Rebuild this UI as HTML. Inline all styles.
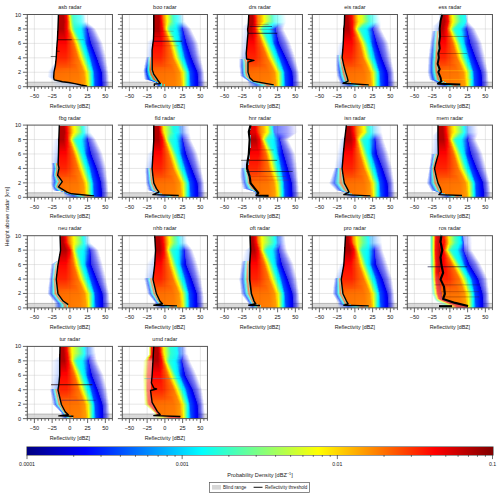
<!DOCTYPE html><html><head><meta charset="utf-8"><style>
html,body{margin:0;padding:0;background:#fff;}
#w{position:relative;width:500px;height:498px;overflow:hidden;background:#fff;font-family:"Liberation Sans",sans-serif;}
svg{position:absolute;left:0;top:0;}
.p{position:absolute;}.p i{display:block;height:1px;background:linear-gradient(90deg,var(--g))}
</style></head><body><div id="w">
<svg width="500" height="498" viewBox="0 0 500 498">
<path d="M34.40 14.50v72.20M52.14 14.50v72.20M69.88 14.50v72.20M87.61 14.50v72.20M105.35 14.50v72.20M27.30 72.26h85.15M27.30 57.82h85.15M27.30 43.38h85.15M27.30 28.94h85.15" stroke="#e6e6e6" stroke-width="0.6" fill="none"/>
<rect x="27.30" y="82.22" width="85.15" height="4.48" fill="#dadada"/>
<path d="M27.30 82.22h85.15" stroke="#aaa" stroke-width="0.8"/>
<path d="M129.40 14.50v72.20M147.14 14.50v72.20M164.88 14.50v72.20M182.61 14.50v72.20M200.35 14.50v72.20M122.30 72.26h85.15M122.30 57.82h85.15M122.30 43.38h85.15M122.30 28.94h85.15" stroke="#e6e6e6" stroke-width="0.6" fill="none"/>
<rect x="122.30" y="82.22" width="85.15" height="4.48" fill="#dadada"/>
<path d="M122.30 82.22h85.15" stroke="#aaa" stroke-width="0.8"/>
<path d="M224.40 14.50v72.20M242.14 14.50v72.20M259.88 14.50v72.20M277.61 14.50v72.20M295.35 14.50v72.20M217.30 72.26h85.15M217.30 57.82h85.15M217.30 43.38h85.15M217.30 28.94h85.15" stroke="#e6e6e6" stroke-width="0.6" fill="none"/>
<rect x="217.30" y="82.22" width="85.15" height="4.48" fill="#dadada"/>
<path d="M217.30 82.22h85.15" stroke="#aaa" stroke-width="0.8"/>
<path d="M319.40 14.50v72.20M337.14 14.50v72.20M354.88 14.50v72.20M372.61 14.50v72.20M390.35 14.50v72.20M312.30 72.26h85.15M312.30 57.82h85.15M312.30 43.38h85.15M312.30 28.94h85.15" stroke="#e6e6e6" stroke-width="0.6" fill="none"/>
<rect x="312.30" y="82.22" width="85.15" height="4.48" fill="#dadada"/>
<path d="M312.30 82.22h85.15" stroke="#aaa" stroke-width="0.8"/>
<path d="M414.40 14.50v72.20M432.14 14.50v72.20M449.88 14.50v72.20M467.61 14.50v72.20M485.35 14.50v72.20M407.30 72.26h85.15M407.30 57.82h85.15M407.30 43.38h85.15M407.30 28.94h85.15" stroke="#e6e6e6" stroke-width="0.6" fill="none"/>
<rect x="407.30" y="82.22" width="85.15" height="4.48" fill="#dadada"/>
<path d="M407.30 82.22h85.15" stroke="#aaa" stroke-width="0.8"/>
<path d="M34.40 125.10v72.20M52.14 125.10v72.20M69.88 125.10v72.20M87.61 125.10v72.20M105.35 125.10v72.20M27.30 182.86h85.15M27.30 168.42h85.15M27.30 153.98h85.15M27.30 139.54h85.15" stroke="#e6e6e6" stroke-width="0.6" fill="none"/>
<rect x="27.30" y="192.82" width="85.15" height="4.48" fill="#dadada"/>
<path d="M27.30 192.82h85.15" stroke="#aaa" stroke-width="0.8"/>
<path d="M129.40 125.10v72.20M147.14 125.10v72.20M164.88 125.10v72.20M182.61 125.10v72.20M200.35 125.10v72.20M122.30 182.86h85.15M122.30 168.42h85.15M122.30 153.98h85.15M122.30 139.54h85.15" stroke="#e6e6e6" stroke-width="0.6" fill="none"/>
<rect x="122.30" y="192.82" width="85.15" height="4.48" fill="#dadada"/>
<path d="M122.30 192.82h85.15" stroke="#aaa" stroke-width="0.8"/>
<path d="M224.40 125.10v72.20M242.14 125.10v72.20M259.88 125.10v72.20M277.61 125.10v72.20M295.35 125.10v72.20M217.30 182.86h85.15M217.30 168.42h85.15M217.30 153.98h85.15M217.30 139.54h85.15" stroke="#e6e6e6" stroke-width="0.6" fill="none"/>
<rect x="217.30" y="192.82" width="85.15" height="4.48" fill="#dadada"/>
<path d="M217.30 192.82h85.15" stroke="#aaa" stroke-width="0.8"/>
<path d="M319.40 125.10v72.20M337.14 125.10v72.20M354.88 125.10v72.20M372.61 125.10v72.20M390.35 125.10v72.20M312.30 182.86h85.15M312.30 168.42h85.15M312.30 153.98h85.15M312.30 139.54h85.15" stroke="#e6e6e6" stroke-width="0.6" fill="none"/>
<rect x="312.30" y="192.82" width="85.15" height="4.48" fill="#dadada"/>
<path d="M312.30 192.82h85.15" stroke="#aaa" stroke-width="0.8"/>
<path d="M414.40 125.10v72.20M432.14 125.10v72.20M449.88 125.10v72.20M467.61 125.10v72.20M485.35 125.10v72.20M407.30 182.86h85.15M407.30 168.42h85.15M407.30 153.98h85.15M407.30 139.54h85.15" stroke="#e6e6e6" stroke-width="0.6" fill="none"/>
<rect x="407.30" y="192.82" width="85.15" height="4.48" fill="#dadada"/>
<path d="M407.30 192.82h85.15" stroke="#aaa" stroke-width="0.8"/>
<path d="M34.40 235.70v72.20M52.14 235.70v72.20M69.88 235.70v72.20M87.61 235.70v72.20M105.35 235.70v72.20M27.30 293.46h85.15M27.30 279.02h85.15M27.30 264.58h85.15M27.30 250.14h85.15" stroke="#e6e6e6" stroke-width="0.6" fill="none"/>
<rect x="27.30" y="303.42" width="85.15" height="4.48" fill="#dadada"/>
<path d="M27.30 303.42h85.15" stroke="#aaa" stroke-width="0.8"/>
<path d="M129.40 235.70v72.20M147.14 235.70v72.20M164.88 235.70v72.20M182.61 235.70v72.20M200.35 235.70v72.20M122.30 293.46h85.15M122.30 279.02h85.15M122.30 264.58h85.15M122.30 250.14h85.15" stroke="#e6e6e6" stroke-width="0.6" fill="none"/>
<rect x="122.30" y="303.42" width="85.15" height="4.48" fill="#dadada"/>
<path d="M122.30 303.42h85.15" stroke="#aaa" stroke-width="0.8"/>
<path d="M224.40 235.70v72.20M242.14 235.70v72.20M259.88 235.70v72.20M277.61 235.70v72.20M295.35 235.70v72.20M217.30 293.46h85.15M217.30 279.02h85.15M217.30 264.58h85.15M217.30 250.14h85.15" stroke="#e6e6e6" stroke-width="0.6" fill="none"/>
<rect x="217.30" y="303.42" width="85.15" height="4.48" fill="#dadada"/>
<path d="M217.30 303.42h85.15" stroke="#aaa" stroke-width="0.8"/>
<path d="M319.40 235.70v72.20M337.14 235.70v72.20M354.88 235.70v72.20M372.61 235.70v72.20M390.35 235.70v72.20M312.30 293.46h85.15M312.30 279.02h85.15M312.30 264.58h85.15M312.30 250.14h85.15" stroke="#e6e6e6" stroke-width="0.6" fill="none"/>
<rect x="312.30" y="303.42" width="85.15" height="4.48" fill="#dadada"/>
<path d="M312.30 303.42h85.15" stroke="#aaa" stroke-width="0.8"/>
<path d="M414.40 235.70v72.20M432.14 235.70v72.20M449.88 235.70v72.20M467.61 235.70v72.20M485.35 235.70v72.20M407.30 293.46h85.15M407.30 279.02h85.15M407.30 264.58h85.15M407.30 250.14h85.15" stroke="#e6e6e6" stroke-width="0.6" fill="none"/>
<rect x="407.30" y="303.42" width="85.15" height="4.48" fill="#dadada"/>
<path d="M407.30 303.42h85.15" stroke="#aaa" stroke-width="0.8"/>
<path d="M34.40 346.40v72.20M52.14 346.40v72.20M69.88 346.40v72.20M87.61 346.40v72.20M105.35 346.40v72.20M27.30 404.16h85.15M27.30 389.72h85.15M27.30 375.28h85.15M27.30 360.84h85.15" stroke="#e6e6e6" stroke-width="0.6" fill="none"/>
<rect x="27.30" y="414.12" width="85.15" height="4.48" fill="#dadada"/>
<path d="M27.30 414.12h85.15" stroke="#aaa" stroke-width="0.8"/>
<path d="M129.40 346.40v72.20M147.14 346.40v72.20M164.88 346.40v72.20M182.61 346.40v72.20M200.35 346.40v72.20M122.30 404.16h85.15M122.30 389.72h85.15M122.30 375.28h85.15M122.30 360.84h85.15" stroke="#e6e6e6" stroke-width="0.6" fill="none"/>
<rect x="122.30" y="414.12" width="85.15" height="4.48" fill="#dadada"/>
<path d="M122.30 414.12h85.15" stroke="#aaa" stroke-width="0.8"/>
</svg>
<div class="p" style="left:27.30px;top:15px;width:85.15px">
<i style="--g:#0000 31px,#b30000 0,#b30000 36.3px,#ff0500 39.5px,#ff8000 41.3px,#ffff00 42.6px,#80ff80 44.4px,#2effd1e0 46.2px,#05fffa99 53.3px,#00f0ff59 56px,#00e5ff26 57.6px,#00b2ff14 58px,#0000 59.7px"></i>
<i style="--g:#0000 31px,#b30000 0,#b30000 36.4px,#ff0500 39.6px,#ff8000 41.4px,#ffff00 42.7px,#80ff80 44.5px,#2effd1e0 46.3px,#05fffa99 53.4px,#00f0ff59 56.3px,#00e5ff26 57.7px,#00b2ff14 58px,#0000 60px"></i>
<i style="--g:#0000 31px,#b30000 0,#b30000 36.5px,#ff0500 39.7px,#ff8000 41.5px,#ffff00 43px,#80ff80 44.6px,#2effd1e0 46.4px,#05fffa99 53.5px,#00f0ff59 56.4px,#00e5ff26 57.8px,#00b2ff14 58px,#0000 60px"></i>
<i style="--g:#0000 31px,#b30000 0,#b30000 36.6px,#ff0500 39.8px,#ff8000 41.5px,#ffff00 43px,#80ff80 44.7px,#2effd1e0 46.5px,#05fffa99 53.6px,#00f0ff59 56.5px,#00e5ff26 58px,#00b2ff14 58.2px,#0000 60px"></i>
<i style="--g:#0000 31px,#b30000 0,#b30000 36.7px,#ff0500 40px,#ff8000 41.6px,#ffff00 43px,#80ff80 45px,#2effd1e0 46.6px,#05fffa99 53.7px,#00f0ff59 56.5px,#00e5ff26 58px,#00b2ff14 58.3px,#0000 60px"></i>
<i style="--g:#0000 31px,#b30000 0,#b30000 36.8px,#ff0500 40px,#ff8000 41.7px,#ffff00 43px,#80ff80 45px,#2effd1e0 46.7px,#05fffa99 54px,#00f0ff59 56.6px,#00e5ff26 58px,#00b2ff14 58.4px,#0000 60px"></i>
<i style="--g:#0000 31px,#b30000 0,#b30000 37px,#ff0500 40px,#ff8000 42px,#ffff00 43.2px,#80ff80 45px,#2effd1e0 47px,#05fffa99 54px,#00f0ff59 56.7px,#00e5ff26 58px,#00b2ff14 58.5px,#0000 60.3px"></i>
<i style="--g:#0000 31px,#b30000 0,#b30000 37px,#ff0500 40px,#ff8000 42px,#ffff00 43.3px,#80ff80 45px,#2effd1e4 47px,#03fffca3 54px,#00ccff3b 58.4px,#009cff25 58.8px,#0000 61.2px"></i>
<i style="--g:#0000 31px,#b30000 0,#b30000 36.7px,#ff0500 40px,#ff8000 42px,#ffff00 43.4px,#80ff80 45.3px,#2effd1e8 47px,#00ffffaf 54px,#00ffffaf 0,#00acff55 58.7px,#0080ff3b 59px,#0000 62.4px"></i>
<i style="--g:#0000 31px,#b30000 0,#b30000 36.6px,#ff0500 40px,#ff8000 42px,#ffff00 43.5px,#80ff80 45.4px,#2effd1ec 47.2px,#00fcffbb 54px,#00c4ff8f 57px,#008bff70 59px,#0064ff51 59.4px,#0000 63.6px"></i>
<i style="--g:#0000 30.8px,#b30000 0,#b30000 36.5px,#ff0500 40px,#ff8000 42px,#ffff00 43.6px,#80ff80 45.5px,#2effd1f0 47.4px,#00f9ffc8 54px,#00b5ffa3 57px,#006bff8a 59.3px,#0048ff67 59.7px,#0000 64.8px"></i>
<i style="--g:#0000 30.7px,#b30000 0,#b30000 36.4px,#ff0500 40px,#ff8000 42px,#ffff00 43.7px,#80ff80 45.7px,#2effd1f5 47.5px,#00f7ffd4 54px,#00a5ffb6 57.2px,#004affa5 59.6px,#002bff7d 60px,#002bff47 62.8px,#0000 66px"></i>
<i style="--g:#0000 30.7px,#b30000 0,#b30000 36.3px,#ff0500 40px,#ff8000 42px,#ffff00 44px,#80ff80 45.8px,#2effd1f9 47.7px,#00f4ffe0 54.2px,#0096ffca 57.3px,#002affbf 60px,#000fff93 60.4px,#000fff54 63.5px,#0000 67px"></i>
<i style="--g:#0000 30.7px,#b30000 0,#b30000 36.2px,#ff0500 40px,#ff8000 42px,#ffff00 44px,#80ff80 46px,#2effd1fd 48px,#00fffff1 52.8px,#00f1ffed 54.3px,#0086ffdd 57.4px,#0009ffda 60px,#0000f2a9 60.7px,#0000f260 64.2px,#0000 68.3px"></i>
<i style="--g:#0000 30.6px,#b60000 0,#b60000 36.3px,#ff0700 40px,#ff7f00 42.4px,#ffff00 44.2px,#80ff80 46.2px,#2dffd2 48px,#00fffff6 52.7px,#00effff3 54.4px,#007effe6 57.6px,#0000f9e6 60.5px,#0000e6b3 61px,#0000e667 64.8px,#0000 69px"></i>
<i style="--g:#0000 30.6px,#bb0000 0,#bb0000 36.5px,#ff0b00 40.4px,#ff7d00 42.7px,#ffff00 44.6px,#80ff80 46.7px,#2cffd3 48.6px,#00fffff7 53px,#00ecfff4 54.7px,#0000f8e8 60.7px,#0000e6b5 61px,#0000e669 65px,#0000 69.6px"></i>
<i style="--g:#0000 30.5px,#c10000 0,#c10000 36.7px,#ff0000 40px,#ff0e00 40.5px,#ff7c00 43px,#ffff00 45px,#80ff80 47px,#2affd5 49px,#00fffff8 53px,#00eafff5 55px,#0000f6ea 61px,#0000e6b7 61.4px,#0000e66b 65.6px,#0000 70px"></i>
<i style="--g:#0000 30.5px,#c70000 0,#c70000 37px,#ff0000 39.8px,#ff1200 40.7px,#ff7a00 43.3px,#ffff00 45.5px,#80ff80 47.6px,#29ffd6 49.6px,#00fffff9 53px,#00e8fff5 55px,#0000f5ec 61px,#0000e6b9 61.7px,#0000e66c 66px,#0000 70.6px"></i>
<i style="--g:#0000 30.4px,#cc0000 0,#cc0000 37px,#ff0000 39.8px,#ff1500 41px,#ff7900 43.6px,#ffff00 46px,#80ff80 48px,#27ffd8 50px,#00fffffa 53.3px,#00e6fff6 55.4px,#0000ffee 61px,#0000f3ee 61.4px,#0000e6bb 62px,#0000e66e 66.4px,#0000 71px"></i>
<i style="--g:#0000 30.4px,#d20000 0,#d20000 37.3px,#ff0000 39.7px,#ff1900 41px,#ff7800 44px,#ffff00 46.3px,#80ff80 48.5px,#26ffd9 50.5px,#00fffffa 53.5px,#00e4fff7 55.6px,#006cffef 58.3px,#0000ffef 61.3px,#0000f2ef 61.7px,#0000e6bc 62px,#0000e670 66.8px,#0000 71.6px"></i>
<i style="--g:#0000 30.3px,#d80000 0,#d80000 37.5px,#ff0000 39.7px,#ff1c00 41.2px,#ff7600 44px,#ffff00 46.7px,#80ff80 49px,#25ffda 51px,#00fffffb 53.7px,#00e2fff8 56px,#0068fff1 58.4px,#0000fff1 61.5px,#0000f1f1 62px,#0000e6be 62.4px,#0000e672 67px,#0000 72px"></i>
<i style="--g:#0000 30.3px,#dd0000 0,#dd0000 37.7px,#ff0000 39.6px,#ff2000 41.4px,#ff7500 44.4px,#ffff00 47px,#80ff80 49.4px,#23ffdc 51.4px,#00fffffc 54px,#00e0fff9 56px,#0065fff3 58.6px,#0000fff3 61.7px,#0000eff3 62px,#0000e6c0 62.7px,#0000e673 67.5px,#0000 72.5px"></i>
<i style="--g:#0000 30.2px,#e30000 0,#e30000 38px,#ff0000 39.5px,#ff7300 44.7px,#ffff00 47.5px,#22ffdd 52px,#00fffffc 54px,#00defffa 56.4px,#0061fff5 58.7px,#0000fff5 62px,#0000eef5 62.4px,#0000e6c2 63px,#0000e675 68px,#0000 73px"></i>
<i style="--g:#0000 30px,#e90000 0,#e90000 38px,#ff0000 39.4px,#ff7200 45px,#ffff00 48px,#20ffdf 52.4px,#00fffffd 54.4px,#00dbfffb 56.6px,#005efff6 59px,#0000fff6 62px,#0000ecf6 62.7px,#0000e6c3 63px,#0000e677 68.3px,#0000 73.5px"></i>
<i style="--g:#0000 30px,#ee0000 0,#ee0000 38.3px,#ff0000 39.3px,#ff7100 45.3px,#ffff00 48.3px,#1fffe0 53px,#00fffffd 54.7px,#00d9fffc 57px,#005afff8 59px,#0000fff8 62.2px,#0000ebf8 63px,#0000e6c5 63.4px,#0000e679 68.7px,#0000 74px"></i>
<i style="--g:#0000 30px,#f40000 0,#f40000 38.5px,#ff0000 39px,#ff6f00 45.6px,#ffff00 48.7px,#1effe1 53.3px,#00fffffe 55px,#00d7fffc 57px,#0057fffa 59px,#0000fffa 62.4px,#0000eafa 63px,#0000e6c7 63.7px,#0000e67a 69px,#0000 74.5px"></i>
<i style="--g:#0000 30px,#f90000 0,#ff0000 39px,#ff6e00 46px,#ffff00 49px,#1cffe3 53.8px,#00fffffe 55.2px,#00d5fffd 57.4px,#0053fffc 59.3px,#0000fffc 62.5px,#0000e8fc 63.4px,#0000e6c9 64px,#0000e67c 69.5px,#0000 75px"></i>
<i style="--g:#0000 30px,#ff0000 0,#ff0000 39px,#ff6c00 46.2px,#ffff00 49.5px,#1bffe4 54.2px,#00ffff 55.5px,#00d3fffe 57.6px,#0050fffd 59.5px,#0000fffd 62.7px,#0000e7fd 63.6px,#0000e6ca 64px,#0000e67e 70px,#0000 75.5px"></i>
<i style="--g:#0000 29.8px,#ff0500 0,#ff0500 39px,#ff6b00 46.5px,#ffff00 50px,#1affe5 54.7px,#00ffff 56px,#00d1ff 58px,#004dff 59.6px,#0000ff 63px,#0000e6 64px,#0000e6cc 64.4px,#0000e680 70.3px,#0000 76px"></i>
<i style="--g:#0000 29.7px,#ff0700 0,#ff0700 39px,#ff6c00 47px,#ffff00 50.3px,#1affe5 55px,#00ffff 56px,#00d1ff 58px,#004dff 60px,#0000ff 63.2px,#0000e6 64.3px,#0000e6cc 64.8px,#0000e680 70.6px,#0000 76.2px"></i>
<i style="--g:#0000 29.6px,#ff0a00 0,#ff0a00 39px,#ff6d00 47px,#ffff00 50.6px,#1affe5 55.3px,#00ffff 56.4px,#00d1ff 58.5px,#004dff 60.2px,#0000ff 63.6px,#0000e6 64.7px,#0000e6cc 65px,#0000e680 71px,#0000 76.4px"></i>
<i style="--g:#0000 29.6px,#ff0c00 0,#ff0c00 39px,#ff6d00 47.4px,#ffff00 51px,#1affe5 55.6px,#00ffff 56.8px,#00d1ff 58.8px,#004dff 60.5px,#0000ff 64px,#0000e6 65px,#0000e6cc 65.6px,#0000e680 71px,#0000 76.7px"></i>
<i style="--g:#0000 29.5px,#ff0e00 0,#ff0e00 39px,#ff6e00 47.7px,#ffff00 51.2px,#1affe5 56px,#00ffff 57px,#00d1ff 59px,#004dff 61px,#0000ff 64.3px,#0000e6 65.5px,#0000e6cc 66px,#0000e680 71.5px,#0000 77px"></i>
<i style="--g:#0000 29.4px,#ff1000 0,#ff1000 39px,#ff6f00 48px,#ffff00 51.5px,#1affe5 56.3px,#00ffff 57.4px,#00d1ff 59.3px,#004dff 61px,#0000ff 64.7px,#0000e6 66px,#0000e6cc 66.4px,#0000e680 71.8px,#0000 77px"></i>
<i style="--g:#0000 29.4px,#ff1200 0,#ff1200 39px,#ff6f00 48.3px,#ffff00 52px,#1affe5 56.6px,#00ffff 57.7px,#00d1ff 59.6px,#004dff 61.4px,#0000ff 65px,#0000e6 66.3px,#0000e6cc 66.8px,#0000e680 72px,#0000 77.4px"></i>
<i style="--g:#0000 29.3px,#ff1400 0,#ff1400 39px,#ff7000 48.6px,#ffff00 52px,#1affe5 57px,#00ffff 58px,#00d1ff 60px,#004dff 61.7px,#0000ff 65.4px,#0000e6 66.7px,#0000e6cc 67px,#0000e680 72.3px,#0000 77.7px"></i>
<i style="--g:#0000 29.3px,#ff1600 0,#ff1600 39px,#ff7100 49px,#ffff00 52.5px,#1affe5 57.3px,#00ffff 58.3px,#00d1ff 60.2px,#004dff 62px,#0000ff 65.8px,#0000e6 67px,#0000e6cc 67.6px,#0000e680 72.6px,#0000 78px"></i>
<i style="--g:#0000 29.2px,#ff1800 0,#ff1800 39px,#ff7200 49px,#ffff00 53px,#1affe5 57.6px,#00ffff 58.6px,#00d1ff 60.5px,#004dff 62.3px,#0000ff 66px,#0000e6 67.4px,#0000e6cc 68px,#0000e680 73px,#0000 78px"></i>
<i style="--g:#0000 29px,#ff1b00 0,#ff1b00 39px,#ff7200 49.5px,#ffff00 53px,#1affe5 58px,#00ffff 59px,#00d1ff 61px,#004dff 62.6px,#0000ff 66.5px,#0000e6 68px,#0000e6cc 68.3px,#0000e680 73.2px,#0000 78.4px"></i>
<i style="--g:#0000 29px,#ff1d00 0,#ff1d00 39px,#ff7300 49.8px,#ffff00 53.4px,#1affe5 58.2px,#00ffff 59.3px,#00d1ff 61px,#004dff 63px,#0000ff 67px,#0000e6 68.2px,#0000e6cc 68.7px,#0000e680 73.5px,#0000 78.7px"></i>
<i style="--g:#0000 29px,#ff1f00 0,#ff1f00 39px,#ff7400 50px,#ffff00 53.8px,#1affe5 58.6px,#00ffff 59.6px,#00d1ff 61.4px,#004dff 63px,#0000ff 67.3px,#0000e6 68.6px,#0000e6cc 69px,#0000e680 74px,#0000 79px"></i>
<i style="--g:#0000 29px,#ff2100 0,#ff2100 39px,#ff7400 50.3px,#ffff00 54px,#1affe5 59px,#00ffff 60px,#00d1ff 61.7px,#004dff 63.5px,#0000ff 67.6px,#0000e6 69px,#0000e6cc 69.5px,#0000e680 74px,#0000 79px"></i>
<i style="--g:#0000 29px,#ff2300 0,#ff2300 39px,#ff7500 50.6px,#ffff00 54.4px,#1affe5 59.2px,#00ffff 60.2px,#00d1ff 62px,#004dff 63.8px,#0000ff 68px,#0000e6 69.4px,#0000e6cc 70px,#0000e680 74.4px,#0000 79.4px"></i>
<i style="--g:#0000 29px,#ff2700 0,#ff2700 39px,#ff7700 51px,#ffff00 54.8px,#1affe5 59.6px,#00ffff 60.5px,#00d1ff 62.3px,#004dff 64px,#0000ff 68.3px,#0000e6 69.8px,#0000e6cc 70.3px,#0000e680 74.7px,#0000 79.6px"></i>
<i style="--g:#0000 28.7px,#ff2c00 0,#ff2c00 39px,#ff7900 51.4px,#ffff00 55px,#1affe5 60px,#00ffff 61px,#00d1ff 62.5px,#004dff 64.3px,#0000ff 68.7px,#0000e6 70px,#0000e6cc 70.6px,#0000e680 75px,#0000 79.7px"></i>
<i style="--g:#0000 28.6px,#ff3100 0,#ff3100 39px,#ff7b00 52px,#ffff00 55.5px,#1affe5 60.3px,#00ffff 61px,#00d1ff 63px,#004dff 64.5px,#0000ff 69px,#0000e6 70.5px,#0000e6cc 71px,#0000e680 75px,#0000 80px"></i>
<i style="--g:#0000 28.5px,#ff3600 0,#ff3600 39px,#ff7d00 52.3px,#ffff00 56px,#1affe5 60.7px,#00ffff 61.5px,#00d1ff 63px,#004dff 64.8px,#0000ff 69.3px,#0000e6 71px,#0000e6cc 71.3px,#0000e680 75.4px,#0000 80px"></i>
<i style="--g:#0000 28.4px,#ff3b00 0,#ff3b00 39px,#ff7f00 52.7px,#ffff00 56.3px,#80ff80 58.8px,#00ffff 62px,#00d1ff 63.4px,#004dff 65px,#0000ff 69.6px,#0000e6 71px,#0000e6cc 71.6px,#0000e680 75.7px,#0000 80px"></i>
<i style="--g:#0000 28px,#0000 0,#004dff2d 28.3px,#ff4000 0,#ff4000 39px,#ff8100 53px,#ffff00 56.7px,#80ff80 59px,#00ffff 62px,#00d1ff 63.6px,#004dff 65.3px,#0000ff 70px,#0000e6 71.5px,#0000e6cc 72px,#0000e680 76px,#0000 80.3px"></i>
<i style="--g:#0000 26.7px,#0000 0,#004dff3c 28px,#ff4500 0,#ff4500 39px,#ff5f00 47.7px,#ff8300 53.5px,#ffff00 57px,#80ff80 59.5px,#00ffff 62.5px,#00d1ff 64px,#004dff 65.5px,#0000ff 70.3px,#0000e6 72px,#0000e6cc 72.3px,#0000e680 76px,#0000 80.5px"></i>
<i style="--g:#0000 25.6px,#0000 0,#004dff4b 28px,#ff4a00 0,#ff4a00 39px,#ff6200 48px,#ff8600 54px,#ffff00 57.5px,#80ff80 60px,#00ffff 63px,#00d1ff 64px,#004dff 65.7px,#0000ff 70.6px,#0000e6 72px,#0000e6cc 72.7px,#0000e680 76.4px,#0000 80.6px"></i>
<i style="--g:#0000 24.7px,#0000 0,#004dff4d 28px,#ff4f00 0,#ff4f00 39px,#ff6500 48.5px,#ff8800 54.4px,#ffff00 58px,#80ff80 60.3px,#00ffff 63px,#00d1ff 64.4px,#004dff 66px,#0000ff 71px,#0000e6 72.5px,#0000e6cc 73px,#0000e680 76.6px,#0000 80.8px"></i>
<i style="--g:#0000 24px,#0000 0,#004dff4f 27.7px,#ff5400 0,#ff5400 39px,#ff6800 49px,#ff8a00 54.8px,#ffff00 58.3px,#80ff80 60.6px,#00ffff 63.5px,#00d1ff 64.7px,#004dff 66.2px,#0000ff 71.2px,#0000e6 73px,#0000e6cc 73.4px,#0000e680 77px,#0000 81px"></i>
<i style="--g:#0000 23px,#0000 0,#004dff50 27.5px,#ff5900 0,#ff6b00 49.4px,#ff8c00 55px,#ffff00 58.7px,#80ff80 61px,#00ffff 64px,#00d1ff 65px,#004dff 66.5px,#0000ff 71.5px,#0000e6 73.2px,#0000e6cc 73.7px,#0000e680 77px,#0000 81px"></i>
<i style="--g:#0000 22.3px,#0000 0,#004dff51 27.3px,#ff5d00 0,#ff6e00 50px,#ff8e00 55.6px,#ffff00 59px,#80ff80 61.4px,#00ffff 64px,#00d1ff 65.2px,#004dff 66.7px,#0000ff 72px,#0000e6 73.6px,#0000e6cc 74px,#0000e680 77.4px,#0000 81px"></i>
<i style="--g:#0000 21.4px,#0000 0,#004dff52 27px,#ff6200 0,#ff7000 50.3px,#ff9000 56px,#ffff00 59.5px,#80ff80 61.8px,#00ffff 64.5px,#00d1ff 65.5px,#004dff 67px,#0000ff 72px,#0000e6 74px,#0000e6cc 74.4px,#0000e680 77.6px,#0000 81.3px"></i>
<i style="--g:#0000 21px,#0000 0,#004dff53 27px,#ff6700 0,#ff7300 50.8px,#ff9200 56.4px,#ffff00 60px,#00ffff 65px,#00d1ff 65.8px,#004dff 67.2px,#0000ff 72.5px,#0000e6 74.2px,#0000e6cc 74.7px,#0000e680 78px,#0000 81.5px"></i>
<i style="--g:#0000 21px,#0000 0,#004dff54 26.7px,#ff6b00 0,#ff7600 51px,#ff9400 56.8px,#ffff00 60px,#00ffff 65px,#00d1ff 66px,#004dff 67.4px,#0000ff 72.7px,#0000e6 74.5px,#0000e6cc 75px,#0000e680 78px,#0000 81.6px"></i>
<i style="--g:#0000 21px,#0000 0,#004dff55 26.6px,#ff6c00 0,#ff7600 51.3px,#ff9500 57px,#ffff00 60.2px,#00ffff 65px,#00d1ff 66px,#004dff 67.5px,#0000ff 73px,#0000e6 74.6px,#0000e6cc 75px,#0000e680 78px,#0000 81.7px"></i>
<i style="--g:#0000 20.7px,#0000 0,#004dff56 26.6px,#ff6d00 0,#ff7700 51.4px,#ff9600 57px,#ffff00 60.3px,#00ffff 65px,#00d1ff 66px,#004dff 67.6px,#0000ff 73px,#0000e6 74.7px,#0000e6cc 75px,#0000e680 78.2px,#0000 81.7px"></i>
<i style="--g:#0000 20.5px,#0000 0,#004dff57 26.5px,#ff6e00 0,#ff7800 51.5px,#ff9700 57px,#ffff00 60.4px,#00ffff 65px,#00d1ff 66px,#004dff 67.6px,#0000ff 73px,#0000e6 74.7px,#0000e6cc 75.2px,#0000e680 78.3px,#0000 82px"></i>
<i style="--g:#0000 20.4px,#0000 0,#004dff58 26.4px,#ff6f00 0,#ff7900 51.6px,#ff9800 57.3px,#ffff00 60.4px,#00ffff 65.2px,#00d1ff 66px,#004dff 67.7px,#0000ff 73px,#0000e6 74.8px,#0000e6cc 75.3px,#0000e680 78.3px,#0000 82px"></i>
<i style="--g:#0000 21.4px,#0000 0,#004dff59 26.4px,#ff7000 0,#ff7a00 51.8px,#ff9900 57.5px,#ffff00 60.5px,#00ffff 65.3px,#00d1ff 66px,#004dff 67.8px,#0000ff 73px,#0000e6 75px,#0000e6cc 75.3px,#0000e680 78.4px,#0000 82px"></i>
<i style="--g:#0000 23px,#0000 0,#004dff4c 26.6px,#ff7100 0,#ff7b00 52px,#ff9a00 57.6px,#ffff00 60.6px,#00ffff 65.3px,#00d1ff 66px,#004dff 68px,#0000ff 73px,#0000e6 75px,#0000e6cc 75.4px,#0000e680 78.5px,#0000 82px"></i>
<i style="--g:#0000 24.4px,#0000 0,#004dff3e 26.8px,#ff7200 0,#ff7c00 52px,#ff9b00 57.7px,#ffff00 60.6px,#00ffff 65.3px,#00d1ff 66.2px,#004dff 68px,#0000ff 73.2px,#0000e6 75px,#0000e6cc 75.5px,#0000e680 78.5px,#0000 82px"></i>
<i style="--g:#0000 25.5px,#0000 0,#004dff33 29.6px,#ff7300 0,#ff7d00 52px,#ff9c00 58px,#ffff00 60.7px,#00ffff 65.3px,#00d1ff 66.3px,#004dff 68px,#0000ff 73.3px,#0000e6 75px,#0000e6cc 75.5px,#0000e680 78.6px,#0000 82px"></i>
<i style="--g:#0000 25.5px,#0000 0,#004dff33 34px,#ff7400 0,#ff7e00 52.3px,#ff9d00 58px,#ffff00 60.8px,#00ffff 65.4px,#00d1ff 66.3px,#004dff 68px,#0000ff 73.3px,#0000e6 75px,#0000e6cc 75.6px,#0000e680 78.7px,#0000 82.2px"></i>
<i style="--g:#0000 25.5px,#0000 0,#004dff33 41.6px,#ff7700 0,#ff7f00 52.4px,#ff9e00 58px,#ffff00 61px,#00ffff 65.4px,#00d1ff 66.3px,#004dff 68px,#0000ff 73.4px,#0000e6 75px,#0000e6cc 75.7px,#0000e680 78.7px,#0000 82.3px"></i>
<i style="--g:#0000 25.5px,#0000 0,#004dff33 46.7px,#ff7b00 0,#ff8000 52.5px,#ff9e00 58px,#ffff00 61px,#00ffff 65.4px,#00d1ff 66.3px,#004dff 68px,#0000ff 73.4px,#0000e6 75.2px,#0000e6cc 75.7px,#0000e680 78.8px,#0000 82.3px"></i>
<i style="--g:#0000 25.5px,#0000 0,#004dff33 51.3px,#ff7f00 0,#ff9e00 58px,#ffff00 61px,#00ffff 65.4px,#00d1ff 66.3px,#004dff 68px,#0000ff 73.4px,#0000e6 75.2px,#0000e6cc 75.7px,#0000e680 78.8px,#0000 82.3px"></i>
<i style="--g:#0000 25.5px,#0000 0,#004dff33 56.5px,#ff9500 0,#ff9e00 58px,#ffff00 61px,#00ffff 65.4px,#00d1ff 66.3px,#004dff 68px,#0000ff 73.4px,#0000e6 75.2px,#0000e6cc 75.7px,#0000e680 78.8px,#0000 82.3px"></i>
<i style="--g:#0000 25.5px,#0000 0,#004dff33 60px,#ffdc00 0,#ffff00 61px,#00ffff 65.4px,#00d1ff 66.3px,#004dff 68px,#0000ff 73.4px,#0000e6 75.2px,#0000e6cc 75.7px,#0000e680 78.8px,#0000 82.3px"></i>
</div>
<div class="p" style="left:122.30px;top:15px;width:85.15px">
<i style="--g:#0000 31.5px,#b30000 0,#b30000 36.7px,#ff0000 39px,#ff8000 41.4px,#ffff00 45px,#80ff80 48.8px,#2effd1e6 51px,#00ffffab 55px,#00d1ff66 58.3px,#00b2ff26 60.4px,#0000 62.5px"></i>
<i style="--g:#0000 31.5px,#b30000 0,#b30000 37px,#ff0000 39px,#ff8000 41.5px,#ffff00 45px,#80ff80 49px,#2effd1e6 51.3px,#00ffffab 55.3px,#00d1ff66 58.4px,#00b2ff26 60.5px,#0000 62.6px"></i>
<i style="--g:#0000 31.5px,#b30000 0,#b30000 37px,#ff0000 39px,#ff8000 41.6px,#ffff00 45px,#80ff80 49px,#2effd1e6 51.4px,#00ffffab 55.4px,#00d1ff66 58.5px,#00b2ff26 60.6px,#0000 62.7px"></i>
<i style="--g:#0000 31.5px,#b30000 0,#b30000 37px,#ff0000 39px,#ff8000 41.7px,#ffff00 45px,#80ff80 49px,#2effd1e6 51.5px,#00ffffab 55.4px,#00d1ff66 58.6px,#00b2ff26 60.7px,#0000 63px"></i>
<i style="--g:#0000 31.5px,#b30000 0,#b30000 37px,#ff0000 39.2px,#ff8000 41.8px,#ffff00 45.2px,#80ff80 49px,#2effd1e6 51.6px,#00ffffab 55.5px,#00d1ff66 58.7px,#00b2ff26 61px,#0000 63px"></i>
<i style="--g:#0000 31.5px,#b30000 0,#b30000 37.2px,#ff0000 39.3px,#ff8000 42px,#ffff00 45.3px,#80ff80 49.3px,#2effd1e6 51.7px,#00ffffab 55.6px,#00d1ff66 58.8px,#00b2ff26 61px,#0000 63px"></i>
<i style="--g:#0000 31.5px,#b30000 0,#b30000 37.3px,#ff0000 39.4px,#ff8000 42px,#ffff00 45.4px,#80ff80 49.4px,#2effd1e6 51.8px,#00ffffab 55.7px,#00d1ff66 59px,#00b2ff26 61px,#0000 63px"></i>
<i style="--g:#0000 31.5px,#b30000 0,#b30000 37.2px,#ff0000 39.5px,#ff8000 42px,#ffff00 45.3px,#77ff88 49.3px,#27ffd8e7 52px,#00ffffc1 55px,#00baff74 59px,#009cff35 61px,#0000 64px"></i>
<i style="--g:#0000 31.5px,#b30000 0,#b30000 37px,#ff0000 39.6px,#ffff00 45px,#6bff94 49px,#00ffffd3 54.4px,#009cff85 59.3px,#0080ff49 61px,#0000 64.6px"></i>
<i style="--g:#0000 31.5px,#b30000 0,#b30000 37px,#ff0000 39.7px,#ffff00 45px,#60ff9f 49px,#00ffffdf 54px,#007fff97 59.6px,#0064ff5c 61px,#0000 65.5px"></i>
<i style="--g:#0000 31.5px,#b30000 0,#b30000 37px,#ff0500 40px,#ffff00 44.8px,#a6ff59 46.6px,#55ffaa 48.8px,#00ffffe7 54px,#00bfffcd 56.7px,#0061ffa9 60px,#0048ff70 61px,#0048ff3b 63.5px,#0000 66.3px"></i>
<i style="--g:#0000 31.5px,#b30000 0,#b30000 37px,#ff0500 40px,#ffff00 44.6px,#9bff64 46.5px,#49ffb6 48.6px,#00ffffec 54px,#00acffd4 57px,#0043ffba 60px,#002bff83 61px,#002bff48 64px,#0000 67px"></i>
<i style="--g:#0000 31.5px,#b30000 0,#b30000 36.7px,#ff0500 40.3px,#fffe00 44.5px,#ffff00 0,#90ff6f 46.4px,#3effc1 48.5px,#00fcfff0 54px,#009affdb 57.3px,#0026ffcc 60.3px,#000fff97 61px,#000fff54 64.3px,#0000 68px"></i>
<i style="--g:#0000 31.5px,#b30000 0,#b30000 36.6px,#ff0500 40.4px,#ff8000 42.5px,#ffff00 44.4px,#fcff03 0,#84ff7b 46.4px,#33ffcc 48.3px,#00f3fff1 54.5px,#0088ffe2 57.7px,#0008ffde 60.6px,#0000f2aa 61px,#0000f261 64.7px,#0000 69px"></i>
<i style="--g:#0000 31.5px,#b60000 0,#b60000 36.7px,#ff0700 40.5px,#ff7f00 42.7px,#ffff00 44.6px,#80ff80 46.6px,#2dffd2 48.5px,#00fffff6 53px,#00effff3 54.8px,#007effe6 58px,#0000f9e6 61px,#0000e6b3 61.3px,#0000e667 65px,#0000 69.5px"></i>
<i style="--g:#0000 31.5px,#bb0000 0,#bb0000 37px,#ff0b00 40.7px,#ff7d00 43px,#ffff00 45px,#80ff80 47px,#2cffd3 49px,#00fffff7 53.2px,#00ecfff4 55px,#0000f8e8 61px,#0000e6b5 61.6px,#0000e669 65.6px,#0000 70px"></i>
<i style="--g:#0000 31.4px,#c10000 0,#c10000 37px,#ff0000 40px,#ff0e00 41px,#ff7c00 43.4px,#ffff00 45.4px,#80ff80 47.5px,#2affd5 49.5px,#00fffff8 53.4px,#00eafff5 55.3px,#0000f6ea 61.3px,#0000e6b7 62px,#0000e66b 66px,#0000 70.5px"></i>
<i style="--g:#0000 31.4px,#c70000 0,#c70000 37.3px,#ff0000 40px,#ff1200 41px,#ff7a00 43.7px,#ffff00 46px,#80ff80 48px,#29ffd6 50px,#00fffff9 53.5px,#00e8fff5 55.5px,#0000f5ec 61.6px,#0000e6b9 62px,#0000e66c 66.4px,#0000 71px"></i>
<i style="--g:#0000 31.4px,#cc0000 0,#cc0000 37.5px,#ff0000 40px,#ff1500 41.3px,#ff7900 44px,#ffff00 46.3px,#80ff80 48.4px,#27ffd8 50.4px,#00fffffa 53.7px,#00e6fff6 56px,#0000ffee 61.5px,#0000f3ee 62px,#0000e6bb 62.3px,#0000e66e 66.8px,#0000 71.5px"></i>
<i style="--g:#0000 31.3px,#d20000 0,#d20000 37.7px,#ff0000 40px,#ff1900 41.5px,#ff7800 44.3px,#ffff00 46.7px,#80ff80 49px,#26ffd9 51px,#00fffffa 54px,#00e4fff7 56px,#006cffef 58.7px,#0000ffef 61.7px,#0000f2ef 62px,#0000e6bc 62.6px,#0000e670 67px,#0000 72px"></i>
<i style="--g:#0000 31.3px,#d80000 0,#d80000 38px,#ff0000 40px,#ff1c00 41.6px,#ff7600 44.6px,#ffff00 47px,#80ff80 49.4px,#25ffda 51.4px,#00fffffb 54px,#00e2fff8 56.3px,#0068fff1 59px,#0000fff1 62px,#0000f1f1 62.3px,#0000e6be 63px,#0000e672 67.6px,#0000 72.5px"></i>
<i style="--g:#0000 31.3px,#dd0000 0,#dd0000 38px,#ff0000 40px,#ff2000 42px,#ff7500 45px,#ffff00 47.5px,#80ff80 50px,#23ffdc 52px,#00fffffc 54.4px,#00e0fff9 56.6px,#0065fff3 59px,#0000fff3 62px,#0000eff3 62.6px,#0000e6c0 63px,#0000e673 68px,#0000 73px"></i>
<i style="--g:#0000 31.2px,#e30000 0,#e30000 38.3px,#ff0000 40px,#ff7300 45px,#ffff00 48px,#22ffdd 52.3px,#00fffffc 54.6px,#00defffa 57px,#0061fff5 59px,#0000fff5 62.3px,#0000eef5 63px,#0000e6c2 63.4px,#0000e675 68.4px,#0000 73.5px"></i>
<i style="--g:#0000 30.7px,#0000 0,#004dff27 31.2px,#e90000 0,#e90000 38.5px,#ff0000 40px,#ff7200 45.5px,#ffff00 48.4px,#20ffdf 53px,#00fffffd 55px,#00dbfffb 57px,#005efff6 59.3px,#0000fff6 62.5px,#0000ecf6 63px,#0000e6c3 63.6px,#0000e677 68.8px,#0000 74px"></i>
<i style="--g:#0000 28.7px,#0000 0,#004dff29 31px,#ee0000 0,#ee0000 38.7px,#ff0000 39.8px,#ff7100 45.8px,#ffff00 48.8px,#1fffe0 53.3px,#00fffffd 55px,#00d9fffc 57.3px,#005afff8 59.5px,#0000fff8 62.7px,#0000ebf8 63.4px,#0000e6c5 64px,#0000e679 69px,#0000 74.5px"></i>
<i style="--g:#0000 26.7px,#0000 0,#004dff2b 31px,#f40000 0,#f40000 39px,#ff0000 39.6px,#ff6f00 46px,#ffff00 49px,#1effe1 53.8px,#00fffffe 55.4px,#00d7fffc 57.6px,#0057fffa 59.6px,#0000fffa 63px,#0000eafa 63.6px,#0000e6c7 64px,#0000e67a 69.6px,#0000 75px"></i>
<i style="--g:#0000 24.7px,#0000 0,#004dff2d 31px,#f90000 0,#ff0000 39.5px,#ff6e00 46.4px,#ffff00 49.6px,#1cffe3 54.2px,#00fffffe 55.7px,#00d5fffd 58px,#0053fffc 60px,#0000fffc 63px,#0000e8fc 64px,#0000e6c9 64.4px,#0000e67c 70px,#0000 75.5px"></i>
<i style="--g:#0000 24.6px,#0000 0,#004dff2f 30.7px,#ff0000 0,#ff0000 39.3px,#ff6c00 46.7px,#ffff00 50px,#1bffe4 54.7px,#00ffff 56px,#00d3fffe 58px,#0050fffd 60px,#0000fffd 63px,#0000e7fd 64px,#0000e6ca 64.6px,#0000e67e 70.4px,#0000 76px"></i>
<i style="--g:#0000 24.5px,#0000 0,#004dff31 30.6px,#ff0500 0,#ff0500 39.5px,#ff6b00 47px,#ffff00 50.4px,#1affe5 55px,#00ffff 56.3px,#00d1ff 58.4px,#004dff 60px,#0000ff 63.3px,#0000e6 64.4px,#0000e6cc 65px,#0000e680 70.8px,#0000 76.4px"></i>
<i style="--g:#0000 24.5px,#0000 0,#004dff33 30.5px,#ff0700 0,#ff0700 39.5px,#ff6c00 47.2px,#ffff00 50.7px,#1affe5 55.4px,#00ffff 56.6px,#00d1ff 58.6px,#004dff 60.4px,#0000ff 63.6px,#0000e6 64.7px,#0000e6cc 65.2px,#0000e680 71px,#0000 76.6px"></i>
<i style="--g:#0000 24.4px,#0000 0,#004dff35 30.4px,#ff0a00 0,#ff0a00 39.4px,#ff6d00 47.5px,#ffff00 51px,#1affe5 55.7px,#00ffff 57px,#00d1ff 59px,#004dff 60.6px,#0000ff 64px,#0000e6 65px,#0000e6cc 65.6px,#0000e680 71.2px,#0000 77px"></i>
<i style="--g:#0000 24.4px,#0000 0,#004dff37 30.2px,#ff0c00 0,#ff0c00 39.3px,#ff6d00 47.7px,#ffff00 51.2px,#1affe5 56px,#00ffff 57px,#00d1ff 59px,#004dff 61px,#0000ff 64.3px,#0000e6 65.4px,#0000e6cc 66px,#0000e680 71.5px,#0000 77px"></i>
<i style="--g:#0000 24.3px,#0000 0,#004dff39 30px,#ff0e00 0,#ff0e00 39.3px,#ff6e00 48px,#ffff00 51.5px,#1affe5 56.2px,#00ffff 57.3px,#00d1ff 59.3px,#004dff 61px,#0000ff 64.6px,#0000e6 65.7px,#0000e6cc 66.2px,#0000e680 71.7px,#0000 77px"></i>
<i style="--g:#0000 24.3px,#0000 0,#004dff3b 30px,#ff1000 0,#ff1000 39.2px,#ff6f00 48px,#ffff00 51.7px,#1affe5 56.5px,#00ffff 57.6px,#00d1ff 59.5px,#004dff 61.3px,#0000ff 65px,#0000e6 66px,#0000e6cc 66.6px,#0000e680 72px,#0000 77.4px"></i>
<i style="--g:#0000 24px,#0000 0,#004dff3d 30px,#ff1200 0,#ff1200 39px,#ff6f00 48.4px,#ffff00 52px,#1affe5 56.8px,#00ffff 58px,#00d1ff 59.8px,#004dff 61.5px,#0000ff 65px,#0000e6 66.4px,#0000e6cc 67px,#0000e680 72px,#0000 77.6px"></i>
<i style="--g:#0000 24px,#0000 0,#004dff3f 29.8px,#ff1400 0,#ff1400 39px,#ff7000 48.7px,#ffff00 52.2px,#1affe5 57px,#00ffff 58px,#00d1ff 60px,#004dff 61.8px,#0000ff 65.5px,#0000e6 66.7px,#0000e6cc 67.2px,#0000e680 72.4px,#0000 77.8px"></i>
<i style="--g:#0000 24px,#0000 0,#004dff41 29.8px,#ff1600 0,#ff1600 39px,#ff7100 49px,#ffff00 52.5px,#1affe5 57.3px,#00ffff 58.3px,#00d1ff 60.2px,#004dff 62px,#0000ff 66px,#0000e6 67px,#0000e6cc 67.6px,#0000e680 72.7px,#0000 78px"></i>
<i style="--g:#0000 24px,#0000 0,#004dff43 29.8px,#ff1800 0,#ff1800 39px,#ff7200 49px,#ffff00 52.8px,#1affe5 57.6px,#00ffff 58.6px,#00d1ff 60.5px,#004dff 62.3px,#0000ff 66px,#0000e6 67.4px,#0000e6cc 68px,#0000e680 73px,#0000 78px"></i>
<i style="--g:#0000 24px,#0000 0,#004dff45 29.8px,#ff1b00 0,#ff1b00 39px,#ff7200 49.4px,#ffff00 53px,#1affe5 58px,#00ffff 59px,#00d1ff 60.7px,#004dff 62.5px,#0000ff 66.4px,#0000e6 67.7px,#0000e6cc 68.2px,#0000e680 73px,#0000 78.3px"></i>
<i style="--g:#0000 24px,#0000 0,#004dff47 29.8px,#ff1d00 0,#ff1d00 39px,#ff7300 49.6px,#ffff00 53.3px,#1affe5 58px,#00ffff 59px,#00d1ff 61px,#004dff 62.7px,#0000ff 66.7px,#0000e6 68px,#0000e6cc 68.6px,#0000e680 73.4px,#0000 78.5px"></i>
<i style="--g:#0000 24px,#0000 0,#004dff49 29.8px,#ff1f00 0,#ff1f00 39px,#ff7400 50px,#ffff00 53.5px,#1affe5 58.4px,#00ffff 59.4px,#00d1ff 61px,#004dff 63px,#0000ff 67px,#0000e6 68.4px,#0000e6cc 69px,#0000e680 73.6px,#0000 78.7px"></i>
<i style="--g:#0000 24px,#0000 0,#004dff4b 29.8px,#ff2100 0,#ff2100 38.8px,#ff7400 50px,#ffff00 54px,#1affe5 58.6px,#00ffff 59.6px,#00d1ff 61.4px,#004dff 63px,#0000ff 67.4px,#0000e6 68.7px,#0000e6cc 69.2px,#0000e680 74px,#0000 79px"></i>
<i style="--g:#0000 23.7px,#0000 0,#0038ff6d 26px,#1affe56d 27.4px,#ff4c006d 28.6px,#2effd16d 29.8px,#ff2300 0,#ff2300 38.7px,#ff7500 50.3px,#ffff00 54px,#1affe5 59px,#00ffff 60px,#00d1ff 61.7px,#004dff 63.4px,#0000ff 67.7px,#0000e6 69px,#0000e6cc 69.6px,#0000e680 74px,#0000 79px"></i>
<i style="--g:#0000 23.5px,#0000 0,#0038ff78 25.7px,#1affe578 27.3px,#ff4c0078 28.5px,#2effd178 30px,#ff2700 0,#ff2700 38.7px,#ff7700 50.7px,#ffff00 54.5px,#1affe5 59.3px,#00ffff 60.2px,#00d1ff 62px,#004dff 63.7px,#0000ff 68px,#0000e6 69.5px,#0000e6cc 70px,#0000e680 74.4px,#0000 79.3px"></i>
<i style="--g:#0000 23.3px,#0000 0,#0038ff83 25.6px,#1affe583 27.2px,#ff4c0083 28.5px,#2effd183 30px,#ff2c00 0,#ff2c00 38.8px,#ff7900 51.2px,#ffff00 55px,#1affe5 59.7px,#00ffff 60.6px,#00d1ff 62.3px,#004dff 64px,#0000ff 68.4px,#0000e6 70px,#0000e6cc 70.4px,#0000e680 74.7px,#0000 79.5px"></i>
<i style="--g:#0000 23px,#0000 0,#0038ff8f 25.5px,#1affe58f 27px,#ff4c008f 28.5px,#2effd18f 30px,#ff3100 0,#ff3100 39px,#ff7b00 51.7px,#ffff00 55.4px,#1affe5 60px,#00ffff 61px,#00d1ff 62.7px,#004dff 64.4px,#0000ff 69px,#0000e6 70.3px,#0000e6cc 71px,#0000e680 75px,#0000 79.7px"></i>
<i style="--g:#0000 23px,#0000 0,#0038ff9a 25.4px,#1affe59a 27px,#ff4c009a 28.5px,#2effd19a 30px,#ff3600 0,#ff3600 39px,#ff7d00 52px,#ffff00 56px,#1affe5 60.6px,#00ffff 61.4px,#00d1ff 63px,#004dff 64.7px,#0000ff 69.2px,#0000e6 70.7px,#0000e6cc 71.2px,#0000e680 75.3px,#0000 80px"></i>
<i style="--g:#0000 22.7px,#0000 0,#0038ffa5 25.2px,#1affe5a5 27px,#ff4c00a5 28.4px,#2effd1a5 30px,#ff3b00 0,#ff3b00 39px,#ff7f00 52.7px,#ffff00 56.3px,#80ff80 58.7px,#00ffff 62px,#00d1ff 63.3px,#004dff 65px,#0000ff 69.6px,#0000e6 71px,#0000e6cc 71.6px,#0000e680 75.6px,#0000 80px"></i>
<i style="--g:#0000 22.6px,#0000 0,#0038ffb0 25px,#1affe5b0 27px,#ff4c00b0 28.4px,#2effd1b0 30px,#ff4000 0,#ff4000 39px,#ff8100 53px,#ffff00 56.8px,#80ff80 59px,#00ffff 62.2px,#00d1ff 63.7px,#004dff 65.3px,#0000ff 70px,#0000e6 71.6px,#0000e6cc 72px,#0000e680 76px,#0000 80.4px"></i>
<i style="--g:#0000 22.4px,#0000 0,#0038ffbc 25px,#1affe5bc 27px,#ff4c00bc 28.4px,#2effd1bc 30px,#ff4500 0,#ff4500 39px,#ff5f00 47.8px,#ff8300 53.7px,#ffff00 57.3px,#80ff80 59.6px,#00ffff 62.7px,#00d1ff 64px,#004dff 65.6px,#0000ff 70.4px,#0000e6 72px,#0000e6cc 72.5px,#0000e680 76.3px,#0000 80.6px"></i>
<i style="--g:#0000 22px,#0000 0,#0038ffc7 25px,#1affe5c7 27px,#ff4c00c7 28.4px,#2effd1c7 30px,#ff4a00 0,#ff4a00 39.2px,#ff6200 48.3px,#ff8600 54px,#ffff00 57.7px,#80ff80 60px,#00ffff 63px,#00d1ff 64.4px,#004dff 66px,#0000ff 70.8px,#0000e6 72.4px,#0000e6cc 73px,#0000e680 76.6px,#0000 81px"></i>
<i style="--g:#0000 22px,#0000 0,#0038ffd2 24.8px,#1affe5d2 26.8px,#ff4c00d2 28.3px,#2effd1d2 30px,#ff4f00 0,#ff4f00 39.3px,#ff6500 49px,#ff8800 54.6px,#ffff00 58px,#80ff80 60.5px,#00ffff 63.5px,#00d1ff 64.7px,#004dff 66.3px,#0000ff 71px,#0000e6 73px,#0000e6cc 73.3px,#0000e680 77px,#0000 81px"></i>
<i style="--g:#0000 22px,#0000 0,#0038ffdd 24.7px,#1affe5dd 26.7px,#ff4c00dd 28.3px,#2effd1dd 30px,#ff5400 0,#ff6800 49.3px,#ff8a00 55px,#ffff00 58.6px,#80ff80 61px,#00ffff 64px,#00d1ff 65px,#004dff 66.6px,#0000ff 71.6px,#0000e6 73.2px,#0000e6cc 73.7px,#0000e680 77.2px,#0000 81.3px"></i>
<i style="--g:#0000 21.6px,#0000 0,#0038ffe9 24.5px,#1affe5e9 26.6px,#ff4c00e9 28.3px,#2effd1e9 30px,#ff5900 0,#ff6b00 50px,#ff8c00 55.6px,#ffff00 59px,#80ff80 61.5px,#00ffff 64.3px,#00d1ff 65.4px,#004dff 67px,#0000ff 72px,#0000e6 73.6px,#0000e6cc 74px,#0000e680 77.6px,#0000 81.5px"></i>
<i style="--g:#0000 21.4px,#0000 0,#0038fff2 24.4px,#1affe5f2 26.6px,#ff4c00f2 28.3px,#2effd1f2 30px,#ff5d00 0,#ff6e00 50.4px,#ff8e00 56px,#ffff00 59.6px,#80ff80 62px,#00ffff 64.7px,#00d1ff 65.8px,#004dff 67.2px,#0000ff 72.4px,#0000e6 74px,#0000e6cc 74.6px,#0000e680 78px,#0000 81.7px"></i>
<i style="--g:#0000 21.2px,#0000 0,#0038fff2 24.4px,#1affe5f2 26.6px,#ff4c00f2 28.4px,#2effd1f2 30px,#ff6200 0,#ff7000 51px,#ff9000 56.6px,#ffff00 60px,#80ff80 62.4px,#00ffff 65px,#00d1ff 66px,#004dff 67.6px,#0000ff 72.7px,#0000e6 74.5px,#0000e6cc 75px,#0000e680 78.2px,#0000 82px"></i>
<i style="--g:#0000 21.3px,#0000 0,#0038fff2 24.5px,#1affe5f2 27px,#ff4c00f2 28.7px,#2effd1f2 30.5px,#ff6700 0,#ff7300 51.4px,#ff9200 57px,#ffff00 60.5px,#00ffff 65.5px,#00d1ff 66.4px,#004dff 68px,#0000ff 73px,#0000e6 75px,#0000e6cc 75.4px,#0000e680 78.5px,#0000 82px"></i>
<i style="--g:#0000 21.4px,#0000 0,#0038fff2 24.7px,#1affe5f2 27px,#ff4c00f2 29px,#2effd1f2 31px,#ff6b00 0,#ff7600 52px,#ff9400 57.5px,#ffff00 61px,#00ffff 65.8px,#00d1ff 66.7px,#004dff 68px,#0000ff 73.5px,#0000e6 75.2px,#0000e6cc 75.7px,#0000e680 78.8px,#0000 82.3px"></i>
<i style="--g:#0000 21.5px,#0000 0,#0038fff2 25px,#1affe5f2 27.3px,#ff4c00f2 29.2px,#2effd1f2 31px,#ff6c00 0,#ff7600 52px,#ff9500 57.6px,#ffff00 61px,#00ffff 66px,#00d1ff 66.7px,#004dff 68.2px,#0000ff 73.5px,#0000e6 75.3px,#0000e6cc 75.8px,#0000e680 79px,#0000 82.4px"></i>
<i style="--g:#0000 21.6px,#0000 0,#0038fff2 25px,#1affe5f2 27.6px,#ff4c00f2 29.6px,#2effd1f2 31.7px,#ff6d00 0,#ff7700 52px,#ff9600 57.8px,#ffff00 61px,#00ffff 66px,#00d1ff 66.8px,#004dff 68.3px,#0000ff 73.6px,#0000e6 75.4px,#0000e6cc 76px,#0000e680 79px,#0000 82.5px"></i>
<i style="--g:#0000 21.7px,#0000 0,#0038fff2 25.4px,#1affe5f2 28px,#ff4c00f2 30px,#2effd1f2 32.3px,#ff6e00 0,#ff7800 52.2px,#ff9700 58px,#ffff00 61px,#00ffff 66px,#00d1ff 67px,#004dff 68.3px,#0000ff 73.7px,#0000e6 75.4px,#0000e6cc 76px,#0000e680 79px,#0000 82.5px"></i>
<i style="--g:#0000 21.8px,#0000 0,#0038fff2 25.7px,#1affe5f2 28.5px,#ff4c00f2 30.8px,#2effd1f2 33px,#ff6f00 0,#ff7900 52.4px,#ff9800 58px,#ffff00 61px,#00ffff 66px,#00d1ff 67px,#004dff 68.4px,#0000ff 73.7px,#0000e6 75.5px,#0000e6cc 76px,#0000e680 79px,#0000 82.6px"></i>
<i style="--g:#0000 22px,#0000 0,#0038fff2 26px,#1affe5f2 29px,#ff4c00f2 31.3px,#2effd1f2 33.7px,#ff7000 0,#ff7a00 52.5px,#ff9900 58px,#ffff00 61.2px,#00ffff 66px,#00d1ff 67px,#004dff 68.5px,#0000ff 73.8px,#0000e6 75.6px,#0000e6cc 76px,#0000e680 79px,#0000 82.7px"></i>
<i style="--g:#0000 22px,#0000 0,#0038fff2 26.3px,#1affe5f2 29.4px,#ff4c00f2 32px,#2effd1f2 34.3px,#ff7100 0,#ff7b00 52.6px,#ff9a00 58.3px,#ffff00 61.3px,#00ffff 66px,#00d1ff 67px,#004dff 68.5px,#0000ff 74px,#0000e6 75.6px,#0000e6cc 76px,#0000e680 79px,#0000 82.7px"></i>
<i style="--g:#0000 22.5px,#0000 0,#0038fff2 27px,#1affe5f2 30px,#ff4c00f2 32.5px,#2effd1f2 35px,#ff7200 0,#ff7c00 52.7px,#ff9b00 58.4px,#ffff00 61.3px,#00ffff 66px,#00d1ff 67px,#004dff 68.6px,#0000ff 74px,#0000e6 75.7px,#0000e6cc 76px,#0000e680 79.2px,#0000 82.8px"></i>
<i style="--g:#0000 26px,#0000 0,#0038fff2 29.4px,#1affe5f2 32px,#ff4c00f2 33.8px,#2effd1f2 35.7px,#ff7300 0,#ff7d00 53px,#ff9c00 58.6px,#ffff00 61.4px,#00ffff 66px,#00d1ff 67px,#004dff 68.7px,#0000ff 74px,#0000e6 75.8px,#0000e6cc 76.3px,#0000e680 79.3px,#0000 83px"></i>
<i style="--g:#0000 29.5px,#0000 0,#0038fff2 32px,#1affe5f2 33.7px,#ff4c00f2 35px,#2effd1f2 36.5px,#ff7400 0,#ff7e00 53px,#ff9d00 58.7px,#ffff00 61.5px,#00ffff 66px,#00d1ff 67px,#004dff 68.7px,#0000ff 74px,#0000e6 76px,#0000e6cc 76.3px,#0000e680 79.4px,#0000 83px"></i>
<i style="--g:#0000 33px,#0000 0,#0038fff2 34.6px,#1affe5f2 35.6px,#ff4c00f2 36.5px,#2effd1f2 37.4px,#ff7500 0,#ff7f00 53px,#ff9e00 59px,#ffff00 61.6px,#00ffff 66px,#00d1ff 67px,#004dff 68.8px,#0000ff 74px,#0000e6 76px,#0000e6cc 76.4px,#0000e680 79.4px,#0000 83px"></i>
<i style="--g:#0000 34px,#0000 0,#0038fff2 36px,#1affe5f2 37.5px,#ff4c00f2 38.6px,#2effd1f2 39.7px,#ff7500 0,#ff7500 0,#ff8000 53.2px,#ff9e00 59px,#ffff00 61.6px,#00ffff 66px,#00d1ff 67px,#004dff 69px,#0000ff 74px,#0000e6 76px,#0000e6cc 76.4px,#0000e680 79.5px,#0000 83px"></i>
<i style="--g:#0000 34px,#0000 0,#0038fff2 37px,#1affe5f2 39.3px,#ff4c00f2 41px,#2effd1f2 42.7px,#ff7800 0,#ff8000 53.2px,#ff9e00 59px,#ffff00 61.6px,#00ffff 66px,#00d1ff 67px,#004dff 69px,#0000ff 74px,#0000e6 76px,#0000e6cc 76.4px,#0000e680 79.5px,#0000 83px"></i>
<i style="--g:#0000 34px,#0000 0,#0038fff2 37px,#1affe5f2 39.3px,#ff4c00f2 41px,#2effd1f2 42.7px,#ff7800 0,#ff8000 53.2px,#ff9e00 59px,#ffff00 61.6px,#00ffff 66px,#00d1ff 67px,#004dff 69px,#0000ff 74px,#0000e6 76px,#0000e6cc 76.4px,#0000e680 79.5px,#0000 83px"></i>
<i style="--g:#0000 34px,#0000 0,#0038fff2 37px,#1affe5f2 39.3px,#ff4c00f2 41px,#2effd1f2 42.7px,#ff7800 0,#ff8000 53.2px,#ff9e00 59px,#ffff00 61.6px,#00ffff 66px,#00d1ff 67px,#004dff 69px,#0000ff 74px,#0000e6 76px,#0000e6cc 76.4px,#0000e680 79.5px,#0000 83px"></i>
</div>
<div class="p" style="left:217.30px;top:15px;width:85.15px">
<i style="--g:#0000 31.4px,#b30000 0,#b30000 35.6px,#ff0000 37.6px,#ff8000 40.8px,#ffc700 45px,#ffff00 47px,#4dffb2d9 54.7px,#1affe599 57px,#00ffff40 63.4px,#0000 69px"></i>
<i style="--g:#0000 31.4px,#b30000 0,#b30000 35.7px,#ff0000 37.7px,#ff8000 41px,#ffc700 45px,#ffff00 47px,#4dffb2d9 55px,#1affe599 57px,#00ffff40 63.5px,#0000 69px"></i>
<i style="--g:#0000 31.3px,#b30000 0,#b30000 35.8px,#ff0000 38px,#ff8000 41px,#ffc700 45px,#ffff00 47px,#4dffb2d9 55px,#1affe599 57px,#00ffff40 63.6px,#0000 69px"></i>
<i style="--g:#0000 31.3px,#b30000 0,#b30000 36px,#ff0000 38px,#ff8000 41px,#ffc700 45px,#ffff00 47px,#4dffb2d9 55px,#1affe599 57px,#00ffff40 63.7px,#0000 69.2px"></i>
<i style="--g:#0000 31.2px,#b30000 0,#b30000 36px,#ff0000 38px,#ff8000 41px,#ffc700 45px,#ffff00 47.2px,#4dffb2d9 55px,#1affe599 57.3px,#00ffff40 64px,#0000 69.3px"></i>
<i style="--g:#0000 31px,#b30000 0,#b30000 36px,#ff0000 38px,#ff8000 41.2px,#ffc700 45.3px,#ffff00 47.3px,#4dffb2d9 55.2px,#1affe599 57.4px,#00ffff40 64px,#0000 69.4px"></i>
<i style="--g:#0000 31px,#b30000 0,#b30000 36px,#ff0000 38.2px,#ff8000 41.3px,#ffc700 45.4px,#ffff00 47.4px,#4dffb2d9 55.3px,#1affe599 57.5px,#00ffff40 64px,#0000 69.5px"></i>
<i style="--g:#0000 31px,#b30000 0,#b30000 36px,#ff0000 38px,#ff8000 41.2px,#ffce00 45px,#ffff00 46.7px,#89ff76f4 51px,#43ffbcdc 55px,#09fff6a1 57.2px,#00caff16 67.5px,#0000 69.2px"></i>
<i style="--g:#0000 30px,#0000 0,#004dff27 31px,#b30000 0,#b30000 35.7px,#ff0000 38px,#ff8000 41px,#ffff00 45.8px,#7bff84f5 50.3px,#36ffc9df 54.6px,#00ffffb5 56.5px,#00c3ff72 62px,#00a7ff23 66.7px,#0000 69px"></i>
<i style="--g:#0000 28px,#0000 0,#004dff28 31px,#b30000 0,#b30000 35.4px,#ff0000 38px,#ff8000 41px,#ffff00 45px,#6dff92f7 49.5px,#29ffd6e3 54px,#00ffffca 55.5px,#00deffb6 56.7px,#009eff87 61.2px,#0083ff2f 66px,#0000 68.4px"></i>
<i style="--g:#0000 26.4px,#0000 0,#004dff29 31px,#b30000 0,#b30000 35px,#ff0000 38px,#ff8000 40.7px,#ffff00 44px,#b0ff4f 46px,#5effa1f9 48.6px,#1cffe3e6 53.7px,#00ffffd9 54.6px,#00c8ffc1 56.4px,#0079ff9d 60.6px,#0060ff3b 65px,#0000 68px"></i>
<i style="--g:#0000 25.4px,#0000 0,#004dff2a 30.7px,#b30000 0,#b30000 34.8px,#ff0500 38px,#ffff00 43.4px,#a2ff5d 45.4px,#50ffaffb 48px,#00ffffe4 53.7px,#00b3ffcc 56px,#0055ffb2 60px,#0040ff7f 61.4px,#003dff48 64.4px,#0000 67.7px"></i>
<i style="--g:#0000 25.3px,#0000 0,#004dff2b 30.6px,#b30000 0,#b30000 34.5px,#ff0500 38px,#ffff00 42.8px,#94ff6b 44.8px,#42ffbdfc 47px,#00ffffec 53px,#0030ffc7 59px,#001bff94 60.3px,#0019ff54 63.6px,#0000 67.3px"></i>
<i style="--g:#0000 25px,#0000 0,#004dff2c 30.4px,#b30000 0,#b30000 34px,#ff0500 38px,#ffff00 42px,#feff01 0,#86ff79 44px,#34ffcbfe 46px,#00f5fff1 52.3px,#0089ffe1 55.5px,#000bffdc 58.5px,#0000f6a9 59px,#0000f561 62.8px,#0000 67px"></i>
<i style="--g:#0000 25px,#0000 0,#004dff2d 30.3px,#b60000 0,#b60000 34px,#ff0700 38px,#ff7f00 40.3px,#ffff00 42px,#80ff80 44px,#2dffd2 46px,#00fffff6 50.6px,#00effff3 52.3px,#007effe6 55.4px,#0000f9e6 58.3px,#0000e6b3 59px,#0000e667 62.7px,#0000 67px"></i>
<i style="--g:#0000 25px,#0000 0,#004dff2e 30.4px,#bb0000 0,#bb0000 34.4px,#ff0b00 38.2px,#ff7d00 40.6px,#ffff00 42.5px,#80ff80 44.6px,#2cffd3 46.5px,#00fffff7 50.7px,#00ecfff4 52.5px,#0000f8e8 58.6px,#0000e6b5 59px,#0000e669 63px,#0000 67.5px"></i>
<i style="--g:#0000 25px,#0000 0,#004dff2f 30.5px,#c10000 0,#c10000 34.6px,#ff0000 37.7px,#ff0e00 38.4px,#ff7c00 41px,#ffff00 43px,#80ff80 45px,#2affd5 47px,#00fffff8 51px,#00eafff5 52.8px,#0000f6ea 59px,#0000e6b7 59.3px,#0000e66b 63.4px,#0000 68px"></i>
<i style="--g:#0000 24.7px,#0000 0,#004dff30 30.6px,#c70000 0,#c70000 34.8px,#ff0000 37.7px,#ff1200 38.6px,#ff7a00 41px,#ffff00 43.3px,#80ff80 45.5px,#29ffd6 47.4px,#00fffff9 51px,#00e8fff5 53px,#0000f5ec 59px,#0000e6b9 59.6px,#0000e66c 64px,#0000 68.5px"></i>
<i style="--g:#0000 24.6px,#0000 0,#004dff31 30.6px,#cc0000 0,#cc0000 35px,#ff0000 37.6px,#ff1500 38.7px,#ff7900 41.4px,#ffff00 43.7px,#80ff80 46px,#27ffd8 48px,#00fffffa 51px,#00e6fff6 53.3px,#0000ffee 59px,#0000f3ee 59.3px,#0000e6bb 60px,#0000e66e 64.2px,#0000 69px"></i>
<i style="--g:#0000 24.4px,#0000 0,#004dff32 30.6px,#d20000 0,#d20000 35px,#ff0000 37.6px,#ff1900 39px,#ff7800 41.7px,#ffff00 44px,#80ff80 46.4px,#26ffd9 48.4px,#00fffffa 51.4px,#00e4fff7 53.5px,#006cffef 56px,#0000ffef 59px,#0000f2ef 59.6px,#0000e6bc 60px,#0000e670 64.6px,#0000 69.4px"></i>
<i style="--g:#0000 24.3px,#0000 0,#004dff33 30.5px,#d80000 0,#d80000 35.3px,#ff0000 37.5px,#ff1c00 39px,#ff7600 42px,#ffff00 44.6px,#80ff80 47px,#25ffda 49px,#00fffffb 51.6px,#00e2fff8 53.8px,#0068fff1 56.3px,#0000fff1 59.4px,#0000f1f1 59.8px,#0000e6be 60.3px,#0000e672 65px,#0000 70px"></i>
<i style="--g:#0000 24px,#0000 0,#004dff34 30.4px,#dd0000 0,#dd0000 35.5px,#ff0000 37.5px,#ff2000 39.3px,#ff7500 42.3px,#ffff00 45px,#80ff80 47.3px,#23ffdc 49.3px,#00fffffc 51.8px,#00e0fff9 54px,#0065fff3 56.5px,#0000fff3 59.6px,#0000eff3 60px,#0000e6c0 60.5px,#0000e673 65.4px,#0000 70.4px"></i>
<i style="--g:#0000 24px,#0000 0,#004dff35 30.3px,#e30000 0,#e30000 35.7px,#ff0000 37.4px,#ff7300 42.6px,#ffff00 45.4px,#22ffdd 49.8px,#00fffffc 52px,#00defffa 54.3px,#0061fff5 56.6px,#0000fff5 59.7px,#0000eef5 60.3px,#0000e6c2 60.8px,#0000e675 66px,#0000 71px"></i>
<i style="--g:#0000 24px,#0000 0,#004dff36 30.2px,#e90000 0,#e90000 36px,#ff0000 37.3px,#ff7200 43px,#ffff00 45.8px,#20ffdf 50.2px,#00fffffd 52.3px,#00dbfffb 54.5px,#005efff6 56.8px,#0000fff6 60px,#0000ecf6 60.5px,#0000e6c3 61px,#0000e677 66.2px,#0000 71.4px"></i>
<i style="--g:#0000 24px,#0000 0,#004dff37 30px,#ee0000 0,#ee0000 36px,#ff0000 37px,#ff7100 43.2px,#ffff00 46px,#1fffe0 50.7px,#00fffffd 52.5px,#00d9fffc 54.7px,#005afff8 57px,#0000fff8 60px,#0000ebf8 60.8px,#0000e6c5 61.3px,#0000e679 66.6px,#0000 72px"></i>
<i style="--g:#0000 23.7px,#0000 0,#004dff38 30px,#f40000 0,#f40000 36.3px,#ff0000 37px,#ff6f00 43.5px,#ffff00 46.6px,#1effe1 51px,#00fffffe 52.8px,#00d7fffc 55px,#0057fffa 57px,#0000fffa 60.2px,#0000eafa 61px,#0000e6c7 61.5px,#0000e67a 67px,#0000 72.4px"></i>
<i style="--g:#0000 23.6px,#0000 0,#004dff39 30px,#f90000 0,#ff0000 37px,#ff6e00 43.8px,#ffff00 47px,#1cffe3 51.6px,#00fffffe 53px,#00d5fffd 55.2px,#0053fffc 57px,#0000fffc 60.4px,#0000e8fc 61.3px,#0000e6c9 61.8px,#0000e67c 67.4px,#0000 73px"></i>
<i style="--g:#0000 23.5px,#0000 0,#004dff3a 30px,#ff0000 0,#ff0000 36.7px,#ff6c00 44px,#ffff00 47.4px,#1bffe4 52px,#00ffff 53.4px,#00d3fffe 55.5px,#0050fffd 57.3px,#0000fffd 60.5px,#0000e7fd 61.5px,#0000e6ca 62px,#0000e67e 67.8px,#0000 73.4px"></i>
<i style="--g:#0000 23.4px,#0000 0,#004dff3b 29.8px,#ff0500 0,#ff0500 37px,#ff6b00 44.4px,#ffff00 48px,#1affe5 52.6px,#00ffff 53.7px,#00d1ff 55.7px,#004dff 57.5px,#0000ff 60.7px,#0000e6 61.8px,#0000e6cc 62.3px,#0000e680 68px,#0000 74px"></i>
<i style="--g:#0000 23.3px,#0000 0,#004dff3c 29.7px,#ff0700 0,#ff0700 37px,#ff6c00 44.8px,#ffff00 48.2px,#1affe5 53px,#00ffff 54px,#00d1ff 56px,#004dff 58px,#0000ff 61px,#0000e6 62.3px,#0000e6cc 62.8px,#0000e680 68.5px,#0000 74px"></i>
<i style="--g:#0000 23.2px,#0000 0,#004dff3d 29.6px,#ff0a00 0,#ff0a00 37px,#ff6d00 45px,#ffff00 48.6px,#1affe5 53.4px,#00ffff 54.5px,#00d1ff 56.5px,#004dff 58.3px,#0000ff 61.6px,#0000e6 62.8px,#0000e6cc 63.3px,#0000e680 69px,#0000 74.5px"></i>
<i style="--g:#0000 23px,#0000 0,#004dff3e 29.5px,#ff0c00 0,#ff0c00 37px,#ff6d00 45.5px,#ffff00 49px,#1affe5 53.8px,#00ffff 55px,#00d1ff 57px,#004dff 58.7px,#0000ff 62px,#0000e6 63.2px,#0000e6cc 63.7px,#0000e680 69.3px,#0000 75px"></i>
<i style="--g:#0000 23px,#0000 0,#004dff3f 29.4px,#ff0e00 0,#ff0e00 37.3px,#ff6e00 46px,#ffff00 49.5px,#1affe5 54.2px,#00ffff 55.3px,#00d1ff 57.3px,#004dff 59px,#0000ff 62.6px,#0000e6 63.7px,#0000e6cc 64.2px,#0000e680 69.7px,#0000 75px"></i>
<i style="--g:#0000 23px,#0000 0,#004dff40 29.4px,#ff1000 0,#ff1000 37.4px,#ff6f00 46.3px,#ffff00 50px,#1affe5 54.6px,#00ffff 55.7px,#00d1ff 57.7px,#004dff 59.4px,#0000ff 63px,#0000e6 64px,#0000e6cc 64.7px,#0000e680 70px,#0000 75.5px"></i>
<i style="--g:#0000 23px,#0000 0,#004dff44 29.3px,#ff1200 0,#ff1200 37.4px,#ff6f00 46.7px,#ffff00 50.3px,#1affe5 55px,#00ffff 56px,#00d1ff 58px,#004dff 60px,#0000ff 63.5px,#0000e6 64.7px,#0000e6cc 65px,#0000e680 70.5px,#0000 76px"></i>
<i style="--g:#0000 22.7px,#0000 0,#004dff48 29px,#ff1400 0,#ff1400 37.5px,#ff7000 47px,#ffff00 50.7px,#1affe5 55.4px,#00ffff 56.5px,#00d1ff 58.4px,#004dff 60.2px,#0000ff 64px,#0000e6 65px,#0000e6cc 65.7px,#0000e680 71px,#0000 76px"></i>
<i style="--g:#0000 22.6px,#0000 0,#004dff4b 29px,#ff1600 0,#ff1600 37.6px,#ff7100 47.5px,#ffff00 51px,#1affe5 56px,#00ffff 57px,#00d1ff 59px,#004dff 60.6px,#0000ff 64.4px,#0000e6 65.6px,#0000e6cc 66px,#0000e680 71.2px,#0000 76.5px"></i>
<i style="--g:#0000 22.5px,#0000 0,#004dff4f 29px,#ff1800 0,#ff1800 37.7px,#ff7200 48px,#ffff00 51.5px,#1affe5 56.3px,#00ffff 57.3px,#00d1ff 59px,#004dff 61px,#0000ff 65px,#0000e6 66px,#0000e6cc 66.6px,#0000e680 71.6px,#0000 77px"></i>
<i style="--g:#0000 22.4px,#0000 0,#004dff53 29px,#ff1b00 0,#ff1b00 37.8px,#ff7200 48.2px,#ffff00 52px,#1affe5 56.7px,#00ffff 57.7px,#00d1ff 59.6px,#004dff 61.4px,#0000ff 65.3px,#0000e6 66.6px,#0000e6cc 67px,#0000e680 72px,#0000 77px"></i>
<i style="--g:#0000 22.3px,#0000 0,#004dff56 29px,#ff1d00 0,#ff1d00 38px,#ff7300 48.6px,#ffff00 52.3px,#1affe5 57px,#00ffff 58px,#00d1ff 60px,#004dff 61.7px,#0000ff 65.8px,#0000e6 67px,#0000e6cc 67.6px,#0000e680 72.4px,#0000 77.5px"></i>
<i style="--g:#0000 22.2px,#0000 0,#004dff5a 29px,#ff1f00 0,#ff1f00 38px,#ff7400 49px,#ffff00 52.7px,#1affe5 57.5px,#00ffff 58.5px,#00d1ff 60.3px,#004dff 62px,#0000ff 66.2px,#0000e6 67.6px,#0000e6cc 68px,#0000e680 72.8px,#0000 78px"></i>
<i style="--g:#0000 22px,#0000 0,#004dff5e 29px,#ff2100 0,#ff2100 38px,#ff7400 49.4px,#ffff00 53px,#1affe5 58px,#00ffff 59px,#00d1ff 60.7px,#004dff 62.5px,#0000ff 66.7px,#0000e6 68px,#0000e6cc 68.5px,#0000e680 73px,#0000 78px"></i>
<i style="--g:#0000 22px,#0000 0,#004dff61 29px,#ff2300 0,#ff2300 38px,#ff7500 49.8px,#ffff00 53.5px,#1affe5 58.3px,#00ffff 59.3px,#00d1ff 61px,#004dff 63px,#0000ff 67px,#0000e6 68.5px,#0000e6cc 69px,#0000e680 73.5px,#0000 78.5px"></i>
<i style="--g:#0000 22px,#0000 0,#004dff65 29.2px,#ff2700 0,#ff2700 38.2px,#ff7700 50.2px,#ffff00 54px,#1affe5 58.8px,#00ffff 59.7px,#00d1ff 61.5px,#004dff 63.2px,#0000ff 67.6px,#0000e6 69px,#0000e6cc 69.5px,#0000e680 74px,#0000 78.8px"></i>
<i style="--g:#0000 22px,#0000 0,#0038ff8e 24.7px,#1affe58e 26.5px,#ff4c008e 28px,#2effd18e 29.5px,#ff2c00 0,#ff2c00 38.3px,#ff7900 50.8px,#ffff00 54.5px,#1affe5 59.2px,#00ffff 60px,#00d1ff 62px,#004dff 63.6px,#0000ff 68px,#0000e6 69.4px,#0000e6cc 70px,#0000e680 74.2px,#0000 79px"></i>
<i style="--g:#0000 22px,#0000 0,#0038ff93 25px,#1affe593 26.8px,#ff4c0093 28.3px,#2effd193 30px,#ff3100 0,#ff3100 38.4px,#ff7b00 51.3px,#ffff00 55px,#1affe5 59.7px,#00ffff 60.6px,#00d1ff 62.2px,#004dff 64px,#0000ff 68.4px,#0000e6 70px,#0000e6cc 70.4px,#0000e680 74.6px,#0000 79.3px"></i>
<i style="--g:#0000 22px,#0000 0,#0038ff98 25px,#1affe598 27px,#ff4c0098 28.7px,#2effd198 30.4px,#ff3600 0,#ff3600 38.5px,#ff7d00 51.8px,#ffff00 55.5px,#1affe5 60px,#00ffff 61px,#00d1ff 62.6px,#004dff 64.3px,#0000ff 69px,#0000e6 70.3px,#0000e6cc 71px,#0000e680 75px,#0000 79.5px"></i>
<i style="--g:#0000 22px,#0000 0,#0038ff9d 25px,#1affe59d 27.2px,#ff4c009d 29px,#2effd19d 30.7px,#ff3b00 0,#ff3b00 38.6px,#ff7f00 52.3px,#ffff00 56px,#80ff80 58.4px,#00ffff 61.5px,#00d1ff 63px,#004dff 64.6px,#0000ff 69.2px,#0000e6 70.8px,#0000e6cc 71.3px,#0000e680 75.3px,#0000 79.8px"></i>
<i style="--g:#0000 22px,#0000 0,#0038ffa2 25px,#1affe5a2 27.2px,#ff4c00a2 29px,#2effd1a2 30.7px,#ff4000 0,#ff4000 38.7px,#ff8100 53px,#ffff00 56.4px,#80ff80 59px,#00ffff 62px,#00d1ff 63.3px,#004dff 65px,#0000ff 69.6px,#0000e6 71px,#0000e6cc 71.7px,#0000e680 75.6px,#0000 80px"></i>
<i style="--g:#0000 22px,#0000 0,#0038ffa7 25px,#1affe5a7 27.2px,#ff4c00a7 29px,#2effd1a7 30.7px,#ff4500 0,#ff4500 39px,#ff5f00 47.5px,#ff8300 53.3px,#ffff00 57px,#80ff80 59.3px,#00ffff 62.3px,#00d1ff 63.7px,#004dff 65.3px,#0000ff 70px,#0000e6 71.6px,#0000e6cc 72px,#0000e680 76px,#0000 80.3px"></i>
<i style="--g:#0000 22px,#0000 0,#0038ffac 25px,#1affe5ac 27.2px,#ff4c00ac 29px,#2effd1ac 30.7px,#ff4a00 0,#ff4a00 39px,#ff6200 48px,#ff8600 54px,#ffff00 57.4px,#80ff80 59.8px,#00ffff 62.7px,#00d1ff 64px,#004dff 65.7px,#0000ff 70.5px,#0000e6 72px,#0000e6cc 72.6px,#0000e680 76.3px,#0000 80.5px"></i>
<i style="--g:#0000 22px,#0000 0,#0038ffac 25px,#1affe5ac 27.2px,#ff4c00ac 29px,#2effd1ac 30.7px,#ff4f00 0,#ff4f00 39px,#ff6500 48.5px,#ff8800 54.4px,#ffff00 58px,#80ff80 60.3px,#00ffff 63px,#00d1ff 64.4px,#004dff 66px,#0000ff 71px,#0000e6 72.5px,#0000e6cc 73px,#0000e680 76.6px,#0000 80.8px"></i>
<i style="--g:#0000 22.2px,#0000 0,#0038ffac 25px,#1affe5ac 27.3px,#ff4c00ac 29px,#2effd1ac 30.7px,#ff5400 0,#ff6800 49px,#ff8a00 55px,#ffff00 58.4px,#80ff80 60.7px,#00ffff 63.6px,#00d1ff 65px,#004dff 66.3px,#0000ff 71.3px,#0000e6 73px,#0000e6cc 73.5px,#0000e680 77px,#0000 81px"></i>
<i style="--g:#0000 22.3px,#0000 0,#0038ffac 25.2px,#1affe5ac 27.3px,#ff4c00ac 29px,#2effd1ac 30.7px,#ff5900 0,#ff6b00 49.6px,#ff8c00 55.4px,#ffff00 59px,#80ff80 61.2px,#00ffff 64px,#00d1ff 65px,#004dff 66.7px,#0000ff 71.7px,#0000e6 73.4px,#0000e6cc 74px,#0000e680 77.3px,#0000 81.2px"></i>
<i style="--g:#0000 22.4px,#0000 0,#0038ffac 25.3px,#1affe5ac 27.3px,#ff4c00ac 29px,#2effd1ac 30.7px,#ff5d00 0,#ff6e00 50px,#ff8e00 56px,#ffff00 59.4px,#80ff80 61.7px,#00ffff 64.5px,#00d1ff 65.5px,#004dff 67px,#0000ff 72px,#0000e6 74px,#0000e6cc 74.3px,#0000e680 77.7px,#0000 81.5px"></i>
<i style="--g:#0000 22.5px,#0000 0,#0038ffac 25.3px,#1affe5ac 27.4px,#ff4c00ac 29px,#2effd1ac 30.7px,#ff6200 0,#ff7000 50.7px,#ff9000 56.4px,#ffff00 60px,#80ff80 62px,#00ffff 65px,#00d1ff 66px,#004dff 67.4px,#0000ff 72.6px,#0000e6 74.3px,#0000e6cc 74.8px,#0000e680 78px,#0000 81.7px"></i>
<i style="--g:#0000 22.6px,#0000 0,#0038ffac 25.4px,#1affe5ac 27.4px,#ff4c00ac 29px,#2effd1ac 30.7px,#ff6700 0,#ff7300 51.2px,#ff9200 57px,#ffff00 60.3px,#00ffff 65.3px,#00d1ff 66.3px,#004dff 67.7px,#0000ff 73px,#0000e6 74.7px,#0000e6cc 75.2px,#0000e680 78.4px,#0000 82px"></i>
<i style="--g:#0000 22.6px,#0000 0,#0038ffac 25.5px,#1affe5ac 27.5px,#ff4c00ac 29px,#2effd1ac 30.8px,#ff6b00 0,#ff7600 51.7px,#ff9400 57.4px,#ffff00 60.7px,#00ffff 65.7px,#00d1ff 66.6px,#004dff 68px,#0000ff 73.3px,#0000e6 75px,#0000e6cc 75.6px,#0000e680 78.6px,#0000 82px"></i>
<i style="--g:#0000 22.7px,#0000 0,#0038ffac 25.6px,#1affe5ac 27.7px,#ff4c00ac 29.4px,#2effd1ac 31px,#ff6c00 0,#ff7600 52px,#ff9500 57.5px,#ffff00 61px,#00ffff 65.7px,#00d1ff 66.6px,#004dff 68px,#0000ff 73.4px,#0000e6 75px,#0000e6cc 75.7px,#0000e680 78.7px,#0000 82.3px"></i>
<i style="--g:#0000 23px,#0000 0,#0038ffac 26px,#1affe5ac 28px,#ff4c00ac 29.7px,#2effd1ac 31.4px,#ff6d00 0,#ff7700 52px,#ff9600 57.6px,#ffff00 61px,#00ffff 65.7px,#00d1ff 66.6px,#004dff 68px,#0000ff 73.4px,#0000e6 75.2px,#0000e6cc 75.7px,#0000e680 78.8px,#0000 82.3px"></i>
<i style="--g:#0000 23px,#0000 0,#0038ffac 26px,#1affe5ac 28px,#ff4c00ac 30px,#2effd1ac 31.7px,#ff6e00 0,#ff7800 52px,#ff9700 57.8px,#ffff00 61px,#00ffff 65.8px,#00d1ff 66.7px,#004dff 68px,#0000ff 73.5px,#0000e6 75.3px,#0000e6cc 75.8px,#0000e680 79px,#0000 82.4px"></i>
<i style="--g:#0000 23.8px,#0000 0,#0038ffac 26.7px,#1affe5ac 28.7px,#ff4c00ac 30.4px,#2effd1ac 32px,#ff6f00 0,#ff7900 52.2px,#ff9800 58px,#ffff00 61px,#00ffff 65.8px,#00d1ff 66.7px,#004dff 68.3px,#0000ff 73.6px,#0000e6 75.4px,#0000e6cc 76px,#0000e680 79px,#0000 82.4px"></i>
<i style="--g:#0000 25.3px,#0000 0,#0038ffac 27.8px,#1affe5ac 29.5px,#ff4c00ac 31px,#2effd1ac 32.3px,#ff7000 0,#ff7a00 52.3px,#ff9900 58px,#ffff00 61px,#00ffff 66px,#00d1ff 66.7px,#004dff 68.3px,#0000ff 73.6px,#0000e6 75.4px,#0000e6cc 76px,#0000e680 79px,#0000 82.5px"></i>
<i style="--g:#0000 26.8px,#0000 0,#0038ffac 29px,#1affe5ac 30.7px,#ff4c00ac 32px,#2effd1ac 33.2px,#ff7100 0,#ff7b00 52.5px,#ff9a00 58px,#ffff00 61px,#00ffff 66px,#00d1ff 66.8px,#004dff 68.4px,#0000ff 73.7px,#0000e6 75.5px,#0000e6cc 76px,#0000e680 79px,#0000 82.6px"></i>
<i style="--g:#0000 28.3px,#0000 0,#0038ffac 30.4px,#1affe5ac 32px,#ff4c00ac 33px,#2effd1ac 34.2px,#ff7200 0,#ff7c00 52.6px,#ff9b00 58.3px,#ffff00 61.2px,#00ffff 66px,#00d1ff 66.8px,#004dff 68.5px,#0000ff 73.8px,#0000e6 75.5px,#0000e6cc 76px,#0000e680 79px,#0000 82.6px"></i>
<i style="--g:#0000 29.8px,#0000 0,#0038ffac 31.7px,#1affe5ac 33px,#ff4c00ac 34px,#2effd1ac 35.2px,#ff7300 0,#ff7d00 52.7px,#ff9c00 58.4px,#ffff00 61.3px,#00ffff 66px,#00d1ff 67px,#004dff 68.5px,#0000ff 74px,#0000e6 75.6px,#0000e6cc 76px,#0000e680 79px,#0000 82.7px"></i>
<i style="--g:#0000 30.7px,#0000 0,#0038ffac 33.3px,#1affe5ac 35px,#ff4c00ac 36.6px,#2effd1ac 38px,#ff7400 0,#ff7e00 53px,#ff9d00 58.5px,#ffff00 61.3px,#00ffff 66px,#00d1ff 67px,#004dff 68.6px,#0000ff 74px,#0000e6 75.7px,#0000e6cc 76px,#0000e680 79.2px,#0000 82.8px"></i>
<i style="--g:#0000 30.7px,#0000 0,#0038ffac 35px,#1affe5ac 38.4px,#ff4c00ac 41px,#2effd1ac 43.6px,#ff7800 0,#ff7f00 53px,#ff9e00 58.7px,#ffff00 61.4px,#00ffff 66px,#00d1ff 67px,#004dff 68.6px,#0000ff 74px,#0000e6 75.7px,#0000e6cc 76.2px,#0000e680 79.3px,#0000 83px"></i>
<i style="--g:#0000 30.7px,#0000 0,#0038ffac 37px,#1affe5ac 41.7px,#ff4c00ac 45.3px,#2effd1ac 49px,#ff7c00 0,#ff8000 53px,#ff9e00 58.8px,#ffff00 61.4px,#00ffff 66px,#00d1ff 67px,#004dff 68.7px,#0000ff 74px,#0000e6 75.8px,#0000e6cc 76.3px,#0000e680 79.3px,#0000 83px"></i>
<i style="--g:#0000 30.7px,#0000 0,#0038ffac 39px,#1affe5ac 45px,#ff4c00ac 49.7px,#2effd1ac 54.5px,#ff8700 0,#ff9e00 58.8px,#ffff00 61.4px,#00ffff 66px,#00d1ff 67px,#004dff 68.7px,#0000ff 74px,#0000e6 75.8px,#0000e6cc 76.3px,#0000e680 79.3px,#0000 83px"></i>
<i style="--g:#0000 30.7px,#0000 0,#0038ffac 39.7px,#1affe5ac 46px,#ff4c00ac 51.3px,#2effd1ac 56.5px,#ff9200 0,#ff9e00 58.8px,#ffff00 61.4px,#00ffff 66px,#00d1ff 67px,#004dff 68.7px,#0000ff 74px,#0000e6 75.8px,#0000e6cc 76.3px,#0000e680 79.3px,#0000 83px"></i>
<i style="--g:#0000 30.7px,#0000 0,#0038ffac 39.7px,#1affe5ac 46px,#ff4c00ac 51.3px,#2effd1ac 56.5px,#ff9200 0,#ff9e00 58.8px,#ffff00 61.4px,#00ffff 66px,#00d1ff 67px,#004dff 68.7px,#0000ff 74px,#0000e6 75.8px,#0000e6cc 76.3px,#0000e680 79.3px,#0000 83px"></i>
</div>
<div class="p" style="left:312.30px;top:15px;width:85.15px">
<i style="--g:#0000 31.5px,#0000 0,#004dff26 32.3px,#b30000 0,#b30000 35.6px,#ff0500 39.8px,#ff8000 43px,#fff000 46.2px,#e5ff1a 49.8px,#80ff80 54px,#2effd1d9 57px,#00ffff70 61.6px,#00e5ff1a 66px,#0000 68.2px"></i>
<i style="--g:#0000 31.5px,#0000 0,#004dff26 32.3px,#b30000 0,#b30000 35.7px,#ff0500 40px,#ff8000 43px,#fff000 46.3px,#e5ff1a 50px,#80ff80 54px,#2effd1d9 57px,#00ffff70 61.7px,#00e5ff1a 66px,#0000 68.3px"></i>
<i style="--g:#0000 31.5px,#0000 0,#004dff26 32.3px,#b30000 0,#b30000 35.8px,#ff0500 40px,#ff8000 43px,#fff000 46.4px,#e5ff1a 50px,#80ff80 54px,#2effd1d9 57px,#00ffff70 61.8px,#00e5ff1a 66.3px,#0000 68.4px"></i>
<i style="--g:#0000 31.5px,#0000 0,#004dff26 32.2px,#b30000 0,#b30000 36px,#ff0500 40px,#ff8000 43px,#fff000 46.5px,#e5ff1a 50px,#80ff80 54px,#2effd1d9 57px,#00ffff70 62px,#00e5ff1a 66.4px,#0000 68.5px"></i>
<i style="--g:#0000 31.5px,#0000 0,#004dff26 32px,#b30000 0,#b30000 36px,#ff0500 40px,#ff8000 43.2px,#fff000 46.6px,#e5ff1a 50px,#80ff80 54.2px,#2effd1d9 57.3px,#00ffff70 62px,#00e5ff1a 66.5px,#0000 68.6px"></i>
<i style="--g:#0000 31.5px,#0000 0,#004dff26 32px,#b30000 0,#b30000 36px,#ff0500 40.3px,#ff8000 43.3px,#fff000 46.7px,#e5ff1a 50.3px,#80ff80 54.3px,#2effd1d9 57.4px,#00ffff70 62px,#00e5ff1a 66.6px,#0000 68.7px"></i>
<i style="--g:#0000 31.5px,#0000 0,#004dff26 32px,#b30000 0,#b30000 36px,#ff0500 40.4px,#ff8000 43.4px,#fff000 47px,#e5ff1a 50.4px,#80ff80 54.4px,#2effd1d9 57.5px,#00ffff70 62px,#00e5ff1a 66.7px,#0000 69px"></i>
<i style="--g:#0000 31.5px,#0000 0,#004dff26 32px,#b30000 0,#b30000 36.2px,#ff0500 40.4px,#fff200 46.6px,#daff25 50px,#77ff88 53.8px,#27ffd8dc 57px,#00ffff9a 60.3px,#00caff2a 66px,#0000 69px"></i>
<i style="--g:#0000 31.5px,#0000 0,#004dff26 32px,#b30000 0,#b30000 36.3px,#ff0500 40.4px,#fff500 46.2px,#ccff33 49.4px,#6bff94 53px,#1fffe0df 56.8px,#00ffffba 58.7px,#00b3ff69 63.6px,#00a7ff3f 65.3px,#0000 69px"></i>
<i style="--g:#0000 31.5px,#0000 0,#004dff26 32px,#b30000 0,#b30000 36.3px,#ff0500 40.4px,#ffff00 46.2px,#60ff9f 52px,#00ffffcf 57.6px,#0091ff80 63px,#0083ff54 64.6px,#0000 69px"></i>
<i style="--g:#0000 31.5px,#0000 0,#004dff26 32px,#b30000 0,#b30000 36.4px,#ff0500 40.4px,#ffff00 45.7px,#55ffaa 51px,#00ffffdd 56.6px,#0070ff97 62.5px,#0060ff6a 64px,#0060ff3b 66.4px,#0000 69px"></i>
<i style="--g:#0000 31.8px,#b30000 0,#b30000 36.4px,#ff0500 40.4px,#fffd00 45.2px,#ffff00 0,#49ffb6 50.3px,#00ffffe7 56px,#004effad 62px,#003dff7f 63px,#003dff48 66px,#0000 69px"></i>
<i style="--g:#0000 31.7px,#b30000 0,#b30000 36.5px,#ff0500 40.4px,#ffff00 45px,#feff01 0,#94ff6b 47px,#3effc1 49.5px,#00fcffed 55.2px,#009affd1 58.5px,#002cffc4 61.4px,#0019ff94 62.3px,#0019ff54 65.6px,#0000 69px"></i>
<i style="--g:#0000 31.5px,#b30000 0,#b30000 36.5px,#ff0500 40.4px,#ff8000 42.6px,#ffff00 44.5px,#86ff79 46.6px,#33ffcc 48.6px,#00f3fff1 55px,#0088ffdf 58px,#000affdb 61px,#0000f5a9 61.5px,#0000f561 65px,#0000 69px"></i>
<i style="--g:#0000 31.5px,#b60000 0,#b60000 36.7px,#ff0700 40.6px,#ff7f00 42.8px,#ffff00 44.6px,#80ff80 46.6px,#2dffd2 48.5px,#00fffff6 53px,#00effff3 54.8px,#007effe6 58px,#0000f9e6 61px,#0000e6b3 61.3px,#0000e667 65px,#0000 69.5px"></i>
<i style="--g:#0000 31.5px,#bb0000 0,#bb0000 37px,#ff0b00 40.8px,#ff7d00 43px,#ffff00 45px,#80ff80 47px,#2cffd3 49px,#00fffff7 53.3px,#00ecfff4 55px,#0000f8e8 61px,#0000e6b5 61.6px,#0000e669 65.6px,#0000 70px"></i>
<i style="--g:#0000 31.4px,#c10000 0,#c10000 37px,#ff0000 40.3px,#ff0e00 41px,#ff7c00 43.4px,#ffff00 45.5px,#80ff80 47.6px,#2affd5 49.5px,#00fffff8 53.4px,#00eafff5 55.4px,#0000f6ea 61.4px,#0000e6b7 62px,#0000e66b 66px,#0000 70.5px"></i>
<i style="--g:#0000 31.4px,#c70000 0,#c70000 37.4px,#ff0000 40.3px,#ff1200 41px,#ff7a00 43.7px,#ffff00 46px,#80ff80 48px,#29ffd6 50px,#00fffff9 53.6px,#00e8fff5 55.6px,#0000f5ec 61.7px,#0000e6b9 62px,#0000e66c 66.4px,#0000 71px"></i>
<i style="--g:#0000 31.3px,#cc0000 0,#cc0000 37.6px,#ff0000 40.3px,#ff1500 41.4px,#ff7900 44px,#ffff00 46.4px,#80ff80 48.6px,#27ffd8 50.5px,#00fffffa 54px,#00e6fff6 56px,#0000ffee 61.6px,#0000f3ee 62px,#0000e6bb 62.4px,#0000e66e 67px,#0000 71.6px"></i>
<i style="--g:#0000 31.3px,#d20000 0,#d20000 38px,#ff0000 40.3px,#ff1900 41.6px,#ff7800 44.4px,#ffff00 47px,#80ff80 49px,#26ffd9 51px,#00fffffa 54px,#00e4fff7 56px,#006cffef 59px,#0000ffef 62px,#0000f2ef 62.2px,#0000e6bc 62.7px,#0000e670 67.3px,#0000 72px"></i>
<i style="--g:#0000 31.3px,#d80000 0,#d80000 38px,#ff0000 40.2px,#ff1c00 42px,#ff7600 44.7px,#ffff00 47.3px,#80ff80 49.5px,#25ffda 51.5px,#00fffffb 54.3px,#00e2fff8 56.5px,#0068fff1 59px,#0000fff1 62px,#0000f1f1 62.5px,#0000e6be 63px,#0000e672 67.7px,#0000 72.6px"></i>
<i style="--g:#0000 31.2px,#dd0000 0,#dd0000 38.3px,#ff0000 40.2px,#ff2000 42px,#ff7500 45px,#ffff00 47.7px,#80ff80 50px,#23ffdc 52px,#00fffffc 54.5px,#00e0fff9 56.8px,#0065fff3 59.2px,#0000fff3 62.3px,#0000eff3 62.8px,#0000e6c0 63.3px,#0000e673 68px,#0000 73px"></i>
<i style="--g:#0000 31.2px,#e30000 0,#e30000 38.5px,#ff0000 40px,#ff7300 45.4px,#ffff00 48px,#22ffdd 52.5px,#00fffffc 55px,#00defffa 57px,#0061fff5 59.4px,#0000fff5 62.5px,#0000eef5 63px,#0000e6c2 63.6px,#0000e675 68.6px,#0000 73.7px"></i>
<i style="--g:#0000 31px,#e90000 0,#e90000 38.8px,#ff0000 40px,#ff7200 45.7px,#ffff00 48.6px,#20ffdf 53px,#00fffffd 55px,#00dbfffb 57.3px,#005efff6 59.6px,#0000fff6 62.7px,#0000ecf6 63.3px,#0000e6c3 64px,#0000e677 69px,#0000 74.2px"></i>
<i style="--g:#0000 31px,#ee0000 0,#ee0000 39px,#ff0000 40px,#ff7100 46px,#ffff00 49px,#1fffe0 53.5px,#00fffffd 55.4px,#00d9fffc 57.6px,#005afff8 59.8px,#0000fff8 63px,#0000ebf8 63.6px,#0000e6c5 64px,#0000e679 69.4px,#0000 74.7px"></i>
<i style="--g:#0000 30.7px,#0000 0,#004dff28 31px,#f40000 0,#f40000 39.2px,#ff0000 40px,#ff6f00 46.4px,#ffff00 49.5px,#1effe1 54px,#00fffffe 55.7px,#00d7fffc 58px,#0057fffa 60px,#0000fffa 63px,#0000eafa 64px,#0000e6c7 64.4px,#0000e67a 70px,#0000 75.3px"></i>
<i style="--g:#0000 29.5px,#0000 0,#004dff2a 31px,#f90000 0,#ff0000 40px,#ff6e00 46.7px,#ffff00 50px,#1cffe3 54.5px,#00fffffe 56px,#00d5fffd 58px,#0053fffc 60px,#0000fffc 63.3px,#0000e8fc 64px,#0000e6c9 64.7px,#0000e67c 70.3px,#0000 75.8px"></i>
<i style="--g:#0000 28.4px,#0000 0,#004dff2c 31px,#ff0000 0,#ff0000 39.7px,#ff6c00 47px,#ffff00 50.4px,#1bffe4 55px,#00ffff 56.3px,#00d3fffe 58.4px,#0050fffd 60.3px,#0000fffd 63.5px,#0000e7fd 64.5px,#0000e6ca 65px,#0000e67e 70.7px,#0000 76.3px"></i>
<i style="--g:#0000 27.2px,#0000 0,#004dff2e 31px,#ff0500 0,#ff0500 40px,#ff6b00 47.4px,#ffff00 50.8px,#1affe5 55.5px,#00ffff 56.7px,#00d1ff 58.7px,#004dff 60.5px,#0000ff 63.7px,#0000e6 64.8px,#0000e6cc 65.3px,#0000e680 71px,#0000 76.8px"></i>
<i style="--g:#0000 26px,#0000 0,#004dff31 31px,#ff0700 0,#ff0700 40px,#ff6c00 47.6px,#ffff00 51px,#1affe5 55.8px,#00ffff 57px,#00d1ff 59px,#004dff 60.7px,#0000ff 64px,#0000e6 65px,#0000e6cc 65.6px,#0000e680 71.4px,#0000 77px"></i>
<i style="--g:#0000 25.4px,#0000 0,#004dff33 31px,#ff0a00 0,#ff0a00 39.8px,#ff6d00 48px,#ffff00 51.3px,#1affe5 56px,#00ffff 57px,#00d1ff 59px,#004dff 61px,#0000ff 64.3px,#0000e6 65.4px,#0000e6cc 66px,#0000e680 71.6px,#0000 77px"></i>
<i style="--g:#0000 25.3px,#0000 0,#004dff35 30.7px,#ff0c00 0,#ff0c00 39.7px,#ff6d00 48px,#ffff00 51.6px,#1affe5 56.3px,#00ffff 57.4px,#00d1ff 59.4px,#004dff 61px,#0000ff 64.6px,#0000e6 65.8px,#0000e6cc 66.3px,#0000e680 72px,#0000 77.4px"></i>
<i style="--g:#0000 25px,#0000 0,#004dff37 30.7px,#ff0e00 0,#ff0e00 39.6px,#ff6e00 48.3px,#ffff00 52px,#1affe5 56.6px,#00ffff 57.7px,#00d1ff 59.7px,#004dff 61.4px,#0000ff 65px,#0000e6 66px,#0000e6cc 66.6px,#0000e680 72px,#0000 77.5px"></i>
<i style="--g:#0000 25px,#0000 0,#004dff3a 30.6px,#ff1000 0,#ff1000 39.6px,#ff6f00 48.5px,#ffff00 52px,#1affe5 57px,#00ffff 58px,#00d1ff 60px,#004dff 61.7px,#0000ff 65.2px,#0000e6 66.4px,#0000e6cc 67px,#0000e680 72.3px,#0000 77.7px"></i>
<i style="--g:#0000 25px,#0000 0,#004dff3c 30.5px,#ff1200 0,#ff1200 39.5px,#ff6f00 48.8px,#ffff00 52.3px,#1affe5 57px,#00ffff 58px,#00d1ff 60px,#004dff 62px,#0000ff 65.5px,#0000e6 66.8px,#0000e6cc 67.3px,#0000e680 72.5px,#0000 78px"></i>
<i style="--g:#0000 24.7px,#0000 0,#004dff3e 30.4px,#ff1400 0,#ff1400 39.5px,#ff7000 49px,#ffff00 52.6px,#1affe5 57.4px,#00ffff 58.4px,#00d1ff 60.4px,#004dff 62px,#0000ff 66px,#0000e6 67px,#0000e6cc 67.6px,#0000e680 72.8px,#0000 78px"></i>
<i style="--g:#0000 24.6px,#0000 0,#004dff40 30.3px,#ff1600 0,#ff1600 39.4px,#ff7100 49.2px,#ffff00 53px,#1affe5 57.6px,#00ffff 58.7px,#00d1ff 60.6px,#004dff 62.4px,#0000ff 66px,#0000e6 67.4px,#0000e6cc 68px,#0000e680 73px,#0000 78.3px"></i>
<i style="--g:#0000 24.4px,#0000 0,#004dff42 30.3px,#ff1800 0,#ff1800 39.3px,#ff7200 49.5px,#ffff00 53px,#1affe5 58px,#00ffff 59px,#00d1ff 61px,#004dff 62.6px,#0000ff 66.5px,#0000e6 67.8px,#0000e6cc 68.3px,#0000e680 73.3px,#0000 78.5px"></i>
<i style="--g:#0000 24.3px,#0000 0,#004dff45 30px,#ff1b00 0,#ff1b00 39.3px,#ff7200 49.7px,#ffff00 53.4px,#1affe5 58px,#00ffff 59.2px,#00d1ff 61px,#004dff 63px,#0000ff 66.8px,#0000e6 68px,#0000e6cc 68.6px,#0000e680 73.5px,#0000 78.7px"></i>
<i style="--g:#0000 24px,#0000 0,#004dff47 30px,#ff1d00 0,#ff1d00 39.2px,#ff7300 50px,#ffff00 53.6px,#1affe5 58.4px,#00ffff 59.5px,#00d1ff 61.3px,#004dff 63px,#0000ff 67px,#0000e6 68.4px,#0000e6cc 69px,#0000e680 73.7px,#0000 79px"></i>
<i style="--g:#0000 24px,#0000 0,#0038ff63 26px,#1affe563 27.6px,#ff4c0063 28.8px,#2effd163 30px,#ff1f00 0,#ff1f00 39px,#ff7400 50px,#ffff00 54px,#1affe5 58.7px,#00ffff 59.7px,#00d1ff 61.5px,#004dff 63.3px,#0000ff 67.4px,#0000e6 68.8px,#0000e6cc 69.3px,#0000e680 74px,#0000 79px"></i>
<i style="--g:#0000 24px,#0000 0,#0038ff66 26px,#1affe566 27.5px,#ff4c0066 28.7px,#2effd166 30px,#ff2100 0,#ff2100 39px,#ff7400 50.4px,#ffff00 54px,#1affe5 59px,#00ffff 60px,#00d1ff 61.8px,#004dff 63.6px,#0000ff 67.7px,#0000e6 69px,#0000e6cc 69.6px,#0000e680 74px,#0000 79.2px"></i>
<i style="--g:#0000 23.8px,#0000 0,#0038ff6b 26px,#1affe56b 27.4px,#ff4c006b 28.6px,#2effd16b 30px,#ff2300 0,#ff2300 39px,#ff7500 50.7px,#ffff00 54.4px,#1affe5 59.2px,#00ffff 60.2px,#00d1ff 62px,#004dff 63.8px,#0000ff 68px,#0000e6 69.4px,#0000e6cc 70px,#0000e680 74.4px,#0000 79.4px"></i>
<i style="--g:#0000 23.8px,#0000 0,#0038ff72 26px,#1affe572 27.5px,#ff4c0072 28.7px,#2effd172 30px,#ff2700 0,#ff2700 39px,#ff7700 51px,#ffff00 54.8px,#1affe5 59.6px,#00ffff 60.6px,#00d1ff 62.3px,#004dff 64px,#0000ff 68.4px,#0000e6 70px,#0000e6cc 70.3px,#0000e680 74.7px,#0000 79.6px"></i>
<i style="--g:#0000 23.8px,#0000 0,#0038ff79 26px,#1affe579 27.6px,#ff4c0079 29px,#2effd179 30px,#ff2c00 0,#ff2c00 39px,#ff7900 51.5px,#ffff00 55.2px,#1affe5 60px,#00ffff 61px,#00d1ff 62.6px,#004dff 64.4px,#0000ff 68.7px,#0000e6 70px,#0000e6cc 70.7px,#0000e680 75px,#0000 80px"></i>
<i style="--g:#0000 23.8px,#0000 0,#0038ff80 26px,#1affe580 27.8px,#ff4c0080 29px,#2effd180 30.4px,#ff3100 0,#ff3100 39px,#ff7b00 52px,#ffff00 55.7px,#1affe5 60.4px,#00ffff 61.3px,#00d1ff 63px,#004dff 64.7px,#0000ff 69px,#0000e6 70.6px,#0000e6cc 71px,#0000e680 75.3px,#0000 80px"></i>
<i style="--g:#0000 23.8px,#0000 0,#0038ff87 26px,#1affe587 28px,#ff4c0087 29.3px,#2effd187 30.6px,#ff3600 0,#ff3600 39.2px,#ff7d00 52.5px,#ffff00 56px,#1affe5 61px,#00ffff 61.7px,#00d1ff 63.3px,#004dff 65px,#0000ff 69.5px,#0000e6 71px,#0000e6cc 71.5px,#0000e680 75.6px,#0000 80px"></i>
<i style="--g:#0000 23.8px,#0000 0,#0038ff8f 26.3px,#1affe58f 28px,#ff4c008f 29.4px,#2effd18f 31px,#ff3b00 0,#ff3b00 39.3px,#ff7f00 53px,#ffff00 56.6px,#80ff80 59px,#00ffff 62px,#00d1ff 63.6px,#004dff 65.2px,#0000ff 70px,#0000e6 71.4px,#0000e6cc 72px,#0000e680 76px,#0000 80.4px"></i>
<i style="--g:#0000 23.8px,#0000 0,#0038ff96 26.3px,#1affe596 28px,#ff4c0096 29.6px,#2effd196 31px,#ff4000 0,#ff4000 39.3px,#ff8100 53.4px,#ffff00 57px,#80ff80 59.4px,#00ffff 62.5px,#00d1ff 64px,#004dff 65.5px,#0000ff 70.2px,#0000e6 71.8px,#0000e6cc 72.3px,#0000e680 76px,#0000 80.6px"></i>
<i style="--g:#0000 23.8px,#0000 0,#0038ff9d 26.4px,#1affe59d 28.3px,#ff4c009d 29.8px,#2effd19d 31.3px,#ff4500 0,#ff4500 39.4px,#ff5f00 48px,#ff8300 54px,#ffff00 57.4px,#80ff80 60px,#00ffff 63px,#00d1ff 64.2px,#004dff 66px,#0000ff 70.6px,#0000e6 72px,#0000e6cc 72.7px,#0000e680 76.5px,#0000 80.8px"></i>
<i style="--g:#0000 23.8px,#0000 0,#0038ffa4 26.5px,#1affe5a4 28.4px,#ff4c00a4 30px,#2effd1a4 31.5px,#ff4a00 0,#ff4a00 39.4px,#ff6200 48.5px,#ff8600 54.3px,#ffff00 58px,#80ff80 60.3px,#00ffff 63.2px,#00d1ff 64.5px,#004dff 66px,#0000ff 71px,#0000e6 72.6px,#0000e6cc 73px,#0000e680 76.8px,#0000 81px"></i>
<i style="--g:#0000 24px,#0000 0,#0038ffab 26.6px,#1affe5ab 28.6px,#ff4c00ab 30px,#2effd1ab 31.8px,#ff4f00 0,#ff4f00 39.5px,#ff6500 49px,#ff8800 54.8px,#ffff00 58.3px,#80ff80 60.7px,#00ffff 63.6px,#00d1ff 65px,#004dff 66.4px,#0000ff 71.3px,#0000e6 73px,#0000e6cc 73.4px,#0000e680 77px,#0000 81px"></i>
<i style="--g:#0000 24px,#0000 0,#0038ffb2 26.8px,#1affe5b2 28.8px,#ff4c00b2 30.4px,#2effd1b2 32px,#ff5400 0,#ff6800 49.5px,#ff8a00 55.3px,#ffff00 58.8px,#80ff80 61px,#00ffff 64px,#00d1ff 65px,#004dff 66.7px,#0000ff 71.7px,#0000e6 73.3px,#0000e6cc 74px,#0000e680 77.4px,#0000 81.4px"></i>
<i style="--g:#0000 24px,#0000 0,#0038ffb9 27px,#1affe5b9 29px,#ff4c00b9 30.6px,#2effd1b9 32.3px,#ff5900 0,#ff6b00 50px,#ff8c00 55.7px,#ffff00 59.2px,#80ff80 61.5px,#00ffff 64.4px,#00d1ff 65.5px,#004dff 67px,#0000ff 72px,#0000e6 73.7px,#0000e6cc 74.2px,#0000e680 77.7px,#0000 81.6px"></i>
<i style="--g:#0000 24px,#0000 0,#0038ffbd 27px,#1affe5bd 29px,#ff4c00bd 31px,#2effd1bd 32.5px,#ff5d00 0,#ff6e00 50.4px,#ff8e00 56px,#ffff00 59.6px,#80ff80 62px,#00ffff 64.7px,#00d1ff 66px,#004dff 67.3px,#0000ff 72.4px,#0000e6 74px,#0000e6cc 74.6px,#0000e680 78px,#0000 81.8px"></i>
<i style="--g:#0000 24px,#0000 0,#0038ffbd 27.2px,#1affe5bd 29.4px,#ff4c00bd 31px,#2effd1bd 33px,#ff6200 0,#ff7000 51px,#ff9000 56.7px,#ffff00 60px,#80ff80 62.4px,#00ffff 65px,#00d1ff 66px,#004dff 67.6px,#0000ff 72.8px,#0000e6 74.5px,#0000e6cc 75px,#0000e680 78.2px,#0000 82px"></i>
<i style="--g:#0000 24.3px,#0000 0,#0038ffbd 27.4px,#1affe5bd 29.6px,#ff4c00bd 31.3px,#2effd1bd 33px,#ff6700 0,#ff7300 51.4px,#ff9200 57px,#ffff00 60.5px,#00ffff 65.5px,#00d1ff 66.5px,#004dff 68px,#0000ff 73px,#0000e6 75px,#0000e6cc 75.4px,#0000e680 78.5px,#0000 82px"></i>
<i style="--g:#0000 24.4px,#0000 0,#0038ffbd 27.5px,#1affe5bd 29.8px,#ff4c00bd 31.6px,#2effd1bd 33.4px,#ff6b00 0,#ff7600 52px,#ff9400 57.5px,#ffff00 61px,#00ffff 65.8px,#00d1ff 66.7px,#004dff 68px,#0000ff 73.5px,#0000e6 75.2px,#0000e6cc 75.7px,#0000e680 78.8px,#0000 82.3px"></i>
<i style="--g:#0000 24.4px,#0000 0,#0038ffbd 27.7px,#1affe5bd 30px,#ff4c00bd 32px,#2effd1bd 33.7px,#ff6c00 0,#ff7600 52px,#ff9500 57.6px,#ffff00 61px,#00ffff 66px,#00d1ff 66.7px,#004dff 68.2px,#0000ff 73.5px,#0000e6 75.3px,#0000e6cc 75.8px,#0000e680 79px,#0000 82.4px"></i>
<i style="--g:#0000 24.5px,#0000 0,#0038ffbd 28px,#1affe5bd 30px,#ff4c00bd 32px,#2effd1bd 34px,#ff6d00 0,#ff7700 52px,#ff9600 57.8px,#ffff00 61px,#00ffff 66px,#00d1ff 66.8px,#004dff 68.3px,#0000ff 73.6px,#0000e6 75.4px,#0000e6cc 76px,#0000e680 79px,#0000 82.5px"></i>
<i style="--g:#0000 24.6px,#0000 0,#0038ffbd 28px,#1affe5bd 30.4px,#ff4c00bd 32.4px,#2effd1bd 34.3px,#ff6e00 0,#ff7800 52.2px,#ff9700 58px,#ffff00 61px,#00ffff 66px,#00d1ff 67px,#004dff 68.3px,#0000ff 73.7px,#0000e6 75.4px,#0000e6cc 76px,#0000e680 79px,#0000 82.5px"></i>
<i style="--g:#0000 25px,#0000 0,#0038ffbd 28.3px,#1affe5bd 30.7px,#ff4c00bd 32.7px,#2effd1bd 34.6px,#ff6f00 0,#ff7900 52.4px,#ff9800 58px,#ffff00 61px,#00ffff 66px,#00d1ff 67px,#004dff 68.4px,#0000ff 73.7px,#0000e6 75.5px,#0000e6cc 76px,#0000e680 79px,#0000 82.6px"></i>
<i style="--g:#0000 25.3px,#0000 0,#0038ffbd 28.7px,#1affe5bd 31px,#ff4c00bd 33px,#2effd1bd 35px,#ff7000 0,#ff7a00 52.5px,#ff9900 58px,#ffff00 61.2px,#00ffff 66px,#00d1ff 67px,#004dff 68.5px,#0000ff 73.8px,#0000e6 75.6px,#0000e6cc 76px,#0000e680 79px,#0000 82.7px"></i>
<i style="--g:#0000 25.7px,#0000 0,#0038ffbd 29px,#1affe5bd 31.4px,#ff4c00bd 33.3px,#2effd1bd 35px,#ff7100 0,#ff7b00 52.6px,#ff9a00 58.3px,#ffff00 61.3px,#00ffff 66px,#00d1ff 67px,#004dff 68.5px,#0000ff 74px,#0000e6 75.6px,#0000e6cc 76px,#0000e680 79px,#0000 82.7px"></i>
<i style="--g:#0000 26px,#0000 0,#0038ffbd 29.4px,#1affe5bd 31.7px,#ff4c00bd 33.6px,#2effd1bd 35.4px,#ff7200 0,#ff7c00 52.7px,#ff9b00 58.4px,#ffff00 61.3px,#00ffff 66px,#00d1ff 67px,#004dff 68.6px,#0000ff 74px,#0000e6 75.7px,#0000e6cc 76px,#0000e680 79.2px,#0000 82.8px"></i>
<i style="--g:#0000 26.6px,#0000 0,#0038ffbd 29.8px,#1affe5bd 32px,#ff4c00bd 34px,#2effd1bd 35.7px,#ff7300 0,#ff7d00 53px,#ff9c00 58.6px,#ffff00 61.4px,#00ffff 66px,#00d1ff 67px,#004dff 68.7px,#0000ff 74px,#0000e6 75.8px,#0000e6cc 76.3px,#0000e680 79.3px,#0000 83px"></i>
<i style="--g:#0000 27px,#0000 0,#0038ffbd 30.4px,#1affe5bd 33px,#ff4c00bd 35px,#2effd1bd 36.8px,#ff7400 0,#ff7e00 53px,#ff9d00 58.7px,#ffff00 61.5px,#00ffff 66px,#00d1ff 67px,#004dff 68.7px,#0000ff 74px,#0000e6 76px,#0000e6cc 76.3px,#0000e680 79.4px,#0000 83px"></i>
<i style="--g:#0000 27.2px,#0000 0,#0038ffbd 31.4px,#1affe5bd 34.3px,#ff4c00bd 36.7px,#2effd1bd 39px,#ff7500 0,#ff7f00 53px,#ff9e00 59px,#ffff00 61.6px,#00ffff 66px,#00d1ff 67px,#004dff 68.8px,#0000ff 74px,#0000e6 76px,#0000e6cc 76.4px,#0000e680 79.4px,#0000 83px"></i>
<i style="--g:#0000 27.2px,#0000 0,#0038ffbd 32.7px,#1affe5bd 36.6px,#ff4c00bd 39.7px,#2effd1bd 43px,#ff7800 0,#ff8000 53.2px,#ff9e00 59px,#ffff00 61.6px,#00ffff 66px,#00d1ff 67px,#004dff 69px,#0000ff 74px,#0000e6 76px,#0000e6cc 76.4px,#0000e680 79.5px,#0000 83px"></i>
<i style="--g:#0000 27.2px,#0000 0,#0038ffbd 36px,#1affe5bd 42.6px,#ff4c00bd 47.7px,#2effd1bd 53px,#ff7f00 0,#ff9e00 59px,#ffff00 61.6px,#00ffff 66px,#00d1ff 67px,#004dff 69px,#0000ff 74px,#0000e6 76px,#0000e6cc 76.4px,#0000e680 79.5px,#0000 83px"></i>
<i style="--g:#0000 27.2px,#0000 0,#0038ffbd 37.5px,#1affe5bd 44.8px,#ff4c00bd 50.6px,#2effd1bd 56.5px,#ff9100 0,#ff9e00 59px,#ffff00 61.6px,#00ffff 66px,#00d1ff 67px,#004dff 69px,#0000ff 74px,#0000e6 76px,#0000e6cc 76.4px,#0000e680 79.5px,#0000 83px"></i>
<i style="--g:#0000 27.2px,#0000 0,#0038ffbd 37.5px,#1affe5bd 44.8px,#ff4c00bd 50.6px,#2effd1bd 56.5px,#ff9100 0,#ff9e00 59px,#ffff00 61.6px,#00ffff 66px,#00d1ff 67px,#004dff 69px,#0000ff 74px,#0000e6 76px,#0000e6cc 76.4px,#0000e680 79.5px,#0000 83px"></i>
</div>
<div class="p" style="left:407.30px;top:15px;width:85.15px">
<i style="--g:#0000 31.5px,#0000 0,#004dff40 34px,#b30000 0,#b30000 37px,#ff0500 41px,#ff9e00 42.7px,#ffff00 45.5px,#2effd1 53.3px,#00ffffe1 58px,#00b2ff99 59px,#0080ff33 59.7px,#004dff1a 60px,#0000 61px"></i>
<i style="--g:#0000 31.5px,#0000 0,#004dff40 34px,#b30000 0,#b30000 37px,#ff0500 41px,#ff9e00 42.8px,#ffff00 45.6px,#2effd1 53.4px,#00ffffe1 58px,#00b2ff99 59px,#0080ff33 60px,#004dff1a 60px,#0000 61.2px"></i>
<i style="--g:#0000 31.5px,#0000 0,#004dff40 33.7px,#b30000 0,#b30000 37px,#ff0500 41px,#ff9e00 43px,#ffff00 45.7px,#2effd1 53.5px,#00ffffe1 58px,#00b2ff99 59px,#0080ff33 60px,#004dff1a 60.3px,#0000 61.3px"></i>
<i style="--g:#0000 31.5px,#0000 0,#004dff40 33.6px,#b30000 0,#b30000 37.3px,#ff0500 41px,#ff9e00 43px,#ffff00 45.8px,#2effd1 53.6px,#00ffffe1 58px,#00b2ff99 59.3px,#0080ff33 60px,#004dff1a 60.4px,#0000 61.4px"></i>
<i style="--g:#0000 31.5px,#0000 0,#004dff40 33.5px,#b30000 0,#b30000 37.4px,#ff0500 41.2px,#ff9e00 43px,#ffff00 46px,#2effd1 53.7px,#00ffffe1 58.3px,#00b2ff99 59.4px,#0080ff33 60px,#004dff1a 60.5px,#0000 61.5px"></i>
<i style="--g:#0000 31.5px,#0000 0,#004dff40 33.3px,#b30000 0,#b30000 37.5px,#ff0500 41.3px,#ff9e00 43px,#ffff00 46px,#2effd1 54px,#00ffffe1 58.4px,#00b2ff99 59.5px,#0080ff33 60px,#004dff1a 60.5px,#0000 61.6px"></i>
<i style="--g:#0000 30.8px,#0000 0,#004dff41 33.2px,#b30000 0,#b30000 37.6px,#ff0500 41.4px,#ff9e00 43.3px,#ffff00 46px,#2effd1 54px,#00ffffe1 58.5px,#00b2ff99 59.6px,#0080ff33 60.3px,#004dff1a 60.6px,#0000 61.7px"></i>
<i style="--g:#0000 29.6px,#0000 0,#004dff43 33px,#b30000 0,#b30000 37.4px,#ff0500 41.2px,#ff9b00 43px,#ffff00 46px,#2effd1 53.2px,#03fffce7 58px,#00ffffe5 0,#00adffa1 59.3px,#0071ff46 60.3px,#0041ff2a 60.6px,#0000 62.4px"></i>
<i style="--g:#0000 28.5px,#0000 0,#004dff45 33px,#b30000 0,#b30000 37px,#ff0500 41px,#ff9700 43px,#ffff00 45.5px,#2effd1 52.3px,#00ffffe9 57.3px,#00ffffe9 0,#00a6ffac 59px,#005fff5f 60px,#0033ff3f 60.6px,#0000 63.4px"></i>
<i style="--g:#0000 27.3px,#0000 0,#004dff47 33px,#b30000 0,#b30000 37px,#ff0500 40.7px,#ff9200 42.7px,#ffff00 45px,#2effd1 51.4px,#00fcffea 56.6px,#009fffb6 58.6px,#004cff78 60px,#0025ff54 60.5px,#0000 64.3px"></i>
<i style="--g:#0000 26px,#0000 0,#004dff49 32.7px,#b30000 0,#b30000 36.6px,#ff0500 40.5px,#ff8e00 42.5px,#ffff00 45px,#2effd1 50.5px,#00f9ffec 56px,#003aff90 60px,#0017ff6a 60.5px,#0000 65px"></i>
<i style="--g:#0000 25.4px,#0000 0,#004dff4b 32.6px,#b30000 0,#b30000 36.3px,#ff0500 40.2px,#ff8a00 42.3px,#ffff00 44.4px,#79ff86 47.5px,#2effd1 49.6px,#00f7ffee 55.3px,#0091ffcc 58px,#0028ffa9 60px,#0009ff7f 60.4px,#0009ff48 63px,#0000 66px"></i>
<i style="--g:#0000 25.3px,#0000 0,#004dff4d 32.5px,#b30000 0,#b30000 36px,#ff0500 40px,#ffff00 44px,#7bff84 46.7px,#2effd1 48.7px,#00f4fff0 54.7px,#008affd6 57.5px,#0015ffc2 60px,#0000fa94 60.4px,#0000fa54 63.5px,#0000 67px"></i>
<i style="--g:#0000 25px,#0000 0,#004dff4f 32.4px,#b30000 0,#b30000 36px,#ff0500 39.7px,#ffff00 43.7px,#7eff81 46px,#2effd1 47.8px,#00fffff5 52.6px,#00f1fff1 54px,#0083ffe1 57px,#0003ffdb 60px,#0000eca9 60.3px,#0000 68px"></i>
<i style="--g:#0000 25px,#0000 0,#004dff51 32.3px,#b60000 0,#b60000 35.8px,#ff0700 39.7px,#ff7f00 42px,#ffff00 43.7px,#80ff80 45.7px,#2dffd2 47.7px,#00fffff6 52.2px,#00effff3 54px,#007effe6 57px,#0000f9e6 60px,#0000e6b3 60.4px,#0000e667 64.3px,#0000 68.6px"></i>
<i style="--g:#0000 25px,#0000 0,#004dff53 32.3px,#bb0000 0,#bb0000 36px,#ff0b00 40px,#ff7d00 42px,#ffff00 44px,#80ff80 46px,#2cffd3 48px,#00fffff7 52.3px,#00ecfff4 54px,#0000f8e8 60px,#0000e6b5 60.7px,#0000e669 64.7px,#0000 69px"></i>
<i style="--g:#0000 24.7px,#0000 0,#0038ff73 27.3px,#1affe573 29.2px,#ff4c0073 30.8px,#2effd173 32.3px,#c10000 0,#c10000 36px,#ff0000 39.3px,#ff0e00 40px,#ff7c00 42.4px,#ffff00 44.5px,#80ff80 46.6px,#2affd5 48.6px,#00fffff8 52.5px,#00eafff5 54.4px,#0000f6ea 60.4px,#0000e6b7 61px,#0000e66b 65px,#0000 69.6px"></i>
<i style="--g:#0000 24.5px,#0000 0,#0038ff76 27.2px,#1affe576 29px,#ff4c0076 30.7px,#2effd176 32.2px,#c70000 0,#c70000 36.3px,#ff0000 39.2px,#ff1200 40px,#ff7a00 42.7px,#ffff00 45px,#80ff80 47px,#29ffd6 49px,#00fffff9 52.6px,#00e8fff5 54.6px,#0000f5ec 60.6px,#0000e6b9 61px,#0000e66c 65.4px,#0000 70px"></i>
<i style="--g:#0000 24.4px,#0000 0,#0038ff79 27px,#1affe579 29px,#ff4c0079 30.6px,#2effd179 32.2px,#cc0000 0,#cc0000 36.5px,#ff0000 39px,#ff1500 40.3px,#ff7900 43px,#ffff00 45.3px,#80ff80 47.5px,#27ffd8 49.5px,#00fffffa 52.8px,#00e6fff6 55px,#0000ffee 60.6px,#0000f3ee 61px,#0000e6bb 61.4px,#0000e66e 66px,#0000 70.5px"></i>
<i style="--g:#0000 24.2px,#0000 0,#0038ff7b 27px,#1affe57b 29px,#ff4c007b 30.6px,#2effd17b 32px,#d20000 0,#d20000 36.7px,#ff0000 39px,#ff1900 40.5px,#ff7800 43.3px,#ffff00 45.7px,#80ff80 48px,#26ffd9 50px,#00fffffa 53px,#00e4fff7 55px,#006cffef 57.7px,#0000ffef 60.7px,#0000f2ef 61px,#0000e6bc 61.6px,#0000e670 66px,#0000 71px"></i>
<i style="--g:#0000 24px,#0000 0,#0038ff7e 27px,#1affe57e 29px,#ff4c007e 30.5px,#2effd17e 32px,#d80000 0,#d80000 37px,#ff0000 39px,#ff1c00 40.6px,#ff7600 43.6px,#ffff00 46px,#80ff80 48.4px,#25ffda 50.4px,#00fffffb 53px,#00e2fff8 55.3px,#0068fff1 58px,#0000fff1 61px,#0000f1f1 61.3px,#0000e6be 62px,#0000e672 66.6px,#0000 71.5px"></i>
<i style="--g:#0000 24px,#0000 0,#0038ff81 26.8px,#1affe581 29px,#ff4c0081 30.5px,#2effd181 32px,#dd0000 0,#dd0000 37px,#ff0000 39px,#ff2000 40.8px,#ff7500 44px,#ffff00 46.5px,#80ff80 48.8px,#23ffdc 51px,#00fffffc 53.3px,#00e0fff9 55.5px,#0065fff3 58px,#0000fff3 61px,#0000eff3 61.6px,#0000e6c0 62px,#0000e673 67px,#0000 72px"></i>
<i style="--g:#0000 23.8px,#0000 0,#0038ff83 26.7px,#1affe583 28.7px,#ff4c0083 30.4px,#2effd183 32px,#e30000 0,#e30000 37.2px,#ff0000 39px,#ff7300 44px,#ffff00 47px,#22ffdd 51.3px,#00fffffc 53.5px,#00defffa 55.8px,#0061fff5 58px,#0000fff5 61.2px,#0000eef5 61.8px,#0000e6c2 62.3px,#0000e675 67.3px,#0000 72.4px"></i>
<i style="--g:#0000 23.6px,#0000 0,#0038ff86 26.6px,#1affe586 28.7px,#ff4c0086 30.3px,#2effd186 32px,#e90000 0,#e90000 37.4px,#ff0000 38.8px,#ff7200 44.4px,#ffff00 47.3px,#20ffdf 51.7px,#00fffffd 53.8px,#00dbfffb 56px,#005efff6 58.2px,#0000fff6 61.4px,#0000ecf6 62px,#0000e6c3 62.5px,#0000e677 67.7px,#0000 73px"></i>
<i style="--g:#0000 23.5px,#0000 0,#0038ff89 26.4px,#1affe589 28.6px,#ff4c0089 30.3px,#2effd189 32px,#ee0000 0,#ee0000 37.6px,#ff0000 38.6px,#ff7100 44.7px,#ffff00 47.7px,#1fffe0 52px,#00fffffd 54px,#00d9fffc 56.2px,#005afff8 58.4px,#0000fff8 61.6px,#0000ebf8 62.3px,#0000e6c5 62.8px,#0000e679 68px,#0000 73.4px"></i>
<i style="--g:#0000 23.3px,#0000 0,#0038ff8c 26.3px,#1affe58c 28.5px,#ff4c008c 30.2px,#2effd18c 32px,#f40000 0,#ff0000 38.5px,#ff6f00 45px,#ffff00 48px,#1effe1 52.6px,#00fffffe 54.3px,#00d7fffc 56.5px,#0057fffa 58.5px,#0000fffa 61.7px,#0000eafa 62.5px,#0000e6c7 63px,#0000e67a 68.4px,#0000 74px"></i>
<i style="--g:#0000 23px,#0000 0,#0038ff8f 26.2px,#1affe58f 28.4px,#ff4c008f 30px,#2effd18f 32px,#f90000 0,#ff0000 38.3px,#ff6e00 45.2px,#ffff00 48.5px,#1cffe3 53px,#00fffffe 54.5px,#00d5fffd 56.7px,#0053fffc 58.6px,#0000fffc 62px,#0000e8fc 62.7px,#0000e6c9 63.2px,#0000e67c 69px,#0000 74.3px"></i>
<i style="--g:#0000 23px,#0000 0,#0038ff92 26px,#1affe592 28.3px,#ff4c0092 30px,#2effd192 32px,#ff0000 0,#ff0000 38px,#ff6c00 45.5px,#ffff00 49px,#1bffe4 53.5px,#00ffff 55px,#00d3fffe 57px,#0050fffd 58.8px,#0000fffd 62px,#0000e7fd 63px,#0000e6ca 63.4px,#0000e67e 69.2px,#0000 74.8px"></i>
<i style="--g:#0000 23px,#0000 0,#0038ff95 26px,#1affe595 28.3px,#ff4c0095 30px,#2effd195 32px,#ff0500 0,#ff0500 38.3px,#ff6b00 46px,#ffff00 49.2px,#1affe5 54px,#00ffff 55px,#00d1ff 57px,#004dff 59px,#0000ff 62px,#0000e6 63px,#0000e6cc 63.7px,#0000e680 69.6px,#0000 75.2px"></i>
<i style="--g:#0000 22.8px,#0000 0,#0038ff98 26px,#1affe598 28px,#ff4c0098 30px,#2effd198 32px,#ff0700 0,#ff0700 38.3px,#ff6c00 46px,#ffff00 49.5px,#1affe5 54.3px,#00ffff 55.4px,#00d1ff 57.4px,#004dff 59px,#0000ff 62.5px,#0000e6 63.6px,#0000e6cc 64px,#0000e680 70px,#0000 75.5px"></i>
<i style="--g:#0000 22.6px,#0000 0,#0038ff9b 26px,#1affe59b 28px,#ff4c009b 30px,#2effd19b 32px,#ff0a00 0,#ff0a00 38.3px,#ff6d00 46.3px,#ffff00 50px,#1affe5 54.6px,#00ffff 55.7px,#00d1ff 57.7px,#004dff 59.5px,#0000ff 63px,#0000e6 64px,#0000e6cc 64.4px,#0000e680 70px,#0000 75.7px"></i>
<i style="--g:#0000 22.5px,#0000 0,#0038ff9e 25.8px,#1affe59e 28px,#ff4c009e 30px,#2effd19e 31.8px,#ff0c00 0,#ff0c00 38.2px,#ff6d00 46.6px,#ffff00 50px,#1affe5 55px,#00ffff 56px,#00d1ff 58px,#004dff 59.7px,#0000ff 63px,#0000e6 64.3px,#0000e6cc 64.8px,#0000e680 70.4px,#0000 76px"></i>
<i style="--g:#0000 22.4px,#0000 0,#0038ffa1 25.7px,#1affe5a1 28px,#ff4c00a1 30px,#2effd1a1 31.8px,#ff0e00 0,#ff0e00 38.2px,#ff6e00 47px,#ffff00 50.4px,#1affe5 55px,#00ffff 56.3px,#00d1ff 58.2px,#004dff 60px,#0000ff 63.5px,#0000e6 64.7px,#0000e6cc 65px,#0000e680 70.7px,#0000 76px"></i>
<i style="--g:#0000 22.3px,#0000 0,#0038ffa4 25.6px,#1affe5a4 28px,#ff4c00a4 30px,#2effd1a4 31.7px,#ff1000 0,#ff1000 38px,#ff6f00 47px,#ffff00 50.7px,#1affe5 55.5px,#00ffff 56.5px,#00d1ff 58.5px,#004dff 60.3px,#0000ff 64px,#0000e6 65px,#0000e6cc 65.5px,#0000e680 71px,#0000 76.3px"></i>
<i style="--g:#0000 22px,#0000 0,#0038ffa7 25.5px,#1affe5a7 28px,#ff4c00a7 30px,#2effd1a7 31.7px,#ff1200 0,#ff1200 38px,#ff6f00 47.4px,#ffff00 51px,#1affe5 55.8px,#00ffff 57px,#00d1ff 58.8px,#004dff 60.5px,#0000ff 64px,#0000e6 65.4px,#0000e6cc 66px,#0000e680 71px,#0000 76.6px"></i>
<i style="--g:#0000 22px,#0000 0,#0038ffaa 25.4px,#1affe5aa 28px,#ff4c00aa 29.8px,#2effd1aa 31.7px,#ff1400 0,#ff1400 38px,#ff7000 47.7px,#ffff00 51.3px,#1affe5 56px,#00ffff 57px,#00d1ff 59px,#004dff 61px,#0000ff 64.5px,#0000e6 65.8px,#0000e6cc 66.3px,#0000e680 71.5px,#0000 76.8px"></i>
<i style="--g:#0000 22px,#0000 0,#0038ffad 25.3px,#1affe5ad 27.8px,#ff4c00ad 29.7px,#2effd1ad 31.7px,#ff1600 0,#ff1600 38px,#ff7100 48px,#ffff00 51.6px,#1affe5 56.4px,#00ffff 57.4px,#00d1ff 59.3px,#004dff 61px,#0000ff 65px,#0000e6 66px,#0000e6cc 66.6px,#0000e680 71.7px,#0000 77px"></i>
<i style="--g:#0000 22px,#0000 0,#0038ffb0 25.3px,#1affe5b0 27.7px,#ff4c00b0 29.7px,#2effd1b0 31.6px,#ff1800 0,#ff1800 38px,#ff7200 48.2px,#ffff00 52px,#1affe5 56.7px,#00ffff 57.7px,#00d1ff 59.6px,#004dff 61.4px,#0000ff 65.2px,#0000e6 66.5px,#0000e6cc 67px,#0000e680 72px,#0000 77.2px"></i>
<i style="--g:#0000 21.7px,#0000 0,#0038ffb3 25px,#1affe5b3 27.6px,#ff4c00b3 29.6px,#2effd1b3 31.6px,#ff1b00 0,#ff1b00 38px,#ff7200 48.5px,#ffff00 52px,#1affe5 57px,#00ffff 58px,#00d1ff 60px,#004dff 61.6px,#0000ff 65.6px,#0000e6 67px,#0000e6cc 67.4px,#0000e680 72.3px,#0000 77.5px"></i>
<i style="--g:#0000 21.6px,#0000 0,#0038ffb6 25px,#1affe5b6 27.6px,#ff4c00b6 29.6px,#2effd1b6 31.6px,#ff1d00 0,#ff1d00 38px,#ff7300 48.8px,#ffff00 52.5px,#1affe5 57.3px,#00ffff 58.3px,#00d1ff 60px,#004dff 62px,#0000ff 66px,#0000e6 67.3px,#0000e6cc 67.7px,#0000e680 72.5px,#0000 77.7px"></i>
<i style="--g:#0000 21.5px,#0000 0,#0038ffb9 25px,#1affe5b9 27.5px,#ff4c00b9 29.5px,#2effd1b9 31.6px,#ff1f00 0,#ff1f00 38px,#ff7400 49px,#ffff00 52.8px,#1affe5 57.6px,#00ffff 58.6px,#00d1ff 60.4px,#004dff 62px,#0000ff 66.3px,#0000e6 67.6px,#0000e6cc 68px,#0000e680 73px,#0000 78px"></i>
<i style="--g:#0000 21.3px,#0000 0,#0038ffbc 25px,#1affe5bc 27.5px,#ff4c00bc 29.5px,#2effd1bc 31.5px,#ff2100 0,#ff2100 38px,#ff7400 49.3px,#ffff00 53px,#1affe5 58px,#00ffff 59px,#00d1ff 60.7px,#004dff 62.4px,#0000ff 66.6px,#0000e6 68px,#0000e6cc 68.5px,#0000e680 73px,#0000 78px"></i>
<i style="--g:#0000 21.2px,#0000 0,#0038ffbe 25px,#1affe5be 27.4px,#ff4c00be 29.5px,#2effd1be 31.5px,#ff2300 0,#ff2300 38px,#ff7500 49.6px,#ffff00 53.3px,#1affe5 58px,#00ffff 59px,#00d1ff 61px,#004dff 62.7px,#0000ff 67px,#0000e6 68.4px,#0000e6cc 69px,#0000e680 73.4px,#0000 78.3px"></i>
<i style="--g:#0000 21px,#0000 0,#0038ffbe 24.8px,#1affe5be 27.3px,#ff4c00be 29.4px,#2effd1be 31.5px,#ff2700 0,#ff2700 38px,#ff7700 50px,#ffff00 53.7px,#1affe5 58.5px,#00ffff 59.5px,#00d1ff 61.2px,#004dff 63px,#0000ff 67.3px,#0000e6 68.7px,#0000e6cc 69.2px,#0000e680 73.6px,#0000 78.5px"></i>
<i style="--g:#0000 21px,#0000 0,#0038ffbf 24.7px,#1affe5bf 27.3px,#ff4c00bf 29.3px,#2effd1bf 31.4px,#ff2c00 0,#ff2c00 38px,#ff7900 50.5px,#ffff00 54px,#1affe5 59px,#00ffff 60px,#00d1ff 61.6px,#004dff 63.3px,#0000ff 67.7px,#0000e6 69px,#0000e6cc 69.6px,#0000e680 74px,#0000 78.7px"></i>
<i style="--g:#0000 21px,#0000 0,#0038ffc0 24.6px,#1affe5c0 27.2px,#ff4c00c0 29.3px,#2effd1c0 31.3px,#ff3100 0,#ff3100 38px,#ff7b00 51px,#ffff00 54.6px,#1affe5 59.4px,#00ffff 60.3px,#00d1ff 62px,#004dff 63.6px,#0000ff 68px,#0000e6 69.5px,#0000e6cc 70px,#0000e680 74.2px,#0000 79px"></i>
<i style="--g:#0000 21px,#0000 0,#0038ffc1 24.6px,#1affe5c1 27px,#ff4c00c1 29.2px,#2effd1c1 31.3px,#ff3600 0,#ff3600 38px,#ff7d00 51.4px,#ffff00 55px,#1affe5 59.8px,#00ffff 60.6px,#00d1ff 62px,#004dff 64px,#0000ff 68.4px,#0000e6 70px,#0000e6cc 70.4px,#0000e680 74.5px,#0000 79px"></i>
<i style="--g:#0000 21px,#0000 0,#0038ffc2 24.5px,#1affe5c2 27px,#ff4c00c2 29px,#2effd1c2 31.2px,#ff3b00 0,#ff3b00 38px,#ff7f00 52px,#ffff00 55.5px,#80ff80 58px,#00ffff 61px,#00d1ff 62.5px,#004dff 64px,#0000ff 68.8px,#0000e6 70.3px,#0000e6cc 71px,#0000e680 75px,#0000 79.3px"></i>
<i style="--g:#0000 21px,#0000 0,#0038ffc2 24.5px,#1affe5c2 27px,#ff4c00c2 29px,#2effd1c2 31px,#ff4000 0,#ff4000 38.2px,#ff8100 52.3px,#ffff00 56px,#80ff80 58.3px,#00ffff 61.4px,#00d1ff 63px,#004dff 64.5px,#0000ff 69px,#0000e6 70.7px,#0000e6cc 71.2px,#0000e680 75px,#0000 79.5px"></i>
<i style="--g:#0000 20.8px,#0000 0,#0038ffc3 24.4px,#1affe5c3 27px,#ff4c00c3 29px,#2effd1c3 31px,#ff4500 0,#ff4500 38.3px,#ff5f00 47px,#ff8300 52.8px,#ffff00 56.4px,#80ff80 58.8px,#00ffff 61.8px,#00d1ff 63px,#004dff 64.8px,#0000ff 69.5px,#0000e6 71px,#0000e6cc 71.6px,#0000e680 75.4px,#0000 79.7px"></i>
<i style="--g:#0000 20.7px,#0000 0,#0038ffc4 24.3px,#1affe5c4 27px,#ff4c00c4 29px,#2effd1c4 31px,#ff4a00 0,#ff4a00 38.3px,#ff6200 47.4px,#ff8600 53.3px,#ffff00 57px,#80ff80 59px,#00ffff 62px,#00d1ff 63.5px,#004dff 65px,#0000ff 70px,#0000e6 71.5px,#0000e6cc 72px,#0000e680 75.7px,#0000 80px"></i>
<i style="--g:#0000 20.7px,#0000 0,#0038ffc5 24.3px,#1affe5c5 27px,#ff4c00c5 29px,#2effd1c5 31px,#ff4f00 0,#ff6500 48px,#ff8800 53.7px,#ffff00 57.3px,#80ff80 59.6px,#00ffff 62.5px,#00d1ff 63.8px,#004dff 65.4px,#0000ff 70.3px,#0000e6 72px,#0000e6cc 72.4px,#0000e680 76px,#0000 80px"></i>
<i style="--g:#0000 20.6px,#0000 0,#0038ffc5 24.4px,#1affe5c5 27px,#ff4c00c5 29px,#2effd1c5 31.3px,#ff5400 0,#ff6800 48.4px,#ff8a00 54px,#ffff00 57.7px,#80ff80 60px,#00ffff 63px,#00d1ff 64px,#004dff 65.7px,#0000ff 70.6px,#0000e6 72.3px,#0000e6cc 72.8px,#0000e680 76.3px,#0000 80.3px"></i>
<i style="--g:#0000 20.6px,#0000 0,#0038ffc6 24.4px,#1affe5c6 27px,#ff4c00c6 29.3px,#2effd1c6 31.5px,#ff5900 0,#ff6b00 49px,#ff8c00 54.7px,#ffff00 58px,#80ff80 60.5px,#00ffff 63.3px,#00d1ff 64.4px,#004dff 66px,#0000ff 71px,#0000e6 72.7px,#0000e6cc 73px,#0000e680 76.6px,#0000 80.5px"></i>
<i style="--g:#0000 20.5px,#0000 0,#0038ffc7 24.4px,#1affe5c7 27px,#ff4c00c7 29.4px,#2effd1c7 31.6px,#ff5d00 0,#ff6e00 49.4px,#ff8e00 55px,#ffff00 58.6px,#80ff80 61px,#00ffff 63.7px,#00d1ff 64.8px,#004dff 66.2px,#0000ff 71.4px,#0000e6 73px,#0000e6cc 73.6px,#0000e680 77px,#0000 80.7px"></i>
<i style="--g:#0000 20.4px,#0000 0,#0038ffc8 24.4px,#1affe5c8 27.2px,#ff4c00c8 29.5px,#2effd1c8 31.8px,#ff6200 0,#ff7000 50px,#ff9000 55.6px,#ffff00 59px,#80ff80 61.3px,#00ffff 64px,#00d1ff 65px,#004dff 66.5px,#0000ff 71.7px,#0000e6 73.5px,#0000e6cc 74px,#0000e680 77px,#0000 81px"></i>
<i style="--g:#0000 20.4px,#0000 0,#0038ffc8 24.4px,#1affe5c8 27.3px,#ff4c00c8 29.6px,#2effd1c8 32px,#ff6700 0,#ff7300 50.4px,#ff9200 56px,#ffff00 59.5px,#00ffff 64.4px,#00d1ff 65.4px,#004dff 67px,#0000ff 72px,#0000e6 74px,#0000e6cc 74.3px,#0000e680 77.5px,#0000 81px"></i>
<i style="--g:#0000 20.4px,#0000 0,#0038ffc9 24.5px,#1affe5c9 27.4px,#ff4c00c9 29.8px,#2effd1c9 32px,#ff6b00 0,#ff7600 50.8px,#ff9400 56.4px,#ffff00 60px,#00ffff 64.7px,#00d1ff 65.6px,#004dff 67px,#0000ff 72.4px,#0000e6 74px,#0000e6cc 74.7px,#0000e680 77.7px,#0000 81.3px"></i>
<i style="--g:#0000 20.7px,#0000 0,#0038ffca 24.7px,#1affe5ca 27.7px,#ff4c00ca 30px,#2effd1ca 32.3px,#ff6c00 0,#ff7600 51px,#ff9500 56.6px,#ffff00 60px,#00ffff 64.8px,#00d1ff 65.7px,#004dff 67px,#0000ff 72.5px,#0000e6 74.2px,#0000e6cc 74.7px,#0000e680 77.8px,#0000 81.3px"></i>
<i style="--g:#0000 21px,#0000 0,#0038ffcb 25px,#1affe5cb 28px,#ff4c00cb 30.2px,#2effd1cb 32.6px,#ff6d00 0,#ff7700 51px,#ff9600 56.7px,#ffff00 60px,#00ffff 64.8px,#00d1ff 65.7px,#004dff 67.2px,#0000ff 72.5px,#0000e6 74.3px,#0000e6cc 74.8px,#0000e680 78px,#0000 81.4px"></i>
<i style="--g:#0000 21px,#0000 0,#0038ffcc 25.2px,#1affe5cc 28px,#ff4c00cc 30.4px,#2effd1cc 32.8px,#ff6e00 0,#ff7800 51px,#ff9700 57px,#ffff00 60px,#00ffff 65px,#00d1ff 65.7px,#004dff 67.3px,#0000ff 72.6px,#0000e6 74.4px,#0000e6cc 75px,#0000e680 78px,#0000 81.5px"></i>
<i style="--g:#0000 21.4px,#0000 0,#0038ffcc 25.4px,#1affe5cc 28.3px,#ff4c00cc 30.7px,#2effd1cc 33px,#ff6f00 0,#ff7900 51.3px,#ff9800 57px,#ffff00 60px,#00ffff 65px,#00d1ff 65.8px,#004dff 67.3px,#0000ff 72.7px,#0000e6 74.4px,#0000e6cc 75px,#0000e680 78px,#0000 81.5px"></i>
<i style="--g:#0000 21.6px,#0000 0,#0038ffcd 25.7px,#1affe5cd 28.6px,#ff4c00cd 31px,#2effd1cd 33.2px,#ff7000 0,#ff7a00 51.4px,#ff9900 57px,#ffff00 60px,#00ffff 65px,#00d1ff 66px,#004dff 67.4px,#0000ff 72.7px,#0000e6 74.5px,#0000e6cc 75px,#0000e680 78px,#0000 81.6px"></i>
<i style="--g:#0000 22px,#0000 0,#0038ffce 26px,#1affe5ce 28.8px,#ff4c00ce 31px,#2effd1ce 33.4px,#ff7100 0,#ff7b00 51.6px,#ff9a00 57.2px,#ffff00 60.2px,#00ffff 65px,#00d1ff 66px,#004dff 67.5px,#0000ff 72.8px,#0000e6 74.6px,#0000e6cc 75px,#0000e680 78px,#0000 81.7px"></i>
<i style="--g:#0000 22.3px,#0000 0,#0038ffcf 26.3px,#1affe5cf 29px,#ff4c00cf 31.4px,#2effd1cf 33.6px,#ff7200 0,#ff7c00 51.7px,#ff9b00 57.4px,#ffff00 60.3px,#00ffff 65px,#00d1ff 66px,#004dff 67.5px,#0000ff 73px,#0000e6 74.6px,#0000e6cc 75px,#0000e680 78px,#0000 81.7px"></i>
<i style="--g:#0000 24.3px,#0000 0,#0038ffcf 28px,#1affe5cf 30.5px,#ff4c00cf 32.6px,#2effd1cf 34.7px,#ff7300 0,#ff7d00 52px,#ff9c00 57.5px,#ffff00 60.4px,#00ffff 65px,#00d1ff 66px,#004dff 67.6px,#0000ff 73px,#0000e6 74.7px,#0000e6cc 75px,#0000e680 78.2px,#0000 81.8px"></i>
<i style="--g:#0000 26.3px,#0000 0,#0038ffcf 30px,#1affe5cf 32.5px,#ff4c00cf 34.6px,#2effd1cf 36.7px,#ff7400 0,#ff7e00 52px,#ff9d00 57.6px,#ffff00 60.4px,#00ffff 65px,#00d1ff 66px,#004dff 67.7px,#0000ff 73px,#0000e6 74.8px,#0000e6cc 75.3px,#0000e680 78.3px,#0000 82px"></i>
<i style="--g:#0000 28.3px,#0000 0,#0038ffcf 32px,#1affe5cf 34.5px,#ff4c00cf 36.6px,#2effd1cf 38.7px,#ff7500 0,#ff7500 0,#ff7f00 52px,#ff9e00 57.8px,#ffff00 60.5px,#00ffff 65px,#00d1ff 66px,#004dff 67.7px,#0000ff 73px,#0000e6 75px,#0000e6cc 75.3px,#0000e680 78.4px,#0000 82px"></i>
<i style="--g:#0000 29px,#0000 0,#0038ffcf 33px,#1affe5cf 36px,#ff4c00cf 38.3px,#2effd1cf 40.7px,#ff7700 0,#ff8000 52px,#ff9e00 58px,#ffff00 60.5px,#00ffff 65px,#00d1ff 66px,#004dff 67.8px,#0000ff 73px,#0000e6 75px,#0000e6cc 75.4px,#0000e680 78.4px,#0000 82px"></i>
<i style="--g:#0000 29px,#0000 0,#0038ffcf 37.3px,#1affe5cf 43.2px,#ff4c00cf 48px,#2effd1cf 52.7px,#ff8300 0,#ff9e00 58px,#ffff00 60.5px,#00ffff 65px,#00d1ff 66px,#004dff 67.8px,#0000ff 73px,#0000e6 75px,#0000e6cc 75.4px,#0000e680 78.4px,#0000 82px"></i>
<i style="--g:#0000 29px,#0000 0,#0038ffcf 37.4px,#1affe5cf 43.4px,#ff4c00cf 48.2px,#2effd1cf 53px,#ff8400 0,#ff9e00 58px,#ffff00 60.5px,#00ffff 65px,#00d1ff 66px,#004dff 67.8px,#0000ff 73px,#0000e6 75px,#0000e6cc 75.4px,#0000e680 78.4px,#0000 82px"></i>
<i style="--g:#0000 29px,#0000 0,#0038ffcf 37.4px,#1affe5cf 43.4px,#ff4c00cf 48.2px,#2effd1cf 53px,#ff8400 0,#ff9e00 58px,#ffff00 60.5px,#00ffff 65px,#00d1ff 66px,#004dff 67.8px,#0000ff 73px,#0000e6 75px,#0000e6cc 75.4px,#0000e680 78.4px,#0000 82px"></i>
</div>
<div class="p" style="left:27.30px;top:126px;width:85.15px">
<i style="--g:#0000 32px,#b30000 0,#b30000 37px,#ff0000 39.7px,#ffdb00 45.6px,#ffff00 47.5px,#80ff80 53px,#2effd1e6 54.8px,#00ffffab 57px,#00d1ff66 58.3px,#00b2ff26 61px,#0000 63.3px"></i>
<i style="--g:#0000 32px,#b30000 0,#b30000 37px,#ff0000 39.8px,#ffdb00 45.6px,#ffff00 47.6px,#80ff80 53px,#2effd1e6 55px,#00ffffab 57px,#00d1ff66 58.4px,#00b2ff26 61.3px,#0000 63.4px"></i>
<i style="--g:#0000 32px,#b30000 0,#b30000 37.2px,#ff0000 40px,#ffdb00 45.7px,#ffff00 47.7px,#80ff80 53px,#2effd1e6 55px,#00ffffab 57px,#00d1ff66 58.5px,#00b2ff26 61.4px,#0000 63.5px"></i>
<i style="--g:#0000 32px,#b30000 0,#b30000 37.3px,#ff0000 40px,#ffdb00 46px,#ffff00 47.7px,#80ff80 53px,#2effd1e6 55px,#00ffffab 57.3px,#00d1ff66 58.6px,#00b2ff26 61.5px,#0000 63.6px"></i>
<i style="--g:#0000 32px,#b30000 0,#b30000 37.4px,#ff0000 40px,#ffdb00 46px,#ffff00 48px,#80ff80 53.3px,#2effd1e6 55px,#00ffffab 57.4px,#00d1ff66 58.7px,#00b2ff26 61.6px,#0000 63.7px"></i>
<i style="--g:#0000 32px,#b30000 0,#b30000 37.5px,#ff0000 40px,#ffdb00 46px,#ffff00 48px,#80ff80 53.4px,#2effd1e6 55.3px,#00ffffab 57.5px,#00d1ff66 59px,#00b2ff26 61.7px,#0000 63.8px"></i>
<i style="--g:#0000 31.8px,#b30000 0,#b30000 37.6px,#ff0000 40.3px,#ffdc00 46px,#ffff00 48px,#7dff82 53.3px,#2cffd3e6 55.3px,#00ffffb1 57.5px,#00ccff69 59px,#00adff2a 61.7px,#0000 64px"></i>
<i style="--g:#0000 31.7px,#b30000 0,#b30000 37.4px,#ff0000 40.3px,#ffe200 46px,#ffff00 47px,#72ff8d 52.6px,#24ffdbe8 55.2px,#00ffffc9 56.8px,#00aeff7b 59px,#0091ff3d 61.6px,#0000 64.7px"></i>
<i style="--g:#0000 31.7px,#b30000 0,#b30000 37.3px,#ff0000 40.2px,#ffe800 45.6px,#ffff00 46.4px,#67ff98 52px,#00ffffd8 56px,#00dcffc2 57.5px,#0090ff8c 59.4px,#0075ff51 61.6px,#0000 65.5px"></i>
<i style="--g:#0000 31.7px,#b30000 0,#b30000 37px,#ff0000 40.2px,#ffff00 46px,#5cffa3 51px,#00ffffe2 55.7px,#00caffc9 57.6px,#0073ff9e 59.7px,#0059ff64 61.5px,#0000 66.2px"></i>
<i style="--g:#0000 31.6px,#b30000 0,#b30000 37px,#ff0500 40.4px,#ffff00 45.4px,#50ffaf 50.4px,#00ffffe9 55.3px,#00b7ffd0 57.7px,#0055ffb0 60px,#003cff77 61.4px,#003cff40 64px,#0000 67px"></i>
<i style="--g:#0000 31px,#0000 0,#004dff27 31.6px,#b30000 0,#b30000 37px,#ff0500 40.4px,#ffff00 45px,#9cff63 47px,#45ffba 49.7px,#00ffffee 55px,#00a5ffd7 57.7px,#0037ffc1 60px,#0020ff8b 61.3px,#0020ff4d 64.4px,#0000 67.7px"></i>
<i style="--g:#0000 29.3px,#0000 0,#004dff28 31.6px,#b30000 0,#b30000 36.7px,#ff0500 40.4px,#ff8000 42.7px,#fffe00 44.7px,#ffff00 0,#8eff71 46.8px,#3affc5 49px,#00f9fff0 54.7px,#0093ffde 57.8px,#001affd3 60.4px,#0004ff9e 61.2px,#0004ff59 64.7px,#0000 68.4px"></i>
<i style="--g:#0000 27.4px,#0000 0,#004dff2a 31.5px,#b30000 0,#b30000 36.5px,#ff0500 40.4px,#ff8000 42.6px,#ffff00 44.4px,#80ff7f 46.4px,#2effd1 48.3px,#00fffff5 53px,#00f0fff2 54.6px,#0080ffe5 58px,#0000fbe5 60.7px,#0000e7b2 61px,#0000e766 65px,#0000 69px"></i>
<i style="--g:#0000 25.5px,#0000 0,#004dff2b 31.5px,#b80000 0,#b80000 36.7px,#ff0800 40.6px,#ff7e00 43px,#ffff00 44.7px,#80ff80 46.7px,#2dffd2 48.7px,#00fffff6 53px,#00eefff3 55px,#0000f9e7 61px,#0000e6b4 61.4px,#0000e668 65.3px,#0000 69.6px"></i>
<i style="--g:#0000 25.4px,#0000 0,#004dff2d 31.5px,#be0000 0,#be0000 37px,#ff0000 40px,#ff0c00 40.7px,#ff7d00 43px,#ffff00 45px,#80ff80 47px,#2bffd4 49px,#00fffff7 53.2px,#00ecfff4 55px,#0000f7e9 61px,#0000e6b6 61.6px,#0000e669 65.6px,#0000 70px"></i>
<i style="--g:#0000 25.2px,#0000 0,#004dff2e 31.5px,#c30000 0,#c30000 37px,#ff0000 40px,#ff1000 41px,#ff7b00 43.4px,#ffff00 45.5px,#80ff80 47.6px,#2affd5 49.6px,#00fffff8 53.3px,#00e9fff5 55.3px,#0000f6eb 61.3px,#0000e6b8 62px,#0000e66b 66px,#0000 70.6px"></i>
<i style="--g:#0000 25px,#0000 0,#004dff30 31.4px,#c90000 0,#c90000 37.2px,#ff0000 40px,#ff1300 41px,#ff7a00 43.6px,#ffff00 46px,#80ff80 48px,#28ffd7 50px,#00fffff9 53.5px,#00e7fff6 55.5px,#0000ffec 61.3px,#0000f4ec 61.5px,#0000e6b9 62px,#0000e66d 66.4px,#0000 71px"></i>
<i style="--g:#0000 25px,#0000 0,#004dff31 31.4px,#cf0000 0,#cf0000 37.4px,#ff0000 40px,#ff1700 41px,#ff7800 44px,#ffff00 46.3px,#80ff80 48.5px,#27ffd8 50.4px,#00fffffa 53.6px,#00e5fff7 55.7px,#006effee 58.4px,#0000ffee 61.4px,#0000f3ee 61.8px,#0000e6bb 62.3px,#0000e66f 66.8px,#0000 71.5px"></i>
<i style="--g:#0000 25px,#0000 0,#004dff33 31.4px,#d40000 0,#d40000 37.6px,#ff0000 40px,#ff1a00 41.3px,#ff7700 44px,#ffff00 46.6px,#80ff80 49px,#25ffda 51px,#00fffffb 53.8px,#00e3fff8 56px,#006afff0 58.6px,#0000fff0 61.6px,#0000f1f0 62px,#0000e6bd 62.5px,#0000e671 67px,#0000 72px"></i>
<i style="--g:#0000 24.7px,#0000 0,#004dff34 31.4px,#da0000 0,#da0000 37.7px,#ff0000 40px,#ff1e00 41.5px,#ff7600 44.5px,#ffff00 47px,#80ff80 49.3px,#24ffdb 51.3px,#00fffffb 54px,#00e1fff8 56px,#0067fff2 58.7px,#0000fff2 61.8px,#0000f0f2 62.2px,#0000e6bf 62.7px,#0000e672 67.5px,#0000 72.4px"></i>
<i style="--g:#0000 24.6px,#0000 0,#004dff36 31.3px,#df0000 0,#df0000 38px,#ff0000 39.7px,#ff2100 41.6px,#ff7400 44.7px,#ffff00 47.4px,#23ffdc 51.8px,#00fffffc 54px,#00dffff9 56.4px,#0063fff4 59px,#0000fff4 62px,#0000eff4 62.4px,#0000e6c1 63px,#0000e674 68px,#0000 73px"></i>
<i style="--g:#0000 24.5px,#0000 0,#004dff37 31.3px,#e50000 0,#e50000 38px,#ff0000 39.6px,#ff7300 45px,#ffff00 47.8px,#21ffde 52.2px,#00fffffd 54.4px,#00ddfffa 56.6px,#0060fff5 59px,#0000fff5 62px,#0000edf5 62.7px,#0000e6c2 63px,#0000e676 68.2px,#0000 73.4px"></i>
<i style="--g:#0000 24.4px,#0000 0,#004dff39 31.3px,#eb0000 0,#eb0000 38.3px,#ff0000 39.5px,#ff7100 45.3px,#ffff00 48px,#20ffdf 52.7px,#00fffffd 54.6px,#00dbfffb 57px,#005cfff7 59px,#0000fff7 62.2px,#0000ecf7 63px,#0000e6c4 63.4px,#0000e678 68.6px,#0000 74px"></i>
<i style="--g:#0000 24.2px,#0000 0,#004dff3a 31.3px,#f00000 0,#f00000 38.4px,#ff0000 39.3px,#ff7000 45.5px,#ffff00 48.6px,#1effe1 53px,#00fffffe 55px,#00d8fffc 57px,#0059fff9 59px,#0000fff9 62.4px,#0000eaf9 63px,#0000e6c6 63.6px,#0000e679 69px,#0000 74.3px"></i>
<i style="--g:#0000 24px,#0000 0,#004dff3c 31.2px,#f60000 0,#ff0000 39px,#ff6f00 46px,#ffff00 49px,#1dffe2 53.5px,#00fffffe 55px,#00d6fffd 57.3px,#0055fffb 59.3px,#0000fffb 62.5px,#0000e9fb 63.3px,#0000e6c8 64px,#0000e67b 69.3px,#0000 74.8px"></i>
<i style="--g:#0000 24px,#0000 0,#004dff3d 31.2px,#fc0000 0,#ff0000 39px,#ff6d00 46px,#ffff00 49.3px,#1cffe3 54px,#00fffffe 55.4px,#00d4fffe 57.5px,#0052fffc 59.4px,#0000fffc 62.6px,#0000e8fc 63.5px,#0000e6c9 64px,#0000e67d 69.7px,#0000 75.2px"></i>
<i style="--g:#0000 24px,#0000 0,#004dff3f 31px,#ff0200 0,#ff0200 39px,#ff6c00 46.3px,#ffff00 49.7px,#1affe5 54.4px,#00ffff 55.6px,#00d2ff 57.7px,#004efffe 59.5px,#0000fffe 62.7px,#0000e6fe 63.8px,#0000e6cb 64.3px,#0000e67f 70px,#0000 75.7px"></i>
<i style="--g:#0000 24px,#0000 0,#004dff42 31px,#ff0600 0,#ff0600 39px,#ff6b00 46.6px,#ffff00 50px,#1affe5 55px,#00ffff 56px,#00d1ff 58px,#004dff 59.8px,#0000ff 63px,#0000e6 64px,#0000e6cc 64.6px,#0000e680 70.4px,#0000 76px"></i>
<i style="--g:#0000 24px,#0000 0,#004dff47 31px,#ff0800 0,#ff0800 39px,#ff6c00 47px,#ffff00 50.4px,#1affe5 55px,#00ffff 56.3px,#00d1ff 58.3px,#004dff 60px,#0000ff 63.4px,#0000e6 64.5px,#0000e6cc 65px,#0000e680 70.7px,#0000 76.3px"></i>
<i style="--g:#0000 24px,#0000 0,#004dff4c 31px,#ff0a00 0,#ff0a00 39px,#ff6d00 47.2px,#ffff00 50.7px,#1affe5 55.5px,#00ffff 56.6px,#00d1ff 58.6px,#004dff 60.3px,#0000ff 63.7px,#0000e6 65px,#0000e6cc 65.3px,#0000e680 71px,#0000 76.5px"></i>
<i style="--g:#0000 24px,#0000 0,#004dff52 31px,#ff0d00 0,#ff0d00 39px,#ff6e00 47.5px,#ffff00 51px,#1affe5 55.8px,#00ffff 57px,#00d1ff 59px,#004dff 60.6px,#0000ff 64px,#0000e6 65.2px,#0000e6cc 65.7px,#0000e680 71.3px,#0000 76.8px"></i>
<i style="--g:#0000 24px,#0000 0,#004dff57 31px,#ff0f00 0,#ff0f00 39px,#ff6e00 48px,#ffff00 51.3px,#1affe5 56px,#00ffff 57px,#00d1ff 59px,#004dff 61px,#0000ff 64.5px,#0000e6 65.6px,#0000e6cc 66px,#0000e680 71.6px,#0000 77px"></i>
<i style="--g:#0000 24px,#0000 0,#004dff5c 31px,#ff1100 0,#ff1100 39px,#ff6f00 48px,#ffff00 51.7px,#1affe5 56.4px,#00ffff 57.5px,#00d1ff 59.5px,#004dff 61.2px,#0000ff 65px,#0000e6 66px,#0000e6cc 66.5px,#0000e680 72px,#0000 77.3px"></i>
<i style="--g:#0000 24px,#0000 0,#004dff61 31px,#ff1300 0,#ff1300 39px,#ff7000 48.4px,#ffff00 52px,#1affe5 56.8px,#00ffff 58px,#00d1ff 59.8px,#004dff 61.5px,#0000ff 65.2px,#0000e6 66.4px,#0000e6cc 67px,#0000e680 72px,#0000 77.5px"></i>
<i style="--g:#0000 24.2px,#0000 0,#004dff67 31px,#ff1500 0,#ff1500 39px,#ff7000 48.7px,#ffff00 52.3px,#1affe5 57px,#00ffff 58px,#00d1ff 60px,#004dff 62px,#0000ff 65.6px,#0000e6 67px,#0000e6cc 67.3px,#0000e680 72.5px,#0000 77.8px"></i>
<i style="--g:#0000 24.3px,#0000 0,#004dff6c 31px,#ff1700 0,#ff1700 39px,#ff7100 49px,#ffff00 52.6px,#1affe5 57.4px,#00ffff 58.5px,#00d1ff 60.3px,#004dff 62px,#0000ff 66px,#0000e6 67.2px,#0000e6cc 67.7px,#0000e680 72.8px,#0000 78px"></i>
<i style="--g:#0000 24.3px,#0000 0,#0038ff99 26.6px,#1affe599 28.3px,#ff4c0099 29.6px,#2effd199 31px,#ff1900 0,#ff1900 39px,#ff7200 49.3px,#ffff00 53px,#1affe5 57.7px,#00ffff 58.8px,#00d1ff 60.6px,#004dff 62.4px,#0000ff 66.3px,#0000e6 67.6px,#0000e6cc 68px,#0000e680 73px,#0000 78.3px"></i>
<i style="--g:#0000 24.4px,#0000 0,#0038ffa0 26.6px,#1affe5a0 28.3px,#ff4c00a0 29.5px,#2effd1a0 31px,#ff1b00 0,#ff1b00 39px,#ff7300 49.6px,#ffff00 53.3px,#1affe5 58px,#00ffff 59px,#00d1ff 61px,#004dff 62.7px,#0000ff 66.7px,#0000e6 68px,#0000e6cc 68.5px,#0000e680 73.4px,#0000 78.5px"></i>
<i style="--g:#0000 24.5px,#0000 0,#0038ffa7 26.8px,#1affe5a7 28.4px,#ff4c00a7 29.7px,#2effd1a7 31px,#ff1e00 0,#ff1e00 39px,#ff7300 50px,#ffff00 53.6px,#1affe5 58.4px,#00ffff 59.4px,#00d1ff 61.2px,#004dff 63px,#0000ff 67px,#0000e6 68.4px,#0000e6cc 69px,#0000e680 73.6px,#0000 78.8px"></i>
<i style="--g:#0000 24.5px,#0000 0,#0038ffae 27px,#1affe5ae 28.6px,#ff4c00ae 30px,#2effd1ae 31.3px,#ff2000 0,#ff2000 39px,#ff7400 50px,#ffff00 54px,#1affe5 58.7px,#00ffff 59.7px,#00d1ff 61.5px,#004dff 63.3px,#0000ff 67.4px,#0000e6 68.8px,#0000e6cc 69.3px,#0000e680 74px,#0000 79px"></i>
<i style="--g:#0000 24.6px,#0000 0,#0038ffb5 27px,#1affe5b5 28.7px,#ff4c00b5 30px,#2effd1b5 31.5px,#ff2200 0,#ff2200 39px,#ff7500 50.5px,#ffff00 54.2px,#1affe5 59px,#00ffff 60px,#00d1ff 62px,#004dff 63.6px,#0000ff 67.8px,#0000e6 69px,#0000e6cc 69.7px,#0000e680 74.2px,#0000 79.2px"></i>
<i style="--g:#0000 24.6px,#0000 0,#0038ffbc 27px,#1affe5bc 29px,#ff4c00bc 30.2px,#2effd1bc 31.6px,#ff2400 0,#ff2400 39px,#ff7500 50.8px,#ffff00 54.5px,#1affe5 59.3px,#00ffff 60.3px,#00d1ff 62px,#004dff 64px,#0000ff 68px,#0000e6 69.6px,#0000e6cc 70px,#0000e680 74.5px,#0000 79.5px"></i>
<i style="--g:#0000 24.6px,#0000 0,#0038ffbd 27px,#1affe5bd 28.7px,#ff4c00bd 30px,#2effd1bd 31.4px,#ff2900 0,#ff2900 39px,#ff7800 51px,#ffff00 55px,#1affe5 59.7px,#00ffff 60.6px,#00d1ff 62.3px,#004dff 64px,#0000ff 68.4px,#0000e6 70px,#0000e6cc 70.4px,#0000e680 74.7px,#0000 79.6px"></i>
<i style="--g:#0000 24.5px,#0000 0,#0038ffbd 27px,#1affe5bd 28.6px,#ff4c00bd 30px,#2effd1bd 31.2px,#ff2e00 0,#ff2e00 39px,#ff7a00 51.5px,#ffff00 55.2px,#1affe5 60px,#00ffff 61px,#00d1ff 62.6px,#004dff 64.3px,#0000ff 68.7px,#0000e6 70px,#0000e6cc 70.7px,#0000e680 75px,#0000 79.7px"></i>
<i style="--g:#0000 24.5px,#0000 0,#0038ffbd 26.8px,#1affe5bd 28.4px,#ff4c00bd 29.7px,#2effd1bd 31px,#ff3300 0,#ff3300 39px,#ff7c00 52px,#ffff00 55.6px,#1affe5 60.3px,#00ffff 61.2px,#00d1ff 62.8px,#004dff 64.5px,#0000ff 69px,#0000e6 70.5px,#0000e6cc 71px,#0000e680 75px,#0000 80px"></i>
<i style="--g:#0000 24.4px,#0000 0,#0038ffbd 26.7px,#1affe5bd 28.3px,#ff4c00bd 29.6px,#2effd1bd 31px,#ff3800 0,#ff3800 39px,#ff7e00 52.3px,#ffff00 56px,#80ff80 58.4px,#00ffff 61.5px,#00d1ff 63px,#004dff 64.7px,#0000ff 69.3px,#0000e6 70.8px,#0000e6cc 71.3px,#0000e680 75.3px,#0000 80px"></i>
<i style="--g:#0000 24.4px,#0000 0,#0038ffbd 26.6px,#1affe5bd 28px,#ff4c00bd 29.4px,#2effd1bd 30.7px,#ff3d00 0,#ff3d00 39px,#ff8000 52.7px,#ffff00 56.3px,#80ff80 58.7px,#00ffff 61.8px,#00d1ff 63.3px,#004dff 65px,#0000ff 69.5px,#0000e6 71px,#0000e6cc 71.6px,#0000e680 75.6px,#0000 80px"></i>
<i style="--g:#0000 24.3px,#0000 0,#0038ffbd 26.5px,#1affe5bd 28px,#ff4c00bd 29.2px,#2effd1bd 30.5px,#ff4200 0,#ff4200 38.8px,#ff8200 53px,#ffff00 56.6px,#80ff80 59px,#00ffff 62px,#00d1ff 63.5px,#004dff 65px,#0000ff 70px,#0000e6 71.4px,#0000e6cc 72px,#0000e680 75.8px,#0000 80px"></i>
<i style="--g:#0000 24.2px,#0000 0,#0038ffbd 26.4px,#1affe5bd 28px,#ff4c00bd 29.3px,#2effd1bd 30.5px,#ff4700 0,#ff4700 38.7px,#ff6100 47.6px,#ff8400 53.4px,#ffff00 57px,#80ff80 59.4px,#00ffff 62.4px,#00d1ff 63.7px,#004dff 65.3px,#0000ff 70px,#0000e6 71.7px,#0000e6cc 72px,#0000e680 76px,#0000 80.2px"></i>
<i style="--g:#0000 24px,#0000 0,#0038ffbd 26.7px,#1affe5bd 28.4px,#ff4c00bd 30px,#2effd1bd 31.2px,#ff4c00 0,#ff4c00 38.7px,#ff6300 48px,#ff8600 53.8px,#ffff00 57.3px,#80ff80 59.7px,#00ffff 62.7px,#00d1ff 64px,#004dff 65.5px,#0000ff 70.4px,#0000e6 72px,#0000e6cc 72.5px,#0000e680 76px,#0000 80.3px"></i>
<i style="--g:#0000 24px,#0000 0,#0038ffbd 27px,#1affe5bd 29px,#ff4c00bd 30.4px,#2effd1bd 32px,#ff5100 0,#ff6600 48.4px,#ff8900 54px,#ffff00 57.7px,#80ff80 60px,#00ffff 63px,#00d1ff 64px,#004dff 65.7px,#0000ff 70.7px,#0000e6 72.3px,#0000e6cc 73px,#0000e680 76.4px,#0000 80.5px"></i>
<i style="--g:#0000 24px,#0000 0,#0038ffbd 27px,#1affe5bd 29.2px,#ff4c00bd 31px,#2effd1bd 32.7px,#ff5600 0,#ff6900 48.8px,#ff8b00 54.5px,#ffff00 58px,#80ff80 60.4px,#00ffff 63.2px,#00d1ff 64.4px,#004dff 66px,#0000ff 71px,#0000e6 72.6px,#0000e6cc 73px,#0000e680 76.6px,#0000 80.6px"></i>
<i style="--g:#0000 24px,#0000 0,#0038ffbd 27.3px,#1affe5bd 29.7px,#ff4c00bd 31.5px,#2effd1bd 33.4px,#ff5a00 0,#ff6c00 49px,#ff8d00 55px,#ffff00 58.4px,#80ff80 60.7px,#00ffff 63.5px,#00d1ff 64.6px,#004dff 66px,#0000ff 71.2px,#0000e6 73px,#0000e6cc 73.4px,#0000e680 76.8px,#0000 80.7px"></i>
<i style="--g:#0000 24px,#0000 0,#0038ffbd 27.5px,#1affe5bd 30px,#ff4c00bd 32px,#2effd1bd 34px,#ff5f00 0,#ff6f00 49.6px,#ff8f00 55.3px,#ffff00 58.8px,#80ff80 61px,#00ffff 64px,#00d1ff 65px,#004dff 66.4px,#0000ff 71.5px,#0000e6 73.2px,#0000e6cc 73.7px,#0000e680 77px,#0000 80.8px"></i>
<i style="--g:#0000 24px,#0000 0,#0038ffbd 27.7px,#1affe5bd 30.5px,#ff4c00bd 32.7px,#2effd1bd 35px,#ff6400 0,#ff7100 50px,#ff9100 55.7px,#ffff00 59px,#80ff80 61.4px,#00ffff 64px,#00d1ff 65px,#004dff 66.6px,#0000ff 71.8px,#0000e6 73.5px,#0000e6cc 74px,#0000e680 77.2px,#0000 81px"></i>
<i style="--g:#0000 24px,#0000 0,#0038ffbd 27.5px,#1affe5bd 30px,#ff4c00bd 32.2px,#2effd1bd 34.3px,#ff6900 0,#ff7400 50.4px,#ff9300 56px,#ffff00 59.5px,#00ffff 64.4px,#00d1ff 65.3px,#004dff 66.8px,#0000ff 72px,#0000e6 74px,#0000e6cc 74.3px,#0000e680 77.4px,#0000 81px"></i>
<i style="--g:#0000 24px,#0000 0,#0038ffbd 27.3px,#1affe5bd 29.7px,#ff4c00bd 31.7px,#2effd1bd 33.6px,#ff6c00 0,#ff7600 50.6px,#ff9500 56.3px,#ffff00 59.6px,#00ffff 64.5px,#00d1ff 65.4px,#004dff 67px,#0000ff 72.2px,#0000e6 74px,#0000e6cc 74.5px,#0000e680 77.5px,#0000 81px"></i>
<i style="--g:#0000 24px,#0000 0,#0038ffbd 27px,#1affe5bd 29.4px,#ff4c00bd 31px,#2effd1bd 33px,#ff6d00 0,#ff7700 50.7px,#ff9500 56.4px,#ffff00 59.7px,#00ffff 64.6px,#00d1ff 65.5px,#004dff 67px,#0000ff 72.3px,#0000e6 74px,#0000e6cc 74.5px,#0000e680 77.6px,#0000 81px"></i>
<i style="--g:#0000 24.3px,#0000 0,#0038ffbd 27px,#1affe5bd 29px,#ff4c00bd 30.6px,#2effd1bd 32px,#ff6e00 0,#ff7800 51px,#ff9600 56.5px,#ffff00 59.8px,#00ffff 64.6px,#00d1ff 65.5px,#004dff 67px,#0000ff 72.3px,#0000e6 74px,#0000e6cc 74.6px,#0000e680 77.7px,#0000 81.2px"></i>
<i style="--g:#0000 24.6px,#0000 0,#0038ffbd 27px,#1affe5bd 28.7px,#ff4c00bd 30px,#2effd1bd 31.5px,#ff6f00 0,#ff7900 51px,#ff9700 56.7px,#ffff00 60px,#00ffff 64.6px,#00d1ff 65.5px,#004dff 67px,#0000ff 72.4px,#0000e6 74px,#0000e6cc 74.7px,#0000e680 77.7px,#0000 81.3px"></i>
<i style="--g:#0000 25px,#0000 0,#0038ffbd 27.4px,#1affe5bd 29px,#ff4c00bd 30.7px,#2effd1bd 32px,#ff6f00 0,#ff7a00 51px,#ff9800 57px,#ffff00 60px,#00ffff 64.7px,#00d1ff 65.6px,#004dff 67px,#0000ff 72.5px,#0000e6 74.2px,#0000e6cc 74.7px,#0000e680 77.8px,#0000 81.3px"></i>
<i style="--g:#0000 25px,#0000 0,#0038ffbd 28px,#1affe5bd 30.3px,#ff4c00bd 32px,#2effd1bd 33.7px,#ff7000 0,#ff7b00 51.3px,#ff9900 57px,#ffff00 60px,#00ffff 64.7px,#00d1ff 65.6px,#004dff 67.2px,#0000ff 72.5px,#0000e6 74.3px,#0000e6cc 75px,#0000e680 78px,#0000 81.4px"></i>
<i style="--g:#0000 25.3px,#0000 0,#0038ffbd 29px,#1affe5bd 31.3px,#ff4c00bd 33.4px,#2effd1bd 35.4px,#ff7100 0,#ff7c00 51.4px,#ff9a00 57px,#ffff00 60px,#00ffff 64.7px,#00d1ff 65.6px,#004dff 67.3px,#0000ff 72.6px,#0000e6 74.4px,#0000e6cc 75px,#0000e680 78px,#0000 81.5px"></i>
<i style="--g:#0000 26.4px,#0000 0,#0038ffbd 30px,#1affe5bd 32.8px,#ff4c00bd 35px,#2effd1bd 37px,#ff7200 0,#ff7c00 51.5px,#ff9b00 57.2px,#ffff00 60px,#00ffff 64.8px,#00d1ff 65.7px,#004dff 67.3px,#0000ff 72.7px,#0000e6 74.4px,#0000e6cc 75px,#0000e680 78px,#0000 81.5px"></i>
<i style="--g:#0000 33px,#0000 0,#0038ffbd 35px,#1affe5bd 36.3px,#ff4c00bd 37.5px,#2effd1bd 38.6px,#ff7300 0,#ff7d00 51.7px,#ff9c00 57.3px,#ffff00 60px,#00ffff 64.8px,#00d1ff 65.7px,#004dff 67.4px,#0000ff 72.7px,#0000e6 74.5px,#0000e6cc 75px,#0000e680 78px,#0000 81.6px"></i>
<i style="--g:#0000 36.7px,#0000 0,#0038ffbd 38px,#1affe5bd 39px,#ff4c00bd 39.6px,#2effd1bd 40.4px,#ff7600 0,#ff7e00 51.8px,#ff9d00 57.5px,#ffff00 60.2px,#00ffff 65px,#00d1ff 65.7px,#004dff 67.5px,#0000ff 72.8px,#0000e6 74.6px,#0000e6cc 75px,#0000e680 78px,#0000 81.7px"></i>
<i style="--g:#0000 36.7px,#0000 0,#0038ffbd 39px,#1affe5bd 40.8px,#ff4c00bd 42px,#2effd1bd 43.5px,#ff7900 0,#ff7f00 52px,#ff9e00 57.6px,#ffff00 60.3px,#00ffff 65px,#00d1ff 65.8px,#004dff 67.5px,#0000ff 73px,#0000e6 74.6px,#0000e6cc 75px,#0000e680 78px,#0000 81.7px"></i>
<i style="--g:#0000 36.7px,#0000 0,#0038ffbd 42px,#1affe5bd 46px,#ff4c00bd 49px,#2effd1bd 52px,#ff8000 0,#ff9e00 57.6px,#ffff00 60.3px,#00ffff 65px,#00d1ff 65.8px,#004dff 67.6px,#0000ff 73px,#0000e6 74.6px,#0000e6cc 75px,#0000e680 78px,#0000 81.7px"></i>
<i style="--g:#0000 36.7px,#0000 0,#0038ffbd 46px,#1affe5bd 52.4px,#ff4c00bd 57.6px,#2effd1bd 63px,#71ff8e 0,#00ffff 65px,#00d1ff 65.8px,#004dff 67.6px,#0000ff 73px,#0000e6 74.6px,#0000e6cc 75px,#0000e680 78px,#0000 81.7px"></i>
<i style="--g:#0000 36.7px,#0000 0,#0038ffbd 47.2px,#1affe5bd 54.7px,#ff4c00bd 60.8px,#2effd1bd 66.8px,#0086ff 0,#004dff 67.6px,#0000ff 73px,#0000e6 74.6px,#0000e6cc 75px,#0000e680 78px,#0000 81.7px"></i>
<i style="--g:#0000 36.7px,#0000 0,#0038ffbd 47.2px,#1affe5bd 54.7px,#ff4c00bd 60.8px,#2effd1bd 66.8px,#0086ff 0,#004dff 67.6px,#0000ff 73px,#0000e6 74.6px,#0000e6cc 75px,#0000e680 78px,#0000 81.7px"></i>
</div>
<div class="p" style="left:122.30px;top:126px;width:85.15px">
<i style="--g:#0000 31.5px,#b30000 0,#b30000 36.3px,#ff0000 37.7px,#ffff00 41.8px,#1affe5 51.2px,#00f0ffd9 56px,#0080ff99 58.3px,#004dff66 61px,#0038ff26 64px,#0000 67.5px"></i>
<i style="--g:#0000 31.5px,#b30000 0,#b30000 36.4px,#ff0000 38px,#ffff00 42px,#1affe5 51.3px,#00f0ffd9 56px,#0080ff99 58.4px,#004dff66 61px,#0038ff26 64px,#0000 67.6px"></i>
<i style="--g:#0000 31.5px,#b30000 0,#b30000 36.5px,#ff0000 38px,#ffff00 42px,#1affe5 51.4px,#00f0ffd9 56px,#0080ff99 58.5px,#004dff66 61px,#0038ff26 64px,#0000 67.7px"></i>
<i style="--g:#0000 31.5px,#b30000 0,#b30000 36.6px,#ff0000 38px,#ffff00 42px,#1affe5 51.5px,#00f0ffd9 56px,#0080ff99 58.6px,#004dff66 61.2px,#0038ff26 64.3px,#0000 68px"></i>
<i style="--g:#0000 31.5px,#b30000 0,#b30000 36.7px,#ff0000 38px,#ffff00 42px,#1affe5 51.6px,#00f0ffd9 56.2px,#0080ff99 58.7px,#004dff66 61.3px,#0038ff26 64.4px,#0000 68px"></i>
<i style="--g:#0000 31.5px,#b30000 0,#b30000 37px,#ff0000 38.2px,#ffff00 42.3px,#1affe5 51.7px,#00f0ffd9 56.3px,#0080ff99 59px,#004dff66 61.4px,#0038ff26 64.5px,#0000 68px"></i>
<i style="--g:#0000 31.5px,#b30000 0,#b30000 37px,#ff0000 38.3px,#ffff00 42.4px,#18ffe7 52px,#00ffffe9 54.5px,#00edffd9 56.4px,#007cff9b 59px,#004aff68 61.5px,#0036ff28 64.6px,#0000 68px"></i>
<i style="--g:#0000 31.5px,#b30000 0,#b30000 37px,#ff0000 38.6px,#ffff00 42.7px,#61ff9e 48.4px,#00fffff1 54px,#00ddffdb 56.6px,#006affa6 59px,#003cff73 61.5px,#002bff31 64.6px,#0000 68.3px"></i>
<i style="--g:#0000 31.5px,#b30000 0,#b30000 36.8px,#ff0000 39px,#ff8000 41px,#ffff00 43px,#59ffa6 48.4px,#00fffff5 53.5px,#00ceffdd 57px,#0057ffb0 59.4px,#002eff7d 61.4px,#0000 68.4px"></i>
<i style="--g:#0000 31.5px,#b30000 0,#b30000 36.7px,#ff0000 39px,#ff8000 41.4px,#ffff00 43.2px,#9cff63 46px,#50ffaf 48.3px,#00fffff7 53.5px,#00beffde 57px,#0045ffbb 59.7px,#0020ff88 61.4px,#0000 68.6px"></i>
<i style="--g:#0000 31.5px,#b30000 0,#b30000 36.7px,#ff0500 39.6px,#ff8000 41.7px,#ffff00 43.5px,#95ff6a 46px,#48ffb7 48.3px,#00fffff7 53.5px,#00afffe0 57.2px,#0033ffc5 60px,#0011ff92 61.3px,#0000 68.7px"></i>
<i style="--g:#0000 31.5px,#b30000 0,#b30000 36.6px,#ff0500 40px,#ff8000 42px,#ffff00 43.8px,#8eff71 46px,#3fffc0 48.3px,#00fbfff6 54px,#009fffe2 57.4px,#0020ffd0 60px,#0003ff9d 61.3px,#0000fd54 65px,#0000 69px"></i>
<i style="--g:#0000 31.5px,#b30000 0,#b30000 36.6px,#ff0500 40px,#ff8000 42.3px,#ffff00 44px,#87ff78 46.2px,#37ffc8 48.3px,#00f6fff4 54.2px,#0090ffe4 57.6px,#000effda 60.4px,#0000f4a7 61.2px,#0000 69px"></i>
<i style="--g:#0000 31.5px,#b30000 0,#b30000 36.5px,#ff0500 40.4px,#ff8000 42.6px,#ffff00 44.3px,#80ff7f 46.3px,#2effd1 48.3px,#00fffff5 53px,#00f0fff2 54.6px,#0080ffe5 58px,#0000fbe5 60.7px,#0000e6b2 61px,#0000e666 65px,#0000 69px"></i>
<i style="--g:#0000 31.5px,#b80000 0,#b80000 36.7px,#ff0800 40.6px,#ff7e00 43px,#ffff00 44.7px,#80ff80 46.7px,#2dffd2 48.7px,#00fffff6 53px,#00eefff3 55px,#0000f9e7 61px,#0000e6b4 61.4px,#0000e668 65.3px,#0000 69.6px"></i>
<i style="--g:#0000 31.4px,#be0000 0,#be0000 37px,#ff0000 40px,#ff0c00 40.7px,#ff7d00 43px,#ffff00 45px,#80ff80 47px,#2bffd4 49px,#00fffff7 53.2px,#00ecfff4 55px,#0000f7e9 61px,#0000e6b6 61.6px,#0000e669 65.6px,#0000 70px"></i>
<i style="--g:#0000 31.3px,#c30000 0,#c30000 37px,#ff0000 40px,#ff1000 41px,#ff7b00 43.4px,#ffff00 45.5px,#80ff80 47.6px,#2affd5 49.6px,#00fffff8 53.3px,#00e9fff5 55.3px,#0000f6eb 61.3px,#0000e6b8 62px,#0000e66b 66px,#0000 70.6px"></i>
<i style="--g:#0000 31.3px,#c90000 0,#c90000 37.2px,#ff0000 40px,#ff1300 41px,#ff7a00 43.6px,#ffff00 46px,#80ff80 48px,#28ffd7 50px,#00fffff9 53.5px,#00e7fff6 55.5px,#0000ffec 61.3px,#0000f4ec 61.5px,#0000e6b9 62px,#0000e66d 66.4px,#0000 71px"></i>
<i style="--g:#0000 31.2px,#cf0000 0,#cf0000 37.4px,#ff0000 40px,#ff1700 41px,#ff7800 44px,#ffff00 46.3px,#80ff80 48.5px,#27ffd8 50.4px,#00fffffa 53.6px,#00e5fff7 55.7px,#006effee 58.4px,#0000ffee 61.4px,#0000f3ee 61.8px,#0000e6bb 62.3px,#0000e66f 66.8px,#0000 71.5px"></i>
<i style="--g:#0000 31px,#d40000 0,#d40000 37.6px,#ff0000 40px,#ff1a00 41.3px,#ff7700 44px,#ffff00 46.6px,#80ff80 49px,#25ffda 51px,#00fffffb 53.8px,#00e3fff8 56px,#006afff0 58.6px,#0000fff0 61.6px,#0000f1f0 62px,#0000e6bd 62.5px,#0000e671 67px,#0000 72px"></i>
<i style="--g:#0000 31px,#da0000 0,#da0000 37.7px,#ff0000 40px,#ff1e00 41.5px,#ff7600 44.5px,#ffff00 47px,#80ff80 49.3px,#24ffdb 51.3px,#00fffffb 54px,#00e1fff8 56px,#0067fff2 58.7px,#0000fff2 61.8px,#0000f0f2 62.2px,#0000e6bf 62.7px,#0000e672 67.5px,#0000 72.4px"></i>
<i style="--g:#0000 31px,#df0000 0,#df0000 38px,#ff0000 39.7px,#ff2100 41.6px,#ff7400 44.7px,#ffff00 47.4px,#23ffdc 51.8px,#00fffffc 54px,#00dffff9 56.4px,#0063fff4 59px,#0000fff4 62px,#0000eff4 62.4px,#0000e6c1 63px,#0000e674 68px,#0000 73px"></i>
<i style="--g:#0000 31px,#e50000 0,#e50000 38px,#ff0000 39.6px,#ff7300 45px,#ffff00 47.8px,#21ffde 52.2px,#00fffffd 54.4px,#00ddfffa 56.6px,#0060fff5 59px,#0000fff5 62px,#0000edf5 62.7px,#0000e6c2 63px,#0000e676 68.2px,#0000 73.4px"></i>
<i style="--g:#0000 31px,#eb0000 0,#eb0000 38.3px,#ff0000 39.5px,#ff7100 45.3px,#ffff00 48px,#20ffdf 52.7px,#00fffffd 54.6px,#00dbfffb 57px,#005cfff7 59px,#0000fff7 62.2px,#0000ecf7 63px,#0000e6c4 63.4px,#0000e678 68.6px,#0000 74px"></i>
<i style="--g:#0000 29.6px,#0000 0,#004dff2a 31px,#f00000 0,#f00000 38.4px,#ff0000 39.3px,#ff7000 45.5px,#ffff00 48.6px,#1effe1 53px,#00fffffe 55px,#00d8fffc 57px,#0059fff9 59px,#0000fff9 62.4px,#0000eaf9 63px,#0000e6c6 63.6px,#0000e679 69px,#0000 74.3px"></i>
<i style="--g:#0000 28px,#0000 0,#004dff2c 31px,#f60000 0,#ff0000 39px,#ff6f00 46px,#ffff00 49px,#1dffe2 53.5px,#00fffffe 55px,#00d6fffd 57.3px,#0055fffb 59.3px,#0000fffb 62.5px,#0000e9fb 63.3px,#0000e6c8 64px,#0000e67b 69.3px,#0000 74.8px"></i>
<i style="--g:#0000 27px,#0000 0,#004dff2f 30.8px,#fc0000 0,#ff0000 39px,#ff6d00 46px,#ffff00 49.3px,#1cffe3 54px,#00fffffe 55.4px,#00d4fffe 57.5px,#0052fffc 59.4px,#0000fffc 62.6px,#0000e8fc 63.5px,#0000e6c9 64px,#0000e67d 69.7px,#0000 75.2px"></i>
<i style="--g:#0000 25.4px,#0000 0,#004dff31 30.7px,#ff0200 0,#ff0200 39px,#ff6c00 46.3px,#ffff00 49.7px,#1affe5 54.4px,#00ffff 55.6px,#00d2ff 57.7px,#004efffe 59.5px,#0000fffe 62.7px,#0000e6fe 63.8px,#0000e6cb 64.3px,#0000e67f 70px,#0000 75.7px"></i>
<i style="--g:#0000 24.6px,#0000 0,#004dff34 30.6px,#ff0600 0,#ff0600 39px,#ff6b00 46.6px,#ffff00 50px,#1affe5 55px,#00ffff 56px,#00d1ff 58px,#004dff 59.8px,#0000ff 63px,#0000e6 64px,#0000e6cc 64.6px,#0000e680 70.4px,#0000 76px"></i>
<i style="--g:#0000 24.5px,#0000 0,#004dff36 30.6px,#ff0800 0,#ff0800 39px,#ff6c00 47px,#ffff00 50.4px,#1affe5 55px,#00ffff 56.3px,#00d1ff 58.3px,#004dff 60px,#0000ff 63.4px,#0000e6 64.5px,#0000e6cc 65px,#0000e680 70.7px,#0000 76.3px"></i>
<i style="--g:#0000 24.4px,#0000 0,#004dff39 30.5px,#ff0a00 0,#ff0a00 39px,#ff6d00 47.2px,#ffff00 50.7px,#1affe5 55.5px,#00ffff 56.6px,#00d1ff 58.6px,#004dff 60.3px,#0000ff 63.7px,#0000e6 65px,#0000e6cc 65.3px,#0000e680 71px,#0000 76.5px"></i>
<i style="--g:#0000 24.2px,#0000 0,#004dff3b 30.5px,#ff0d00 0,#ff0d00 39px,#ff6e00 47.5px,#ffff00 51px,#1affe5 55.8px,#00ffff 57px,#00d1ff 59px,#004dff 60.6px,#0000ff 64px,#0000e6 65.2px,#0000e6cc 65.7px,#0000e680 71.3px,#0000 76.8px"></i>
<i style="--g:#0000 24px,#0000 0,#004dff3e 30.4px,#ff0f00 0,#ff0f00 39px,#ff6e00 48px,#ffff00 51.3px,#1affe5 56px,#00ffff 57px,#00d1ff 59px,#004dff 61px,#0000ff 64.5px,#0000e6 65.6px,#0000e6cc 66px,#0000e680 71.6px,#0000 77px"></i>
<i style="--g:#0000 24px,#0000 0,#004dff40 30.3px,#ff1100 0,#ff1100 39px,#ff6f00 48px,#ffff00 51.7px,#1affe5 56.4px,#00ffff 57.5px,#00d1ff 59.5px,#004dff 61.2px,#0000ff 65px,#0000e6 66px,#0000e6cc 66.5px,#0000e680 72px,#0000 77.3px"></i>
<i style="--g:#0000 24px,#0000 0,#004dff44 30.3px,#ff1300 0,#ff1300 39px,#ff7000 48.4px,#ffff00 52px,#1affe5 56.8px,#00ffff 58px,#00d1ff 59.8px,#004dff 61.5px,#0000ff 65.2px,#0000e6 66.4px,#0000e6cc 67px,#0000e680 72px,#0000 77.5px"></i>
<i style="--g:#0000 23.8px,#0000 0,#004dff48 30.2px,#ff1500 0,#ff1500 39px,#ff7000 48.7px,#ffff00 52.3px,#1affe5 57px,#00ffff 58px,#00d1ff 60px,#004dff 62px,#0000ff 65.6px,#0000e6 67px,#0000e6cc 67.3px,#0000e680 72.5px,#0000 77.8px"></i>
<i style="--g:#0000 23.6px,#0000 0,#004dff4b 30px,#ff1700 0,#ff1700 39px,#ff7100 49px,#ffff00 52.6px,#1affe5 57.4px,#00ffff 58.5px,#00d1ff 60.3px,#004dff 62px,#0000ff 66px,#0000e6 67.2px,#0000e6cc 67.7px,#0000e680 72.8px,#0000 78px"></i>
<i style="--g:#0000 23.5px,#0000 0,#004dff4f 30px,#ff1900 0,#ff1900 39px,#ff7200 49.3px,#ffff00 53px,#1affe5 57.7px,#00ffff 58.8px,#00d1ff 60.6px,#004dff 62.4px,#0000ff 66.3px,#0000e6 67.6px,#0000e6cc 68px,#0000e680 73px,#0000 78.3px"></i>
<i style="--g:#0000 23.4px,#0000 0,#004dff53 30px,#ff1b00 0,#ff1b00 39px,#ff7300 49.6px,#ffff00 53.3px,#1affe5 58px,#00ffff 59px,#00d1ff 61px,#004dff 62.7px,#0000ff 66.7px,#0000e6 68px,#0000e6cc 68.5px,#0000e680 73.4px,#0000 78.5px"></i>
<i style="--g:#0000 23.3px,#0000 0,#004dff56 30px,#ff1e00 0,#ff1e00 39px,#ff7300 50px,#ffff00 53.6px,#1affe5 58.4px,#00ffff 59.4px,#00d1ff 61.2px,#004dff 63px,#0000ff 67px,#0000e6 68.4px,#0000e6cc 69px,#0000e680 73.6px,#0000 78.8px"></i>
<i style="--g:#0000 23px,#0000 0,#004dff5a 30px,#ff2000 0,#ff2000 39px,#ff7400 50px,#ffff00 54px,#1affe5 58.7px,#00ffff 59.7px,#00d1ff 61.5px,#004dff 63.3px,#0000ff 67.4px,#0000e6 68.8px,#0000e6cc 69.3px,#0000e680 74px,#0000 79px"></i>
<i style="--g:#0000 23px,#0000 0,#004dff5e 30px,#ff2200 0,#ff2200 39px,#ff7500 50.5px,#ffff00 54.2px,#1affe5 59px,#00ffff 60px,#00d1ff 62px,#004dff 63.6px,#0000ff 67.8px,#0000e6 69px,#0000e6cc 69.7px,#0000e680 74.2px,#0000 79.2px"></i>
<i style="--g:#0000 23px,#0000 0,#0038ff84 25.3px,#1affe584 27px,#ff4c0084 28.4px,#2effd184 30px,#ff2400 0,#ff2400 39px,#ff7500 50.8px,#ffff00 54.5px,#1affe5 59.4px,#00ffff 60.3px,#00d1ff 62px,#004dff 64px,#0000ff 68px,#0000e6 69.6px,#0000e6cc 70px,#0000e680 74.5px,#0000 79.5px"></i>
<i style="--g:#0000 23px,#0000 0,#0038ff89 25.4px,#1affe589 27px,#ff4c0089 28.5px,#2effd189 30px,#ff2900 0,#ff2900 39px,#ff7800 51.2px,#ffff00 55px,#1affe5 59.8px,#00ffff 60.7px,#00d1ff 62.4px,#004dff 64px,#0000ff 68.5px,#0000e6 70px,#0000e6cc 70.5px,#0000e680 75px,#0000 79.7px"></i>
<i style="--g:#0000 23px,#0000 0,#0038ff8e 25.5px,#1affe58e 27.2px,#ff4c008e 28.6px,#2effd18e 30px,#ff2e00 0,#ff2e00 39px,#ff7a00 51.7px,#ffff00 55.4px,#1affe5 60px,#00ffff 61px,#00d1ff 62.8px,#004dff 64.5px,#0000ff 69px,#0000e6 70.4px,#0000e6cc 71px,#0000e680 75px,#0000 80px"></i>
<i style="--g:#0000 23px,#0000 0,#0038ff93 25.5px,#1affe593 27.3px,#ff4c0093 28.7px,#2effd193 30px,#ff3300 0,#ff3300 39px,#ff7c00 52px,#ffff00 56px,#1affe5 60.6px,#00ffff 61.5px,#00d1ff 63px,#004dff 64.8px,#0000ff 69.3px,#0000e6 70.7px,#0000e6cc 71.2px,#0000e680 75.4px,#0000 80px"></i>
<i style="--g:#0000 23px,#0000 0,#0038ff98 25.6px,#1affe598 27.4px,#ff4c0098 29px,#2effd198 30.2px,#ff3800 0,#ff3800 39.2px,#ff7e00 52.6px,#ffff00 56.3px,#80ff80 58.7px,#00ffff 62px,#00d1ff 63.4px,#004dff 65px,#0000ff 69.6px,#0000e6 71px,#0000e6cc 71.6px,#0000e680 75.7px,#0000 80.3px"></i>
<i style="--g:#0000 23.2px,#0000 0,#0038ff9b 25.7px,#1affe59b 27.5px,#ff4c009b 29px,#2effd19b 30.3px,#ff3d00 0,#ff3d00 39.3px,#ff8000 53px,#ffff00 56.7px,#80ff80 59px,#00ffff 62.2px,#00d1ff 63.7px,#004dff 65.4px,#0000ff 70px,#0000e6 71.5px,#0000e6cc 72px,#0000e680 76px,#0000 80.5px"></i>
<i style="--g:#0000 23.3px,#0000 0,#0038ff9c 25.8px,#1affe59c 27.6px,#ff4c009c 29px,#2effd19c 30.4px,#ff4200 0,#ff4200 39.3px,#ff8200 53.6px,#ffff00 57px,#80ff80 59.6px,#00ffff 62.6px,#00d1ff 64px,#004dff 65.7px,#0000ff 70.4px,#0000e6 72px,#0000e6cc 72.4px,#0000e680 76.3px,#0000 80.7px"></i>
<i style="--g:#0000 23.3px,#0000 0,#0038ff9d 26px,#1affe59d 27.7px,#ff4c009d 29px,#2effd19d 30.5px,#ff4700 0,#ff4700 39.4px,#ff6100 48px,#ff8400 54px,#ffff00 57.6px,#80ff80 60px,#00ffff 63px,#00d1ff 64.3px,#004dff 66px,#0000ff 70.7px,#0000e6 72.3px,#0000e6cc 73px,#0000e680 76.6px,#0000 81px"></i>
<i style="--g:#0000 23.4px,#0000 0,#0038ff9e 26px,#1affe59e 27.7px,#ff4c009e 29px,#2effd19e 30.6px,#ff4c00 0,#ff4c00 39.4px,#ff6300 48.7px,#ff8600 54.5px,#ffff00 58px,#80ff80 60.4px,#00ffff 63.4px,#00d1ff 64.7px,#004dff 66.2px,#0000ff 71px,#0000e6 72.7px,#0000e6cc 73.2px,#0000e680 77px,#0000 81px"></i>
<i style="--g:#0000 23.4px,#0000 0,#0038ff9f 26px,#1affe59f 28px,#ff4c009f 29.3px,#2effd19f 30.8px,#ff5100 0,#ff5100 39.5px,#ff6600 49px,#ff8900 55px,#ffff00 58.5px,#80ff80 61px,#00ffff 63.8px,#00d1ff 65px,#004dff 66.5px,#0000ff 71.5px,#0000e6 73px,#0000e6cc 73.6px,#0000e680 77px,#0000 81.3px"></i>
<i style="--g:#0000 23.5px,#0000 0,#0038ffa0 26px,#1affe5a0 28px,#ff4c00a0 29.4px,#2effd1a0 31px,#ff5600 0,#ff6900 49.7px,#ff8b00 55.4px,#ffff00 59px,#80ff80 61.3px,#00ffff 64px,#00d1ff 65.3px,#004dff 67px,#0000ff 72px,#0000e6 73.5px,#0000e6cc 74px,#0000e680 77.5px,#0000 81.5px"></i>
<i style="--g:#0000 23.6px,#0000 0,#0038ffa1 26px,#1affe5a1 28px,#ff4c00a1 29.5px,#2effd1a1 31px,#ff5a00 0,#ff6c00 50px,#ff8d00 56px,#ffff00 59.4px,#80ff80 61.7px,#00ffff 64.5px,#00d1ff 65.6px,#004dff 67px,#0000ff 72.2px,#0000e6 74px,#0000e6cc 74.4px,#0000e680 77.8px,#0000 81.7px"></i>
<i style="--g:#0000 23.6px,#0000 0,#0038ffa2 26.3px,#1affe5a2 28px,#ff4c00a2 29.7px,#2effd1a2 31px,#ff5f00 0,#ff6f00 50.6px,#ff8f00 56.4px,#ffff00 60px,#80ff80 62px,#00ffff 65px,#00d1ff 66px,#004dff 67.4px,#0000ff 72.6px,#0000e6 74.3px,#0000e6cc 74.8px,#0000e680 78px,#0000 82px"></i>
<i style="--g:#0000 23.7px,#0000 0,#0038ffa3 26.4px,#1affe5a3 28.3px,#ff4c00a3 29.8px,#2effd1a3 31.3px,#ff6400 0,#ff7100 51px,#ff9100 57px,#ffff00 60.3px,#80ff80 62.6px,#00ffff 65.3px,#00d1ff 66.3px,#004dff 67.7px,#0000ff 73px,#0000e6 74.7px,#0000e6cc 75px,#0000e680 78.4px,#0000 82px"></i>
<i style="--g:#0000 23.7px,#0000 0,#0038ffa4 26.4px,#1affe5a4 28.4px,#ff4c00a4 30px,#2effd1a4 31.4px,#ff6900 0,#ff7400 51.6px,#ff9300 57.3px,#ffff00 60.7px,#00ffff 65.7px,#00d1ff 66.6px,#004dff 68px,#0000ff 73.3px,#0000e6 75px,#0000e6cc 75.6px,#0000e680 78.7px,#0000 82.2px"></i>
<i style="--g:#0000 24px,#0000 0,#0038ffa5 26.6px,#1affe5a5 28.6px,#ff4c00a5 30px,#2effd1a5 31.7px,#ff6c00 0,#ff7600 52px,#ff9500 57.6px,#ffff00 61px,#00ffff 66px,#00d1ff 66.7px,#004dff 68px,#0000ff 73.5px,#0000e6 75.3px,#0000e6cc 75.8px,#0000e680 79px,#0000 82.4px"></i>
<i style="--g:#0000 24px,#0000 0,#0038ffa6 27px,#1affe5a6 29px,#ff4c00a6 30.5px,#2effd1a6 32px,#ff6d00 0,#ff7700 52px,#ff9500 57.7px,#ffff00 61px,#00ffff 66px,#00d1ff 66.8px,#004dff 68.2px,#0000ff 73.5px,#0000e6 75.3px,#0000e6cc 76px,#0000e680 79px,#0000 82.4px"></i>
<i style="--g:#0000 24.3px,#0000 0,#0038ffa7 27.2px,#1affe5a7 29.3px,#ff4c00a7 31px,#2effd1a7 32.6px,#ff6e00 0,#ff7800 52px,#ff9600 58px,#ffff00 61px,#00ffff 66px,#00d1ff 66.8px,#004dff 68.3px,#0000ff 73.6px,#0000e6 75.4px,#0000e6cc 76px,#0000e680 79px,#0000 82.5px"></i>
<i style="--g:#0000 24.6px,#0000 0,#0038ffa8 27.6px,#1affe5a8 29.7px,#ff4c00a8 31.4px,#2effd1a8 33px,#ff6f00 0,#ff7900 52.3px,#ff9700 58px,#ffff00 61px,#00ffff 66px,#00d1ff 67px,#004dff 68.4px,#0000ff 73.7px,#0000e6 75.5px,#0000e6cc 76px,#0000e680 79px,#0000 82.6px"></i>
<i style="--g:#0000 25px,#0000 0,#0038ffa9 28px,#1affe5a9 30px,#ff4c00a9 32px,#2effd1a9 33.6px,#ff6f00 0,#ff7a00 52.4px,#ff9800 58px,#ffff00 61px,#00ffff 66px,#00d1ff 67px,#004dff 68.4px,#0000ff 73.7px,#0000e6 75.5px,#0000e6cc 76px,#0000e680 79px,#0000 82.6px"></i>
<i style="--g:#0000 25px,#0000 0,#0038ffaa 28px,#1affe5aa 30.4px,#ff4c00aa 32.2px,#2effd1aa 34px,#ff7000 0,#ff7b00 52.5px,#ff9900 58.2px,#ffff00 61.2px,#00ffff 66px,#00d1ff 67px,#004dff 68.5px,#0000ff 74px,#0000e6 75.6px,#0000e6cc 76px,#0000e680 79px,#0000 82.7px"></i>
<i style="--g:#0000 25.3px,#0000 0,#0038ffab 28.6px,#1affe5ab 31px,#ff4c00ab 33px,#2effd1ab 34.7px,#ff7100 0,#ff7c00 52.7px,#ff9a00 58.3px,#ffff00 61.3px,#00ffff 66px,#00d1ff 67px,#004dff 68.6px,#0000ff 74px,#0000e6 75.7px,#0000e6cc 76px,#0000e680 79px,#0000 82.7px"></i>
<i style="--g:#0000 26px,#0000 0,#0038ffac 29.3px,#1affe5ac 31.7px,#ff4c00ac 33.6px,#2effd1ac 35.5px,#ff7200 0,#ff7c00 53px,#ff9b00 58.5px,#ffff00 61.4px,#00ffff 66px,#00d1ff 67px,#004dff 68.6px,#0000ff 74px,#0000e6 75.7px,#0000e6cc 76.2px,#0000e680 79.3px,#0000 83px"></i>
<i style="--g:#0000 29.3px,#0000 0,#0038ffac 31.7px,#1affe5ac 33.5px,#ff4c00ac 35px,#2effd1ac 36.2px,#ff7300 0,#ff7d00 53px,#ff9c00 58.6px,#ffff00 61.4px,#00ffff 66px,#00d1ff 67px,#004dff 68.7px,#0000ff 74px,#0000e6 75.8px,#0000e6cc 76.3px,#0000e680 79.3px,#0000 83px"></i>
<i style="--g:#0000 32.6px,#0000 0,#0038ffac 34.4px,#1affe5ac 35.6px,#ff4c00ac 36.7px,#2effd1ac 37.7px,#ff7400 0,#ff7e00 53px,#ff9d00 58.7px,#ffff00 61.5px,#00ffff 66px,#00d1ff 67px,#004dff 68.8px,#0000ff 74px,#0000e6 76px,#0000e6cc 76.3px,#0000e680 79.4px,#0000 83px"></i>
<i style="--g:#0000 34px,#0000 0,#0038ffac 36px,#1affe5ac 37.6px,#ff4c00ac 39px,#2effd1ac 40px,#ff7500 0,#ff7f00 53px,#ff9e00 59px,#ffff00 61.6px,#00ffff 66px,#00d1ff 67px,#004dff 69px,#0000ff 74px,#0000e6 76px,#0000e6cc 76.4px,#0000e680 79.5px,#0000 83px"></i>
<i style="--g:#0000 34px,#0000 0,#0038ffac 37px,#1affe5ac 39px,#ff4c00ac 40.7px,#2effd1ac 42.3px,#ff7700 0,#ff8000 53.2px,#ff9e00 59px,#ffff00 61.6px,#00ffff 66px,#00d1ff 67px,#004dff 69px,#0000ff 74px,#0000e6 76px,#0000e6cc 76.4px,#0000e680 79.5px,#0000 83px"></i>
<i style="--g:#0000 34px,#0000 0,#0038ffac 42px,#1affe5ac 47.3px,#ff4c00ac 51.7px,#2effd1ac 56px,#ff8f00 0,#ff9e00 59px,#ffff00 61.6px,#00ffff 66px,#00d1ff 67px,#004dff 69px,#0000ff 74px,#0000e6 76px,#0000e6cc 76.4px,#0000e680 79.5px,#0000 83px"></i>
<i style="--g:#0000 34px,#0000 0,#0038ffac 42px,#1affe5ac 47.5px,#ff4c00ac 52px,#2effd1ac 56.5px,#ff9100 0,#ff9e00 59px,#ffff00 61.6px,#00ffff 66px,#00d1ff 67px,#004dff 69px,#0000ff 74px,#0000e6 76px,#0000e6cc 76.4px,#0000e680 79.5px,#0000 83px"></i>
<i style="--g:#0000 34px,#0000 0,#0038ffac 42px,#1affe5ac 47.5px,#ff4c00ac 52px,#2effd1ac 56.5px,#ff9100 0,#ff9e00 59px,#ffff00 61.6px,#00ffff 66px,#00d1ff 67px,#004dff 69px,#0000ff 74px,#0000e6 76px,#0000e6cc 76.4px,#0000e680 79.5px,#0000 83px"></i>
</div>
<div class="p" style="left:217.30px;top:126px;width:85.15px">
<i style="--g:#0000 32.4px,#0000 0,#004dff26 34px,#e50000 0,#e50000 37.7px,#ff0000 38.8px,#ff8000 43px,#ffb300 46.3px,#ffff00 49.7px,#e5ff1a 51px,#6bff94 52.6px,#1affe5e6 54.8px,#00ffffdf 55px,#004dffb2 57px,#001aff8c 60.5px,#0000fa59 69.7px,#0000 80.3px"></i>
<i style="--g:#0000 32.4px,#0000 0,#004dff26 33.8px,#e50000 0,#e50000 38px,#ff0000 39px,#ff8000 43px,#ffb300 46.4px,#ffff00 49.8px,#e5ff1a 51px,#6bff94 52.7px,#1affe5e6 55px,#00ffffdf 55px,#004dffb2 57px,#001aff8c 60.6px,#0000fa59 69.8px,#0000 80.4px"></i>
<i style="--g:#0000 32.4px,#0000 0,#004dff26 33.7px,#e50000 0,#e50000 38px,#ff0000 39px,#ff8000 43px,#ffb300 46.5px,#ffff00 50px,#e5ff1a 51px,#6bff94 53px,#1affe5e6 55px,#00ffffdf 55.2px,#004dffb2 57px,#001aff8c 60.6px,#0000fa59 70px,#0000 80.5px"></i>
<i style="--g:#0000 32.4px,#0000 0,#004dff26 33.5px,#e50000 0,#e50000 38px,#ff0000 39px,#ff8000 43px,#ffb300 46.6px,#ffff00 50px,#e5ff1a 51px,#6bff94 53px,#1affe5e6 55px,#00ffffdf 55.3px,#004dffb2 57px,#001aff8c 60.7px,#0000fa59 70px,#0000 80.6px"></i>
<i style="--g:#0000 32.4px,#0000 0,#004dff26 33.4px,#e50000 0,#e50000 38px,#ff0000 39px,#ff8000 43.2px,#ffb300 46.7px,#ffff00 50px,#e5ff1a 51px,#6bff94 53px,#1affe5e6 55px,#00ffffdf 55.4px,#004dffb2 57.3px,#001aff8c 61px,#0000fa59 70px,#0000 80.7px"></i>
<i style="--g:#0000 32.4px,#0000 0,#004dff26 33.3px,#e50000 0,#e50000 38.2px,#ff0000 39.3px,#ff8000 43.3px,#ffb300 46.8px,#ffff00 50px,#e5ff1a 51.3px,#6bff94 53px,#1affe5e6 55.3px,#00ffffdf 55.5px,#004dffb2 57.4px,#001aff8c 61px,#0000fa59 70px,#0000 81px"></i>
<i style="--g:#0000 32.4px,#0000 0,#004dff26 33.3px,#e40000 0,#e40000 38.3px,#ff0000 39.4px,#ff8000 43.5px,#ffb500 47px,#ffff00 50px,#e3ff1c 51.3px,#6aff95 53px,#18ffe7e6 55.4px,#00ffffe0 55.6px,#004effb4 57.5px,#0019ff8e 61px,#0000f95b 70px,#0000 80.7px"></i>
<i style="--g:#0000 32.4px,#0000 0,#004dff26 33.3px,#dd0000 0,#dd0000 38.4px,#ff0000 40px,#ff8000 43.6px,#ffff00 49.3px,#d5ff2a 51px,#61ff9e 52.8px,#13ffece8 55.6px,#00ffffe3 56px,#0055ffbb 58px,#0014ff9b 61.3px,#0000f768 69px,#0000f726 77px,#0000 79.3px"></i>
<i style="--g:#0000 32.4px,#0000 0,#004dff26 33.4px,#d60000 0,#d60000 38.4px,#ff0000 40px,#ff1300 41px,#ff8000 44px,#ffff00 48.5px,#c7ff38 50.5px,#59ffa6 52.4px,#00ffffe6 56px,#005cffc2 58.2px,#0010ffa7 61.6px,#0000f431 75.2px,#0000 78px"></i>
<i style="--g:#0000 32.4px,#0000 0,#004dff26 33.5px,#cf0000 0,#cf0000 38.5px,#ff0000 40.6px,#ff1100 41.3px,#ff8000 44px,#ffff00 48px,#b9ff46 50px,#50ffaf 52px,#00ffffea 56px,#0063ffc9 58.6px,#000cffb4 62px,#0000f13b 73.6px,#0000 76.7px"></i>
<i style="--g:#0000 32.4px,#0000 0,#004dff26 33.5px,#c80000 0,#c80000 38.5px,#ff0000 41px,#ff0e00 41.6px,#ffff00 47.4px,#aaff55 49.7px,#48ffb7 51.6px,#02fffded 56px,#00ffffed 0,#006affd0 59px,#0008ffc0 62px,#0000ee46 72px,#0000 75.3px"></i>
<i style="--g:#0000 32.4px,#0000 0,#004dff26 33.6px,#c10000 0,#c10000 38.6px,#ff0b00 42px,#ffff00 47px,#3fffc0 51px,#00fbffef 56.4px,#0071ffd7 59.3px,#0004ffcc 62.3px,#0000eb99 65.3px,#0000eb50 70.4px,#0000 74px"></i>
<i style="--g:#0000 32.4px,#0000 0,#004dff26 33.7px,#ba0000 0,#ba0000 38.6px,#ff0800 42.3px,#ffff00 46.7px,#37ffc8 50.8px,#00f6fff0 56.6px,#0000ffd9 62.5px,#0000fed9 0,#0000e8a6 64.3px,#0000e85b 68.7px,#0000 72.7px"></i>
<i style="--g:#0000 32.4px,#0000 0,#004dff26 33.7px,#b30000 0,#b30000 38.7px,#ff0500 42.6px,#ff8000 44.7px,#ffff00 46.5px,#80ff7f 48.5px,#2effd1 50.4px,#00fffff5 55px,#00f0fff2 56.8px,#007fffe5 60px,#0000fae5 62.8px,#0000e6b2 63.3px,#0000e666 67px,#0000 71.4px"></i>
<i style="--g:#0000 32.4px,#0000 0,#004dff26 33.7px,#b80000 0,#b80000 39px,#ff0800 42.7px,#ff7e00 45px,#ffff00 47px,#80ff80 49px,#2dffd2 51px,#00fffff6 55.3px,#00eefff3 57px,#0000f9e7 63px,#0000e6b4 63.5px,#0000e668 67.4px,#0000 71.8px"></i>
<i style="--g:#0000 32.4px,#0000 0,#004dff26 33.7px,#be0000 0,#be0000 39px,#ff0000 42.3px,#ff0c00 43px,#ff7d00 45.3px,#ffff00 47.3px,#80ff80 49.4px,#2bffd4 51.3px,#00fffff7 55.4px,#00ecfff4 57.2px,#0000f7e9 63.3px,#0000e6b6 63.8px,#0000e669 68px,#0000 72.3px"></i>
<i style="--g:#0000 32.4px,#0000 0,#004dff26 33.7px,#c30000 0,#c30000 39.3px,#ff0000 42.3px,#ff1000 43px,#ff7b00 45.6px,#ffff00 47.7px,#80ff80 50px,#2affd5 51.8px,#00fffff8 55.5px,#00e9fff5 57.5px,#0000f6eb 63.5px,#0000e6b8 64px,#0000e66b 68.2px,#0000 72.8px"></i>
<i style="--g:#0000 32.4px,#0000 0,#004dff26 33.6px,#c90000 0,#c90000 39.5px,#ff0000 42.3px,#ff1300 43.3px,#ff7a00 46px,#ffff00 48px,#80ff80 50.3px,#28ffd7 52.2px,#00fffff9 55.7px,#00e7fff6 57.7px,#0000ffec 63.5px,#0000f4ec 63.8px,#0000e6b9 64.3px,#0000e66d 68.6px,#0000 73.3px"></i>
<i style="--g:#0000 32.4px,#0000 0,#004dff26 33.6px,#cf0000 0,#cf0000 39.6px,#ff0000 42.2px,#ff1700 43.4px,#ff7800 46px,#ffff00 48.5px,#80ff80 50.7px,#27ffd8 52.7px,#00fffffa 56px,#00e5fff7 58px,#006effee 60.7px,#0000ffee 63.7px,#0000f3ee 64px,#0000e6bb 64.5px,#0000e66f 69px,#0000 73.8px"></i>
<i style="--g:#0000 32.4px,#0000 0,#004dff26 33.5px,#d40000 0,#d40000 40px,#ff0000 42px,#ff1a00 43.6px,#ff7700 46.5px,#ffff00 49px,#80ff80 51px,#25ffda 53px,#00fffffb 56px,#00e3fff8 58.2px,#006afff0 61px,#0000fff0 64px,#0000f1f0 64.3px,#0000e6bd 64.8px,#0000e671 69.4px,#0000 74.2px"></i>
<i style="--g:#0000 32.4px,#0000 0,#004dff26 33.5px,#da0000 0,#da0000 40px,#ff0000 42px,#ff1e00 43.8px,#ff7600 46.8px,#ffff00 49.3px,#80ff80 51.6px,#24ffdb 53.6px,#00fffffb 56.3px,#00e1fff8 58.5px,#0067fff2 61px,#0000fff2 64px,#0000f0f2 64.5px,#0000e6bf 65px,#0000e672 69.8px,#0000 74.7px"></i>
<i style="--g:#0000 32.4px,#0000 0,#004dff26 33.5px,#df0000 0,#df0000 40.2px,#ff0000 42px,#ff2100 44px,#ff7400 47px,#ffff00 49.7px,#23ffdc 54px,#00fffffc 56.5px,#00dffff9 58.7px,#0063fff4 61px,#0000fff4 64.2px,#0000eff4 64.8px,#0000e6c1 65.3px,#0000e674 70px,#0000 75.2px"></i>
<i style="--g:#0000 32.4px,#0000 0,#004dff26 33.4px,#e50000 0,#e50000 40.4px,#ff0000 42px,#ff7300 47.3px,#ffff00 50px,#21ffde 54.6px,#00fffffd 56.7px,#00ddfffa 59px,#0060fff5 61.3px,#0000fff5 64.4px,#0000edf5 65px,#0000e6c2 65.5px,#0000e676 70.6px,#0000 75.7px"></i>
<i style="--g:#0000 32.4px,#0000 0,#004dff26 33.4px,#eb0000 0,#eb0000 40.6px,#ff0000 42px,#ff7100 47.6px,#ffff00 50.6px,#20ffdf 55px,#00fffffd 57px,#00dbfffb 59.2px,#005cfff7 61.4px,#0000fff7 64.6px,#0000ecf7 65.2px,#0000e6c4 65.7px,#0000e678 71px,#0000 76.2px"></i>
<i style="--g:#0000 32.4px,#0000 0,#004dff26 33.4px,#f00000 0,#f00000 41px,#ff0000 41.7px,#ff7000 48px,#ffff00 51px,#1effe1 55.5px,#00fffffe 57.2px,#00d8fffc 59.5px,#0059fff9 61.6px,#0000fff9 64.8px,#0000eaf9 65.5px,#0000e6c6 66px,#0000e679 71.4px,#0000 76.7px"></i>
<i style="--g:#0000 32.4px,#0000 0,#004dff26 33.3px,#f60000 0,#ff0000 41.6px,#ff6f00 48.2px,#ffff00 51.4px,#1dffe2 56px,#00fffffe 57.5px,#00d6fffd 59.7px,#0055fffb 61.7px,#0000fffb 65px,#0000e9fb 65.7px,#0000e6c8 66.2px,#0000e67b 71.8px,#0000 77px"></i>
<i style="--g:#0000 32.4px,#0000 0,#004dff26 33.3px,#fc0000 0,#ff0000 41.4px,#ff6d00 48.5px,#ffff00 51.8px,#1cffe3 56.4px,#00fffffe 58px,#00d4fffe 60px,#0052fffc 62px,#0000fffc 65px,#0000e8fc 66px,#0000e6c9 66.5px,#0000e67d 72px,#0000 77.7px"></i>
<i style="--g:#0000 32.4px,#0000 0,#004dff26 33.3px,#ff0200 0,#ff0200 41.4px,#ff6c00 49px,#ffff00 52px,#1affe5 57px,#00ffff 58px,#00d2ff 60px,#004efffe 62px,#0000fffe 65.2px,#0000e6fe 66.2px,#0000e6cb 66.7px,#0000e67f 72.5px,#0000 78px"></i>
<i style="--g:#0000 32.4px,#0000 0,#004dff26 33px,#ff0600 0,#ff0600 41.5px,#ff6b00 49px,#ffff00 52.5px,#1affe5 57.2px,#00ffff 58.4px,#00d1ff 60.4px,#004dff 62px,#0000ff 65.4px,#0000e6 66.5px,#0000e6cc 67px,#0000e680 73px,#0000 78.5px"></i>
<i style="--g:#0000 32.4px,#0000 0,#004dff26 33px,#ff0800 0,#ff0800 41.4px,#ff6c00 49.3px,#ffff00 52.7px,#1affe5 57.5px,#00ffff 58.6px,#00d1ff 60.6px,#004dff 62.4px,#0000ff 65.7px,#0000e6 66.8px,#0000e6cc 67.3px,#0000e680 73px,#0000 78.6px"></i>
<i style="--g:#0000 31.5px,#0000 0,#004dff29 33px,#ff0a00 0,#ff0a00 41.3px,#ff6d00 49.5px,#ffff00 53px,#1affe5 57.7px,#00ffff 59px,#00d1ff 61px,#004dff 62.6px,#0000ff 66px,#0000e6 67px,#0000e6cc 67.6px,#0000e680 73.2px,#0000 78.8px"></i>
<i style="--g:#0000 30px,#0000 0,#004dff2e 32.7px,#ff0d00 0,#ff0d00 41px,#ff6e00 49.7px,#ffff00 53px,#1affe5 58px,#00ffff 59px,#00d1ff 61px,#004dff 62.8px,#0000ff 66.2px,#0000e6 67.4px,#0000e6cc 68px,#0000e680 73.4px,#0000 79px"></i>
<i style="--g:#0000 28px,#0000 0,#004dff34 32.5px,#ff0f00 0,#ff0f00 41px,#ff6e00 50px,#ffff00 53.4px,#1affe5 58px,#00ffff 59.2px,#00d1ff 61.2px,#004dff 63px,#0000ff 66.5px,#0000e6 67.7px,#0000e6cc 68px,#0000e680 73.6px,#0000 79px"></i>
<i style="--g:#0000 26.5px,#0000 0,#004dff39 32.3px,#ff1100 0,#ff1100 41px,#ff6f00 50px,#ffff00 53.6px,#1affe5 58.4px,#00ffff 59.5px,#00d1ff 61.4px,#004dff 63px,#0000ff 66.8px,#0000e6 68px,#0000e6cc 68.5px,#0000e680 74px,#0000 79.2px"></i>
<i style="--g:#0000 25px,#0000 0,#004dff3e 32px,#ff1300 0,#ff1300 41px,#ff7000 50.2px,#ffff00 54px,#1affe5 58.6px,#00ffff 59.7px,#00d1ff 61.6px,#004dff 63.4px,#0000ff 67px,#0000e6 68.3px,#0000e6cc 68.8px,#0000e680 74px,#0000 79.4px"></i>
<i style="--g:#0000 23.8px,#0000 0,#004dff44 32px,#ff1500 0,#ff1500 40.8px,#ff7000 50.4px,#ffff00 54px,#1affe5 59px,#00ffff 60px,#00d1ff 61.8px,#004dff 63.6px,#0000ff 67.3px,#0000e6 68.6px,#0000e6cc 69px,#0000e680 74.2px,#0000 79.5px"></i>
<i style="--g:#0000 23.7px,#0000 0,#004dff49 32px,#ff1700 0,#ff1700 40.7px,#ff7100 50.6px,#ffff00 54.3px,#1affe5 59px,#00ffff 60px,#00d1ff 62px,#004dff 63.8px,#0000ff 67.6px,#0000e6 69px,#0000e6cc 69.4px,#0000e680 74.4px,#0000 79.7px"></i>
<i style="--g:#0000 23.6px,#0000 0,#004dff4e 31.7px,#ff1900 0,#ff1900 40.6px,#ff7200 51px,#ffff00 54.5px,#1affe5 59.3px,#00ffff 60.3px,#00d1ff 62px,#004dff 64px,#0000ff 68px,#0000e6 69px,#0000e6cc 69.6px,#0000e680 74.6px,#0000 80px"></i>
<i style="--g:#0000 23.6px,#0000 0,#004dff53 31.5px,#ff1b00 0,#ff1b00 40.5px,#ff7300 51px,#ffff00 54.7px,#1affe5 59.5px,#00ffff 60.5px,#00d1ff 62.4px,#004dff 64px,#0000ff 68px,#0000e6 69.4px,#0000e6cc 70px,#0000e680 75px,#0000 80px"></i>
<i style="--g:#0000 23.5px,#0000 0,#004dff59 31.4px,#ff1e00 0,#ff1e00 40.4px,#ff7300 51.2px,#ffff00 55px,#1affe5 59.7px,#00ffff 60.7px,#00d1ff 62.6px,#004dff 64.4px,#0000ff 68.4px,#0000e6 69.7px,#0000e6cc 70.2px,#0000e680 75px,#0000 80px"></i>
<i style="--g:#0000 23.5px,#0000 0,#004dff5e 31.3px,#ff2000 0,#ff2000 40.3px,#ff7400 51.4px,#ffff00 55px,#1affe5 60px,#00ffff 61px,#00d1ff 62.8px,#004dff 64.5px,#0000ff 68.7px,#0000e6 70px,#0000e6cc 70.5px,#0000e680 75px,#0000 80.3px"></i>
<i style="--g:#0000 23.4px,#0000 0,#004dff63 31px,#ff2200 0,#ff2200 40px,#ff7500 51.6px,#ffff00 55.4px,#1affe5 60px,#00ffff 61px,#00d1ff 63px,#004dff 64.7px,#0000ff 69px,#0000e6 70.3px,#0000e6cc 71px,#0000e680 75.4px,#0000 80.4px"></i>
<i style="--g:#0000 23.4px,#0000 0,#0038ff8b 26px,#1affe58b 28px,#ff4c008b 29.5px,#2effd18b 31px,#ff2400 0,#ff2400 40px,#ff7500 52px,#ffff00 55.6px,#1affe5 60.4px,#00ffff 61.4px,#00d1ff 63px,#004dff 65px,#0000ff 69.2px,#0000e6 70.6px,#0000e6cc 71px,#0000e680 75.6px,#0000 80.5px"></i>
<i style="--g:#0000 23.3px,#0000 0,#0038ff8c 26px,#1affe58c 28px,#ff4c008c 29.7px,#2effd18c 31.3px,#ff2900 0,#ff2900 40px,#ff7800 52px,#ffff00 56px,#1affe5 60.7px,#00ffff 61.7px,#00d1ff 63.4px,#004dff 65px,#0000ff 69.4px,#0000e6 71px,#0000e6cc 71.4px,#0000e680 75.8px,#0000 80.6px"></i>
<i style="--g:#0000 23.3px,#0000 0,#0038ff8e 26px,#1affe58e 28.3px,#ff4c008e 30px,#2effd18e 31.6px,#ff2e00 0,#ff2e00 40px,#ff7a00 52.5px,#ffff00 56.2px,#1affe5 61px,#00ffff 62px,#00d1ff 63.6px,#004dff 65.3px,#0000ff 69.7px,#0000e6 71px,#0000e6cc 71.7px,#0000e680 76px,#0000 80.7px"></i>
<i style="--g:#0000 23.2px,#0000 0,#0038ff90 26.3px,#1affe590 28.5px,#ff4c0090 30.2px,#2effd190 32px,#ff3300 0,#ff3300 40px,#ff7c00 53px,#ffff00 56.5px,#1affe5 61.3px,#00ffff 62px,#00d1ff 63.8px,#004dff 65.5px,#0000ff 70px,#0000e6 71.4px,#0000e6cc 72px,#0000e680 76px,#0000 80.8px"></i>
<i style="--g:#0000 23px,#0000 0,#0038ff91 26.4px,#1affe591 28.7px,#ff4c0091 30.5px,#2effd191 32.3px,#ff3800 0,#ff3800 39.8px,#ff7e00 53.2px,#ffff00 57px,#80ff80 59.3px,#00ffff 62.4px,#00d1ff 64px,#004dff 65.6px,#0000ff 70px,#0000e6 71.7px,#0000e6cc 72.2px,#0000e680 76.3px,#0000 81px"></i>
<i style="--g:#0000 23px,#0000 0,#0038ff93 26.4px,#1affe593 29px,#ff4c0093 30.8px,#2effd193 32.7px,#ff3d00 0,#ff3d00 39.7px,#ff8000 53.5px,#ffff00 57px,#80ff80 59.6px,#00ffff 62.7px,#00d1ff 64px,#004dff 66px,#0000ff 70.4px,#0000e6 72px,#0000e6cc 72.5px,#0000e680 76.4px,#0000 81px"></i>
<i style="--g:#0000 23px,#0000 0,#0038ff95 26.5px,#1affe595 29px,#ff4c0095 31px,#2effd195 33px,#ff4200 0,#ff4200 39.6px,#ff8200 54px,#ffff00 57.5px,#80ff80 60px,#00ffff 63px,#00d1ff 64.3px,#004dff 66px,#0000ff 70.7px,#0000e6 72.2px,#0000e6cc 72.7px,#0000e680 76.6px,#0000 81px"></i>
<i style="--g:#0000 23px,#0000 0,#0038ff96 26.6px,#1affe596 29.2px,#ff4c0096 31.3px,#2effd196 33.4px,#ff4700 0,#ff4700 39.6px,#ff6100 48.4px,#ff8400 54.2px,#ffff00 58px,#80ff80 60.2px,#00ffff 63px,#00d1ff 64.5px,#004dff 66px,#0000ff 71px,#0000e6 72.5px,#0000e6cc 73px,#0000e680 76.8px,#0000 81px"></i>
<i style="--g:#0000 23px,#0000 0,#0038ff98 26.7px,#1affe598 29.4px,#ff4c0098 31.6px,#2effd198 33.7px,#ff4c00 0,#ff6300 48.7px,#ff8600 54.6px,#ffff00 58px,#80ff80 60.5px,#00ffff 63.4px,#00d1ff 64.7px,#004dff 66.3px,#0000ff 71px,#0000e6 72.8px,#0000e6cc 73.3px,#0000e680 77px,#0000 81px"></i>
<i style="--g:#0000 23px,#0000 0,#0038ff9a 27px,#1affe59a 29.5px,#ff4c009a 31.7px,#2effd19a 34px,#ff5100 0,#ff6600 49px,#ff8900 55px,#ffff00 58.5px,#80ff80 61px,#00ffff 63.7px,#00d1ff 65px,#004dff 66.5px,#0000ff 71.4px,#0000e6 73px,#0000e6cc 73.6px,#0000e680 77px,#0000 81.2px"></i>
<i style="--g:#0000 23.3px,#0000 0,#0038ff9b 27px,#1affe59b 29.6px,#ff4c009b 31.8px,#2effd19b 34px,#ff5600 0,#ff6900 49.5px,#ff8b00 55.3px,#ffff00 58.8px,#80ff80 61px,#00ffff 64px,#00d1ff 65px,#004dff 66.7px,#0000ff 71.7px,#0000e6 73.3px,#0000e6cc 74px,#0000e680 77.3px,#0000 81.3px"></i>
<i style="--g:#0000 23.5px,#0000 0,#0038ff9d 27px,#1affe59d 29.8px,#ff4c009d 32px,#2effd19d 34px,#ff5a00 0,#ff6c00 50px,#ff8d00 55.6px,#ffff00 59px,#80ff80 61.4px,#00ffff 64.2px,#00d1ff 65.3px,#004dff 67px,#0000ff 72px,#0000e6 73.6px,#0000e6cc 74px,#0000e680 77.5px,#0000 81.4px"></i>
<i style="--g:#0000 23.8px,#0000 0,#0038ff9f 27.3px,#1affe59f 30px,#ff4c009f 32px,#2effd19f 34px,#ff5f00 0,#ff6f00 50.2px,#ff8f00 56px,#ffff00 59.4px,#80ff80 61.7px,#00ffff 64.5px,#00d1ff 65.5px,#004dff 67px,#0000ff 72px,#0000e6 74px,#0000e6cc 74.4px,#0000e680 77.6px,#0000 81.4px"></i>
<i style="--g:#0000 24px,#0000 0,#0038ffa0 27.5px,#1affe5a0 30px,#ff4c00a0 32px,#2effd1a0 34px,#ff6400 0,#ff7100 50.6px,#ff9100 56.3px,#ffff00 59.7px,#80ff80 62px,#00ffff 64.7px,#00d1ff 65.7px,#004dff 67px,#0000ff 72.4px,#0000e6 74px,#0000e6cc 74.6px,#0000e680 78px,#0000 81.5px"></i>
<i style="--g:#0000 24px,#0000 0,#0038ffa2 27.6px,#1affe5a2 30px,#ff4c00a2 32px,#2effd1a2 34px,#ff6900 0,#ff7400 51px,#ff9300 56.6px,#ffff00 60px,#00ffff 65px,#00d1ff 66px,#004dff 67.3px,#0000ff 72.6px,#0000e6 74.4px,#0000e6cc 75px,#0000e680 78px,#0000 81.6px"></i>
<i style="--g:#0000 24.4px,#0000 0,#0038ffa4 28px,#1affe5a4 30.4px,#ff4c00a4 32.4px,#2effd1a4 34.4px,#ff6c00 0,#ff7600 51px,#ff9500 57px,#ffff00 60px,#00ffff 65px,#00d1ff 66px,#004dff 67.5px,#0000ff 72.8px,#0000e6 74.5px,#0000e6cc 75px,#0000e680 78px,#0000 81.6px"></i>
<i style="--g:#0000 24.6px,#0000 0,#0038ffa5 28.3px,#1affe5a5 31px,#ff4c00a5 33px,#2effd1a5 35px,#ff6d00 0,#ff7700 51.3px,#ff9500 57px,#ffff00 60.3px,#00ffff 65px,#00d1ff 66px,#004dff 67.5px,#0000ff 73px,#0000e6 74.6px,#0000e6cc 75px,#0000e680 78px,#0000 81.7px"></i>
<i style="--g:#0000 25px,#0000 0,#0038ffa7 28.7px,#1affe5a7 31.5px,#ff4c00a7 33.7px,#2effd1a7 36px,#ff6e00 0,#ff7800 51.4px,#ff9600 57px,#ffff00 60.3px,#00ffff 65px,#00d1ff 66px,#004dff 67.6px,#0000ff 73px,#0000e6 74.7px,#0000e6cc 75px,#0000e680 78.2px,#0000 81.8px"></i>
<i style="--g:#0000 25px,#0000 0,#0038ffa9 29px,#1affe5a9 32px,#ff4c00a9 34.4px,#2effd1a9 36.7px,#ff6f00 0,#ff7900 51.6px,#ff9700 57.2px,#ffff00 60.4px,#00ffff 65px,#00d1ff 66px,#004dff 67.6px,#0000ff 73px,#0000e6 74.7px,#0000e6cc 75.2px,#0000e680 78.3px,#0000 82px"></i>
<i style="--g:#0000 25.3px,#0000 0,#0038ffaa 29.5px,#1affe5aa 32.6px,#ff4c00aa 35px,#2effd1aa 37.5px,#ff6f00 0,#ff7a00 51.7px,#ff9800 57.4px,#ffff00 60.5px,#00ffff 65.2px,#00d1ff 66px,#004dff 67.7px,#0000ff 73px,#0000e6 75px,#0000e6cc 75.3px,#0000e680 78.4px,#0000 82px"></i>
<i style="--g:#0000 25.5px,#0000 0,#0038ffac 30px,#1affe5ac 33px,#ff4c00ac 35.7px,#2effd1ac 38.3px,#ff7000 0,#ff7b00 52px,#ff9900 57.5px,#ffff00 60.5px,#00ffff 65.3px,#00d1ff 66px,#004dff 67.8px,#0000ff 73px,#0000e6 75px,#0000e6cc 75.4px,#0000e680 78.4px,#0000 82px"></i>
<i style="--g:#0000 28.5px,#0000 0,#0038ffac 32.2px,#1affe5ac 35px,#ff4c00ac 37px,#2effd1ac 39px,#ff7100 0,#ff7c00 52px,#ff9a00 57.6px,#ffff00 60.6px,#00ffff 65.3px,#00d1ff 66.2px,#004dff 68px,#0000ff 73px,#0000e6 75px,#0000e6cc 75.4px,#0000e680 78.5px,#0000 82px"></i>
<i style="--g:#0000 32px,#0000 0,#0038ffac 34.8px,#1affe5ac 36.7px,#ff4c00ac 38.3px,#2effd1ac 40px,#ff7300 0,#ff7c00 52px,#ff9b00 57.8px,#ffff00 60.7px,#00ffff 65.3px,#00d1ff 66.2px,#004dff 68px,#0000ff 73.2px,#0000e6 75px,#0000e6cc 75.5px,#0000e680 78.6px,#0000 82px"></i>
<i style="--g:#0000 35.5px,#0000 0,#0038ffac 37.3px,#1affe5ac 38.6px,#ff4c00ac 39.7px,#2effd1ac 40.7px,#ff7500 0,#ff7d00 52.2px,#ff9c00 58px,#ffff00 60.7px,#00ffff 65.4px,#00d1ff 66.3px,#004dff 68px,#0000ff 73.3px,#0000e6 75px,#0000e6cc 75.6px,#0000e680 78.6px,#0000 82px"></i>
<i style="--g:#0000 37.5px,#0000 0,#0038ffac 39px,#1affe5ac 40px,#ff4c00ac 40.7px,#2effd1ac 41.5px,#ff7600 0,#ff7e00 52.4px,#ff9d00 58px,#ffff00 61px,#00ffff 65.4px,#00d1ff 66.3px,#004dff 68px,#0000ff 73.4px,#0000e6 75px,#0000e6cc 75.6px,#0000e680 78.7px,#0000 82.2px"></i>
<i style="--g:#0000 37.5px,#0000 0,#0038ffac 39.2px,#1affe5ac 40.5px,#ff4c00ac 41.4px,#2effd1ac 42.4px,#ff7800 0,#ff7f00 52.5px,#ff9e00 58px,#ffff00 61px,#00ffff 65.4px,#00d1ff 66.3px,#004dff 68px,#0000ff 73.4px,#0000e6 75.2px,#0000e6cc 75.7px,#0000e680 78.8px,#0000 82.3px"></i>
<i style="--g:#0000 37.5px,#0000 0,#0038ffac 39.6px,#1affe5ac 41px,#ff4c00ac 42.2px,#2effd1ac 43.4px,#ff7900 0,#ff8000 52.5px,#ff9e00 58px,#ffff00 61px,#00ffff 65.4px,#00d1ff 66.3px,#004dff 68px,#0000ff 73.4px,#0000e6 75.2px,#0000e6cc 75.7px,#0000e680 78.8px,#0000 82.3px"></i>
<i style="--g:#0000 37.5px,#0000 0,#0038ffac 40px,#1affe5ac 41.7px,#ff4c00ac 43px,#2effd1ac 44.4px,#ff7900 0,#ff8000 52.5px,#ff9e00 58px,#ffff00 61px,#00ffff 65.4px,#00d1ff 66.3px,#004dff 68px,#0000ff 73.4px,#0000e6 75.2px,#0000e6cc 75.7px,#0000e680 78.8px,#0000 82.3px"></i>
<i style="--g:#0000 37.5px,#0000 0,#0038ffac 42.4px,#1affe5ac 45.8px,#ff4c00ac 48.5px,#2effd1ac 51.3px,#ff7f00 0,#ff9e00 58px,#ffff00 61px,#00ffff 65.4px,#00d1ff 66.3px,#004dff 68px,#0000ff 73.4px,#0000e6 75.2px,#0000e6cc 75.7px,#0000e680 78.8px,#0000 82.3px"></i>
<i style="--g:#0000 37.5px,#0000 0,#0038ffac 42.4px,#1affe5ac 45.8px,#ff4c00ac 48.5px,#2effd1ac 51.3px,#ff7f00 0,#ff9e00 58px,#ffff00 61px,#00ffff 65.4px,#00d1ff 66.3px,#004dff 68px,#0000ff 73.4px,#0000e6 75.2px,#0000e6cc 75.7px,#0000e680 78.8px,#0000 82.3px"></i>
</div>
<div class="p" style="left:312.30px;top:126px;width:85.15px">
<i style="--g:#0000 33.2px,#0000 0,#004dff26 34px,#b30000 0,#b30000 37.7px,#ff0000 40.7px,#ff8000 45px,#ffff00 51.5px,#e5ff1a 53px,#6bff94 55px,#2effd1e6 57px,#00ffffac 59px,#00b2ff59 62.6px,#0080ff26 66px,#004dff0d 68.3px,#0000 69.7px"></i>
<i style="--g:#0000 33.2px,#0000 0,#004dff26 34px,#b30000 0,#b30000 38px,#ff0000 40.8px,#ff8000 45px,#ffff00 51.6px,#e5ff1a 53px,#6bff94 55px,#2effd1e6 57px,#00ffffac 59px,#00b2ff59 62.7px,#0080ff26 66.2px,#004dff0d 68.4px,#0000 69.8px"></i>
<i style="--g:#0000 33.2px,#0000 0,#004dff26 33.7px,#b30000 0,#b30000 38px,#ff0000 41px,#ff8000 45px,#ffff00 51.7px,#e5ff1a 53px,#6bff94 55px,#2effd1e6 57px,#00ffffac 59.2px,#00b2ff59 62.8px,#0080ff26 66.3px,#004dff0d 68.5px,#0000 70px"></i>
<i style="--g:#0000 33.2px,#0000 0,#004dff26 33.6px,#b30000 0,#b30000 38px,#ff0000 41px,#ff8000 45px,#ffff00 51.8px,#e5ff1a 53px,#6bff94 55px,#2effd1e6 57px,#00ffffac 59.3px,#00b2ff59 63px,#0080ff26 66.4px,#004dff0d 68.6px,#0000 70px"></i>
<i style="--g:#0000 33.5px,#b30000 0,#b30000 38px,#ff0000 41px,#ff8000 45.2px,#ffff00 52px,#e5ff1a 53.3px,#6bff94 55.2px,#2effd1e6 57.3px,#00ffffac 59.4px,#00b2ff59 63px,#0080ff26 66.5px,#004dff0d 68.7px,#0000 70px"></i>
<i style="--g:#0000 33.3px,#b30000 0,#b30000 38.2px,#ff0000 41px,#ff8000 45.3px,#ffff00 52px,#e5ff1a 53.4px,#6bff94 55.3px,#2effd1e6 57.4px,#00ffffac 59.5px,#00b2ff59 63px,#0080ff26 66.6px,#004dff0d 68.7px,#0000 70px"></i>
<i style="--g:#0000 33.2px,#b30000 0,#b30000 38.3px,#ff0000 41.3px,#ff8000 45.4px,#ffff00 52px,#e3ff1c 53.3px,#6aff95 55.3px,#2cffd3e6 57.5px,#00ffffb1 59.5px,#00aeff5d 63px,#007cff2a 66.6px,#004aff0f 68.8px,#0000 70.3px"></i>
<i style="--g:#0000 33px,#b30000 0,#b30000 38.4px,#ff0000 41.5px,#ff8000 45.4px,#ffff00 50.7px,#d5ff2a 52.7px,#61ff9e 54.7px,#24ffdbe8 57.4px,#00ffffc5 59px,#0094ff70 63px,#003cff1b 68.6px,#0000 70.5px"></i>
<i style="--g:#0000 33px,#b30000 0,#b30000 38.5px,#ff0000 41.7px,#ff8000 45.3px,#ffff00 50px,#c7ff38 52px,#59ffa6 54px,#1bffe4e9 57.4px,#00ffffd5 58.4px,#007bff84 63px,#002eff28 68.4px,#0000 70.7px"></i>
<i style="--g:#0000 33px,#b30000 0,#b30000 38.6px,#ff0000 42px,#ffff00 49px,#b9ff46 51.4px,#50ffaf 53.4px,#00ffffe0 58px,#0062ff97 63px,#0020ff34 68.2px,#0000 71px"></i>
<i style="--g:#0000 31.6px,#0000 0,#004dff29 32.7px,#b30000 0,#b30000 38.7px,#ff0000 42px,#ffff00 48.4px,#aaff55 50.8px,#48ffb7 52.7px,#00ffffe8 57.6px,#0048ffaa 63px,#0027ff77 65px,#0011ff40 68px,#0000 71px"></i>
<i style="--g:#0000 30px,#0000 0,#004dff2b 32.6px,#b30000 0,#b30000 39px,#ff0500 42.5px,#ffff00 47.8px,#3fffc0 52px,#00ffffee 57.3px,#009fffd0 60.3px,#002fffbe 63px,#0012ff8b 64.5px,#0003ff4d 68px,#0000 71.3px"></i>
<i style="--g:#0000 28.8px,#0000 0,#004dff2d 32.5px,#b30000 0,#b30000 39px,#ff0500 42.7px,#ffff00 47.3px,#37ffc8 51.4px,#00f9fff0 57px,#0090ffda 60.3px,#0015ffd1 63px,#0000fc9e 64px,#0000f459 67.6px,#0000 71.5px"></i>
<i style="--g:#0000 27.4px,#0000 0,#004dff2f 32.4px,#b30000 0,#b30000 39px,#ff0500 43px,#ff8000 45px,#ffff00 47px,#80ff7f 49px,#2effd1 50.8px,#00fffff5 55.6px,#00f0fff2 57px,#0080ffe5 60.3px,#0000fbe5 63px,#0000e6b2 63.7px,#0000e666 67.4px,#0000 71.7px"></i>
<i style="--g:#0000 27px,#0000 0,#004dff31 32.3px,#b80000 0,#b80000 39px,#ff0800 43px,#ff7e00 45.2px,#ffff00 47px,#80ff80 49px,#2dffd2 51px,#00fffff6 55.5px,#00eefff3 57.2px,#0000f9e7 63.3px,#0000e6b4 63.8px,#0000e668 67.7px,#0000 72px"></i>
<i style="--g:#0000 27px,#0000 0,#004dff33 32.2px,#be0000 0,#be0000 39px,#ff0000 42.4px,#ff0c00 43px,#ff7d00 45.4px,#ffff00 47.4px,#80ff80 49.4px,#2bffd4 51.4px,#00fffff7 55.5px,#00ecfff4 57.3px,#0000f7e9 63.4px,#0000e6b6 64px,#0000e669 68px,#0000 72.4px"></i>
<i style="--g:#0000 26.7px,#0000 0,#004dff35 32px,#c30000 0,#c30000 39.2px,#ff0000 42.2px,#ff1000 43px,#ff7b00 45.5px,#ffff00 47.6px,#80ff80 49.8px,#2affd5 51.7px,#00fffff8 55.5px,#00e9fff5 57.4px,#0000f6eb 63.5px,#0000e6b8 64px,#0000e66b 68px,#0000 72.7px"></i>
<i style="--g:#0000 26.5px,#0000 0,#004dff37 32px,#c90000 0,#c90000 39.3px,#ff0000 42px,#ff1300 43px,#ff7a00 45.7px,#ffff00 48px,#80ff80 50px,#28ffd7 52px,#00fffff9 55.5px,#00e7fff6 57.5px,#0000ffec 63.3px,#0000f4ec 63.6px,#0000e6b9 64px,#0000e66d 68.4px,#0000 73px"></i>
<i style="--g:#0000 26.3px,#0000 0,#004dff39 32px,#cf0000 0,#cf0000 39.3px,#ff0000 42px,#ff1700 43px,#ff7800 46px,#ffff00 48px,#80ff80 50.4px,#27ffd8 52.4px,#00fffffa 55.5px,#00e5fff7 57.7px,#006effee 60.4px,#0000ffee 63.4px,#0000f3ee 63.7px,#0000e6bb 64px,#0000e66f 68.7px,#0000 73.4px"></i>
<i style="--g:#0000 26px,#0000 0,#004dff3b 32px,#d40000 0,#d40000 39.4px,#ff0000 41.7px,#ff1a00 43px,#ff7700 46px,#ffff00 48.5px,#80ff80 50.7px,#25ffda 52.7px,#00fffffb 55.6px,#00e3fff8 57.8px,#006afff0 60.4px,#0000fff0 63.4px,#0000f1f0 63.8px,#0000e6bd 64.3px,#0000e671 69px,#0000 73.8px"></i>
<i style="--g:#0000 26px,#0000 0,#004dff3d 31.7px,#da0000 0,#da0000 39.4px,#ff0000 41.5px,#ff1e00 43px,#ff7600 46px,#ffff00 48.7px,#80ff80 51px,#24ffdb 53px,#00fffffb 55.7px,#00e1fff8 58px,#0067fff2 60.4px,#0000fff2 63.5px,#0000f0f2 64px,#0000e6bf 64.4px,#0000e672 69px,#0000 74px"></i>
<i style="--g:#0000 26px,#0000 0,#004dff3f 31.6px,#df0000 0,#df0000 39.5px,#ff0000 41.3px,#ff2100 43.2px,#ff7400 46.3px,#ffff00 49px,#23ffdc 53.4px,#00fffffc 55.8px,#00dffff9 58px,#0063fff4 60.4px,#0000fff4 63.5px,#0000eff4 64px,#0000e6c1 64.5px,#0000e674 69.4px,#0000 74.5px"></i>
<i style="--g:#0000 25.6px,#0000 0,#004dff41 31.5px,#e50000 0,#e50000 39.6px,#ff0000 41px,#ff7300 46.5px,#ffff00 49.3px,#21ffde 53.7px,#00fffffd 56px,#00ddfffa 58px,#0060fff5 60.4px,#0000fff5 63.5px,#0000edf5 64px,#0000e6c2 64.6px,#0000e676 69.7px,#0000 75px"></i>
<i style="--g:#0000 25.5px,#0000 0,#004dff43 31.4px,#eb0000 0,#eb0000 39.6px,#ff0000 41px,#ff7100 46.6px,#ffff00 49.5px,#20ffdf 54px,#00fffffd 56px,#00dbfffb 58px,#005cfff7 60.4px,#0000fff7 63.6px,#0000ecf7 64.2px,#0000e6c4 64.7px,#0000e678 70px,#0000 75px"></i>
<i style="--g:#0000 25.3px,#0000 0,#004dff45 31.3px,#f00000 0,#f00000 39.7px,#ff0000 40.6px,#ff7000 46.8px,#ffff00 50px,#1effe1 54.3px,#00fffffe 56px,#00d8fffc 58.3px,#0059fff9 60.4px,#0000fff9 63.6px,#0000eaf9 64.3px,#0000e6c6 65px,#0000e679 70.2px,#0000 75.5px"></i>
<i style="--g:#0000 25px,#0000 0,#004dff47 31.2px,#f60000 0,#ff0000 40.3px,#ff6f00 47px,#ffff00 50px,#1dffe2 54.7px,#00fffffe 56.2px,#00d6fffd 58.4px,#0055fffb 60.4px,#0000fffb 63.6px,#0000e9fb 64.4px,#0000e6c8 65px,#0000e67b 70.5px,#0000 76px"></i>
<i style="--g:#0000 25px,#0000 0,#004dff49 31px,#fc0000 0,#ff0000 40px,#ff6d00 47px,#ffff00 50.4px,#1cffe3 55px,#00fffffe 56.4px,#00d4fffe 58.5px,#0052fffc 60.4px,#0000fffc 63.6px,#0000e8fc 64.6px,#0000e6c9 65px,#0000e67d 70.7px,#0000 76.3px"></i>
<i style="--g:#0000 24.7px,#0000 0,#004dff4b 31px,#ff0200 0,#ff0200 40px,#ff6c00 47.3px,#ffff00 50.6px,#1affe5 55.3px,#00ffff 56.5px,#00d2ff 58.6px,#004efffe 60.5px,#0000fffe 63.6px,#0000e6fe 64.7px,#0000e6cb 65px,#0000e67f 71px,#0000 76.6px"></i>
<i style="--g:#0000 24.6px,#0000 0,#004dff4e 31px,#ff0600 0,#ff0600 40px,#ff6b00 47.5px,#ffff00 51px,#1affe5 55.7px,#00ffff 56.8px,#00d1ff 59px,#004dff 60.6px,#0000ff 64px,#0000e6 65px,#0000e6cc 65.4px,#0000e680 71.3px,#0000 77px"></i>
<i style="--g:#0000 24.4px,#0000 0,#004dff50 31px,#ff0800 0,#ff0800 40px,#ff6c00 47.8px,#ffff00 51.2px,#1affe5 56px,#00ffff 57px,#00d1ff 59px,#004dff 61px,#0000ff 64.2px,#0000e6 65.3px,#0000e6cc 66px,#0000e680 71.5px,#0000 77px"></i>
<i style="--g:#0000 24.2px,#0000 0,#004dff53 31px,#ff0a00 0,#ff0a00 40px,#ff6d00 48px,#ffff00 51.6px,#1affe5 56.3px,#00ffff 57.4px,#00d1ff 59.4px,#004dff 61px,#0000ff 64.6px,#0000e6 65.7px,#0000e6cc 66.2px,#0000e680 72px,#0000 77.4px"></i>
<i style="--g:#0000 24px,#0000 0,#004dff55 30.7px,#ff0d00 0,#ff0d00 40px,#ff6e00 48.4px,#ffff00 52px,#1affe5 56.6px,#00ffff 57.7px,#00d1ff 59.7px,#004dff 61.5px,#0000ff 65px,#0000e6 66px,#0000e6cc 66.6px,#0000e680 72px,#0000 77.6px"></i>
<i style="--g:#0000 24px,#0000 0,#004dff58 30.6px,#ff0f00 0,#ff0f00 40px,#ff6e00 48.7px,#ffff00 52px,#1affe5 57px,#00ffff 58px,#00d1ff 60px,#004dff 61.8px,#0000ff 65.3px,#0000e6 66.5px,#0000e6cc 67px,#0000e680 72.4px,#0000 78px"></i>
<i style="--g:#0000 23.7px,#0000 0,#004dff5b 30.6px,#ff1100 0,#ff1100 40px,#ff6f00 49px,#ffff00 52.5px,#1affe5 57.3px,#00ffff 58.4px,#00d1ff 60.3px,#004dff 62px,#0000ff 65.7px,#0000e6 67px,#0000e6cc 67.4px,#0000e680 72.7px,#0000 78px"></i>
<i style="--g:#0000 23.5px,#0000 0,#004dff5d 30.5px,#ff1300 0,#ff1300 40px,#ff7000 49.3px,#ffff00 53px,#1affe5 57.6px,#00ffff 58.7px,#00d1ff 60.6px,#004dff 62.4px,#0000ff 66px,#0000e6 67.3px,#0000e6cc 67.8px,#0000e680 73px,#0000 78.4px"></i>
<i style="--g:#0000 23.3px,#0000 0,#004dff60 30.4px,#ff1500 0,#ff1500 40px,#ff7000 49.5px,#ffff00 53px,#1affe5 58px,#00ffff 59px,#00d1ff 61px,#004dff 62.7px,#0000ff 66.4px,#0000e6 67.7px,#0000e6cc 68px,#0000e680 73.3px,#0000 78.6px"></i>
<i style="--g:#0000 23px,#0000 0,#004dff63 30.3px,#ff1700 0,#ff1700 40px,#ff7100 50px,#ffff00 53.5px,#1affe5 58.3px,#00ffff 59.3px,#00d1ff 61px,#004dff 63px,#0000ff 66.8px,#0000e6 68px,#0000e6cc 68.6px,#0000e680 73.6px,#0000 79px"></i>
<i style="--g:#0000 23px,#0000 0,#004dff65 30.2px,#ff1900 0,#ff1900 40px,#ff7200 50px,#ffff00 53.8px,#1affe5 58.6px,#00ffff 59.6px,#00d1ff 61.5px,#004dff 63.3px,#0000ff 67px,#0000e6 68.5px,#0000e6cc 69px,#0000e680 74px,#0000 79px"></i>
<i style="--g:#0000 22.8px,#0000 0,#004dff68 30px,#ff1b00 0,#ff1b00 40px,#ff7300 50.4px,#ffff00 54px,#1affe5 59px,#00ffff 60px,#00d1ff 61.8px,#004dff 63.6px,#0000ff 67.5px,#0000e6 69px,#0000e6cc 69.3px,#0000e680 74.2px,#0000 79.4px"></i>
<i style="--g:#0000 22.6px,#0000 0,#004dff6a 30px,#ff1e00 0,#ff1e00 40px,#ff7300 50.7px,#ffff00 54.4px,#1affe5 59.2px,#00ffff 60.2px,#00d1ff 62px,#004dff 64px,#0000ff 68px,#0000e6 69.2px,#0000e6cc 69.7px,#0000e680 74.5px,#0000 79.6px"></i>
<i style="--g:#0000 22.4px,#0000 0,#004dff6d 30px,#ff2000 0,#ff2000 40px,#ff7400 51px,#ffff00 54.7px,#1affe5 59.5px,#00ffff 60.6px,#00d1ff 62.4px,#004dff 64px,#0000ff 68.3px,#0000e6 69.6px,#0000e6cc 70px,#0000e680 74.8px,#0000 80px"></i>
<i style="--g:#0000 22.3px,#0000 0,#004dff70 30px,#ff2200 0,#ff2200 40px,#ff7500 51.3px,#ffff00 55px,#1affe5 60px,#00ffff 61px,#00d1ff 62.7px,#004dff 64.4px,#0000ff 68.6px,#0000e6 70px,#0000e6cc 70.5px,#0000e680 75px,#0000 80px"></i>
<i style="--g:#0000 22px,#0000 0,#0038ff9a 24.8px,#1affe59a 26.7px,#ff4c009a 28.3px,#2effd19a 30px,#ff2400 0,#ff2400 40px,#ff7500 51.6px,#ffff00 55.4px,#1affe5 60.2px,#00ffff 61px,#00d1ff 63px,#004dff 64.7px,#0000ff 69px,#0000e6 70.4px,#0000e6cc 71px,#0000e680 75.4px,#0000 80.3px"></i>
<i style="--g:#0000 21.8px,#0000 0,#0038ff9c 24.6px,#1affe59c 26.7px,#ff4c009c 28.3px,#2effd19c 30px,#ff2900 0,#ff2900 40px,#ff7800 52px,#ffff00 55.8px,#1affe5 60.6px,#00ffff 61.5px,#00d1ff 63.2px,#004dff 65px,#0000ff 69.3px,#0000e6 70.8px,#0000e6cc 71.2px,#0000e680 75.6px,#0000 80.5px"></i>
<i style="--g:#0000 21.4px,#0000 0,#0038ff9c 24.4px,#1affe59c 26.6px,#ff4c009c 28.3px,#2effd19c 30px,#ff2e00 0,#ff2e00 40px,#ff7a00 52.4px,#ffff00 56px,#1affe5 61px,#00ffff 62px,#00d1ff 63.5px,#004dff 65.2px,#0000ff 69.6px,#0000e6 71px,#0000e6cc 71.6px,#0000e680 76px,#0000 80.6px"></i>
<i style="--g:#0000 21px,#0000 0,#0038ff9d 24.3px,#1affe59d 26.6px,#ff4c009d 28.4px,#2effd19d 30.2px,#ff3300 0,#ff3300 40px,#ff7c00 53px,#ffff00 56.5px,#1affe5 61.3px,#00ffff 62px,#00d1ff 63.7px,#004dff 65.4px,#0000ff 70px,#0000e6 71.4px,#0000e6cc 72px,#0000e680 76px,#0000 80.7px"></i>
<i style="--g:#0000 20.7px,#0000 0,#0038ff9e 24px,#1affe59e 26.5px,#ff4c009e 28.4px,#2effd19e 30.4px,#ff3800 0,#ff3800 40px,#ff7e00 53.3px,#ffff00 57px,#80ff80 59.3px,#00ffff 62.5px,#00d1ff 64px,#004dff 65.7px,#0000ff 70.2px,#0000e6 71.8px,#0000e6cc 72.3px,#0000e680 76.3px,#0000 81px"></i>
<i style="--g:#0000 20.3px,#0000 0,#0038ff9f 24px,#1affe59f 26.5px,#ff4c009f 28.5px,#2effd19f 30.5px,#ff3d00 0,#ff3d00 40px,#ff8000 53.7px,#ffff00 57.3px,#80ff80 59.7px,#00ffff 62.8px,#00d1ff 64.3px,#004dff 66px,#0000ff 70.5px,#0000e6 72px,#0000e6cc 72.6px,#0000e680 76.6px,#0000 81px"></i>
<i style="--g:#0000 20px,#0000 0,#0038ffa0 23.7px,#1affe5a0 26.4px,#ff4c00a0 28.5px,#2effd1a0 30.7px,#ff4200 0,#ff4200 40px,#ff8200 54px,#ffff00 57.7px,#80ff80 60px,#00ffff 63px,#00d1ff 64.5px,#004dff 66px,#0000ff 71px,#0000e6 72.4px,#0000e6cc 73px,#0000e680 76.8px,#0000 81px"></i>
<i style="--g:#0000 19.6px,#0000 0,#0038ffa0 23.6px,#1affe5a0 26.4px,#ff4c00a0 28.6px,#2effd1a0 31px,#ff4700 0,#ff4700 40px,#ff6100 48.6px,#ff8400 54.5px,#ffff00 58px,#80ff80 60.4px,#00ffff 63.4px,#00d1ff 64.8px,#004dff 66.4px,#0000ff 71px,#0000e6 72.8px,#0000e6cc 73.3px,#0000e680 77px,#0000 81.3px"></i>
<i style="--g:#0000 19.3px,#0000 0,#0038ffa1 23.4px,#1affe5a1 26.3px,#ff4c00a1 28.6px,#2effd1a1 31px,#ff4c00 0,#ff4c00 39.8px,#ff6300 49px,#ff8600 55px,#ffff00 58.4px,#80ff80 61px,#00ffff 63.8px,#00d1ff 65px,#004dff 66.6px,#0000ff 71.5px,#0000e6 73px,#0000e6cc 73.6px,#0000e680 77.3px,#0000 81.4px"></i>
<i style="--g:#0000 19px,#0000 0,#0038ffa2 23px,#1affe5a2 26.3px,#ff4c00a2 28.7px,#2effd1a2 31px,#ff5100 0,#ff5100 39.8px,#ff6600 49.5px,#ff8900 55.3px,#ffff00 59px,#80ff80 61px,#00ffff 64px,#00d1ff 65.3px,#004dff 67px,#0000ff 71.8px,#0000e6 73.4px,#0000e6cc 74px,#0000e680 77.5px,#0000 81.6px"></i>
<i style="--g:#0000 18.6px,#0000 0,#0038ffa3 23px,#1affe5a3 26.2px,#ff4c00a3 28.8px,#2effd1a3 31.3px,#ff5600 0,#ff6900 50px,#ff8b00 55.7px,#ffff00 59px,#80ff80 61.5px,#00ffff 64.4px,#00d1ff 65.6px,#004dff 67px,#0000ff 72px,#0000e6 73.8px,#0000e6cc 74.3px,#0000e680 77.7px,#0000 81.7px"></i>
<i style="--g:#0000 18px,#0000 0,#0038ffa3 23px,#1affe5a3 26px,#ff4c00a3 29px,#2effd1a3 31.5px,#ff5a00 0,#ff6c00 50.3px,#ff8d00 56px,#ffff00 59.6px,#80ff80 62px,#00ffff 64.7px,#00d1ff 66px,#004dff 67.3px,#0000ff 72.4px,#0000e6 74px,#0000e6cc 74.6px,#0000e680 78px,#0000 82px"></i>
<i style="--g:#0000 18px,#0000 0,#0038ffa4 22.7px,#1affe5a4 26px,#ff4c00a4 29px,#2effd1a4 31.6px,#ff5f00 0,#ff6f00 50.8px,#ff8f00 56.5px,#ffff00 60px,#80ff80 62.3px,#00ffff 65px,#00d1ff 66px,#004dff 67.6px,#0000ff 72.7px,#0000e6 74.4px,#0000e6cc 75px,#0000e680 78.2px,#0000 82px"></i>
<i style="--g:#0000 17.5px,#0000 0,#0038ffa5 22.5px,#1affe5a5 26px,#ff4c00a5 29px,#2effd1a5 31.8px,#ff6400 0,#ff7100 51.2px,#ff9100 57px,#ffff00 60.3px,#80ff80 62.7px,#00ffff 65.4px,#00d1ff 66.3px,#004dff 67.8px,#0000ff 73px,#0000e6 74.8px,#0000e6cc 75.3px,#0000e680 78.4px,#0000 82px"></i>
<i style="--g:#0000 17px,#0000 0,#0038ffa6 22.3px,#1affe5a6 26px,#ff4c00a6 29px,#2effd1a6 32px,#ff6900 0,#ff7400 51.6px,#ff9300 57.3px,#ffff00 60.7px,#00ffff 65.7px,#00d1ff 66.6px,#004dff 68px,#0000ff 73.3px,#0000e6 75px,#0000e6cc 75.6px,#0000e680 78.7px,#0000 82.3px"></i>
<i style="--g:#0000 17.2px,#0000 0,#0038ffa7 22.5px,#1affe5a7 26.2px,#ff4c00a7 29.2px,#2effd1a7 32.2px,#ff6c00 0,#ff7600 52px,#ff9500 57.6px,#ffff00 61px,#00ffff 66px,#00d1ff 66.7px,#004dff 68px,#0000ff 73.5px,#0000e6 75.3px,#0000e6cc 75.8px,#0000e680 79px,#0000 82.4px"></i>
<i style="--g:#0000 18px,#0000 0,#0038ffa7 23.3px,#1affe5a7 27px,#ff4c00a7 30px,#2effd1a7 32.8px,#ff6d00 0,#ff7700 52px,#ff9500 57.7px,#ffff00 61px,#00ffff 66px,#00d1ff 66.8px,#004dff 68.2px,#0000ff 73.5px,#0000e6 75.3px,#0000e6cc 76px,#0000e680 79px,#0000 82.4px"></i>
<i style="--g:#0000 19px,#0000 0,#0038ffa8 24px,#1affe5a8 27.6px,#ff4c00a8 30.5px,#2effd1a8 33.3px,#ff6e00 0,#ff7800 52px,#ff9600 58px,#ffff00 61px,#00ffff 66px,#00d1ff 66.8px,#004dff 68.3px,#0000ff 73.6px,#0000e6 75.4px,#0000e6cc 76px,#0000e680 79px,#0000 82.5px"></i>
<i style="--g:#0000 20px,#0000 0,#0038ffa9 25px,#1affe5a9 28.3px,#ff4c00a9 31px,#2effd1a9 34px,#ff6f00 0,#ff7900 52.3px,#ff9700 58px,#ffff00 61px,#00ffff 66px,#00d1ff 67px,#004dff 68.4px,#0000ff 73.7px,#0000e6 75.5px,#0000e6cc 76px,#0000e680 79px,#0000 82.6px"></i>
<i style="--g:#0000 21px,#0000 0,#0038ffaa 25.7px,#1affe5aa 29px,#ff4c00aa 31.7px,#2effd1aa 34.4px,#ff6f00 0,#ff7a00 52.4px,#ff9800 58px,#ffff00 61px,#00ffff 66px,#00d1ff 67px,#004dff 68.4px,#0000ff 73.7px,#0000e6 75.5px,#0000e6cc 76px,#0000e680 79px,#0000 82.6px"></i>
<i style="--g:#0000 22px,#0000 0,#0038ffab 26.5px,#1affe5ab 29.7px,#ff4c00ab 32.3px,#2effd1ab 35px,#ff7000 0,#ff7b00 52.5px,#ff9900 58.2px,#ffff00 61.2px,#00ffff 66px,#00d1ff 67px,#004dff 68.5px,#0000ff 74px,#0000e6 75.6px,#0000e6cc 76px,#0000e680 79px,#0000 82.7px"></i>
<i style="--g:#0000 23px,#0000 0,#0038ffab 27.3px,#1affe5ab 30.4px,#ff4c00ab 33px,#2effd1ab 35.4px,#ff7100 0,#ff7c00 52.7px,#ff9a00 58.3px,#ffff00 61.3px,#00ffff 66px,#00d1ff 67px,#004dff 68.6px,#0000ff 74px,#0000e6 75.7px,#0000e6cc 76px,#0000e680 79px,#0000 82.7px"></i>
<i style="--g:#0000 24.3px,#0000 0,#0038ffac 28.4px,#1affe5ac 31.3px,#ff4c00ac 33.6px,#2effd1ac 36px,#ff7200 0,#ff7c00 53px,#ff9b00 58.5px,#ffff00 61.4px,#00ffff 66px,#00d1ff 67px,#004dff 68.6px,#0000ff 74px,#0000e6 75.7px,#0000e6cc 76.2px,#0000e680 79.3px,#0000 83px"></i>
<i style="--g:#0000 28.3px,#0000 0,#0038ffac 31px,#1affe5ac 33px,#ff4c00ac 34.8px,#2effd1ac 36.4px,#ff7300 0,#ff7d00 53px,#ff9c00 58.6px,#ffff00 61.4px,#00ffff 66px,#00d1ff 67px,#004dff 68.7px,#0000ff 74px,#0000e6 75.8px,#0000e6cc 76.3px,#0000e680 79.3px,#0000 83px"></i>
<i style="--g:#0000 32.3px,#0000 0,#0038ffac 34.2px,#1affe5ac 35.5px,#ff4c00ac 36.6px,#2effd1ac 37.7px,#ff7400 0,#ff7e00 53px,#ff9d00 58.7px,#ffff00 61.5px,#00ffff 66px,#00d1ff 67px,#004dff 68.8px,#0000ff 74px,#0000e6 76px,#0000e6cc 76.3px,#0000e680 79.4px,#0000 83px"></i>
<i style="--g:#0000 34px,#0000 0,#0038ffac 36px,#1affe5ac 37.6px,#ff4c00ac 39px,#2effd1ac 40px,#ff7500 0,#ff7f00 53px,#ff9e00 59px,#ffff00 61.6px,#00ffff 66px,#00d1ff 67px,#004dff 69px,#0000ff 74px,#0000e6 76px,#0000e6cc 76.4px,#0000e680 79.5px,#0000 83px"></i>
<i style="--g:#0000 34px,#0000 0,#0038ffac 37px,#1affe5ac 39px,#ff4c00ac 40.7px,#2effd1ac 42.3px,#ff7700 0,#ff8000 53.2px,#ff9e00 59px,#ffff00 61.6px,#00ffff 66px,#00d1ff 67px,#004dff 69px,#0000ff 74px,#0000e6 76px,#0000e6cc 76.4px,#0000e680 79.5px,#0000 83px"></i>
<i style="--g:#0000 34px,#0000 0,#0038ffac 41px,#1affe5ac 45.7px,#ff4c00ac 49.6px,#2effd1ac 53.5px,#ff8100 0,#ff9e00 59px,#ffff00 61.6px,#00ffff 66px,#00d1ff 67px,#004dff 69px,#0000ff 74px,#0000e6 76px,#0000e6cc 76.4px,#0000e680 79.5px,#0000 83px"></i>
<i style="--g:#0000 34px,#0000 0,#0038ffac 42.5px,#1affe5ac 48.5px,#ff4c00ac 53.4px,#2effd1ac 58px,#ff9a00 0,#ff9e00 59px,#ffff00 61.6px,#00ffff 66px,#00d1ff 67px,#004dff 69px,#0000ff 74px,#0000e6 76px,#0000e6cc 76.4px,#0000e680 79.5px,#0000 83px"></i>
<i style="--g:#0000 34px,#0000 0,#0038ffac 42.5px,#1affe5ac 48.5px,#ff4c00ac 53.4px,#2effd1ac 58px,#ff9a00 0,#ff9e00 59px,#ffff00 61.6px,#00ffff 66px,#00d1ff 67px,#004dff 69px,#0000ff 74px,#0000e6 76px,#0000e6cc 76.4px,#0000e680 79.5px,#0000 83px"></i>
</div>
<div class="p" style="left:407.30px;top:126px;width:85.15px">
<i style="--g:#0000 30.7px,#b30000 0,#b30000 35.6px,#ff0000 38.6px,#ff8000 42px,#ffd100 45px,#ffff00 47.4px,#6bff94 54px,#00ffffd9 57px,#00b2ffb2 59px,#004dff66 61px,#001aff0d 69px,#0000 71px"></i>
<i style="--g:#0000 30.7px,#b30000 0,#b30000 35.7px,#ff0000 38.7px,#ff8000 42px,#ffd100 45px,#ffff00 47.5px,#6bff94 54px,#00ffffd9 57px,#00b2ffb2 59px,#004dff66 61.3px,#001aff0d 69px,#0000 71px"></i>
<i style="--g:#0000 30.7px,#b30000 0,#b30000 36px,#ff0000 39px,#ff8000 42px,#ffd100 45px,#ffff00 47.6px,#6bff94 54px,#00ffffd9 57px,#00b2ffb2 59.2px,#004dff66 61.4px,#001aff0d 69px,#0000 71.3px"></i>
<i style="--g:#0000 30.7px,#b30000 0,#b30000 36px,#ff0000 39px,#ff8000 42px,#ffd100 45px,#ffff00 47.7px,#6bff94 54px,#00ffffd9 57px,#00b2ffb2 59.3px,#004dff66 61.5px,#001aff0d 69.3px,#0000 71.4px"></i>
<i style="--g:#0000 30.3px,#0000 0,#004dff34 30.7px,#b30000 0,#b30000 36px,#ff0000 39px,#ff8000 42.3px,#ffd100 45.2px,#ffff00 47.8px,#6bff94 54.2px,#00ffffd9 57.3px,#00b2ffb2 59.4px,#004dff66 61.6px,#001aff0d 69.4px,#0000 71.5px"></i>
<i style="--g:#0000 29.3px,#0000 0,#004dff35 30.7px,#b30000 0,#b30000 36px,#ff0000 39px,#ff8000 42.4px,#ffd100 45.3px,#ffff00 48px,#6bff94 54.3px,#00ffffd9 57.4px,#00b2ffb2 59.5px,#004dff66 61.7px,#001aff0d 69.5px,#0000 71.6px"></i>
<i style="--g:#0000 28.3px,#0000 0,#004dff37 30.7px,#b30000 0,#b30000 36px,#ff0000 39.2px,#ff8000 42.4px,#ffd200 45.4px,#ffff00 47.8px,#6aff95 54.3px,#00ffffda 57.4px,#00b1ffb4 59.6px,#004aff69 61.7px,#0018ff0f 69.4px,#0000 71.6px"></i>
<i style="--g:#0000 27.3px,#0000 0,#004dff38 30.7px,#b30000 0,#b30000 36.2px,#ff0000 39.3px,#ff8000 42.5px,#ffd900 45.3px,#ffff00 47px,#61ff9e 53.4px,#00ffffdf 57px,#00aaffbb 59.3px,#003fff7b 61.6px,#0011ff1b 68.8px,#0000 71.3px"></i>
<i style="--g:#0000 26.3px,#0000 0,#004dff3a 30.7px,#b30000 0,#b30000 36.3px,#ff0000 39.5px,#ffe000 45px,#ffff00 46.3px,#59ffa6 52.6px,#00ffffe4 56.5px,#00a3ffc2 59px,#0034ff8c 61.4px,#000aff28 68px,#0000 71px"></i>
<i style="--g:#0000 25.5px,#0000 0,#004dff3c 30.7px,#b30000 0,#b30000 36.3px,#ff0000 39.6px,#ffff00 45.7px,#50ffaf 51.7px,#00ffffe9 56px,#009cffc9 59px,#0029ff9e 61.3px,#0003ff34 67.5px,#0000 70.6px"></i>
<i style="--g:#0000 25.4px,#0000 0,#004dff3d 30.7px,#b30000 0,#b30000 36.4px,#ff0500 40px,#ffff00 45.3px,#48ffb7 51px,#00ffffec 55.6px,#0095ffd0 58.6px,#001dffb0 61px,#0009ff7d 63px,#0000fb40 67px,#0000 70.2px"></i>
<i style="--g:#0000 25.3px,#0000 0,#004dff3f 30.7px,#b30000 0,#b30000 36.4px,#ff0500 40px,#ffff00 45px,#9cff63 47px,#3fffc0 50px,#00fbffef 55.2px,#008effd7 58.3px,#0012ffc1 61px,#0000fd8e 62.5px,#0000 70px"></i>
<i style="--g:#0000 25.2px,#0000 0,#004dff40 30.7px,#b30000 0,#b30000 36.5px,#ff0500 40.3px,#fffd00 44.6px,#ffff00 0,#8eff71 46.8px,#37ffc8 49px,#00f6fff0 55px,#0087ffde 58px,#0007ffd3 61px,#0000f1a0 62px,#0000ed59 65.6px,#0000 69.5px"></i>
<i style="--g:#0000 25px,#0000 0,#004dff42 30.7px,#b30000 0,#b30000 36.5px,#ff0500 40.4px,#ff8000 42.6px,#ffff00 44.4px,#80ff7f 46.4px,#2effd1 48.3px,#00fffff5 53px,#00f0fff2 54.6px,#0080ffe5 58px,#0000fae5 60.7px,#0000e6b2 61px,#0000e666 65px,#0000 69px"></i>
<i style="--g:#0000 25px,#0000 0,#004dff44 30.7px,#b80000 0,#b80000 36.7px,#ff0800 40.6px,#ff7e00 43px,#ffff00 44.7px,#80ff80 46.7px,#2dffd2 48.7px,#00fffff6 53px,#00eefff3 55px,#0000f9e7 61px,#0000e6b4 61.4px,#0000e668 65.3px,#0000 69.6px"></i>
<i style="--g:#0000 25px,#0000 0,#004dff45 30.7px,#be0000 0,#be0000 37px,#ff0000 40px,#ff0c00 40.7px,#ff7d00 43px,#ffff00 45px,#80ff80 47px,#2bffd4 49px,#00fffff7 53.2px,#00ecfff4 55px,#0000f7e9 61px,#0000e6b6 61.6px,#0000e669 65.6px,#0000 70px"></i>
<i style="--g:#0000 25px,#0000 0,#004dff47 30.7px,#c30000 0,#c30000 37px,#ff0000 40px,#ff1000 41px,#ff7b00 43.4px,#ffff00 45.5px,#80ff80 47.6px,#2affd5 49.6px,#00fffff8 53.3px,#00e9fff5 55.3px,#0000f6eb 61.3px,#0000e6b8 62px,#0000e66b 66px,#0000 70.6px"></i>
<i style="--g:#0000 24.7px,#0000 0,#004dff48 30.8px,#c90000 0,#c90000 37.2px,#ff0000 40px,#ff1300 41px,#ff7a00 43.6px,#ffff00 46px,#80ff80 48px,#28ffd7 50px,#00fffff9 53.5px,#00e7fff6 55.5px,#0000ffec 61.3px,#0000f4ec 61.5px,#0000e6b9 62px,#0000e66d 66.4px,#0000 71px"></i>
<i style="--g:#0000 24.7px,#0000 0,#004dff4a 30.8px,#cf0000 0,#cf0000 37.4px,#ff0000 40px,#ff1700 41px,#ff7800 44px,#ffff00 46.3px,#80ff80 48.5px,#27ffd8 50.4px,#00fffffa 53.6px,#00e5fff7 55.7px,#006effee 58.4px,#0000ffee 61.4px,#0000f3ee 61.8px,#0000e6bb 62.3px,#0000e66f 66.8px,#0000 71.5px"></i>
<i style="--g:#0000 24.6px,#0000 0,#004dff4c 31px,#d40000 0,#d40000 37.6px,#ff0000 40px,#ff1a00 41.3px,#ff7700 44px,#ffff00 46.6px,#80ff80 49px,#25ffda 51px,#00fffffb 53.8px,#00e3fff8 56px,#006afff0 58.6px,#0000fff0 61.6px,#0000f1f0 62px,#0000e6bd 62.5px,#0000e671 67px,#0000 72px"></i>
<i style="--g:#0000 24.5px,#0000 0,#004dff4d 31px,#da0000 0,#da0000 37.7px,#ff0000 40px,#ff1e00 41.5px,#ff7600 44.5px,#ffff00 47px,#80ff80 49.3px,#24ffdb 51.3px,#00fffffb 54px,#00e1fff8 56px,#0067fff2 58.7px,#0000fff2 61.8px,#0000f0f2 62.2px,#0000e6bf 62.7px,#0000e672 67.5px,#0000 72.4px"></i>
<i style="--g:#0000 24.4px,#0000 0,#004dff4f 31px,#df0000 0,#df0000 38px,#ff0000 39.7px,#ff2100 41.6px,#ff7400 44.7px,#ffff00 47.4px,#23ffdc 51.8px,#00fffffc 54px,#00dffff9 56.4px,#0063fff4 59px,#0000fff4 62px,#0000eff4 62.4px,#0000e6c1 63px,#0000e674 68px,#0000 73px"></i>
<i style="--g:#0000 24.3px,#0000 0,#004dff50 31px,#e50000 0,#e50000 38px,#ff0000 39.6px,#ff7300 45px,#ffff00 47.8px,#21ffde 52.2px,#00fffffd 54.4px,#00ddfffa 56.6px,#0060fff5 59px,#0000fff5 62px,#0000edf5 62.7px,#0000e6c2 63px,#0000e676 68.2px,#0000 73.4px"></i>
<i style="--g:#0000 24px,#0000 0,#004dff52 31px,#eb0000 0,#eb0000 38.3px,#ff0000 39.5px,#ff7100 45.3px,#ffff00 48px,#20ffdf 52.7px,#00fffffd 54.6px,#00dbfffb 57px,#005cfff7 59px,#0000fff7 62.2px,#0000ecf7 63px,#0000e6c4 63.4px,#0000e678 68.6px,#0000 74px"></i>
<i style="--g:#0000 24px,#0000 0,#004dff54 31px,#f00000 0,#f00000 38.4px,#ff0000 39.3px,#ff7000 45.5px,#ffff00 48.6px,#1effe1 53px,#00fffffe 55px,#00d8fffc 57px,#0059fff9 59px,#0000fff9 62.4px,#0000eaf9 63px,#0000e6c6 63.6px,#0000e679 69px,#0000 74.3px"></i>
<i style="--g:#0000 24px,#0000 0,#004dff55 31px,#f60000 0,#ff0000 39px,#ff6f00 46px,#ffff00 49px,#1dffe2 53.5px,#00fffffe 55px,#00d6fffd 57.3px,#0055fffb 59.3px,#0000fffb 62.5px,#0000e9fb 63.3px,#0000e6c8 64px,#0000e67b 69.3px,#0000 74.8px"></i>
<i style="--g:#0000 24px,#0000 0,#004dff57 31px,#fc0000 0,#ff0000 39px,#ff6d00 46px,#ffff00 49.3px,#1cffe3 54px,#00fffffe 55.4px,#00d4fffe 57.5px,#0052fffc 59.4px,#0000fffc 62.6px,#0000e8fc 63.5px,#0000e6c9 64px,#0000e67d 69.7px,#0000 75.2px"></i>
<i style="--g:#0000 24px,#0000 0,#004dff58 31px,#ff0200 0,#ff0200 39px,#ff6c00 46.3px,#ffff00 49.7px,#1affe5 54.4px,#00ffff 55.6px,#00d2ff 57.7px,#004efffe 59.5px,#0000fffe 62.7px,#0000e6fe 63.8px,#0000e6cb 64.3px,#0000e67f 70px,#0000 75.7px"></i>
<i style="--g:#0000 23.7px,#0000 0,#0038ff7a 26.2px,#1affe57a 28px,#ff4c007a 29.5px,#2effd17a 31px,#ff0600 0,#ff0600 39px,#ff6b00 46.6px,#ffff00 50px,#1affe5 55px,#00ffff 56px,#00d1ff 58px,#004dff 59.8px,#0000ff 63px,#0000e6 64px,#0000e6cc 64.6px,#0000e680 70.4px,#0000 76px"></i>
<i style="--g:#0000 23.6px,#0000 0,#0038ff7e 26px,#1affe57e 28px,#ff4c007e 29.2px,#2effd17e 30.6px,#ff0800 0,#ff0800 39px,#ff6c00 47px,#ffff00 50.4px,#1affe5 55px,#00ffff 56.3px,#00d1ff 58.3px,#004dff 60px,#0000ff 63.4px,#0000e6 64.5px,#0000e6cc 65px,#0000e680 70.7px,#0000 76.3px"></i>
<i style="--g:#0000 23.5px,#0000 0,#0038ff81 26px,#1affe581 27.6px,#ff4c0081 29px,#2effd181 30.3px,#ff0a00 0,#ff0a00 39px,#ff6d00 47.2px,#ffff00 50.7px,#1affe5 55.5px,#00ffff 56.6px,#00d1ff 58.6px,#004dff 60.3px,#0000ff 63.7px,#0000e6 65px,#0000e6cc 65.3px,#0000e680 71px,#0000 76.5px"></i>
<i style="--g:#0000 23.4px,#0000 0,#0038ff85 25.7px,#1affe585 27.4px,#ff4c0085 28.7px,#2effd185 30px,#ff0d00 0,#ff0d00 39px,#ff6e00 47.5px,#ffff00 51px,#1affe5 55.8px,#00ffff 57px,#00d1ff 59px,#004dff 60.6px,#0000ff 64px,#0000e6 65.2px,#0000e6cc 65.7px,#0000e680 71.3px,#0000 76.8px"></i>
<i style="--g:#0000 23.3px,#0000 0,#0038ff88 25.5px,#1affe588 27px,#ff4c0088 28.5px,#2effd188 29.8px,#ff0f00 0,#ff0f00 39px,#ff6e00 48px,#ffff00 51.3px,#1affe5 56px,#00ffff 57px,#00d1ff 59px,#004dff 61px,#0000ff 64.5px,#0000e6 65.6px,#0000e6cc 66px,#0000e680 71.6px,#0000 77px"></i>
<i style="--g:#0000 23px,#0000 0,#0038ff8c 25.4px,#1affe58c 27px,#ff4c008c 28.2px,#2effd18c 29.5px,#ff1100 0,#ff1100 39px,#ff6f00 48px,#ffff00 51.7px,#1affe5 56.4px,#00ffff 57.5px,#00d1ff 59.5px,#004dff 61.2px,#0000ff 65px,#0000e6 66px,#0000e6cc 66.5px,#0000e680 72px,#0000 77.3px"></i>
<i style="--g:#0000 23px,#0000 0,#0038ff8f 25px,#1affe58f 26.7px,#ff4c008f 28px,#2effd18f 29.2px,#ff1300 0,#ff1300 39px,#ff7000 48.4px,#ffff00 52px,#1affe5 56.8px,#00ffff 58px,#00d1ff 59.8px,#004dff 61.5px,#0000ff 65.2px,#0000e6 66.4px,#0000e6cc 67px,#0000e680 72px,#0000 77.5px"></i>
<i style="--g:#0000 23px,#0000 0,#0038ff93 25px,#1affe593 26.5px,#ff4c0093 27.7px,#2effd193 29px,#ff1500 0,#ff1500 39px,#ff7000 48.7px,#ffff00 52.3px,#1affe5 57px,#00ffff 58px,#00d1ff 60px,#004dff 62px,#0000ff 65.6px,#0000e6 67px,#0000e6cc 67.3px,#0000e680 72.5px,#0000 77.8px"></i>
<i style="--g:#0000 22.8px,#0000 0,#0038ff96 25px,#1affe596 26.3px,#ff4c0096 27.5px,#2effd196 28.7px,#ff1700 0,#ff1700 39px,#ff7100 49px,#ffff00 52.6px,#1affe5 57.4px,#00ffff 58.5px,#00d1ff 60.3px,#004dff 62px,#0000ff 66px,#0000e6 67.2px,#0000e6cc 67.7px,#0000e680 72.8px,#0000 78px"></i>
<i style="--g:#0000 22.7px,#0000 0,#0038ff9a 24.7px,#1affe59a 26px,#ff4c009a 27.2px,#2effd19a 28.4px,#ff1900 0,#ff1900 39px,#ff7200 49.3px,#ffff00 53px,#1affe5 57.7px,#00ffff 58.8px,#00d1ff 60.6px,#004dff 62.4px,#0000ff 66.3px,#0000e6 67.6px,#0000e6cc 68px,#0000e680 73px,#0000 78.3px"></i>
<i style="--g:#0000 22.6px,#0000 0,#0038ff9d 24.5px,#1affe59d 26px,#ff4c009d 27px,#2effd19d 28px,#ff1b00 0,#ff1b00 39px,#ff7300 49.6px,#ffff00 53.3px,#1affe5 58px,#00ffff 59px,#00d1ff 61px,#004dff 62.7px,#0000ff 66.7px,#0000e6 68px,#0000e6cc 68.5px,#0000e680 73.4px,#0000 78.5px"></i>
<i style="--g:#0000 22.4px,#0000 0,#0038ffa1 24.3px,#1affe5a1 25.7px,#ff4c00a1 26.8px,#2effd1a1 28px,#ff1e00 0,#ff1e00 39px,#ff7300 50px,#ffff00 53.6px,#1affe5 58.4px,#00ffff 59.4px,#00d1ff 61.2px,#004dff 63px,#0000ff 67px,#0000e6 68.4px,#0000e6cc 69px,#0000e680 73.6px,#0000 78.8px"></i>
<i style="--g:#0000 22.3px,#0000 0,#0038ffa4 24px,#1affe5a4 25.5px,#ff4c00a4 26.6px,#2effd1a4 27.7px,#ff2000 0,#ff2000 39px,#ff7400 50px,#ffff00 54px,#1affe5 58.7px,#00ffff 59.7px,#00d1ff 61.5px,#004dff 63.3px,#0000ff 67.4px,#0000e6 68.8px,#0000e6cc 69.3px,#0000e680 74px,#0000 79px"></i>
<i style="--g:#0000 22px,#0000 0,#0038ffa8 24px,#1affe5a8 25.4px,#ff4c00a8 26.4px,#2effd1a8 27.5px,#ff2200 0,#ff2200 39px,#ff7500 50.5px,#ffff00 54.2px,#1affe5 59px,#00ffff 60px,#00d1ff 62px,#004dff 63.6px,#0000ff 67.8px,#0000e6 69px,#0000e6cc 69.7px,#0000e680 74.2px,#0000 79.2px"></i>
<i style="--g:#0000 22px,#0000 0,#0038ffab 24px,#1affe5ab 25px,#ff4c00ab 26.2px,#2effd1ab 27.3px,#ff2400 0,#ff2400 39px,#ff7500 50.8px,#ffff00 54.5px,#1affe5 59.4px,#00ffff 60.3px,#00d1ff 62px,#004dff 64px,#0000ff 68px,#0000e6 69.6px,#0000e6cc 70px,#0000e680 74.5px,#0000 79.5px"></i>
<i style="--g:#0000 22px,#0000 0,#0038ffad 24px,#1affe5ad 25.2px,#ff4c00ad 26.3px,#2effd1ad 27.4px,#ff2900 0,#ff2900 39px,#ff7800 51.3px,#ffff00 55px,#1affe5 60px,#00ffff 60.8px,#00d1ff 62.5px,#004dff 64.2px,#0000ff 68.6px,#0000e6 70px,#0000e6cc 70.5px,#0000e680 75px,#0000 79.7px"></i>
<i style="--g:#0000 21.7px,#0000 0,#0038ffae 23.8px,#1affe5ae 25.3px,#ff4c00ae 26.4px,#2effd1ae 27.6px,#ff2e00 0,#ff2e00 39.2px,#ff7a00 52px,#ffff00 55.5px,#1affe5 60.3px,#00ffff 61.2px,#00d1ff 63px,#004dff 64.6px,#0000ff 69px,#0000e6 70.5px,#0000e6cc 71px,#0000e680 75.2px,#0000 80px"></i>
<i style="--g:#0000 21.6px,#0000 0,#0038ffae 23.8px,#1affe5ae 25.3px,#ff4c00ae 26.6px,#2effd1ae 28px,#ff3300 0,#ff3300 39.3px,#ff7c00 52.3px,#ffff00 56px,#1affe5 60.7px,#00ffff 61.6px,#00d1ff 63.2px,#004dff 65px,#0000ff 69.4px,#0000e6 71px,#0000e6cc 71.4px,#0000e680 75.6px,#0000 80.2px"></i>
<i style="--g:#0000 21.4px,#0000 0,#0038ffaf 23.7px,#1affe5af 25.4px,#ff4c00af 26.7px,#2effd1af 28px,#ff3800 0,#ff3800 39.4px,#ff7e00 53px,#ffff00 56.5px,#80ff80 59px,#00ffff 62px,#00d1ff 63.6px,#004dff 65.3px,#0000ff 70px,#0000e6 71.3px,#0000e6cc 72px,#0000e680 76px,#0000 80.5px"></i>
<i style="--g:#0000 21.2px,#0000 0,#0038ffb0 23.7px,#1affe5b0 25.4px,#ff4c00b0 27px,#2effd1b0 28.3px,#ff3d00 0,#ff3d00 39.5px,#ff8000 53.4px,#ffff00 57px,#80ff80 59.4px,#00ffff 62.5px,#00d1ff 64px,#004dff 65.6px,#0000ff 70.2px,#0000e6 71.8px,#0000e6cc 72.3px,#0000e680 76.3px,#0000 80.7px"></i>
<i style="--g:#0000 21px,#0000 0,#0038ffb1 23.6px,#1affe5b1 25.5px,#ff4c00b1 27px,#2effd1b1 28.5px,#ff4200 0,#ff4200 39.6px,#ff8200 54px,#ffff00 57.5px,#80ff80 60px,#00ffff 63px,#00d1ff 64.3px,#004dff 66px,#0000ff 70.7px,#0000e6 72.2px,#0000e6cc 72.7px,#0000e680 76.6px,#0000 81px"></i>
<i style="--g:#0000 21px,#0000 0,#0038ffb2 23.6px,#1affe5b2 25.6px,#ff4c00b2 27px,#2effd1b2 28.7px,#ff4700 0,#ff4700 39.7px,#ff6100 48.5px,#ff8400 54.4px,#ffff00 58px,#80ff80 60.4px,#00ffff 63.3px,#00d1ff 64.7px,#004dff 66.3px,#0000ff 71px,#0000e6 72.7px,#0000e6cc 73px,#0000e680 77px,#0000 81.2px"></i>
<i style="--g:#0000 20.7px,#0000 0,#0038ffb2 23.6px,#1affe5b2 25.6px,#ff4c00b2 27.3px,#2effd1b2 29px,#ff4c00 0,#ff4c00 40px,#ff6300 49px,#ff8600 55px,#ffff00 58.5px,#80ff80 61px,#00ffff 63.8px,#00d1ff 65px,#004dff 66.6px,#0000ff 71.5px,#0000e6 73px,#0000e6cc 73.6px,#0000e680 77.3px,#0000 81.5px"></i>
<i style="--g:#0000 20.5px,#0000 0,#0038ffb3 23.5px,#1affe5b3 25.7px,#ff4c00b3 27.4px,#2effd1b3 29px,#ff5100 0,#ff5100 40px,#ff6600 49.6px,#ff8900 55.4px,#ffff00 59px,#80ff80 61.3px,#00ffff 64.2px,#00d1ff 65.4px,#004dff 67px,#0000ff 72px,#0000e6 73.6px,#0000e6cc 74px,#0000e680 77.6px,#0000 81.7px"></i>
<i style="--g:#0000 20.3px,#0000 0,#0038ffb4 23.5px,#1affe5b4 25.8px,#ff4c00b4 27.6px,#2effd1b4 29.4px,#ff5600 0,#ff6900 50px,#ff8b00 56px,#ffff00 59.4px,#80ff80 61.8px,#00ffff 64.6px,#00d1ff 66px,#004dff 67.3px,#0000ff 72.3px,#0000e6 74px,#0000e6cc 74.5px,#0000e680 78px,#0000 82px"></i>
<i style="--g:#0000 20px,#0000 0,#0038ffb5 23.5px,#1affe5b5 26px,#ff4c00b5 27.8px,#2effd1b5 29.7px,#ff5a00 0,#ff6c00 50.7px,#ff8d00 56.5px,#ffff00 60px,#80ff80 62.3px,#00ffff 65px,#00d1ff 66px,#004dff 67.7px,#0000ff 72.7px,#0000e6 74.4px,#0000e6cc 75px,#0000e680 78.3px,#0000 82px"></i>
<i style="--g:#0000 20px,#0000 0,#0038ffb6 23.5px,#1affe5b6 26px,#ff4c00b6 28px,#2effd1b6 30px,#ff5f00 0,#ff6f00 51.2px,#ff8f00 57px,#ffff00 60.4px,#80ff80 62.7px,#00ffff 65.5px,#00d1ff 66.5px,#004dff 68px,#0000ff 73px,#0000e6 75px,#0000e6cc 75.4px,#0000e680 78.7px,#0000 82.4px"></i>
<i style="--g:#0000 19.8px,#0000 0,#0038ffb6 23.4px,#1affe5b6 26px,#ff4c00b6 28px,#2effd1b6 30.2px,#ff6400 0,#ff7100 51.8px,#ff9100 57.5px,#ffff00 61px,#80ff80 63.2px,#00ffff 66px,#00d1ff 67px,#004dff 68.4px,#0000ff 73.6px,#0000e6 75.3px,#0000e6cc 76px,#0000e680 79px,#0000 82.7px"></i>
<i style="--g:#0000 19.6px,#0000 0,#0038ffb7 23.4px,#1affe5b7 26px,#ff4c00b7 28.3px,#2effd1b7 30.5px,#ff6900 0,#ff7400 52.3px,#ff9300 58px,#ffff00 61.4px,#00ffff 66.3px,#00d1ff 67.3px,#004dff 68.7px,#0000ff 74px,#0000e6 75.8px,#0000e6cc 76.3px,#0000e680 79.3px,#0000 83px"></i>
<i style="--g:#0000 19.7px,#0000 0,#0038ffb8 23.6px,#1affe5b8 26.4px,#ff4c00b8 28.6px,#2effd1b8 31px,#ff6c00 0,#ff7600 52.6px,#ff9500 58.3px,#ffff00 61.6px,#00ffff 66.5px,#00d1ff 67.4px,#004dff 69px,#0000ff 74px,#0000e6 76px,#0000e6cc 76.5px,#0000e680 79.5px,#0000 83px"></i>
<i style="--g:#0000 20.3px,#0000 0,#0038ffb9 24px,#1affe5b9 27px,#ff4c00b9 29px,#2effd1b9 31.3px,#ff6d00 0,#ff7700 52.7px,#ff9500 58.4px,#ffff00 61.7px,#00ffff 66.6px,#00d1ff 67.5px,#004dff 69px,#0000ff 74.3px,#0000e6 76px,#0000e6cc 76.5px,#0000e680 79.6px,#0000 83px"></i>
<i style="--g:#0000 21px,#0000 0,#0038ffb9 24.7px,#1affe5b9 27.4px,#ff4c00b9 29.6px,#2effd1b9 31.8px,#ff6e00 0,#ff7800 53px,#ff9600 58.5px,#ffff00 61.7px,#00ffff 66.6px,#00d1ff 67.5px,#004dff 69px,#0000ff 74.3px,#0000e6 76px,#0000e6cc 76.6px,#0000e680 79.6px,#0000 83px"></i>
<i style="--g:#0000 21.5px,#0000 0,#0038ffba 25.2px,#1affe5ba 28px,#ff4c00ba 30px,#2effd1ba 32.2px,#ff6f00 0,#ff7900 53px,#ff9700 58.7px,#ffff00 62px,#00ffff 66.6px,#00d1ff 67.5px,#004dff 69px,#0000ff 74.4px,#0000e6 76px,#0000e6cc 76.7px,#0000e680 79.7px,#0000 83.3px"></i>
<i style="--g:#0000 22px,#0000 0,#0038ffbb 25.8px,#1affe5bb 28.5px,#ff4c00bb 30.6px,#2effd1bb 32.7px,#ff6f00 0,#ff7a00 53px,#ff9800 58.8px,#ffff00 62px,#00ffff 66.7px,#00d1ff 67.6px,#004dff 69px,#0000ff 74.5px,#0000e6 76.2px,#0000e6cc 76.7px,#0000e680 79.8px,#0000 83.3px"></i>
<i style="--g:#0000 22.7px,#0000 0,#0038ffbc 26.3px,#1affe5bc 29px,#ff4c00bc 31px,#2effd1bc 33px,#ff7000 0,#ff7b00 53.2px,#ff9900 59px,#ffff00 62px,#00ffff 66.7px,#00d1ff 67.6px,#004dff 69px,#0000ff 74.5px,#0000e6 76.3px,#0000e6cc 76.8px,#0000e680 80px,#0000 83.4px"></i>
<i style="--g:#0000 23.3px,#0000 0,#0038ffbd 27px,#1affe5bd 29.4px,#ff4c00bd 31.4px,#2effd1bd 33.5px,#ff7100 0,#ff7c00 53.4px,#ff9a00 59px,#ffff00 62px,#00ffff 66.7px,#00d1ff 67.6px,#004dff 69.3px,#0000ff 74.6px,#0000e6 76.4px,#0000e6cc 77px,#0000e680 80px,#0000 83.5px"></i>
<i style="--g:#0000 24.2px,#0000 0,#0038ffbd 27.6px,#1affe5bd 30px,#ff4c00bd 32px,#2effd1bd 33.7px,#ff7200 0,#ff7c00 53.5px,#ff9b00 59px,#ffff00 62px,#00ffff 66.7px,#00d1ff 67.7px,#004dff 69.3px,#0000ff 74.7px,#0000e6 76.4px,#0000e6cc 77px,#0000e680 80px,#0000 83.5px"></i>
<i style="--g:#0000 27.6px,#0000 0,#0038ffbd 30px,#1affe5bd 31.4px,#ff4c00bd 32.7px,#2effd1bd 34px,#ff7300 0,#ff7d00 53.6px,#ff9c00 59.3px,#ffff00 62px,#00ffff 66.8px,#00d1ff 67.7px,#004dff 69.4px,#0000ff 74.7px,#0000e6 76.5px,#0000e6cc 77px,#0000e680 80px,#0000 83.6px"></i>
<i style="--g:#0000 31px,#0000 0,#0038ffbd 32.4px,#1affe5bd 33.5px,#ff4c00bd 34.4px,#2effd1bd 35.2px,#ff7400 0,#ff7e00 53.8px,#ff9d00 59.4px,#ffff00 62.2px,#00ffff 67px,#00d1ff 67.7px,#004dff 69.5px,#0000ff 74.8px,#0000e6 76.6px,#0000e6cc 77px,#0000e680 80px,#0000 83.7px"></i>
<i style="--g:#0000 32.4px,#0000 0,#0038ffbd 34.3px,#1affe5bd 35.7px,#ff4c00bd 36.8px,#2effd1bd 38px,#ff7500 0,#ff7f00 54px,#ff9e00 59.6px,#ffff00 62.3px,#00ffff 67px,#00d1ff 67.8px,#004dff 69.5px,#0000ff 75px,#0000e6 76.6px,#0000e6cc 77px,#0000e680 80px,#0000 83.7px"></i>
<i style="--g:#0000 32.4px,#0000 0,#0038ffbd 35.2px,#1affe5bd 37.3px,#ff4c00bd 39px,#2effd1bd 40.6px,#ff7500 0,#ff8000 54px,#ff9e00 59.6px,#ffff00 62.3px,#00ffff 67px,#00d1ff 67.8px,#004dff 69.5px,#0000ff 75px,#0000e6 76.6px,#0000e6cc 77px,#0000e680 80px,#0000 83.7px"></i>
<i style="--g:#0000 32.4px,#0000 0,#0038ffbd 40px,#1affe5bd 45.6px,#ff4c00bd 50px,#2effd1bd 54.4px,#ff8200 0,#ff9e00 59.6px,#ffff00 62.3px,#00ffff 67px,#00d1ff 67.8px,#004dff 69.5px,#0000ff 75px,#0000e6 76.6px,#0000e6cc 77px,#0000e680 80px,#0000 83.7px"></i>
<i style="--g:#0000 32.4px,#0000 0,#0038ffbd 40.2px,#1affe5bd 45.8px,#ff4c00bd 50.3px,#2effd1bd 54.7px,#ff8400 0,#ff9e00 59.6px,#ffff00 62.3px,#00ffff 67px,#00d1ff 67.8px,#004dff 69.5px,#0000ff 75px,#0000e6 76.6px,#0000e6cc 77px,#0000e680 80px,#0000 83.7px"></i>
<i style="--g:#0000 32.4px,#0000 0,#0038ffbd 40.2px,#1affe5bd 45.8px,#ff4c00bd 50.3px,#2effd1bd 54.7px,#ff8400 0,#ff9e00 59.6px,#ffff00 62.3px,#00ffff 67px,#00d1ff 67.8px,#004dff 69.5px,#0000ff 75px,#0000e6 76.6px,#0000e6cc 77px,#0000e680 80px,#0000 83.7px"></i>
</div>
<div class="p" style="left:27.30px;top:236px;width:85.15px">
<i style="--g:#0000 32.4px,#0000 0,#004dff33 32.8px,#b30000 0,#b30000 35.6px,#ff0000 38.6px,#ff8000 42px,#ffff00 46.7px,#80ff80 53px,#1affe5e6 55.8px,#00ffffca 56.7px,#00d1ff99 58.3px,#00b2ff59 59.7px,#009eff26 62px,#0080ff0d 62.5px,#0000 63.2px"></i>
<i style="--g:#0000 32.4px,#0000 0,#004dff33 33px,#b30000 0,#b30000 35.7px,#ff0000 38.6px,#ff8000 42px,#ffff00 46.8px,#80ff80 53px,#1affe5e6 56px,#00ffffca 56.8px,#00d1ff99 58.4px,#00b2ff59 59.8px,#009eff26 62px,#0080ff0d 62.6px,#0000 63.3px"></i>
<i style="--g:#0000 32.4px,#0000 0,#004dff33 33px,#b30000 0,#b30000 35.8px,#ff0000 38.7px,#ff8000 42px,#ffff00 47px,#80ff80 53px,#1affe5e6 56px,#00ffffca 57px,#00d1ff99 58.5px,#00b2ff59 60px,#009eff26 62px,#0080ff0d 62.7px,#0000 63.4px"></i>
<i style="--g:#0000 32.4px,#0000 0,#004dff33 33px,#b30000 0,#b30000 36px,#ff0000 39px,#ff8000 42px,#ffff00 47px,#80ff80 53px,#1affe5e6 56px,#00ffffca 57px,#00d1ff99 58.6px,#00b2ff59 60px,#009eff26 62px,#0080ff0d 63px,#0000 63.5px"></i>
<i style="--g:#0000 32.4px,#0000 0,#004dff33 33px,#b30000 0,#b30000 36px,#ff0000 39px,#ff8000 42px,#ffff00 47px,#80ff80 53px,#1affe5e6 56px,#00ffffca 57px,#00d1ff99 58.7px,#00b2ff59 60px,#009eff26 62.2px,#0080ff0d 63px,#0000 63.6px"></i>
<i style="--g:#0000 32.4px,#0000 0,#004dff33 33px,#b30000 0,#b30000 36px,#ff0000 39px,#ff8000 42.3px,#ffff00 47px,#80ff80 53.3px,#1affe5e6 56.3px,#00ffffca 57px,#00d1ff99 58.8px,#00b2ff59 60px,#009eff26 62.3px,#0080ff0d 63px,#0000 63.7px"></i>
<i style="--g:#0000 32.4px,#0000 0,#004dff33 33px,#b30000 0,#b30000 36px,#ff0000 39px,#ff8000 42.4px,#ffff00 47.3px,#80ff80 53.4px,#1affe5e6 56.4px,#00ffffca 57.3px,#00d1ff99 59px,#00b2ff59 60.3px,#009eff26 62.4px,#0080ff0d 63px,#0000 64px"></i>
<i style="--g:#0000 32.4px,#0000 0,#004dff33 33px,#b30000 0,#b30000 36.4px,#ff0000 39.5px,#ff8000 42.6px,#ffff00 47px,#79ff86 53.2px,#16ffe9e7 56.5px,#00ffffd1 57.2px,#00a4ff65 60.5px,#008fff32 62.5px,#0073ff14 63.5px,#0000 64.5px"></i>
<i style="--g:#0000 32.4px,#0000 0,#004dff33 33px,#b30000 0,#b30000 37px,#ff0000 40px,#ff8000 43px,#ffff00 47px,#6eff91 53px,#00ffffdb 57px,#008aff78 61px,#005eff20 64px,#0000 65.6px"></i>
<i style="--g:#0000 32.4px,#0000 0,#004dff33 33px,#b30000 0,#b30000 37.2px,#ff0000 40.4px,#ffff00 46.7px,#c1ff3e 48.5px,#62ff9d 52.5px,#00ffffe3 57px,#0071ff8b 61.3px,#0049ff2d 64.7px,#0000 66.7px"></i>
<i style="--g:#0000 32.4px,#0000 0,#004dff33 33px,#b30000 0,#b30000 37.6px,#ff0500 41px,#ffff00 46.7px,#b3ff4c 48.6px,#57ffa8 52px,#00ffffe9 57px,#0057ff9f 61.7px,#0043ff6c 63px,#0034ff39 65.3px,#0000 67.7px"></i>
<i style="--g:#0000 32.4px,#0000 0,#004dff33 33px,#b30000 0,#b30000 38px,#ff0500 41.6px,#ffff00 46.7px,#a5ff5a 48.7px,#4cffb3 51.7px,#00ffffee 57px,#00ffffee 0,#009dffca 59.8px,#003effb2 62px,#002aff7f 63.2px,#001eff45 66px,#0000 69px"></i>
<i style="--g:#0000 32.4px,#0000 0,#004dff33 33px,#b30000 0,#b30000 38.4px,#ff0500 42px,#ffff00 46.7px,#97ff68 48.7px,#40ffbf 51.3px,#00f9ffef 57px,#0092ffd4 60px,#0025ffc6 62.5px,#0010ff93 63.4px,#0009ff52 66.4px,#0000 70px"></i>
<i style="--g:#0000 32.4px,#0000 0,#004dff33 33.2px,#b30000 0,#b30000 38.8px,#ff0500 42.6px,#ff8000 45px,#ffff00 46.8px,#feff01 0,#89ff76 48.8px,#35ffca 51px,#00f3fff1 57px,#0087ffdf 60px,#000bffd9 63px,#0000f6a6 63.5px,#0000f35e 67px,#0000 71px"></i>
<i style="--g:#0000 32.4px,#0000 0,#004dff33 33.2px,#b50000 0,#b50000 39px,#ff0600 43px,#ff7f00 45px,#ffff00 47px,#80ff80 49px,#2dffd2 51px,#00fffff6 55.5px,#00effff3 57px,#007effe6 60.3px,#0000f9e6 63px,#0000e6b3 63.7px,#0000e667 67.5px,#0000 71.8px"></i>
<i style="--g:#0000 32.4px,#0000 0,#004dff33 33px,#ba0000 0,#ba0000 39px,#ff0a00 43px,#ff7e00 45px,#ffff00 47px,#80ff80 49px,#2cffd3 51px,#00fffff7 55.4px,#00edfff3 57px,#0000f8e8 63.2px,#0000e6b5 63.7px,#0000e668 67.7px,#0000 72px"></i>
<i style="--g:#0000 32.4px,#0000 0,#004dff33 33px,#c00000 0,#c00000 39px,#ff0000 42px,#ff0d00 43px,#ff7c00 45.3px,#ffff00 47.3px,#80ff80 49.4px,#2bffd4 51.4px,#00fffff8 55.3px,#00ebfff4 57.2px,#0000f7ea 63.3px,#0000e6b7 63.8px,#0000e66a 68px,#0000 72.4px"></i>
<i style="--g:#0000 32.7px,#c50000 0,#c50000 39px,#ff0000 42px,#ff1100 43px,#ff7b00 45.4px,#ffff00 47.5px,#80ff80 49.7px,#29ffd6 51.6px,#00fffff9 55.3px,#00e9fff5 57.3px,#0000f5eb 63.3px,#0000e6b8 64px,#0000e66c 68px,#0000 72.7px"></i>
<i style="--g:#0000 32.5px,#cb0000 0,#cb0000 39px,#ff0000 41.7px,#ff1400 43px,#ff7900 45.5px,#ffff00 47.8px,#80ff80 50px,#28ffd7 52px,#00fffff9 55.3px,#00e6fff6 57.3px,#0000ffed 63px,#0000f4ed 63.4px,#0000e6ba 64px,#0000e66e 68.3px,#0000 73px"></i>
<i style="--g:#0000 32.3px,#d10000 0,#d10000 39px,#ff0000 41.5px,#ff1800 42.8px,#ff7800 45.6px,#ffff00 48px,#80ff80 50px,#26ffd9 52px,#00fffffa 55.3px,#00e4fff7 57.4px,#006dffef 60px,#0000ffef 63px,#0000f2ef 63.4px,#0000e6bc 64px,#0000e66f 68.5px,#0000 73.2px"></i>
<i style="--g:#0000 32px,#d60000 0,#d60000 39px,#ff0000 41.3px,#ff1c00 42.8px,#ff7700 45.7px,#ffff00 48px,#80ff80 50.4px,#25ffda 52.5px,#00fffffb 55.3px,#00e2fff8 57.4px,#0069fff1 60px,#0000fff1 63px,#0000f1f1 63.5px,#0000e6be 64px,#0000e671 68.7px,#0000 73.5px"></i>
<i style="--g:#0000 32px,#dc0000 0,#dc0000 39px,#ff0000 41px,#ff1f00 42.7px,#ff7500 45.8px,#ffff00 48.4px,#80ff80 50.7px,#24ffdb 52.7px,#00fffffc 55.3px,#00e0fff9 57.5px,#0066fff2 60px,#0000fff2 63px,#0000f0f2 63.5px,#0000e6bf 64px,#0000e673 69px,#0000 74px"></i>
<i style="--g:#0000 31.8px,#e20000 0,#e20000 39px,#ff0000 40.7px,#ff2300 42.7px,#ff7400 46px,#ffff00 48.6px,#22ffdd 53px,#00fffffc 55.3px,#00defffa 57.5px,#0062fff4 60px,#0000fff4 63px,#0000eef4 63.6px,#0000e6c1 64px,#0000e675 69px,#0000 74px"></i>
<i style="--g:#0000 31.6px,#e70000 0,#e70000 39px,#ff0000 40.4px,#ff7200 46px,#ffff00 49px,#21ffde 53.3px,#00fffffd 55.3px,#00dcfffb 57.6px,#005efff6 60px,#0000fff6 63px,#0000edf6 63.6px,#0000e6c3 64px,#0000e677 69.3px,#0000 74.4px"></i>
<i style="--g:#0000 30px,#0000 0,#004dff38 31.4px,#ed0000 0,#ed0000 39px,#ff0000 40px,#ff7100 46px,#ffff00 49px,#1fffe0 53.5px,#00fffffd 55.4px,#00dafffb 57.6px,#005bfff8 60px,#0000fff8 63px,#0000ebf8 63.7px,#0000e6c5 64px,#0000e678 69.4px,#0000 74.7px"></i>
<i style="--g:#0000 28.3px,#0000 0,#0038ff51 29.4px,#1affe551 30px,#ff4c0051 30.7px,#2effd151 31.2px,#f30000 0,#f30000 39px,#ff0000 40px,#ff6f00 46px,#ffff00 49.3px,#1effe1 54px,#00fffffe 55.5px,#00d8fffc 57.7px,#0057fffa 59.8px,#0000fffa 63px,#0000eafa 63.7px,#0000e6c7 64.2px,#0000e67a 69.6px,#0000 75px"></i>
<i style="--g:#0000 26.7px,#0000 0,#0038ff56 28.2px,#1affe556 29.3px,#ff4c0056 30px,#2effd156 31px,#f80000 0,#ff0000 39.5px,#ff6e00 46.3px,#ffff00 49.5px,#1cffe3 54px,#00fffffe 55.6px,#00d6fffd 57.7px,#0054fffb 59.7px,#0000fffb 63px,#0000e8fb 63.8px,#0000e6c8 64.3px,#0000e67c 70px,#0000 75.3px"></i>
<i style="--g:#0000 25px,#0000 0,#0038ff5b 27px,#1affe55b 28.5px,#ff4c005b 29.7px,#2effd15b 31px,#fe0000 0,#ff0000 39px,#ff6d00 46.4px,#ffff00 49.7px,#1bffe4 54.3px,#00ffff 55.7px,#00d3fffe 57.8px,#0050fffd 59.7px,#0000fffd 63px,#0000e7fd 64px,#0000e6ca 64.3px,#0000e67e 70px,#0000 75.6px"></i>
<i style="--g:#0000 23.8px,#0000 0,#0038ff60 26px,#1affe560 28px,#ff4c0060 29.3px,#2effd160 30.7px,#ff0500 0,#ff0500 39px,#ff6b00 46.5px,#ffff00 50px,#1affe5 54.6px,#00ffff 55.8px,#00d1ff 58px,#004dff 59.6px,#0000ff 63px,#0000e6 64px,#0000e6cc 64.4px,#0000e67f 70.2px,#0000 76px"></i>
<i style="--g:#0000 23.6px,#0000 0,#0038ff65 26px,#1affe565 27.8px,#ff4c0065 29px,#2effd165 30.6px,#ff0700 0,#ff0700 39px,#ff6c00 46.7px,#ffff00 50px,#1affe5 55px,#00ffff 56px,#00d1ff 58px,#004dff 60px,#0000ff 63px,#0000e6 64.2px,#0000e6cc 64.7px,#0000e680 70.5px,#0000 76px"></i>
<i style="--g:#0000 23.5px,#0000 0,#0038ff6a 26px,#1affe56a 27.7px,#ff4c006a 29px,#2effd16a 30.5px,#ff0900 0,#ff0900 39px,#ff6c00 47px,#ffff00 50.5px,#1affe5 55.3px,#00ffff 56.4px,#00d1ff 58.4px,#004dff 60px,#0000ff 63.5px,#0000e6 64.6px,#0000e6cc 65px,#0000e680 71px,#0000 76.4px"></i>
<i style="--g:#0000 23.4px,#0000 0,#0038ff6f 26px,#1affe56f 27.6px,#ff4c006f 29px,#2effd16f 30.3px,#ff0b00 0,#ff0b00 39px,#ff6d00 47.3px,#ffff00 51px,#1affe5 55.6px,#00ffff 56.7px,#00d1ff 58.7px,#004dff 60.5px,#0000ff 64px,#0000e6 65px,#0000e6cc 65.5px,#0000e680 71px,#0000 76.6px"></i>
<i style="--g:#0000 23.3px,#0000 0,#0038ff74 25.7px,#1affe574 27.5px,#ff4c0074 29px,#2effd174 30.2px,#ff0d00 0,#ff0d00 39px,#ff6e00 47.6px,#ffff00 51px,#1affe5 56px,#00ffff 57px,#00d1ff 59px,#004dff 60.8px,#0000ff 64.2px,#0000e6 65.4px,#0000e6cc 66px,#0000e680 71.4px,#0000 77px"></i>
<i style="--g:#0000 23px,#0000 0,#0038ff79 25.6px,#1affe579 27.3px,#ff4c0079 28.7px,#2effd179 30px,#ff1000 0,#ff1000 39px,#ff6f00 48px,#ffff00 51.5px,#1affe5 56.2px,#00ffff 57.3px,#00d1ff 59.3px,#004dff 61px,#0000ff 64.6px,#0000e6 65.8px,#0000e6cc 66.3px,#0000e680 71.7px,#0000 77px"></i>
<i style="--g:#0000 23px,#0000 0,#0038ff7c 25.5px,#1affe57c 27.2px,#ff4c007c 28.6px,#2effd17c 30px,#ff1200 0,#ff1200 39px,#ff6f00 48.2px,#ffff00 51.8px,#1affe5 56.6px,#00ffff 57.6px,#00d1ff 59.6px,#004dff 61.4px,#0000ff 65px,#0000e6 66px,#0000e6cc 66.7px,#0000e680 72px,#0000 77.4px"></i>
<i style="--g:#0000 23px,#0000 0,#0038ff7f 25.4px,#1affe57f 27px,#ff4c007f 28.5px,#2effd17f 30px,#ff1400 0,#ff1400 39px,#ff7000 48.5px,#ffff00 52px,#1affe5 57px,#00ffff 58px,#00d1ff 60px,#004dff 61.6px,#0000ff 65.3px,#0000e6 66.6px,#0000e6cc 67px,#0000e680 72.3px,#0000 77.6px"></i>
<i style="--g:#0000 23px,#0000 0,#0038ff82 25.3px,#1affe582 27px,#ff4c0082 28.4px,#2effd182 29.7px,#ff1600 0,#ff1600 39px,#ff7100 49px,#ffff00 52.4px,#1affe5 57.2px,#00ffff 58.3px,#00d1ff 60px,#004dff 62px,#0000ff 65.7px,#0000e6 67px,#0000e6cc 67.5px,#0000e680 72.6px,#0000 78px"></i>
<i style="--g:#0000 22.7px,#0000 0,#0038ff85 25px,#1affe585 27px,#ff4c0085 28.3px,#2effd185 29.6px,#ff1800 0,#ff1800 39px,#ff7100 49px,#ffff00 52.7px,#1affe5 57.5px,#00ffff 58.6px,#00d1ff 60.5px,#004dff 62.2px,#0000ff 66px,#0000e6 67.4px,#0000e6cc 68px,#0000e680 73px,#0000 78px"></i>
<i style="--g:#0000 22.6px,#0000 0,#0038ff88 25px,#1affe588 26.8px,#ff4c0088 28px,#2effd188 29.5px,#ff1a00 0,#ff1a00 39px,#ff7200 49.4px,#ffff00 53px,#1affe5 58px,#00ffff 59px,#00d1ff 60.8px,#004dff 62.5px,#0000ff 66.5px,#0000e6 67.8px,#0000e6cc 68.3px,#0000e680 73px,#0000 78.4px"></i>
<i style="--g:#0000 22.5px,#0000 0,#0038ff8b 25px,#1affe58b 26.6px,#ff4c008b 28px,#2effd18b 29.4px,#ff1c00 0,#ff1c00 39px,#ff7300 49.7px,#ffff00 53.4px,#1affe5 58px,#00ffff 59.2px,#00d1ff 61px,#004dff 63px,#0000ff 67px,#0000e6 68px,#0000e6cc 68.7px,#0000e680 73.5px,#0000 78.6px"></i>
<i style="--g:#0000 22.4px,#0000 0,#0038ff8e 24.8px,#1affe58e 26.5px,#ff4c008e 28px,#2effd18e 29.3px,#ff1e00 0,#ff1e00 39px,#ff7400 50px,#ffff00 53.7px,#1affe5 58.5px,#00ffff 59.5px,#00d1ff 61.3px,#004dff 63px,#0000ff 67px,#0000e6 68.5px,#0000e6cc 69px,#0000e680 73.8px,#0000 79px"></i>
<i style="--g:#0000 22.3px,#0000 0,#0038ff91 24.7px,#1affe591 26.4px,#ff4c0091 27.8px,#2effd191 29px,#ff2000 0,#ff2000 39px,#ff7400 50.3px,#ffff00 54px,#1affe5 59px,#00ffff 60px,#00d1ff 61.6px,#004dff 63.4px,#0000ff 67.6px,#0000e6 69px,#0000e6cc 69.4px,#0000e680 74px,#0000 79px"></i>
<i style="--g:#0000 22px,#0000 0,#0038ff94 24.6px,#1affe594 26.3px,#ff4c0094 27.7px,#2effd194 29px,#ff2300 0,#ff2300 39px,#ff7500 50.6px,#ffff00 54.3px,#1affe5 59px,#00ffff 60px,#00d1ff 62px,#004dff 63.7px,#0000ff 68px,#0000e6 69.3px,#0000e6cc 70px,#0000e680 74.4px,#0000 79.3px"></i>
<i style="--g:#0000 22px,#0000 0,#0038ff97 24.5px,#1affe597 26px,#ff4c0097 27.6px,#2effd197 29px,#ff2600 0,#ff2600 39px,#ff7600 51px,#ffff00 54.7px,#1affe5 59.5px,#00ffff 60.5px,#00d1ff 62.2px,#004dff 64px,#0000ff 68.3px,#0000e6 69.7px,#0000e6cc 70.2px,#0000e680 74.6px,#0000 79.6px"></i>
<i style="--g:#0000 22px,#0000 0,#0038ff9a 24.4px,#1affe59a 26.2px,#ff4c009a 27.6px,#2effd19a 29px,#ff2b00 0,#ff2b00 39px,#ff7800 51.4px,#ffff00 55px,#1affe5 60px,#00ffff 61px,#00d1ff 62.6px,#004dff 64.3px,#0000ff 68.7px,#0000e6 70px,#0000e6cc 70.6px,#0000e680 75px,#0000 79.8px"></i>
<i style="--g:#0000 22px,#0000 0,#0038ff9d 24.4px,#1affe59d 26.2px,#ff4c009d 27.7px,#2effd19d 29px,#ff3000 0,#ff3000 39px,#ff7b00 52px,#ffff00 55.6px,#1affe5 60.3px,#00ffff 61.3px,#00d1ff 63px,#004dff 64.6px,#0000ff 69px,#0000e6 70.5px,#0000e6cc 71px,#0000e680 75.2px,#0000 80px"></i>
<i style="--g:#0000 21.7px,#0000 0,#0038ffa0 24.4px,#1affe5a0 26.3px,#ff4c00a0 27.8px,#2effd1a0 29.3px,#ff3500 0,#ff3500 39px,#ff7d00 52.4px,#ffff00 56px,#1affe5 60.8px,#00ffff 61.6px,#00d1ff 63.2px,#004dff 65px,#0000ff 69.4px,#0000e6 71px,#0000e6cc 71.4px,#0000e680 75.5px,#0000 80px"></i>
<i style="--g:#0000 21.6px,#0000 0,#0038ffa3 24.3px,#1affe5a3 26.3px,#ff4c00a3 28px,#2effd1a3 29.4px,#ff3a00 0,#ff3a00 39.2px,#ff7f00 53px,#ffff00 56.5px,#80ff80 59px,#00ffff 62px,#00d1ff 63.5px,#004dff 65px,#0000ff 69.8px,#0000e6 71.3px,#0000e6cc 71.8px,#0000e680 76px,#0000 80.4px"></i>
<i style="--g:#0000 21.4px,#0000 0,#0038ffa6 24.3px,#1affe5a6 26.3px,#ff4c00a6 28px,#2effd1a6 29.6px,#ff3f00 0,#ff3f00 39.3px,#ff8100 53.3px,#ffff00 57px,#80ff80 59.3px,#00ffff 62.4px,#00d1ff 64px,#004dff 65.5px,#0000ff 70px,#0000e6 71.7px,#0000e6cc 72px,#0000e680 76px,#0000 80.6px"></i>
<i style="--g:#0000 21.3px,#0000 0,#0038ffa9 24.2px,#1affe5a9 26.3px,#ff4c00a9 28px,#2effd1a9 29.7px,#ff4400 0,#ff4400 39.3px,#ff5f00 48px,#ff8300 53.8px,#ffff00 57.4px,#80ff80 59.7px,#00ffff 62.8px,#00d1ff 64px,#004dff 65.8px,#0000ff 70.5px,#0000e6 72px,#0000e6cc 72.6px,#0000e680 76.4px,#0000 80.7px"></i>
<i style="--g:#0000 21.2px,#0000 0,#0038ffac 24.2px,#1affe5ac 26.4px,#ff4c00ac 28px,#2effd1ac 29.8px,#ff4900 0,#ff4900 39.4px,#ff6200 48.4px,#ff8500 54.2px,#ffff00 57.8px,#80ff80 60px,#00ffff 63px,#00d1ff 64.5px,#004dff 66px,#0000ff 71px,#0000e6 72.5px,#0000e6cc 73px,#0000e680 76.7px,#0000 81px"></i>
<i style="--g:#0000 21px,#0000 0,#0038ffac 24px,#1affe5ac 26.4px,#ff4c00ac 28px,#2effd1ac 30px,#ff4e00 0,#ff4e00 39.4px,#ff6400 49px,#ff8700 54.7px,#ffff00 58.2px,#80ff80 60.6px,#00ffff 63.5px,#00d1ff 64.8px,#004dff 66.4px,#0000ff 71.2px,#0000e6 73px,#0000e6cc 73.4px,#0000e680 77px,#0000 81px"></i>
<i style="--g:#0000 21px,#0000 0,#0038ffac 24px,#1affe5ac 26.4px,#ff4c00ac 28.2px,#2effd1ac 30px,#ff5300 0,#ff5300 39.5px,#ff6700 49.4px,#ff8900 55px,#ffff00 58.7px,#80ff80 61px,#00ffff 64px,#00d1ff 65px,#004dff 66.7px,#0000ff 71.6px,#0000e6 73.3px,#0000e6cc 73.8px,#0000e680 77.3px,#0000 81.3px"></i>
<i style="--g:#0000 21px,#0000 0,#0038ffac 24px,#1affe5ac 26.4px,#ff4c00ac 28.3px,#2effd1ac 30px,#ff5800 0,#ff6a00 50px,#ff8c00 55.6px,#ffff00 59px,#80ff80 61.5px,#00ffff 64.3px,#00d1ff 65.4px,#004dff 67px,#0000ff 72px,#0000e6 73.7px,#0000e6cc 74px,#0000e680 77.6px,#0000 81.5px"></i>
<i style="--g:#0000 20.7px,#0000 0,#0038ffac 24px,#1affe5ac 26.5px,#ff4c00ac 28.4px,#2effd1ac 30.3px,#ff5c00 0,#ff6d00 50.3px,#ff8e00 56px,#ffff00 59.6px,#80ff80 62px,#00ffff 64.7px,#00d1ff 65.8px,#004dff 67.2px,#0000ff 72.4px,#0000e6 74px,#0000e6cc 74.5px,#0000e680 78px,#0000 81.7px"></i>
<i style="--g:#0000 20.6px,#0000 0,#0038ffac 24px,#1affe5ac 26.5px,#ff4c00ac 28.4px,#2effd1ac 30.4px,#ff6100 0,#ff7000 51px,#ff9000 56.6px,#ffff00 60px,#80ff80 62.3px,#00ffff 65px,#00d1ff 66px,#004dff 67.5px,#0000ff 72.7px,#0000e6 74.4px,#0000e6cc 75px,#0000e680 78px,#0000 82px"></i>
<i style="--g:#0000 20.5px,#0000 0,#0038ffac 24px,#1affe5ac 26.5px,#ff4c00ac 28.5px,#2effd1ac 30.5px,#ff6600 0,#ff7300 51.3px,#ff9200 57px,#ffff00 60.4px,#00ffff 65.4px,#00d1ff 66.4px,#004dff 68px,#0000ff 73px,#0000e6 75px,#0000e6cc 75.3px,#0000e680 78.5px,#0000 82px"></i>
<i style="--g:#0000 20.4px,#0000 0,#0038ffac 24px,#1affe5ac 26.5px,#ff4c00ac 28.6px,#2effd1ac 30.6px,#ff6b00 0,#ff7500 52px,#ff9400 57.5px,#ffff00 61px,#00ffff 65.8px,#00d1ff 66.7px,#004dff 68px,#0000ff 73.4px,#0000e6 75.2px,#0000e6cc 75.7px,#0000e680 78.8px,#0000 82.3px"></i>
<i style="--g:#0000 21px,#0000 0,#0038ffac 24.5px,#1affe5ac 27px,#ff4c00ac 29px,#2effd1ac 31px,#ff6c00 0,#ff7600 52px,#ff9500 57.6px,#ffff00 61px,#00ffff 66px,#00d1ff 66.7px,#004dff 68px,#0000ff 73.5px,#0000e6 75.3px,#0000e6cc 75.8px,#0000e680 79px,#0000 82.4px"></i>
<i style="--g:#0000 21.7px,#0000 0,#0038ffac 25.3px,#1affe5ac 28px,#ff4c00ac 30px,#2effd1ac 32px,#ff6d00 0,#ff7700 52px,#ff9600 57.7px,#ffff00 61px,#00ffff 66px,#00d1ff 66.8px,#004dff 68.3px,#0000ff 73.6px,#0000e6 75.3px,#0000e6cc 76px,#0000e680 79px,#0000 82.4px"></i>
<i style="--g:#0000 22.6px,#0000 0,#0038ffac 26px,#1affe5ac 28.6px,#ff4c00ac 30.6px,#2effd1ac 32.6px,#ff6e00 0,#ff7800 52px,#ff9700 58px,#ffff00 61px,#00ffff 66px,#00d1ff 67px,#004dff 68.3px,#0000ff 73.6px,#0000e6 75.4px,#0000e6cc 76px,#0000e680 79px,#0000 82.5px"></i>
<i style="--g:#0000 23.4px,#0000 0,#0038ffac 27px,#1affe5ac 29.3px,#ff4c00ac 31.3px,#2effd1ac 33.3px,#ff6f00 0,#ff7900 52.3px,#ff9800 58px,#ffff00 61px,#00ffff 66px,#00d1ff 67px,#004dff 68.4px,#0000ff 73.7px,#0000e6 75.5px,#0000e6cc 76px,#0000e680 79px,#0000 82.6px"></i>
<i style="--g:#0000 24.2px,#0000 0,#0038ffac 27.7px,#1affe5ac 30px,#ff4c00ac 32px,#2effd1ac 34px,#ff7000 0,#ff7a00 52.5px,#ff9900 58px,#ffff00 61.2px,#00ffff 66px,#00d1ff 67px,#004dff 68.5px,#0000ff 73.8px,#0000e6 75.5px,#0000e6cc 76px,#0000e680 79px,#0000 82.6px"></i>
<i style="--g:#0000 25px,#0000 0,#0038ffac 28.4px,#1affe5ac 31px,#ff4c00ac 32.8px,#2effd1ac 34.7px,#ff7100 0,#ff7b00 52.6px,#ff9a00 58.3px,#ffff00 61.3px,#00ffff 66px,#00d1ff 67px,#004dff 68.5px,#0000ff 74px,#0000e6 75.6px,#0000e6cc 76px,#0000e680 79px,#0000 82.7px"></i>
<i style="--g:#0000 26px,#0000 0,#0038ffac 29.2px,#1affe5ac 31.6px,#ff4c00ac 33.5px,#2effd1ac 35.4px,#ff7200 0,#ff7c00 52.7px,#ff9b00 58.4px,#ffff00 61.3px,#00ffff 66px,#00d1ff 67px,#004dff 68.6px,#0000ff 74px,#0000e6 75.7px,#0000e6cc 76px,#0000e680 79.2px,#0000 82.8px"></i>
<i style="--g:#0000 26.7px,#0000 0,#0038ffac 30px,#1affe5ac 32.6px,#ff4c00ac 34.5px,#2effd1ac 36.5px,#ff7300 0,#ff7d00 53px,#ff9b00 58.5px,#ffff00 61.4px,#00ffff 66px,#00d1ff 67px,#004dff 68.6px,#0000ff 74px,#0000e6 75.7px,#0000e6cc 76.2px,#0000e680 79.3px,#0000 83px"></i>
<i style="--g:#0000 27.2px,#0000 0,#0038ffac 31px,#1affe5ac 33.6px,#ff4c00ac 35.8px,#2effd1ac 38px,#ff7400 0,#ff7e00 53px,#ff9c00 58.7px,#ffff00 61.5px,#00ffff 66px,#00d1ff 67px,#004dff 68.7px,#0000ff 74px,#0000e6 76px,#0000e6cc 76.3px,#0000e680 79.4px,#0000 83px"></i>
<i style="--g:#0000 27.2px,#0000 0,#0038ffac 31.5px,#1affe5ac 34.5px,#ff4c00ac 37px,#2effd1ac 39.3px,#ff7500 0,#ff7f00 53px,#ff9d00 58.8px,#ffff00 61.5px,#00ffff 66px,#00d1ff 67px,#004dff 68.8px,#0000ff 74px,#0000e6 76px,#0000e6cc 76.4px,#0000e680 79.4px,#0000 83px"></i>
<i style="--g:#0000 27.2px,#0000 0,#0038ffac 32px,#1affe5ac 35.3px,#ff4c00ac 38px,#2effd1ac 40.8px,#ff7600 0,#ff8000 53.2px,#ff9e00 59px,#ffff00 61.6px,#00ffff 66px,#00d1ff 67px,#004dff 69px,#0000ff 74px,#0000e6 76px,#0000e6cc 76.4px,#0000e680 79.5px,#0000 83px"></i>
<i style="--g:#0000 27.2px,#0000 0,#0038ffac 32px,#1affe5ac 35.5px,#ff4c00ac 38.2px,#2effd1ac 41px,#ff7600 0,#ff8000 53.2px,#ff9e00 59px,#ffff00 61.6px,#00ffff 66px,#00d1ff 67px,#004dff 69px,#0000ff 74px,#0000e6 76px,#0000e6cc 76.4px,#0000e680 79.5px,#0000 83px"></i>
<i style="--g:#0000 27.2px,#0000 0,#0038ffac 32px,#1affe5ac 35.5px,#ff4c00ac 38.2px,#2effd1ac 41px,#ff7600 0,#ff8000 53.2px,#ff9e00 59px,#ffff00 61.6px,#00ffff 66px,#00d1ff 67px,#004dff 69px,#0000ff 74px,#0000e6 76px,#0000e6cc 76.4px,#0000e680 79.5px,#0000 83px"></i>
<i style="--g:#0000 27.2px,#0000 0,#0038ffac 32px,#1affe5ac 35.5px,#ff4c00ac 38.2px,#2effd1ac 41px,#ff7600 0,#ff8000 53.2px,#ff9e00 59px,#ffff00 61.6px,#00ffff 66px,#00d1ff 67px,#004dff 69px,#0000ff 74px,#0000e6 76px,#0000e6cc 76.4px,#0000e680 79.5px,#0000 83px"></i>
</div>
<div class="p" style="left:122.30px;top:236px;width:85.15px">
<i style="--g:#0000 32.5px,#b30000 0,#b30000 37px,#ff0000 40.6px,#ffe500 46.2px,#ffff00 47.2px,#80ff80 52px,#1affe5cc 55.8px,#00ffffa6 57px,#00e5ff80 58.3px,#00b2ff4c 61px,#009eff1a 63.2px,#0080ff0d 64px,#0000 64.7px"></i>
<i style="--g:#0000 32.5px,#b30000 0,#b30000 37px,#ff0000 40.7px,#ffe500 46.3px,#ffff00 47.3px,#80ff80 52px,#1affe5cc 56px,#00ffffa6 57px,#00e5ff80 58.4px,#00b2ff4c 61.2px,#009eff1a 63.3px,#0080ff0d 64px,#0000 64.7px"></i>
<i style="--g:#0000 32.6px,#b30000 0,#b30000 37px,#ff0000 40.8px,#ffe500 46.4px,#ffff00 47.4px,#80ff80 52px,#1affe5cc 56px,#00ffffa6 57.2px,#00e5ff80 58.5px,#00b2ff4c 61.3px,#009eff1a 63.4px,#0080ff0d 64px,#0000 65px"></i>
<i style="--g:#0000 32.6px,#b30000 0,#b30000 37.3px,#ff0000 41px,#ffe500 46.5px,#ffff00 47.5px,#80ff80 52px,#1affe5cc 56px,#00ffffa6 57.3px,#00e5ff80 58.6px,#00b2ff4c 61.4px,#009eff1a 63.5px,#0080ff0d 64.2px,#0000 65px"></i>
<i style="--g:#0000 32.4px,#0000 0,#004dff26 32.7px,#b30000 0,#b30000 37.4px,#ff0000 41px,#ffe500 46.6px,#ffff00 47.6px,#80ff80 52.2px,#1affe5cc 56px,#00ffffa6 57.4px,#00e5ff80 58.7px,#00b2ff4c 61.5px,#009eff1a 63.6px,#0080ff0d 64.3px,#0000 65px"></i>
<i style="--g:#0000 32.4px,#0000 0,#004dff26 32.7px,#b30000 0,#b30000 37.5px,#ff0000 41px,#ffe500 46.7px,#ffff00 47.7px,#80ff80 52.3px,#1affe5cc 56.3px,#00ffffa6 57.5px,#00e5ff80 58.8px,#00b2ff4c 61.6px,#009eff1a 63.7px,#0080ff0d 64.4px,#0000 65px"></i>
<i style="--g:#0000 32.4px,#0000 0,#004dff26 33px,#b30000 0,#b30000 37.6px,#ff0000 41px,#ffe500 46.8px,#ffff00 48px,#80ff80 52.4px,#1affe5cc 56.4px,#00ffffa6 57.6px,#00e5ff80 59px,#00b2ff4c 61.7px,#009eff1a 64px,#0080ff0d 64.5px,#0000 65.2px"></i>
<i style="--g:#0000 32.4px,#0000 0,#004dff26 33px,#b30000 0,#b30000 37.7px,#ff0500 41.5px,#ffe800 46.8px,#ffff00 47.6px,#79ff86 52.2px,#16ffe9cf 56.4px,#00ffffb3 57.4px,#00ddff88 59px,#00a4ff59 61.8px,#008fff26 63.8px,#0073ff14 64.7px,#0000 65.7px"></i>
<i style="--g:#0000 32.4px,#0000 0,#004dff26 33px,#b30000 0,#b30000 37.7px,#ff0500 41.6px,#ffff00 47.3px,#6eff91 52px,#00ffffc4 57px,#00cfff96 59px,#008aff6e 62px,#005eff20 65px,#0000 66.5px"></i>
<i style="--g:#0000 32.4px,#0000 0,#004dff26 33px,#b30000 0,#b30000 38px,#ff0500 41.7px,#ffff00 47px,#62ff9d 51.6px,#00ffffd2 56.8px,#00c1ffa4 59px,#0071ff83 62px,#005cff50 63.5px,#0049ff2d 65.3px,#0000 67.3px"></i>
<i style="--g:#0000 32.4px,#0000 0,#004dff26 33px,#b30000 0,#b30000 38px,#ff0500 41.8px,#ffff00 46.7px,#57ffa8 51.2px,#00ffffdc 56.6px,#0057ff98 62px,#0043ff65 63.4px,#0034ff39 65.6px,#0000 68px"></i>
<i style="--g:#0000 32.4px,#0000 0,#004dff26 33px,#b30000 0,#b30000 38px,#ff0500 42px,#ffff00 46.5px,#9dff62 48.6px,#4cffb3 51px,#00ffffe4 56.3px,#00ffffe4 0,#003effae 62px,#002aff7b 63.2px,#001eff45 66px,#0000 69px"></i>
<i style="--g:#0000 32.4px,#0000 0,#004dff26 33px,#b30000 0,#b30000 38px,#ff0500 42px,#ff8000 44.3px,#fffd00 46.3px,#ffff00 0,#92ff6d 48.4px,#40ffbf 50.5px,#00f9ffea 56.4px,#0097ffce 59.4px,#0025ffc3 62.2px,#0010ff90 63px,#0009ff52 66px,#0000 69.6px"></i>
<i style="--g:#0000 32.4px,#0000 0,#004dff26 33px,#b30000 0,#b30000 38px,#ff0500 42px,#ff8000 44.3px,#ffff00 46px,#fdff02 0,#87ff78 48px,#35ffca 50px,#00f3ffef 56.3px,#0089ffdc 59.5px,#000bffd8 62.3px,#0000f6a5 63px,#0000f35e 66.4px,#0000 70.4px"></i>
<i style="--g:#0000 32.4px,#0000 0,#004dff26 33.2px,#b50000 0,#b50000 38.3px,#ff0600 42px,#ff7f00 44.3px,#ffff00 46px,#80ff80 48px,#2dffd2 50px,#00fffff6 54.7px,#00effff3 56.4px,#007effe6 59.5px,#0000f9e6 62.4px,#0000e6b3 63px,#0000e667 66.7px,#0000 71px"></i>
<i style="--g:#0000 32.4px,#0000 0,#004dff26 33px,#ba0000 0,#ba0000 38.3px,#ff0a00 42px,#ff7e00 44.5px,#ffff00 46.4px,#80ff80 48.5px,#2cffd3 50.4px,#00fffff7 54.7px,#00edfff3 56.5px,#0000f8e8 62.5px,#0000e6b5 63px,#0000e668 67px,#0000 71.4px"></i>
<i style="--g:#0000 32.4px,#0000 0,#004dff26 33px,#c00000 0,#c00000 38.4px,#ff0000 41.5px,#ff0d00 42.2px,#ff7c00 44.6px,#ffff00 46.7px,#80ff80 48.8px,#2bffd4 50.7px,#00fffff8 54.7px,#00ebfff4 56.6px,#0000f7ea 62.6px,#0000e6b7 63px,#0000e66a 67.2px,#0000 71.7px"></i>
<i style="--g:#0000 32.4px,#0000 0,#004dff26 33px,#c50000 0,#c50000 38.4px,#ff0000 41.4px,#ff1100 42.2px,#ff7b00 44.8px,#ffff00 47px,#80ff80 49px,#29ffd6 51px,#00fffff9 54.7px,#00e9fff5 56.7px,#0000f5eb 62.7px,#0000e6b8 63.2px,#0000e66c 67.5px,#0000 72px"></i>
<i style="--g:#0000 32px,#0000 0,#004dff27 33px,#cb0000 0,#cb0000 38.5px,#ff0000 41.2px,#ff1400 42.3px,#ff7900 45px,#ffff00 47.2px,#80ff80 49.4px,#28ffd7 51.4px,#00fffff9 54.7px,#00e6fff6 56.8px,#0000ffed 62.5px,#0000f4ed 63px,#0000e6ba 63.3px,#0000e66e 67.7px,#0000 72.4px"></i>
<i style="--g:#0000 31px,#0000 0,#004dff29 33px,#d10000 0,#d10000 38.5px,#ff0000 41px,#ff1800 42.3px,#ff7800 45px,#ffff00 47.5px,#80ff80 49.7px,#26ffd9 51.7px,#00fffffa 54.8px,#00e4fff7 57px,#006dffef 59.6px,#0000ffef 62.6px,#0000f2ef 63px,#0000e6bc 63.4px,#0000e66f 68px,#0000 72.8px"></i>
<i style="--g:#0000 30.2px,#0000 0,#004dff2a 33px,#d60000 0,#d60000 38.6px,#ff0000 41px,#ff1c00 42.3px,#ff7700 45.2px,#ffff00 47.7px,#80ff80 50px,#25ffda 52px,#00fffffb 55px,#00e2fff8 57px,#0069fff1 59.6px,#0000fff1 62.6px,#0000f1f1 63px,#0000e6be 63.5px,#0000e671 68.2px,#0000 73px"></i>
<i style="--g:#0000 29.4px,#0000 0,#004dff2c 33px,#dc0000 0,#dc0000 38.6px,#ff0000 40.6px,#ff1f00 42.4px,#ff7500 45.4px,#ffff00 48px,#80ff80 50.3px,#24ffdb 52.3px,#00fffffc 55px,#00e0fff9 57px,#0066fff2 59.6px,#0000fff2 62.7px,#0000f0f2 63px,#0000e6bf 63.6px,#0000e673 68.5px,#0000 73.5px"></i>
<i style="--g:#0000 28.6px,#0000 0,#004dff2e 32.8px,#e20000 0,#e20000 38.7px,#ff0000 40.4px,#ff2300 42.4px,#ff7400 45.6px,#ffff00 48.3px,#22ffdd 52.7px,#00fffffc 55px,#00defffa 57.2px,#0062fff4 59.6px,#0000fff4 62.7px,#0000eef4 63.2px,#0000e6c1 63.7px,#0000e675 68.7px,#0000 74px"></i>
<i style="--g:#0000 27.7px,#0000 0,#004dff2f 32.7px,#e70000 0,#e70000 38.8px,#ff0000 40px,#ff7200 45.7px,#ffff00 48.5px,#21ffde 53px,#00fffffd 55px,#00dcfffb 57.3px,#005efff6 59.6px,#0000fff6 62.7px,#0000edf6 63.3px,#0000e6c3 64px,#0000e677 69px,#0000 74px"></i>
<i style="--g:#0000 27px,#0000 0,#004dff31 32.6px,#ed0000 0,#ed0000 39px,#ff0000 40px,#ff7100 46px,#ffff00 49px,#1fffe0 53.3px,#00fffffd 55px,#00dafffb 57.4px,#005bfff8 59.6px,#0000fff8 62.8px,#0000ebf8 63.4px,#0000e6c5 64px,#0000e678 69.2px,#0000 74.5px"></i>
<i style="--g:#0000 26px,#0000 0,#004dff33 32.6px,#f30000 0,#f30000 39px,#ff0000 39.6px,#ff6f00 46px,#ffff00 49px,#1effe1 53.6px,#00fffffe 55.3px,#00d8fffc 57.5px,#0057fffa 59.6px,#0000fffa 62.8px,#0000eafa 63.5px,#0000e6c7 64px,#0000e67a 69.5px,#0000 75px"></i>
<i style="--g:#0000 25.2px,#0000 0,#004dff34 32.5px,#f80000 0,#ff0000 39.3px,#ff6e00 46px,#ffff00 49.4px,#1cffe3 54px,#00fffffe 55.4px,#00d6fffd 57.6px,#0054fffb 59.6px,#0000fffb 62.8px,#0000e8fb 63.6px,#0000e6c8 64px,#0000e67c 69.7px,#0000 75px"></i>
<i style="--g:#0000 24.4px,#0000 0,#004dff36 32.5px,#fe0000 0,#ff0000 39px,#ff6d00 46.3px,#ffff00 49.6px,#1bffe4 54.3px,#00ffff 55.6px,#00d3fffe 57.7px,#0050fffd 59.6px,#0000fffd 62.8px,#0000e7fd 63.8px,#0000e6ca 64.2px,#0000e67e 70px,#0000 75.5px"></i>
<i style="--g:#0000 23.8px,#0000 0,#004dff38 32.4px,#ff0500 0,#ff0500 39px,#ff6b00 46.5px,#ffff00 50px,#1affe5 54.6px,#00ffff 55.8px,#00d1ff 58px,#004dff 59.6px,#0000ff 62.8px,#0000e6 64px,#0000e6cc 64.4px,#0000e67f 70.2px,#0000 76px"></i>
<i style="--g:#0000 23.6px,#0000 0,#004dff39 32.3px,#ff0700 0,#ff0700 39px,#ff6c00 46.7px,#ffff00 50px,#1affe5 55px,#00ffff 56px,#00d1ff 58px,#004dff 60px,#0000ff 63px,#0000e6 64.2px,#0000e6cc 64.7px,#0000e680 70.5px,#0000 76px"></i>
<i style="--g:#0000 23.5px,#0000 0,#004dff3b 32px,#ff0900 0,#ff0900 39px,#ff6c00 47px,#ffff00 50.5px,#1affe5 55.3px,#00ffff 56.4px,#00d1ff 58.4px,#004dff 60px,#0000ff 63.5px,#0000e6 64.6px,#0000e6cc 65px,#0000e680 71px,#0000 76.4px"></i>
<i style="--g:#0000 23.4px,#0000 0,#004dff3d 32px,#ff0b00 0,#ff0b00 39px,#ff6d00 47.3px,#ffff00 51px,#1affe5 55.6px,#00ffff 56.7px,#00d1ff 58.7px,#004dff 60.5px,#0000ff 64px,#0000e6 65px,#0000e6cc 65.5px,#0000e680 71px,#0000 76.6px"></i>
<i style="--g:#0000 23.3px,#0000 0,#004dff3e 32px,#ff0d00 0,#ff0d00 39px,#ff6e00 47.6px,#ffff00 51px,#1affe5 56px,#00ffff 57px,#00d1ff 59px,#004dff 60.8px,#0000ff 64.2px,#0000e6 65.4px,#0000e6cc 66px,#0000e680 71.4px,#0000 77px"></i>
<i style="--g:#0000 23px,#0000 0,#004dff40 32px,#ff1000 0,#ff1000 39px,#ff6f00 48px,#ffff00 51.5px,#1affe5 56.2px,#00ffff 57.3px,#00d1ff 59.3px,#004dff 61px,#0000ff 64.6px,#0000e6 65.8px,#0000e6cc 66.3px,#0000e680 71.7px,#0000 77px"></i>
<i style="--g:#0000 23px,#0000 0,#004dff44 31.7px,#ff1200 0,#ff1200 39px,#ff6f00 48.2px,#ffff00 51.8px,#1affe5 56.6px,#00ffff 57.6px,#00d1ff 59.6px,#004dff 61.4px,#0000ff 65px,#0000e6 66px,#0000e6cc 66.7px,#0000e680 72px,#0000 77.4px"></i>
<i style="--g:#0000 23px,#0000 0,#004dff48 31.6px,#ff1400 0,#ff1400 39px,#ff7000 48.5px,#ffff00 52px,#1affe5 57px,#00ffff 58px,#00d1ff 60px,#004dff 61.6px,#0000ff 65.3px,#0000e6 66.6px,#0000e6cc 67px,#0000e680 72.3px,#0000 77.6px"></i>
<i style="--g:#0000 23px,#0000 0,#004dff4b 31.5px,#ff1600 0,#ff1600 39px,#ff7100 49px,#ffff00 52.4px,#1affe5 57.2px,#00ffff 58.3px,#00d1ff 60px,#004dff 62px,#0000ff 65.7px,#0000e6 67px,#0000e6cc 67.5px,#0000e680 72.6px,#0000 78px"></i>
<i style="--g:#0000 22.7px,#0000 0,#004dff4f 31.4px,#ff1800 0,#ff1800 39px,#ff7100 49px,#ffff00 52.7px,#1affe5 57.5px,#00ffff 58.6px,#00d1ff 60.5px,#004dff 62.2px,#0000ff 66px,#0000e6 67.4px,#0000e6cc 68px,#0000e680 73px,#0000 78px"></i>
<i style="--g:#0000 22.6px,#0000 0,#004dff53 31.2px,#ff1a00 0,#ff1a00 39px,#ff7200 49.4px,#ffff00 53px,#1affe5 58px,#00ffff 59px,#00d1ff 60.8px,#004dff 62.5px,#0000ff 66.5px,#0000e6 67.8px,#0000e6cc 68.3px,#0000e680 73px,#0000 78.4px"></i>
<i style="--g:#0000 22.5px,#0000 0,#004dff56 31px,#ff1c00 0,#ff1c00 39px,#ff7300 49.7px,#ffff00 53.4px,#1affe5 58px,#00ffff 59.2px,#00d1ff 61px,#004dff 63px,#0000ff 67px,#0000e6 68px,#0000e6cc 68.7px,#0000e680 73.5px,#0000 78.6px"></i>
<i style="--g:#0000 22.4px,#0000 0,#004dff5a 31px,#ff1e00 0,#ff1e00 39px,#ff7400 50px,#ffff00 53.7px,#1affe5 58.5px,#00ffff 59.5px,#00d1ff 61.3px,#004dff 63px,#0000ff 67px,#0000e6 68.5px,#0000e6cc 69px,#0000e680 73.8px,#0000 79px"></i>
<i style="--g:#0000 22.3px,#0000 0,#004dff5e 31px,#ff2000 0,#ff2000 39px,#ff7400 50.3px,#ffff00 54px,#1affe5 59px,#00ffff 60px,#00d1ff 61.6px,#004dff 63.4px,#0000ff 67.6px,#0000e6 69px,#0000e6cc 69.4px,#0000e680 74px,#0000 79px"></i>
<i style="--g:#0000 22px,#0000 0,#0038ff84 25px,#1affe584 27.3px,#ff4c0084 29px,#2effd184 30.8px,#ff2300 0,#ff2300 39px,#ff7500 50.6px,#ffff00 54.3px,#1affe5 59px,#00ffff 60px,#00d1ff 62px,#004dff 63.7px,#0000ff 68px,#0000e6 69.3px,#0000e6cc 70px,#0000e680 74.4px,#0000 79.3px"></i>
<i style="--g:#0000 22px,#0000 0,#0038ff89 25px,#1affe589 27.2px,#ff4c0089 29px,#2effd189 30.7px,#ff2600 0,#ff2600 39px,#ff7600 51px,#ffff00 54.7px,#1affe5 59.5px,#00ffff 60.5px,#00d1ff 62.2px,#004dff 64px,#0000ff 68.3px,#0000e6 69.7px,#0000e6cc 70.2px,#0000e680 74.6px,#0000 79.5px"></i>
<i style="--g:#0000 22.3px,#0000 0,#0038ff8e 25.3px,#1affe58e 27.5px,#ff4c008e 29.2px,#2effd18e 31px,#ff2b00 0,#ff2b00 39px,#ff7800 51.4px,#ffff00 55px,#1affe5 60px,#00ffff 60.8px,#00d1ff 62.5px,#004dff 64.2px,#0000ff 68.6px,#0000e6 70px,#0000e6cc 70.5px,#0000e680 75px,#0000 79.7px"></i>
<i style="--g:#0000 22.6px,#0000 0,#0038ff93 25.6px,#1affe593 27.7px,#ff4c0093 29.4px,#2effd193 31px,#ff3000 0,#ff3000 39px,#ff7b00 51.8px,#ffff00 55.5px,#1affe5 60.2px,#00ffff 61px,#00d1ff 62.8px,#004dff 64.5px,#0000ff 69px,#0000e6 70.4px,#0000e6cc 71px,#0000e680 75px,#0000 80px"></i>
<i style="--g:#0000 23px,#0000 0,#0038ff98 26px,#1affe598 28px,#ff4c0098 29.7px,#2effd198 31.4px,#ff3500 0,#ff3500 39px,#ff7d00 52px,#ffff00 56px,#1affe5 60.6px,#00ffff 61.5px,#00d1ff 63px,#004dff 64.7px,#0000ff 69.2px,#0000e6 70.7px,#0000e6cc 71.2px,#0000e680 75.4px,#0000 80px"></i>
<i style="--g:#0000 23px,#0000 0,#0038ff9b 26px,#1affe59b 28.2px,#ff4c009b 30px,#2effd19b 31.6px,#ff3a00 0,#ff3a00 39px,#ff7f00 52.6px,#ffff00 56.3px,#80ff80 58.7px,#00ffff 61.8px,#00d1ff 63.3px,#004dff 65px,#0000ff 69.6px,#0000e6 71px,#0000e6cc 71.6px,#0000e680 75.6px,#0000 80px"></i>
<i style="--g:#0000 23.3px,#0000 0,#0038ff9c 26.3px,#1affe59c 28.4px,#ff4c009c 30px,#2effd19c 32px,#ff3f00 0,#ff3f00 39px,#ff8100 53px,#ffff00 56.6px,#80ff80 59px,#00ffff 62px,#00d1ff 63.6px,#004dff 65.2px,#0000ff 70px,#0000e6 71.4px,#0000e6cc 72px,#0000e680 76px,#0000 80.3px"></i>
<i style="--g:#0000 23.5px,#0000 0,#0038ff9d 26.5px,#1affe59d 28.7px,#ff4c009d 30.4px,#2effd19d 32px,#ff4400 0,#ff4400 39px,#ff5f00 47.6px,#ff8300 53.4px,#ffff00 57px,#80ff80 59.4px,#00ffff 62.4px,#00d1ff 64px,#004dff 65.5px,#0000ff 70px,#0000e6 71.8px,#0000e6cc 72.3px,#0000e680 76px,#0000 80.4px"></i>
<i style="--g:#0000 23.8px,#0000 0,#0038ff9e 26.8px,#1affe59e 29px,#ff4c009e 30.6px,#2effd19e 32.4px,#ff4900 0,#ff4900 39px,#ff6200 48px,#ff8500 54px,#ffff00 57.4px,#80ff80 60px,#00ffff 62.8px,#00d1ff 64px,#004dff 65.7px,#0000ff 70.5px,#0000e6 72px,#0000e6cc 72.6px,#0000e680 76.3px,#0000 80.6px"></i>
<i style="--g:#0000 24px,#0000 0,#0038ff9f 27px,#1affe59f 29px,#ff4c009f 31px,#2effd19f 32.6px,#ff4e00 0,#ff6400 48.5px,#ff8700 54.3px,#ffff00 58px,#80ff80 60px,#00ffff 63px,#00d1ff 64.4px,#004dff 66px,#0000ff 71px,#0000e6 72.5px,#0000e6cc 73px,#0000e680 76.6px,#0000 80.7px"></i>
<i style="--g:#0000 24.2px,#0000 0,#0038ffa0 27.2px,#1affe5a0 29.4px,#ff4c00a0 31px,#2effd1a0 33px,#ff5300 0,#ff6700 49px,#ff8900 54.7px,#ffff00 58.2px,#80ff80 60.6px,#00ffff 63.4px,#00d1ff 64.7px,#004dff 66px,#0000ff 71px,#0000e6 73px,#0000e6cc 73.3px,#0000e680 77px,#0000 81px"></i>
<i style="--g:#0000 24.5px,#0000 0,#0038ffa1 27.5px,#1affe5a1 29.6px,#ff4c00a1 31.4px,#2effd1a1 33px,#ff5800 0,#ff6a00 49.3px,#ff8c00 55px,#ffff00 58.6px,#80ff80 61px,#00ffff 63.8px,#00d1ff 65px,#004dff 66.4px,#0000ff 71.5px,#0000e6 73px,#0000e6cc 73.6px,#0000e680 77px,#0000 81px"></i>
<i style="--g:#0000 24.7px,#0000 0,#0038ffa2 27.7px,#1affe5a2 30px,#ff4c00a2 31.6px,#2effd1a2 33.3px,#ff5c00 0,#ff6d00 49.8px,#ff8e00 55.5px,#ffff00 59px,#80ff80 61.3px,#00ffff 64px,#00d1ff 65px,#004dff 66.7px,#0000ff 71.8px,#0000e6 73.5px,#0000e6cc 74px,#0000e680 77.3px,#0000 81px"></i>
<i style="--g:#0000 25px,#0000 0,#0038ffa3 28px,#1affe5a3 30px,#ff4c00a3 32px,#2effd1a3 33.5px,#ff6100 0,#ff7000 50.2px,#ff9000 56px,#ffff00 59.4px,#80ff80 61.7px,#00ffff 64.4px,#00d1ff 65.5px,#004dff 67px,#0000ff 72px,#0000e6 74px,#0000e6cc 74.3px,#0000e680 77.6px,#0000 81.3px"></i>
<i style="--g:#0000 25px,#0000 0,#0038ffa4 28px,#1affe5a4 30.3px,#ff4c00a4 32px,#2effd1a4 33.8px,#ff6600 0,#ff7300 50.7px,#ff9200 56.4px,#ffff00 59.8px,#00ffff 64.8px,#00d1ff 65.7px,#004dff 67px,#0000ff 72.4px,#0000e6 74px,#0000e6cc 74.7px,#0000e680 78px,#0000 81.5px"></i>
<i style="--g:#0000 25.4px,#0000 0,#0038ffa5 28.4px,#1affe5a5 30.6px,#ff4c00a5 32.3px,#2effd1a5 34px,#ff6b00 0,#ff7500 51px,#ff9400 56.8px,#ffff00 60px,#00ffff 65px,#00d1ff 66px,#004dff 67.4px,#0000ff 72.7px,#0000e6 74.5px,#0000e6cc 75px,#0000e680 78px,#0000 81.6px"></i>
<i style="--g:#0000 26px,#0000 0,#0038ffa6 29px,#1affe5a6 31px,#ff4c00a6 32.8px,#2effd1a6 34.4px,#ff6c00 0,#ff7600 51.2px,#ff9500 57px,#ffff00 60.2px,#00ffff 65px,#00d1ff 66px,#004dff 67.5px,#0000ff 73px,#0000e6 74.6px,#0000e6cc 75px,#0000e680 78px,#0000 81.7px"></i>
<i style="--g:#0000 27px,#0000 0,#0038ffa7 29.7px,#1affe5a7 31.7px,#ff4c00a7 33.3px,#2effd1a7 35px,#ff6d00 0,#ff7700 51.4px,#ff9600 57px,#ffff00 60.3px,#00ffff 65px,#00d1ff 66px,#004dff 67.5px,#0000ff 73px,#0000e6 74.6px,#0000e6cc 75px,#0000e680 78px,#0000 81.7px"></i>
<i style="--g:#0000 27.7px,#0000 0,#0038ffa8 30.4px,#1affe5a8 32.3px,#ff4c00a8 34px,#2effd1a8 35.4px,#ff6e00 0,#ff7800 51.5px,#ff9700 57px,#ffff00 60.4px,#00ffff 65px,#00d1ff 66px,#004dff 67.6px,#0000ff 73px,#0000e6 74.7px,#0000e6cc 75.2px,#0000e680 78.3px,#0000 82px"></i>
<i style="--g:#0000 28.6px,#0000 0,#0038ffa9 31px,#1affe5a9 33px,#ff4c00a9 34.4px,#2effd1a9 36px,#ff6f00 0,#ff7900 51.6px,#ff9800 57.3px,#ffff00 60.4px,#00ffff 65.2px,#00d1ff 66px,#004dff 67.7px,#0000ff 73px,#0000e6 74.8px,#0000e6cc 75.3px,#0000e680 78.3px,#0000 82px"></i>
<i style="--g:#0000 29.4px,#0000 0,#0038ffaa 32px,#1affe5aa 33.6px,#ff4c00aa 35px,#2effd1aa 36.3px,#ff7000 0,#ff7a00 51.8px,#ff9900 57.4px,#ffff00 60.5px,#00ffff 65.2px,#00d1ff 66px,#004dff 67.7px,#0000ff 73px,#0000e6 75px,#0000e6cc 75.3px,#0000e680 78.4px,#0000 82px"></i>
<i style="--g:#0000 30.2px,#0000 0,#0038ffab 32.5px,#1affe5ab 34px,#ff4c00ab 35.5px,#2effd1ab 37px,#ff7100 0,#ff7b00 52px,#ff9a00 57.6px,#ffff00 60.6px,#00ffff 65.3px,#00d1ff 66px,#004dff 68px,#0000ff 73px,#0000e6 75px,#0000e6cc 75.4px,#0000e680 78.4px,#0000 82px"></i>
<i style="--g:#0000 31px,#0000 0,#0038ffac 33.2px,#1affe5ac 34.8px,#ff4c00ac 36px,#2effd1ac 37.3px,#ff7200 0,#ff7c00 52px,#ff9b00 57.7px,#ffff00 60.6px,#00ffff 65.3px,#00d1ff 66.2px,#004dff 68px,#0000ff 73px,#0000e6 75px,#0000e6cc 75.5px,#0000e680 78.5px,#0000 82px"></i>
<i style="--g:#0000 32px,#0000 0,#0038ffac 34px,#1affe5ac 35.5px,#ff4c00ac 36.8px,#2effd1ac 38px,#ff7300 0,#ff7d00 52px,#ff9b00 58px,#ffff00 60.7px,#00ffff 65.3px,#00d1ff 66.3px,#004dff 68px,#0000ff 73.3px,#0000e6 75px,#0000e6cc 75.5px,#0000e680 78.6px,#0000 82px"></i>
<i style="--g:#0000 32.4px,#0000 0,#0038ffac 34.7px,#1affe5ac 36.3px,#ff4c00ac 37.6px,#2effd1ac 39px,#ff7400 0,#ff7e00 52.3px,#ff9c00 58px,#ffff00 60.8px,#00ffff 65.4px,#00d1ff 66.3px,#004dff 68px,#0000ff 73.3px,#0000e6 75px,#0000e6cc 75.6px,#0000e680 78.6px,#0000 82px"></i>
<i style="--g:#0000 32.4px,#0000 0,#0038ffac 35px,#1affe5ac 37px,#ff4c00ac 38.3px,#2effd1ac 40px,#ff7500 0,#ff7f00 52.4px,#ff9d00 58px,#ffff00 61px,#00ffff 65.4px,#00d1ff 66.3px,#004dff 68px,#0000ff 73.4px,#0000e6 75px,#0000e6cc 75.7px,#0000e680 78.7px,#0000 82.3px"></i>
<i style="--g:#0000 32.4px,#0000 0,#0038ffac 36px,#1affe5ac 38.3px,#ff4c00ac 40.3px,#2effd1ac 42.3px,#ff7800 0,#ff8000 52.5px,#ff9e00 58px,#ffff00 61px,#00ffff 65.4px,#00d1ff 66.3px,#004dff 68px,#0000ff 73.4px,#0000e6 75.2px,#0000e6cc 75.7px,#0000e680 78.8px,#0000 82.3px"></i>
<i style="--g:#0000 32.4px,#0000 0,#0038ffac 38.3px,#1affe5ac 42.5px,#ff4c00ac 46px,#2effd1ac 49.3px,#ff7d00 0,#ff9e00 58px,#ffff00 61px,#00ffff 65.4px,#00d1ff 66.3px,#004dff 68px,#0000ff 73.4px,#0000e6 75.2px,#0000e6cc 75.7px,#0000e680 78.8px,#0000 82.3px"></i>
<i style="--g:#0000 32.4px,#0000 0,#0038ffac 40.2px,#1affe5ac 45.8px,#ff4c00ac 50.3px,#2effd1ac 54.7px,#ff8c00 0,#ff9e00 58px,#ffff00 61px,#00ffff 65.4px,#00d1ff 66.3px,#004dff 68px,#0000ff 73.4px,#0000e6 75.2px,#0000e6cc 75.7px,#0000e680 78.8px,#0000 82.3px"></i>
<i style="--g:#0000 32.4px,#0000 0,#0038ffac 40.2px,#1affe5ac 45.8px,#ff4c00ac 50.3px,#2effd1ac 54.7px,#ff8c00 0,#ff9e00 58px,#ffff00 61px,#00ffff 65.4px,#00d1ff 66.3px,#004dff 68px,#0000ff 73.4px,#0000e6 75.2px,#0000e6cc 75.7px,#0000e680 78.8px,#0000 82.3px"></i>
</div>
<div class="p" style="left:217.30px;top:236px;width:85.15px">
<i style="--g:#0000 32.8px,#b30000 0,#b30000 35.6px,#ff0500 38.8px,#ff8000 41px,#ffff00 44.6px,#6bff94 53px,#00ffffe4 58px,#0080ffb2 60.4px,#0038ff80 63px,#0000 68px"></i>
<i style="--g:#0000 33px,#b30000 0,#b30000 35.7px,#ff0500 39px,#ff8000 41px,#ffff00 44.7px,#6bff94 53px,#00ffffe4 58px,#0080ffb2 60.5px,#0038ff80 63px,#0000 68.3px"></i>
<i style="--g:#0000 33px,#b30000 0,#b30000 35.8px,#ff0500 39px,#ff8000 41px,#ffff00 45px,#6bff94 53px,#00ffffe4 58px,#0080ffb2 60.6px,#0038ff80 63px,#0000 68.4px"></i>
<i style="--g:#0000 33px,#b30000 0,#b30000 36px,#ff0500 39px,#ff8000 41px,#ffff00 45px,#6bff94 53px,#00ffffe4 58px,#0080ffb2 60.7px,#0038ff80 63px,#0000 68.5px"></i>
<i style="--g:#0000 33px,#b30000 0,#b30000 36px,#ff0500 39px,#ff8000 41.2px,#ffff00 45px,#6bff94 53px,#00ffffe4 58.3px,#0080ffb2 60.8px,#0038ff80 63px,#0000 68.6px"></i>
<i style="--g:#0000 33px,#b30000 0,#b30000 36px,#ff0500 39.2px,#ff8000 41.3px,#ffff00 45px,#6bff94 53.3px,#00ffffe4 58.4px,#0080ffb2 61px,#0038ff80 63.3px,#0000 68.7px"></i>
<i style="--g:#0000 33px,#b30000 0,#b30000 36px,#ff0500 39.3px,#ff8000 41.4px,#ffff00 45.2px,#6bff94 53.4px,#00ffffe4 58.5px,#0080ffb2 61px,#0038ff80 63.4px,#0000 68.8px"></i>
<i style="--g:#0000 33px,#b30000 0,#b30000 36.3px,#ff0500 39.5px,#ff8000 41.6px,#ffff00 45.3px,#aeff51 49px,#66ff99 53px,#00ffffe5 58.2px,#0080ffb7 61px,#0033ff88 63.3px,#001fff55 65px,#0000 69px"></i>
<i style="--g:#0000 32.7px,#0000 0,#004dff33 33px,#b30000 0,#b30000 36.5px,#ff0500 40px,#ff8000 42px,#ffff00 45.2px,#a7ff58 48.6px,#01fffee8 57.8px,#00ffffe8 0,#0080ffbe 60.5px,#002bff96 63px,#0016ff63 64.6px,#0000 69px"></i>
<i style="--g:#0000 32.7px,#0000 0,#004dff33 33px,#b30000 0,#b30000 36.6px,#ff0500 40px,#ff8000 42px,#ffff00 45.2px,#a0ff5f 48.3px,#55ffaa 52px,#00fdffea 57.4px,#0080ffc5 60px,#0022ffa4 62.8px,#000eff71 64px,#0007ff35 67px,#0000 69.3px"></i>
<i style="--g:#0000 32.7px,#0000 0,#004dff33 33px,#b30000 0,#b30000 36.8px,#ff0500 40.3px,#ff8000 42.4px,#ffff00 45.2px,#99ff66 48px,#4dffb2 51.3px,#00faffec 57px,#001affb2 62.5px,#0005ff7f 63.7px,#0000ff3f 66.6px,#0000 69.4px"></i>
<i style="--g:#0000 32px,#0000 0,#004dff34 33px,#b30000 0,#b30000 37px,#ff0500 40.6px,#ffff00 45.2px,#92ff6d 48px,#44ffbb 50.7px,#00f7ffee 56.6px,#0011ffc0 62.2px,#0000fc8d 63.2px,#0000 69.6px"></i>
<i style="--g:#0000 30.3px,#0000 0,#004dff36 33px,#b30000 0,#b30000 37px,#ff0500 41px,#ffff00 45.2px,#8bff74 47.6px,#3cffc3 50px,#00f4ffef 56px,#0009ffce 62px,#0000f39b 62.8px,#0000 69.8px"></i>
<i style="--g:#0000 28.6px,#0000 0,#004dff38 33.2px,#b30000 0,#b30000 37.3px,#ff0500 41px,#ffff00 45.2px,#84ff7b 47.3px,#33ffcc 49.5px,#00fffff4 54.4px,#00f2fff1 55.7px,#0080ffe1 59px,#0000ffdc 61.7px,#0000ffdc 0,#0000eba9 62.3px,#0000ea5f 66px,#0000 70px"></i>
<i style="--g:#0000 27px,#0000 0,#004dff3a 33.2px,#b50000 0,#b50000 37.5px,#ff0600 41.4px,#ff7f00 43.5px,#ffff00 45.3px,#80ff80 47.3px,#2dffd2 49.3px,#00fffff6 54px,#00effff3 55.6px,#007effe6 58.7px,#0000f9e6 61.6px,#0000e6b3 62px,#0000e667 66px,#0000 70.2px"></i>
<i style="--g:#0000 27px,#0000 0,#004dff3d 33px,#ba0000 0,#ba0000 37.6px,#ff0a00 41.5px,#ff7e00 43.8px,#ffff00 45.7px,#80ff80 47.8px,#2cffd3 49.7px,#00fffff7 54px,#00edfff3 55.8px,#0000f8e8 62px,#0000e6b5 62.3px,#0000e668 66.3px,#0000 70.7px"></i>
<i style="--g:#0000 26.7px,#0000 0,#004dff3f 33px,#c00000 0,#c00000 38px,#ff0000 41px,#ff0d00 41.6px,#ff7c00 44px,#ffff00 46px,#80ff80 48px,#2bffd4 50px,#00fffff8 54px,#00ebfff4 56px,#0000f7ea 62px,#0000e6b7 62.5px,#0000e66a 66.6px,#0000 71px"></i>
<i style="--g:#0000 26.5px,#0000 0,#004dff41 33px,#c50000 0,#c50000 38px,#ff0000 41px,#ff1100 41.8px,#ff7b00 44.3px,#ffff00 46.5px,#80ff80 48.6px,#29ffd6 50.6px,#00fffff9 54.2px,#00e9fff5 56.2px,#0000f5eb 62.3px,#0000e6b8 62.8px,#0000e66c 67px,#0000 71.6px"></i>
<i style="--g:#0000 26.2px,#0000 0,#004dff43 33px,#cb0000 0,#cb0000 38px,#ff0000 41px,#ff1400 42px,#ff7900 44.6px,#ffff00 47px,#80ff80 49px,#28ffd7 51px,#00fffff9 54.4px,#00e6fff6 56.5px,#0000ffed 62px,#0000f4ed 62.5px,#0000e6ba 63px,#0000e66e 67.4px,#0000 72px"></i>
<i style="--g:#0000 26px,#0000 0,#004dff45 33px,#d10000 0,#d10000 38.3px,#ff0000 40.8px,#ff1800 42px,#ff7800 45px,#ffff00 47.3px,#80ff80 49.5px,#26ffd9 51.5px,#00fffffa 54.5px,#00e4fff7 56.7px,#006dffef 59.3px,#0000ffef 62.4px,#0000f2ef 62.7px,#0000e6bc 63.2px,#0000e66f 67.8px,#0000 72.5px"></i>
<i style="--g:#0000 25.7px,#0000 0,#004dff47 33px,#d60000 0,#d60000 38.5px,#ff0000 40.7px,#ff1c00 42.2px,#ff7700 45px,#ffff00 47.6px,#80ff80 50px,#25ffda 52px,#00fffffb 54.7px,#00e2fff8 57px,#0069fff1 59.5px,#0000fff1 62.5px,#0000f1f1 63px,#0000e6be 63.4px,#0000e671 68px,#0000 73px"></i>
<i style="--g:#0000 25.5px,#0000 0,#004dff4a 33px,#dc0000 0,#dc0000 38.7px,#ff0000 40.6px,#ff1f00 42.4px,#ff7500 45.4px,#ffff00 48px,#80ff80 50.3px,#24ffdb 52.4px,#00fffffc 55px,#00e0fff9 57px,#0066fff2 59.6px,#0000fff2 62.7px,#0000f0f2 63px,#0000e6bf 63.6px,#0000e673 68.5px,#0000 73.5px"></i>
<i style="--g:#0000 25.3px,#0000 0,#004dff4c 32.8px,#e20000 0,#e20000 39px,#ff0000 40.5px,#ff2300 42.5px,#ff7400 45.7px,#ffff00 48.4px,#22ffdd 53px,#00fffffc 55px,#00defffa 57.3px,#0062fff4 59.7px,#0000fff4 63px,#0000eef4 63.4px,#0000e6c1 64px,#0000e675 69px,#0000 74px"></i>
<i style="--g:#0000 25px,#0000 0,#004dff4e 32.7px,#e70000 0,#e70000 39px,#ff0000 40.4px,#ff7200 46px,#ffff00 49px,#21ffde 53.2px,#00fffffd 55.3px,#00dcfffb 57.6px,#005efff6 60px,#0000fff6 63px,#0000edf6 63.6px,#0000e6c3 64px,#0000e677 69.2px,#0000 74.4px"></i>
<i style="--g:#0000 24.8px,#0000 0,#004dff50 32.6px,#ed0000 0,#ed0000 39px,#ff0000 40.3px,#ff7100 46.2px,#ffff00 49px,#1fffe0 53.7px,#00fffffd 55.6px,#00dafffb 57.8px,#005bfff8 60px,#0000fff8 63px,#0000ebf8 64px,#0000e6c5 64.3px,#0000e678 69.6px,#0000 75px"></i>
<i style="--g:#0000 24.6px,#0000 0,#0038ff6f 27.4px,#1affe56f 29.4px,#ff4c006f 31px,#2effd16f 32.6px,#f30000 0,#f30000 39.3px,#ff0000 40px,#ff6f00 46.5px,#ffff00 49.6px,#1effe1 54px,#00fffffe 55.8px,#00d8fffc 58px,#0057fffa 60px,#0000fffa 63.3px,#0000eafa 64px,#0000e6c7 64.5px,#0000e67a 70px,#0000 75.3px"></i>
<i style="--g:#0000 24.3px,#0000 0,#0038ff72 27px,#1affe572 29.2px,#ff4c0072 31px,#2effd172 32.5px,#f80000 0,#ff0000 40px,#ff6e00 46.8px,#ffff00 50px,#1cffe3 54.6px,#00fffffe 56px,#00d6fffd 58.2px,#0054fffb 60.2px,#0000fffb 63.4px,#0000e8fb 64.3px,#0000e6c8 64.8px,#0000e67c 70.3px,#0000 76px"></i>
<i style="--g:#0000 24px,#0000 0,#0038ff75 27px,#1affe575 29px,#ff4c0075 30.8px,#2effd175 32.5px,#fe0000 0,#ff0000 39.8px,#ff6d00 47px,#ffff00 50.3px,#1bffe4 55px,#00ffff 56.3px,#00d3fffe 58.4px,#0050fffd 60.3px,#0000fffd 63.5px,#0000e7fd 64.5px,#0000e6ca 65px,#0000e67e 70.7px,#0000 76.3px"></i>
<i style="--g:#0000 24px,#0000 0,#0038ff78 27px,#1affe578 29px,#ff4c0078 30.7px,#2effd178 32.4px,#ff0500 0,#ff0500 40px,#ff6b00 47.3px,#ffff00 50.7px,#1affe5 55.5px,#00ffff 56.6px,#00d1ff 58.7px,#004dff 60.4px,#0000ff 63.6px,#0000e6 64.7px,#0000e6cc 65px,#0000e67f 71px,#0000 76.7px"></i>
<i style="--g:#0000 23.7px,#0000 0,#0038ff7b 26.7px,#1affe57b 29px,#ff4c007b 30.6px,#2effd17b 32.4px,#ff0700 0,#ff0700 40px,#ff6c00 47.6px,#ffff00 51px,#1affe5 55.8px,#00ffff 57px,#00d1ff 59px,#004dff 60.7px,#0000ff 64px,#0000e6 65px,#0000e6cc 65.6px,#0000e680 71.4px,#0000 77px"></i>
<i style="--g:#0000 23.6px,#0000 0,#0038ff7f 26.7px,#1affe57f 29px,#ff4c007f 30.6px,#2effd17f 32.4px,#ff0900 0,#ff0900 40px,#ff6c00 48px,#ffff00 51.4px,#1affe5 56px,#00ffff 57.2px,#00d1ff 59.2px,#004dff 61px,#0000ff 64.4px,#0000e6 65.5px,#0000e6cc 66px,#0000e680 71.7px,#0000 77.2px"></i>
<i style="--g:#0000 23.5px,#0000 0,#0038ff82 26.6px,#1affe582 29px,#ff4c0082 30.6px,#2effd182 32.4px,#ff0b00 0,#ff0b00 40px,#ff6d00 48px,#ffff00 51.7px,#1affe5 56.4px,#00ffff 57.5px,#00d1ff 59.5px,#004dff 61.3px,#0000ff 64.7px,#0000e6 66px,#0000e6cc 66.4px,#0000e680 72px,#0000 77.5px"></i>
<i style="--g:#0000 23.3px,#0000 0,#0038ff86 26.5px,#1affe586 28.8px,#ff4c0086 30.6px,#2effd186 32.4px,#ff0d00 0,#ff0d00 40px,#ff6e00 48.5px,#ffff00 52px,#1affe5 56.8px,#00ffff 58px,#00d1ff 60px,#004dff 61.6px,#0000ff 65px,#0000e6 66.3px,#0000e6cc 66.8px,#0000e680 72.3px,#0000 77.7px"></i>
<i style="--g:#0000 23.2px,#0000 0,#0038ff89 26.4px,#1affe589 28.7px,#ff4c0089 30.5px,#2effd189 32.4px,#ff1000 0,#ff1000 40px,#ff6f00 48.8px,#ffff00 52.3px,#1affe5 57px,#00ffff 58px,#00d1ff 60px,#004dff 62px,#0000ff 65.5px,#0000e6 66.6px,#0000e6cc 67px,#0000e680 72.6px,#0000 78px"></i>
<i style="--g:#0000 23px,#0000 0,#0038ff8d 26.4px,#1affe58d 28.7px,#ff4c008d 30.5px,#2effd18d 32.4px,#ff1200 0,#ff1200 40px,#ff6f00 49px,#ffff00 52.6px,#1affe5 57.4px,#00ffff 58.5px,#00d1ff 60.4px,#004dff 62.2px,#0000ff 66px,#0000e6 67px,#0000e6cc 67.5px,#0000e680 73px,#0000 78.2px"></i>
<i style="--g:#0000 23px,#0000 0,#0038ff90 26.3px,#1affe590 28.6px,#ff4c0090 30.5px,#2effd190 32.4px,#ff1400 0,#ff1400 40px,#ff7000 49.4px,#ffff00 53px,#1affe5 57.7px,#00ffff 59px,#00d1ff 60.7px,#004dff 62.5px,#0000ff 66px,#0000e6 67.4px,#0000e6cc 68px,#0000e680 73px,#0000 78.5px"></i>
<i style="--g:#0000 23px,#0000 0,#0038ff94 26px,#1affe594 28.6px,#ff4c0094 30.5px,#2effd194 32.4px,#ff1600 0,#ff1600 40px,#ff7100 49.7px,#ffff00 53.3px,#1affe5 58px,#00ffff 59px,#00d1ff 61px,#004dff 62.8px,#0000ff 66.6px,#0000e6 68px,#0000e6cc 68.3px,#0000e680 73.4px,#0000 78.7px"></i>
<i style="--g:#0000 22.8px,#0000 0,#0038ff97 26px,#1affe597 28.5px,#ff4c0097 30.5px,#2effd197 32.4px,#ff1800 0,#ff1800 40px,#ff7100 50px,#ffff00 53.6px,#1affe5 58.4px,#00ffff 59.4px,#00d1ff 61.3px,#004dff 63px,#0000ff 67px,#0000e6 68.2px,#0000e6cc 68.7px,#0000e680 73.7px,#0000 79px"></i>
<i style="--g:#0000 22.6px,#0000 0,#0038ff9b 26px,#1affe59b 28.5px,#ff4c009b 30.4px,#2effd19b 32.4px,#ff1a00 0,#ff1a00 40px,#ff7200 50.3px,#ffff00 54px,#1affe5 58.7px,#00ffff 59.7px,#00d1ff 61.6px,#004dff 63.4px,#0000ff 67.3px,#0000e6 68.6px,#0000e6cc 69px,#0000e680 74px,#0000 79.2px"></i>
<i style="--g:#0000 22.5px,#0000 0,#0038ff9e 26px,#1affe59e 28.4px,#ff4c009e 30.4px,#2effd19e 32.4px,#ff1c00 0,#ff1c00 40px,#ff7300 50.5px,#ffff00 54.2px,#1affe5 59px,#00ffff 60px,#00d1ff 62px,#004dff 63.7px,#0000ff 67.7px,#0000e6 69px,#0000e6cc 69.5px,#0000e680 74.3px,#0000 79.5px"></i>
<i style="--g:#0000 22.4px,#0000 0,#0038ffa2 26px,#1affe5a2 28.4px,#ff4c00a2 30.4px,#2effd1a2 32.4px,#ff1e00 0,#ff1e00 40px,#ff7400 51px,#ffff00 54.5px,#1affe5 59.4px,#00ffff 60.4px,#00d1ff 62px,#004dff 64px,#0000ff 68px,#0000e6 69.4px,#0000e6cc 70px,#0000e680 74.6px,#0000 79.7px"></i>
<i style="--g:#0000 22.3px,#0000 0,#0038ffa5 26px,#1affe5a5 28.3px,#ff4c00a5 30.4px,#2effd1a5 32.4px,#ff2000 0,#ff2000 40px,#ff7400 51px,#ffff00 55px,#1affe5 59.7px,#00ffff 60.7px,#00d1ff 62.5px,#004dff 64.3px,#0000ff 68.4px,#0000e6 69.8px,#0000e6cc 70.3px,#0000e680 75px,#0000 80px"></i>
<i style="--g:#0000 22px,#0000 0,#0038ffa9 25.7px,#1affe5a9 28.3px,#ff4c00a9 30.3px,#2effd1a9 32.4px,#ff2300 0,#ff2300 40px,#ff7500 51.4px,#ffff00 55px,#1affe5 60px,#00ffff 61px,#00d1ff 62.8px,#004dff 64.6px,#0000ff 68.8px,#0000e6 70px,#0000e6cc 70.7px,#0000e680 75.2px,#0000 80px"></i>
<i style="--g:#0000 22px,#0000 0,#0038ffac 25.7px,#1affe5ac 28.3px,#ff4c00ac 30.3px,#2effd1ac 32.4px,#ff2600 0,#ff2600 40px,#ff7600 51.8px,#ffff00 55.5px,#1affe5 60.3px,#00ffff 61.3px,#00d1ff 63px,#004dff 65px,#0000ff 69px,#0000e6 70.6px,#0000e6cc 71px,#0000e680 75.5px,#0000 80.4px"></i>
<i style="--g:#0000 22px,#0000 0,#0038ffac 26px,#1affe5ac 28.4px,#ff4c00ac 30.4px,#2effd1ac 32.5px,#ff2b00 0,#ff2b00 40px,#ff7800 52px,#ffff00 56px,#1affe5 60.7px,#00ffff 61.6px,#00d1ff 63.3px,#004dff 65px,#0000ff 69.4px,#0000e6 71px,#0000e6cc 71.4px,#0000e680 75.7px,#0000 80.5px"></i>
<i style="--g:#0000 22.3px,#0000 0,#0038ffac 26px,#1affe5ac 28.5px,#ff4c00ac 30.6px,#2effd1ac 32.6px,#ff3000 0,#ff3000 40px,#ff7b00 52.6px,#ffff00 56.3px,#1affe5 61px,#00ffff 62px,#00d1ff 63.6px,#004dff 65.3px,#0000ff 69.7px,#0000e6 71.2px,#0000e6cc 71.7px,#0000e680 76px,#0000 80.7px"></i>
<i style="--g:#0000 22.4px,#0000 0,#0038ffac 26px,#1affe5ac 28.6px,#ff4c00ac 30.7px,#2effd1ac 32.8px,#ff3500 0,#ff3500 40px,#ff7d00 53px,#ffff00 56.7px,#1affe5 61.4px,#00ffff 62.3px,#00d1ff 64px,#004dff 65.5px,#0000ff 70px,#0000e6 71.6px,#0000e6cc 72px,#0000e680 76px,#0000 81px"></i>
<i style="--g:#0000 22.6px,#0000 0,#0038ffac 26px,#1affe5ac 28.7px,#ff4c00ac 31px,#2effd1ac 33px,#ff3a00 0,#ff3a00 40px,#ff7f00 53.4px,#ffff00 57px,#80ff80 59.5px,#00ffff 62.6px,#00d1ff 64px,#004dff 65.8px,#0000ff 70.4px,#0000e6 72px,#0000e6cc 72.4px,#0000e680 76.4px,#0000 81px"></i>
<i style="--g:#0000 22.7px,#0000 0,#0038ffac 26.3px,#1affe5ac 29px,#ff4c00ac 31px,#2effd1ac 33px,#ff3f00 0,#ff3f00 40px,#ff8100 54px,#ffff00 57.4px,#80ff80 60px,#00ffff 63px,#00d1ff 64.4px,#004dff 66px,#0000ff 70.7px,#0000e6 72.2px,#0000e6cc 72.7px,#0000e680 76.7px,#0000 81px"></i>
<i style="--g:#0000 22.8px,#0000 0,#0038ffac 26.4px,#1affe5ac 29px,#ff4c00ac 31px,#2effd1ac 33px,#ff4400 0,#ff4400 40px,#ff5f00 48.4px,#ff8300 54.2px,#ffff00 58px,#80ff80 60.2px,#00ffff 63.2px,#00d1ff 64.6px,#004dff 66.2px,#0000ff 71px,#0000e6 72.6px,#0000e6cc 73px,#0000e680 77px,#0000 81.2px"></i>
<i style="--g:#0000 23px,#0000 0,#0038ffac 26.5px,#1affe5ac 29px,#ff4c00ac 31px,#2effd1ac 33.2px,#ff4900 0,#ff4900 40px,#ff6200 48.8px,#ff8500 54.6px,#ffff00 58.2px,#80ff80 60.6px,#00ffff 63.6px,#00d1ff 65px,#004dff 66.5px,#0000ff 71.3px,#0000e6 73px,#0000e6cc 73.4px,#0000e680 77px,#0000 81.4px"></i>
<i style="--g:#0000 23px,#0000 0,#0038ffac 26.6px,#1affe5ac 29.2px,#ff4c00ac 31.3px,#2effd1ac 33.3px,#ff4e00 0,#ff6400 49.2px,#ff8700 55px,#ffff00 58.6px,#80ff80 61px,#00ffff 64px,#00d1ff 65px,#004dff 66.7px,#0000ff 71.6px,#0000e6 73.2px,#0000e6cc 73.7px,#0000e680 77.4px,#0000 81.5px"></i>
<i style="--g:#0000 23px,#0000 0,#0038ffac 26.8px,#1affe5ac 29.3px,#ff4c00ac 31.4px,#2effd1ac 33.5px,#ff5300 0,#ff6700 49.7px,#ff8900 55.5px,#ffff00 59px,#80ff80 61.3px,#00ffff 64px,#00d1ff 65.4px,#004dff 67px,#0000ff 72px,#0000e6 73.6px,#0000e6cc 74px,#0000e680 77.6px,#0000 81.6px"></i>
<i style="--g:#0000 23.3px,#0000 0,#0038ffac 27px,#1affe5ac 29.5px,#ff4c00ac 31.5px,#2effd1ac 33.6px,#ff5800 0,#ff6a00 50px,#ff8c00 56px,#ffff00 59.4px,#80ff80 61.7px,#00ffff 64.5px,#00d1ff 65.7px,#004dff 67px,#0000ff 72.2px,#0000e6 74px,#0000e6cc 74.4px,#0000e680 78px,#0000 81.8px"></i>
<i style="--g:#0000 23.4px,#0000 0,#0038ffac 27px,#1affe5ac 29.6px,#ff4c00ac 31.6px,#2effd1ac 33.7px,#ff5c00 0,#ff6d00 50.5px,#ff8e00 56.3px,#ffff00 59.7px,#80ff80 62px,#00ffff 65px,#00d1ff 66px,#004dff 67.4px,#0000ff 72.5px,#0000e6 74.2px,#0000e6cc 74.7px,#0000e680 78px,#0000 82px"></i>
<i style="--g:#0000 23.5px,#0000 0,#0038ffac 27px,#1affe5ac 29.7px,#ff4c00ac 31.8px,#2effd1ac 34px,#ff6100 0,#ff7000 51px,#ff9000 56.7px,#ffff00 60px,#80ff80 62.4px,#00ffff 65px,#00d1ff 66px,#004dff 67.7px,#0000ff 73px,#0000e6 74.6px,#0000e6cc 75px,#0000e680 78.3px,#0000 82px"></i>
<i style="--g:#0000 23.6px,#0000 0,#0038ffac 27.2px,#1affe5ac 30px,#ff4c00ac 32px,#2effd1ac 34px,#ff6600 0,#ff7300 51.4px,#ff9200 57px,#ffff00 60.5px,#00ffff 65.5px,#00d1ff 66.5px,#004dff 68px,#0000ff 73px,#0000e6 75px,#0000e6cc 75.4px,#0000e680 78.5px,#0000 82px"></i>
<i style="--g:#0000 23.7px,#0000 0,#0038ffac 27.4px,#1affe5ac 30px,#ff4c00ac 32px,#2effd1ac 34px,#ff6b00 0,#ff7500 52px,#ff9400 57.5px,#ffff00 61px,#00ffff 65.8px,#00d1ff 66.7px,#004dff 68px,#0000ff 73.4px,#0000e6 75.2px,#0000e6cc 75.7px,#0000e680 78.8px,#0000 82.3px"></i>
<i style="--g:#0000 24.3px,#0000 0,#0038ffac 28px,#1affe5ac 30.3px,#ff4c00ac 32.3px,#2effd1ac 34.3px,#ff6c00 0,#ff7600 52px,#ff9500 57.6px,#ffff00 61px,#00ffff 66px,#00d1ff 66.7px,#004dff 68px,#0000ff 73.5px,#0000e6 75.3px,#0000e6cc 75.8px,#0000e680 79px,#0000 82.4px"></i>
<i style="--g:#0000 25px,#0000 0,#0038ffac 28.4px,#1affe5ac 31px,#ff4c00ac 32.8px,#2effd1ac 34.7px,#ff6d00 0,#ff7700 52px,#ff9600 57.7px,#ffff00 61px,#00ffff 66px,#00d1ff 66.8px,#004dff 68.3px,#0000ff 73.6px,#0000e6 75.3px,#0000e6cc 76px,#0000e680 79px,#0000 82.4px"></i>
<i style="--g:#0000 25.8px,#0000 0,#0038ffac 29px,#1affe5ac 31.4px,#ff4c00ac 33.2px,#2effd1ac 35px,#ff6e00 0,#ff7800 52px,#ff9700 58px,#ffff00 61px,#00ffff 66px,#00d1ff 67px,#004dff 68.3px,#0000ff 73.6px,#0000e6 75.4px,#0000e6cc 76px,#0000e680 79px,#0000 82.5px"></i>
<i style="--g:#0000 26.6px,#0000 0,#0038ffac 29.7px,#1affe5ac 32px,#ff4c00ac 33.6px,#2effd1ac 35.4px,#ff6f00 0,#ff7900 52.3px,#ff9800 58px,#ffff00 61px,#00ffff 66px,#00d1ff 67px,#004dff 68.4px,#0000ff 73.7px,#0000e6 75.5px,#0000e6cc 76px,#0000e680 79px,#0000 82.6px"></i>
<i style="--g:#0000 27.3px,#0000 0,#0038ffac 30.3px,#1affe5ac 32.4px,#ff4c00ac 34px,#2effd1ac 35.8px,#ff7000 0,#ff7a00 52.5px,#ff9900 58px,#ffff00 61.2px,#00ffff 66px,#00d1ff 67px,#004dff 68.5px,#0000ff 73.8px,#0000e6 75.5px,#0000e6cc 76px,#0000e680 79px,#0000 82.6px"></i>
<i style="--g:#0000 28px,#0000 0,#0038ffac 31px,#1affe5ac 33px,#ff4c00ac 34.5px,#2effd1ac 36px,#ff7100 0,#ff7b00 52.6px,#ff9a00 58.3px,#ffff00 61.3px,#00ffff 66px,#00d1ff 67px,#004dff 68.5px,#0000ff 74px,#0000e6 75.6px,#0000e6cc 76px,#0000e680 79px,#0000 82.7px"></i>
<i style="--g:#0000 29px,#0000 0,#0038ffac 31.5px,#1affe5ac 33.4px,#ff4c00ac 35px,#2effd1ac 36.5px,#ff7200 0,#ff7c00 52.7px,#ff9b00 58.4px,#ffff00 61.3px,#00ffff 66px,#00d1ff 67px,#004dff 68.6px,#0000ff 74px,#0000e6 75.7px,#0000e6cc 76px,#0000e680 79.2px,#0000 82.8px"></i>
<i style="--g:#0000 29.6px,#0000 0,#0038ffac 32px,#1affe5ac 34px,#ff4c00ac 35.5px,#2effd1ac 37px,#ff7300 0,#ff7d00 53px,#ff9b00 58.5px,#ffff00 61.4px,#00ffff 66px,#00d1ff 67px,#004dff 68.6px,#0000ff 74px,#0000e6 75.7px,#0000e6cc 76.2px,#0000e680 79.3px,#0000 83px"></i>
<i style="--g:#0000 30.3px,#0000 0,#0038ffac 33px,#1affe5ac 34.7px,#ff4c00ac 36px,#2effd1ac 37.6px,#ff7400 0,#ff7e00 53px,#ff9c00 58.7px,#ffff00 61.5px,#00ffff 66px,#00d1ff 67px,#004dff 68.7px,#0000ff 74px,#0000e6 76px,#0000e6cc 76.3px,#0000e680 79.4px,#0000 83px"></i>
<i style="--g:#0000 30.7px,#0000 0,#0038ffac 33.3px,#1affe5ac 35px,#ff4c00ac 36.7px,#2effd1ac 38.2px,#ff7500 0,#ff7f00 53px,#ff9d00 58.8px,#ffff00 61.5px,#00ffff 66px,#00d1ff 67px,#004dff 68.8px,#0000ff 74px,#0000e6 76px,#0000e6cc 76.4px,#0000e680 79.4px,#0000 83px"></i>
<i style="--g:#0000 30.7px,#0000 0,#0038ffac 34.2px,#1affe5ac 36.8px,#ff4c00ac 39px,#2effd1ac 41px,#ff7600 0,#ff8000 53.2px,#ff9e00 59px,#ffff00 61.6px,#00ffff 66px,#00d1ff 67px,#004dff 69px,#0000ff 74px,#0000e6 76px,#0000e6cc 76.4px,#0000e680 79.5px,#0000 83px"></i>
<i style="--g:#0000 30.7px,#0000 0,#0038ffac 35.5px,#1affe5ac 39px,#ff4c00ac 41.6px,#2effd1ac 44.3px,#ff7900 0,#ff8000 53.2px,#ff9e00 59px,#ffff00 61.6px,#00ffff 66px,#00d1ff 67px,#004dff 69px,#0000ff 74px,#0000e6 76px,#0000e6cc 76.4px,#0000e680 79.5px,#0000 83px"></i>
<i style="--g:#0000 30.7px,#0000 0,#0038ffac 35.5px,#1affe5ac 39px,#ff4c00ac 41.7px,#2effd1ac 44.4px,#ff7900 0,#ff8000 53.2px,#ff9e00 59px,#ffff00 61.6px,#00ffff 66px,#00d1ff 67px,#004dff 69px,#0000ff 74px,#0000e6 76px,#0000e6cc 76.4px,#0000e680 79.5px,#0000 83px"></i>
<i style="--g:#0000 30.7px,#0000 0,#0038ffac 35.5px,#1affe5ac 39px,#ff4c00ac 41.7px,#2effd1ac 44.4px,#ff7900 0,#ff8000 53.2px,#ff9e00 59px,#ffff00 61.6px,#00ffff 66px,#00d1ff 67px,#004dff 69px,#0000ff 74px,#0000e6 76px,#0000e6cc 76.4px,#0000e680 79.5px,#0000 83px"></i>
</div>
<div class="p" style="left:312.30px;top:236px;width:85.15px">
<i style="--g:#0000 32.4px,#0000 0,#004dff26 33px,#b30000 0,#b30000 35.6px,#ff0500 38.8px,#ff8000 41px,#ffff00 44.3px,#6bff94 50.7px,#00ffffd4 56px,#00b2ff8c 58.3px,#0080ff59 62px,#0061ff26 65.4px,#0000 69.6px"></i>
<i style="--g:#0000 32.4px,#0000 0,#004dff26 33px,#b30000 0,#b30000 35.7px,#ff0500 39px,#ff8000 41px,#ffff00 44.4px,#6bff94 51px,#00ffffd4 56px,#00b2ff8c 58.4px,#0080ff59 62px,#0061ff26 65.5px,#0000 69.7px"></i>
<i style="--g:#0000 32.4px,#0000 0,#004dff26 33px,#b30000 0,#b30000 35.8px,#ff0500 39px,#ff8000 41px,#ffff00 44.5px,#6bff94 51px,#00ffffd4 56px,#00b2ff8c 58.5px,#0080ff59 62px,#0061ff26 65.6px,#0000 70px"></i>
<i style="--g:#0000 32.4px,#0000 0,#004dff26 33px,#b30000 0,#b30000 36px,#ff0500 39px,#ff8000 41px,#ffff00 44.6px,#6bff94 51px,#00ffffd4 56.2px,#00b2ff8c 58.6px,#0080ff59 62px,#0061ff26 65.7px,#0000 70px"></i>
<i style="--g:#0000 32.4px,#0000 0,#004dff26 33px,#b30000 0,#b30000 36px,#ff0500 39px,#ff8000 41.2px,#ffff00 44.7px,#6bff94 51px,#00ffffd4 56.3px,#00b2ff8c 58.7px,#0080ff59 62.2px,#0061ff26 65.8px,#0000 70px"></i>
<i style="--g:#0000 32.4px,#0000 0,#004dff26 33px,#b30000 0,#b30000 36px,#ff0500 39.2px,#ff8000 41.3px,#ffff00 44.8px,#6bff94 51.2px,#00ffffd4 56.4px,#00b2ff8c 58.8px,#0080ff59 62.3px,#0061ff26 66px,#0000 70px"></i>
<i style="--g:#0000 32.4px,#0000 0,#004dff26 33px,#b30000 0,#b30000 36px,#ff0500 39.3px,#ff8000 41.4px,#ffff00 45px,#6bff94 51.3px,#00ffffd4 56.5px,#00b2ff8c 59px,#0080ff59 62.4px,#0061ff26 66px,#0000 70.2px"></i>
<i style="--g:#0000 32.4px,#0000 0,#004dff26 32.8px,#b30000 0,#b30000 36.4px,#ff0500 39.6px,#ff8000 41.7px,#ffff00 45px,#66ff99 51.3px,#00ffffd8 56.5px,#00aeff93 59px,#0075ff65 62.4px,#0044ff14 68.7px,#0000 70.3px"></i>
<i style="--g:#0000 32.4px,#0000 0,#004dff26 32.7px,#b30000 0,#b30000 36.6px,#ff0500 40px,#ff8000 42px,#ffff00 45px,#5effa1 51px,#01fffede 56.4px,#00ffffde 0,#00a7ffa0 59px,#0062ff78 62.4px,#0036ff20 68.3px,#0000 70.4px"></i>
<i style="--g:#0000 32.7px,#b30000 0,#b30000 37px,#ff0500 40.4px,#ff8000 42.5px,#fffe00 45.2px,#ffff00 0,#55ffaa 51px,#00fdffe2 56.4px,#00a0ffac 59px,#0050ff8b 62.4px,#0028ff2d 68px,#0000 70.5px"></i>
<i style="--g:#0000 32.6px,#b30000 0,#b30000 37.2px,#ff0500 40.8px,#ff8000 43px,#ffff00 45.4px,#ffff00 0,#4dffb2 50.7px,#00faffe5 56.4px,#0099ffb9 59.2px,#003eff9f 62.4px,#0024ff6c 64.4px,#001aff39 67.7px,#0000 70.6px"></i>
<i style="--g:#0000 32.5px,#b30000 0,#b30000 37.5px,#ff0500 41px,#ffff00 45.6px,#feff01 0,#92ff6d 48px,#44ffbb 50.5px,#00f7ffe9 56.4px,#002bffb2 62.4px,#0013ff7f 64px,#000cff45 67.4px,#0000 70.7px"></i>
<i style="--g:#0000 32.5px,#b30000 0,#b30000 37.8px,#ff0500 41.5px,#ffff00 45.8px,#fcff03 0,#8bff74 48px,#3cffc3 50.3px,#00f4ffec 56.4px,#0019ffc6 62.4px,#0002ff93 63.6px,#0000fd52 67px,#0000 70.7px"></i>
<i style="--g:#0000 32.4px,#b30000 0,#b30000 38px,#ff0500 42px,#ffff00 46px,#84ff7b 48px,#33ffcc 50px,#00fffff3 55px,#00f2fff0 56.3px,#0084ffde 59.5px,#0007ffd9 62.4px,#0000f0a6 63px,#0000 71px"></i>
<i style="--g:#0000 32.4px,#b50000 0,#b50000 38.3px,#ff0600 42px,#ff7f00 44.3px,#ffff00 46px,#80ff80 48px,#2dffd2 50px,#00fffff6 54.7px,#00effff3 56.4px,#007effe6 59.5px,#0000f9e6 62.4px,#0000e6b3 63px,#0000e667 66.7px,#0000 71px"></i>
<i style="--g:#0000 32.3px,#ba0000 0,#ba0000 38.3px,#ff0a00 42px,#ff7e00 44.5px,#ffff00 46.4px,#80ff80 48.5px,#2cffd3 50.4px,#00fffff7 54.7px,#00edfff3 56.5px,#0000f8e8 62.5px,#0000e6b5 63px,#0000e668 67px,#0000 71.4px"></i>
<i style="--g:#0000 32.2px,#c00000 0,#c00000 38.4px,#ff0000 41.5px,#ff0d00 42.2px,#ff7c00 44.6px,#ffff00 46.7px,#80ff80 48.8px,#2bffd4 50.7px,#00fffff8 54.7px,#00ebfff4 56.6px,#0000f7ea 62.6px,#0000e6b7 63px,#0000e66a 67.2px,#0000 71.7px"></i>
<i style="--g:#0000 32px,#c50000 0,#c50000 38.4px,#ff0000 41.4px,#ff1100 42.2px,#ff7b00 44.8px,#ffff00 47px,#80ff80 49px,#29ffd6 51px,#00fffff9 54.7px,#00e9fff5 56.7px,#0000f5eb 62.7px,#0000e6b8 63.2px,#0000e66c 67.5px,#0000 72px"></i>
<i style="--g:#0000 32px,#cb0000 0,#cb0000 38.5px,#ff0000 41.2px,#ff1400 42.3px,#ff7900 45px,#ffff00 47.2px,#80ff80 49.4px,#28ffd7 51.4px,#00fffff9 54.7px,#00e6fff6 56.8px,#0000ffed 62.5px,#0000f4ed 63px,#0000e6ba 63.3px,#0000e66e 67.7px,#0000 72.4px"></i>
<i style="--g:#0000 32px,#d10000 0,#d10000 38.5px,#ff0000 41px,#ff1800 42.3px,#ff7800 45px,#ffff00 47.5px,#80ff80 49.7px,#26ffd9 51.7px,#00fffffa 54.8px,#00e4fff7 57px,#006dffef 59.6px,#0000ffef 62.6px,#0000f2ef 63px,#0000e6bc 63.4px,#0000e66f 68px,#0000 72.8px"></i>
<i style="--g:#0000 32px,#d60000 0,#d60000 38.6px,#ff0000 41px,#ff1c00 42.3px,#ff7700 45.2px,#ffff00 47.7px,#80ff80 50px,#25ffda 52px,#00fffffb 55px,#00e2fff8 57px,#0069fff1 59.6px,#0000fff1 62.6px,#0000f1f1 63px,#0000e6be 63.5px,#0000e671 68.2px,#0000 73px"></i>
<i style="--g:#0000 32px,#dc0000 0,#dc0000 38.6px,#ff0000 40.6px,#ff1f00 42.4px,#ff7500 45.4px,#ffff00 48px,#80ff80 50.3px,#24ffdb 52.3px,#00fffffc 55px,#00e0fff9 57px,#0066fff2 59.6px,#0000fff2 62.7px,#0000f0f2 63px,#0000e6bf 63.6px,#0000e673 68.5px,#0000 73.5px"></i>
<i style="--g:#0000 32px,#e20000 0,#e20000 38.7px,#ff0000 40.4px,#ff2300 42.4px,#ff7400 45.6px,#ffff00 48.3px,#22ffdd 52.7px,#00fffffc 55px,#00defffa 57.2px,#0062fff4 59.6px,#0000fff4 62.7px,#0000eef4 63.2px,#0000e6c1 63.7px,#0000e675 68.7px,#0000 74px"></i>
<i style="--g:#0000 32px,#e70000 0,#e70000 38.8px,#ff0000 40px,#ff7200 45.7px,#ffff00 48.5px,#21ffde 53px,#00fffffd 55px,#00dcfffb 57.3px,#005efff6 59.6px,#0000fff6 62.7px,#0000edf6 63.3px,#0000e6c3 64px,#0000e677 69px,#0000 74px"></i>
<i style="--g:#0000 31.8px,#ed0000 0,#ed0000 39px,#ff0000 40px,#ff7100 46px,#ffff00 49px,#1fffe0 53.3px,#00fffffd 55px,#00dafffb 57.4px,#005bfff8 59.6px,#0000fff8 62.8px,#0000ebf8 63.4px,#0000e6c5 64px,#0000e678 69.2px,#0000 74.5px"></i>
<i style="--g:#0000 31.7px,#f30000 0,#f30000 39px,#ff0000 39.6px,#ff6f00 46px,#ffff00 49px,#1effe1 53.6px,#00fffffe 55.3px,#00d8fffc 57.5px,#0057fffa 59.6px,#0000fffa 62.8px,#0000eafa 63.5px,#0000e6c7 64px,#0000e67a 69.5px,#0000 75px"></i>
<i style="--g:#0000 30px,#0000 0,#004dff2c 31.7px,#f80000 0,#ff0000 39.3px,#ff6e00 46px,#ffff00 49.4px,#1cffe3 54px,#00fffffe 55.4px,#00d6fffd 57.6px,#0054fffb 59.6px,#0000fffb 62.8px,#0000e8fb 63.6px,#0000e6c8 64px,#0000e67c 69.7px,#0000 75px"></i>
<i style="--g:#0000 29px,#0000 0,#004dff2f 31.6px,#fe0000 0,#ff0000 39px,#ff6d00 46.3px,#ffff00 49.6px,#1bffe4 54.3px,#00ffff 55.6px,#00d3fffe 57.7px,#0050fffd 59.6px,#0000fffd 62.8px,#0000e7fd 63.8px,#0000e6ca 64.2px,#0000e67e 70px,#0000 75.5px"></i>
<i style="--g:#0000 27.6px,#0000 0,#004dff32 31.5px,#ff0500 0,#ff0500 39px,#ff6b00 46.5px,#ffff00 50px,#1affe5 54.6px,#00ffff 55.8px,#00d1ff 58px,#004dff 59.6px,#0000ff 62.8px,#0000e6 64px,#0000e6cc 64.4px,#0000e67f 70.2px,#0000 76px"></i>
<i style="--g:#0000 27px,#0000 0,#004dff35 31.4px,#ff0700 0,#ff0700 39px,#ff6c00 47px,#ffff00 50.3px,#1affe5 55px,#00ffff 56px,#00d1ff 58px,#004dff 60px,#0000ff 63px,#0000e6 64.3px,#0000e6cc 64.8px,#0000e680 70.6px,#0000 76.2px"></i>
<i style="--g:#0000 26.6px,#0000 0,#004dff38 31.2px,#ff0900 0,#ff0900 39px,#ff6c00 47px,#ffff00 50.6px,#1affe5 55.4px,#00ffff 56.5px,#00d1ff 58.5px,#004dff 60.3px,#0000ff 63.6px,#0000e6 64.7px,#0000e6cc 65.2px,#0000e680 71px,#0000 76.5px"></i>
<i style="--g:#0000 26.3px,#0000 0,#004dff3c 31px,#ff0b00 0,#ff0b00 39px,#ff6d00 47.5px,#ffff00 51px,#1affe5 55.8px,#00ffff 57px,#00d1ff 59px,#004dff 60.6px,#0000ff 64px,#0000e6 65px,#0000e6cc 65.7px,#0000e680 71.3px,#0000 77px"></i>
<i style="--g:#0000 26px,#0000 0,#004dff3f 31px,#ff0d00 0,#ff0d00 39.3px,#ff6e00 48px,#ffff00 51.4px,#1affe5 56px,#00ffff 57.2px,#00d1ff 59.2px,#004dff 61px,#0000ff 64.5px,#0000e6 65.6px,#0000e6cc 66px,#0000e680 71.6px,#0000 77px"></i>
<i style="--g:#0000 25.5px,#0000 0,#004dff42 30.7px,#ff1000 0,#ff1000 39.3px,#ff6f00 48.2px,#ffff00 51.8px,#1affe5 56.5px,#00ffff 57.6px,#00d1ff 59.6px,#004dff 61.3px,#0000ff 65px,#0000e6 66px,#0000e6cc 66.6px,#0000e680 72px,#0000 77.4px"></i>
<i style="--g:#0000 25px,#0000 0,#004dff45 30.5px,#ff1200 0,#ff1200 39.4px,#ff6f00 48.6px,#ffff00 52px,#1affe5 57px,#00ffff 58px,#00d1ff 60px,#004dff 61.7px,#0000ff 65.3px,#0000e6 66.5px,#0000e6cc 67px,#0000e680 72.3px,#0000 77.7px"></i>
<i style="--g:#0000 25px,#0000 0,#004dff48 30.3px,#ff1400 0,#ff1400 39.4px,#ff7000 49px,#ffff00 52.5px,#1affe5 57.3px,#00ffff 58.4px,#00d1ff 60.3px,#004dff 62px,#0000ff 65.8px,#0000e6 67px,#0000e6cc 67.5px,#0000e680 72.7px,#0000 78px"></i>
<i style="--g:#0000 24.5px,#0000 0,#004dff4b 30px,#ff1600 0,#ff1600 39.5px,#ff7100 49.3px,#ffff00 53px,#1affe5 57.7px,#00ffff 58.7px,#00d1ff 60.6px,#004dff 62.4px,#0000ff 66px,#0000e6 67.4px,#0000e6cc 68px,#0000e680 73px,#0000 78.3px"></i>
<i style="--g:#0000 24px,#0000 0,#004dff4f 30px,#ff1800 0,#ff1800 39.6px,#ff7100 49.6px,#ffff00 53.3px,#1affe5 58px,#00ffff 59px,#00d1ff 61px,#004dff 62.8px,#0000ff 66.6px,#0000e6 68px,#0000e6cc 68.4px,#0000e680 73.4px,#0000 78.6px"></i>
<i style="--g:#0000 23.8px,#0000 0,#004dff53 30px,#ff1a00 0,#ff1a00 39.6px,#ff7200 50px,#ffff00 53.6px,#1affe5 58.4px,#00ffff 59.5px,#00d1ff 61.3px,#004dff 63px,#0000ff 67px,#0000e6 68.3px,#0000e6cc 69px,#0000e680 73.8px,#0000 79px"></i>
<i style="--g:#0000 23.4px,#0000 0,#004dff56 29.6px,#ff1c00 0,#ff1c00 39.7px,#ff7300 50.3px,#ffff00 54px,#1affe5 59px,#00ffff 60px,#00d1ff 61.7px,#004dff 63.5px,#0000ff 67.5px,#0000e6 68.8px,#0000e6cc 69.3px,#0000e680 74px,#0000 79.3px"></i>
<i style="--g:#0000 23px,#0000 0,#004dff5a 29.4px,#ff1e00 0,#ff1e00 39.7px,#ff7400 50.7px,#ffff00 54.4px,#1affe5 59.2px,#00ffff 60.2px,#00d1ff 62px,#004dff 64px,#0000ff 68px,#0000e6 69.3px,#0000e6cc 69.7px,#0000e680 74.5px,#0000 79.6px"></i>
<i style="--g:#0000 22.7px,#0000 0,#004dff5e 29.3px,#ff2000 0,#ff2000 39.8px,#ff7400 51px,#ffff00 54.8px,#1affe5 59.6px,#00ffff 60.6px,#00d1ff 62.4px,#004dff 64px,#0000ff 68.3px,#0000e6 69.7px,#0000e6cc 70.2px,#0000e680 75px,#0000 80px"></i>
<i style="--g:#0000 22.4px,#0000 0,#0038ff84 24.7px,#1affe584 26.4px,#ff4c0084 27.7px,#2effd184 29px,#ff2300 0,#ff2300 40px,#ff7500 51.4px,#ffff00 55px,#1affe5 60px,#00ffff 61px,#00d1ff 62.8px,#004dff 64.5px,#0000ff 68.7px,#0000e6 70px,#0000e6cc 70.7px,#0000e680 75px,#0000 80px"></i>
<i style="--g:#0000 22px,#0000 0,#0038ff89 24.5px,#1affe589 26px,#ff4c0089 27.6px,#2effd189 29px,#ff2600 0,#ff2600 40px,#ff7600 51.8px,#ffff00 55.5px,#1affe5 60.3px,#00ffff 61.3px,#00d1ff 63px,#004dff 65px,#0000ff 69px,#0000e6 70.6px,#0000e6cc 71px,#0000e680 75.5px,#0000 80.4px"></i>
<i style="--g:#0000 22px,#0000 0,#0038ff8e 24.4px,#1affe58e 26.2px,#ff4c008e 27.6px,#2effd18e 29px,#ff2b00 0,#ff2b00 40px,#ff7800 52px,#ffff00 56px,#1affe5 60.7px,#00ffff 61.6px,#00d1ff 63.3px,#004dff 65px,#0000ff 69.4px,#0000e6 71px,#0000e6cc 71.4px,#0000e680 75.7px,#0000 80.5px"></i>
<i style="--g:#0000 22px,#0000 0,#0038ff93 24.4px,#1affe593 26.2px,#ff4c0093 27.7px,#2effd193 29px,#ff3000 0,#ff3000 40px,#ff7b00 52.6px,#ffff00 56.3px,#1affe5 61px,#00ffff 62px,#00d1ff 63.6px,#004dff 65.3px,#0000ff 69.7px,#0000e6 71.2px,#0000e6cc 71.7px,#0000e680 76px,#0000 80.7px"></i>
<i style="--g:#0000 21.7px,#0000 0,#0038ff98 24.4px,#1affe598 26.3px,#ff4c0098 27.8px,#2effd198 29.3px,#ff3500 0,#ff3500 40px,#ff7d00 53px,#ffff00 56.7px,#1affe5 61.4px,#00ffff 62.3px,#00d1ff 64px,#004dff 65.5px,#0000ff 70px,#0000e6 71.6px,#0000e6cc 72px,#0000e680 76px,#0000 81px"></i>
<i style="--g:#0000 21.6px,#0000 0,#0038ff9d 24.3px,#1affe59d 26.3px,#ff4c009d 28px,#2effd19d 29.4px,#ff3a00 0,#ff3a00 40px,#ff7f00 53.4px,#ffff00 57px,#80ff80 59.5px,#00ffff 62.6px,#00d1ff 64px,#004dff 65.8px,#0000ff 70.4px,#0000e6 72px,#0000e6cc 72.4px,#0000e680 76.4px,#0000 81px"></i>
<i style="--g:#0000 21.4px,#0000 0,#0038ffa2 24.3px,#1affe5a2 26.3px,#ff4c00a2 28px,#2effd1a2 29.6px,#ff3f00 0,#ff3f00 40px,#ff8100 54px,#ffff00 57.4px,#80ff80 60px,#00ffff 63px,#00d1ff 64.4px,#004dff 66px,#0000ff 70.7px,#0000e6 72.2px,#0000e6cc 72.7px,#0000e680 76.7px,#0000 81px"></i>
<i style="--g:#0000 21.3px,#0000 0,#0038ffa7 24.2px,#1affe5a7 26.3px,#ff4c00a7 28px,#2effd1a7 29.7px,#ff4400 0,#ff4400 40px,#ff5f00 48.4px,#ff8300 54.2px,#ffff00 58px,#80ff80 60.2px,#00ffff 63.2px,#00d1ff 64.6px,#004dff 66.2px,#0000ff 71px,#0000e6 72.6px,#0000e6cc 73px,#0000e680 77px,#0000 81.2px"></i>
<i style="--g:#0000 21.2px,#0000 0,#0038ffac 24.2px,#1affe5ac 26.4px,#ff4c00ac 28px,#2effd1ac 29.8px,#ff4900 0,#ff4900 40px,#ff6200 48.8px,#ff8500 54.6px,#ffff00 58.2px,#80ff80 60.6px,#00ffff 63.6px,#00d1ff 65px,#004dff 66.5px,#0000ff 71.3px,#0000e6 73px,#0000e6cc 73.4px,#0000e680 77px,#0000 81.4px"></i>
<i style="--g:#0000 21px,#0000 0,#0038ffac 24px,#1affe5ac 26.4px,#ff4c00ac 28px,#2effd1ac 30px,#ff4e00 0,#ff4e00 39.8px,#ff6400 49.2px,#ff8700 55px,#ffff00 58.6px,#80ff80 61px,#00ffff 64px,#00d1ff 65px,#004dff 66.7px,#0000ff 71.6px,#0000e6 73.2px,#0000e6cc 73.7px,#0000e680 77.4px,#0000 81.5px"></i>
<i style="--g:#0000 21px,#0000 0,#0038ffac 24px,#1affe5ac 26.4px,#ff4c00ac 28.2px,#2effd1ac 30px,#ff5300 0,#ff5300 39.8px,#ff6700 49.7px,#ff8900 55.5px,#ffff00 59px,#80ff80 61.3px,#00ffff 64px,#00d1ff 65.4px,#004dff 67px,#0000ff 72px,#0000e6 73.6px,#0000e6cc 74px,#0000e680 77.6px,#0000 81.6px"></i>
<i style="--g:#0000 21px,#0000 0,#0038ffac 24px,#1affe5ac 26.4px,#ff4c00ac 28.3px,#2effd1ac 30px,#ff5800 0,#ff6a00 50px,#ff8c00 56px,#ffff00 59.4px,#80ff80 61.7px,#00ffff 64.5px,#00d1ff 65.7px,#004dff 67px,#0000ff 72.2px,#0000e6 74px,#0000e6cc 74.4px,#0000e680 78px,#0000 81.8px"></i>
<i style="--g:#0000 20.7px,#0000 0,#0038ffac 24px,#1affe5ac 26.5px,#ff4c00ac 28.4px,#2effd1ac 30.3px,#ff5c00 0,#ff6d00 50.5px,#ff8e00 56.3px,#ffff00 59.7px,#80ff80 62px,#00ffff 65px,#00d1ff 66px,#004dff 67.4px,#0000ff 72.5px,#0000e6 74.2px,#0000e6cc 74.7px,#0000e680 78px,#0000 82px"></i>
<i style="--g:#0000 20.6px,#0000 0,#0038ffac 24px,#1affe5ac 26.5px,#ff4c00ac 28.4px,#2effd1ac 30.4px,#ff6100 0,#ff7000 51px,#ff9000 56.7px,#ffff00 60px,#80ff80 62.4px,#00ffff 65px,#00d1ff 66px,#004dff 67.7px,#0000ff 73px,#0000e6 74.6px,#0000e6cc 75px,#0000e680 78.3px,#0000 82px"></i>
<i style="--g:#0000 20.5px,#0000 0,#0038ffac 24px,#1affe5ac 26.5px,#ff4c00ac 28.5px,#2effd1ac 30.5px,#ff6600 0,#ff7300 51.4px,#ff9200 57px,#ffff00 60.5px,#00ffff 65.5px,#00d1ff 66.5px,#004dff 68px,#0000ff 73px,#0000e6 75px,#0000e6cc 75.4px,#0000e680 78.5px,#0000 82px"></i>
<i style="--g:#0000 20.4px,#0000 0,#0038ffac 24px,#1affe5ac 26.5px,#ff4c00ac 28.6px,#2effd1ac 30.6px,#ff6b00 0,#ff7500 52px,#ff9400 57.5px,#ffff00 61px,#00ffff 65.8px,#00d1ff 66.7px,#004dff 68px,#0000ff 73.4px,#0000e6 75.2px,#0000e6cc 75.7px,#0000e680 78.8px,#0000 82.3px"></i>
<i style="--g:#0000 20.8px,#0000 0,#0038ffac 24.3px,#1affe5ac 27px,#ff4c00ac 29px,#2effd1ac 31px,#ff6c00 0,#ff7600 52px,#ff9500 57.6px,#ffff00 61px,#00ffff 66px,#00d1ff 66.7px,#004dff 68px,#0000ff 73.5px,#0000e6 75.3px,#0000e6cc 75.8px,#0000e680 79px,#0000 82.4px"></i>
<i style="--g:#0000 21.4px,#0000 0,#0038ffac 25px,#1affe5ac 27.4px,#ff4c00ac 29.4px,#2effd1ac 31.5px,#ff6d00 0,#ff7700 52px,#ff9600 57.7px,#ffff00 61px,#00ffff 66px,#00d1ff 66.8px,#004dff 68.3px,#0000ff 73.6px,#0000e6 75.3px,#0000e6cc 76px,#0000e680 79px,#0000 82.4px"></i>
<i style="--g:#0000 22px,#0000 0,#0038ffac 25.5px,#1affe5ac 28px,#ff4c00ac 30px,#2effd1ac 32px,#ff6e00 0,#ff7800 52px,#ff9700 58px,#ffff00 61px,#00ffff 66px,#00d1ff 67px,#004dff 68.3px,#0000ff 73.6px,#0000e6 75.4px,#0000e6cc 76px,#0000e680 79px,#0000 82.5px"></i>
<i style="--g:#0000 22.6px,#0000 0,#0038ffac 26px,#1affe5ac 28.5px,#ff4c00ac 30.5px,#2effd1ac 32.4px,#ff6f00 0,#ff7900 52.3px,#ff9800 58px,#ffff00 61px,#00ffff 66px,#00d1ff 67px,#004dff 68.4px,#0000ff 73.7px,#0000e6 75.5px,#0000e6cc 76px,#0000e680 79px,#0000 82.6px"></i>
<i style="--g:#0000 23.3px,#0000 0,#0038ffac 26.6px,#1affe5ac 29px,#ff4c00ac 31px,#2effd1ac 33px,#ff7000 0,#ff7a00 52.5px,#ff9900 58px,#ffff00 61.2px,#00ffff 66px,#00d1ff 67px,#004dff 68.5px,#0000ff 73.8px,#0000e6 75.5px,#0000e6cc 76px,#0000e680 79px,#0000 82.6px"></i>
<i style="--g:#0000 24px,#0000 0,#0038ffac 27.2px,#1affe5ac 29.6px,#ff4c00ac 31.5px,#2effd1ac 33.4px,#ff7100 0,#ff7b00 52.6px,#ff9a00 58.3px,#ffff00 61.3px,#00ffff 66px,#00d1ff 67px,#004dff 68.5px,#0000ff 74px,#0000e6 75.6px,#0000e6cc 76px,#0000e680 79px,#0000 82.7px"></i>
<i style="--g:#0000 24.5px,#0000 0,#0038ffac 27.8px,#1affe5ac 30px,#ff4c00ac 32px,#2effd1ac 34px,#ff7200 0,#ff7c00 52.7px,#ff9b00 58.4px,#ffff00 61.3px,#00ffff 66px,#00d1ff 67px,#004dff 68.6px,#0000ff 74px,#0000e6 75.7px,#0000e6cc 76px,#0000e680 79.2px,#0000 82.8px"></i>
<i style="--g:#0000 25px,#0000 0,#0038ffac 28.4px,#1affe5ac 30.7px,#ff4c00ac 32.5px,#2effd1ac 34.4px,#ff7300 0,#ff7d00 53px,#ff9b00 58.5px,#ffff00 61.4px,#00ffff 66px,#00d1ff 67px,#004dff 68.6px,#0000ff 74px,#0000e6 75.7px,#0000e6cc 76.2px,#0000e680 79.3px,#0000 83px"></i>
<i style="--g:#0000 25.5px,#0000 0,#0038ffac 29px,#1affe5ac 31.2px,#ff4c00ac 33px,#2effd1ac 35px,#ff7400 0,#ff7e00 53px,#ff9c00 58.7px,#ffff00 61.5px,#00ffff 66px,#00d1ff 67px,#004dff 68.7px,#0000ff 74px,#0000e6 76px,#0000e6cc 76.3px,#0000e680 79.4px,#0000 83px"></i>
<i style="--g:#0000 25.5px,#0000 0,#0038ffac 29px,#1affe5ac 31.6px,#ff4c00ac 33.6px,#2effd1ac 35.6px,#ff7500 0,#ff7f00 53px,#ff9d00 58.8px,#ffff00 61.5px,#00ffff 66px,#00d1ff 67px,#004dff 68.8px,#0000ff 74px,#0000e6 76px,#0000e6cc 76.4px,#0000e680 79.4px,#0000 83px"></i>
<i style="--g:#0000 25.5px,#0000 0,#0038ffac 30.3px,#1affe5ac 33.8px,#ff4c00ac 36.6px,#2effd1ac 39.3px,#ff7500 0,#ff8000 53.2px,#ff9e00 59px,#ffff00 61.6px,#00ffff 66px,#00d1ff 67px,#004dff 69px,#0000ff 74px,#0000e6 76px,#0000e6cc 76.4px,#0000e680 79.5px,#0000 83px"></i>
<i style="--g:#0000 25.5px,#0000 0,#0038ffac 33.8px,#1affe5ac 39.7px,#ff4c00ac 44.4px,#2effd1ac 49px,#ff7c00 0,#ff8000 53.2px,#ff9e00 59px,#ffff00 61.6px,#00ffff 66px,#00d1ff 67px,#004dff 69px,#0000ff 74px,#0000e6 76px,#0000e6cc 76.4px,#0000e680 79.5px,#0000 83px"></i>
<i style="--g:#0000 25.5px,#0000 0,#0038ffac 36.3px,#1affe5ac 44px,#ff4c00ac 50.3px,#2effd1ac 56.5px,#ff9100 0,#ff9e00 59px,#ffff00 61.6px,#00ffff 66px,#00d1ff 67px,#004dff 69px,#0000ff 74px,#0000e6 76px,#0000e6cc 76.4px,#0000e680 79.5px,#0000 83px"></i>
<i style="--g:#0000 25.5px,#0000 0,#0038ffac 36.3px,#1affe5ac 44px,#ff4c00ac 50.3px,#2effd1ac 56.5px,#ff9100 0,#ff9e00 59px,#ffff00 61.6px,#00ffff 66px,#00d1ff 67px,#004dff 69px,#0000ff 74px,#0000e6 76px,#0000e6cc 76.4px,#0000e680 79.5px,#0000 83px"></i>
</div>
<div class="p" style="left:407.30px;top:236px;width:85.15px">
<i style="--g:#0000 22.7px,#0000 0,#4dffb2f2 24.7px,#faff05f2 26.7px,#ff0500f2 28.7px,#b30000f2 32.7px,#ff1a00 0,#ff1a00 37px,#ffb300 40.5px,#ffff00 41.7px,#4dffb2 47.8px,#00ffff 52.5px,#00e5ff 53.8px,#0038ffe6 55.8px,#001aff66 56.5px,#0000 64.7px"></i>
<i style="--g:#0000 22.7px,#0000 0,#4dffb2f1 24.7px,#faff05f2 26.7px,#ff0500f2 28.7px,#b30000f2 32.7px,#ff1a00 0,#ff1a00 37px,#ffb300 40.6px,#ffff00 42px,#4dffb2 48px,#00ffff 52.6px,#00e5ff 54px,#0038ffe6 56px,#001aff66 56.6px,#0000 64.7px"></i>
<i style="--g:#0000 22.7px,#0000 0,#4dffb2f1 24.7px,#faff05f2 26.7px,#ff0500f2 28.7px,#b30000f2 32.6px,#ff1a00 0,#ff1a00 37px,#ffb300 40.7px,#ffff00 42px,#4dffb2 48px,#00ffff 52.7px,#00e5ff 54px,#0038ffe6 56px,#001aff66 56.7px,#0000 65px"></i>
<i style="--g:#0000 22.7px,#0000 0,#4dffb2f0 24.7px,#faff05f2 26.7px,#ff0500f2 28.7px,#b30000f2 32.6px,#ff1a00 0,#ff1a00 37.3px,#ffb300 41px,#ffff00 42px,#4dffb2 48px,#00ffff 52.8px,#00e5ff 54px,#0038ffe6 56px,#001aff66 56.8px,#0000 65px"></i>
<i style="--g:#0000 22.7px,#0000 0,#4dffb2f0 24.7px,#faff05f2 26.7px,#ff0500f2 28.7px,#b30000f2 32.6px,#ff1a00 0,#ff1a00 37.4px,#ffb300 41px,#ffff00 42px,#4dffb2 48px,#00ffff 53px,#00e5ff 54px,#0038ffe6 56px,#001aff66 57px,#0000 65px"></i>
<i style="--g:#0000 22.7px,#0000 0,#4dffb2ef 24.7px,#faff05f2 26.7px,#ff0500f2 28.6px,#b30000f2 32.6px,#ff1a00 0,#ff1a00 37.5px,#ffb300 41px,#ffff00 42.2px,#4dffb2 48.3px,#00ffff 53px,#00e5ff 54.3px,#0038ffe6 56.3px,#001aff66 57px,#0000 65px"></i>
<i style="--g:#0000 22.7px,#0000 0,#4dffb2ef 24.7px,#faff05f2 26.7px,#ff0500f2 28.6px,#b30000f2 32.6px,#ff1a00 0,#ff1a00 37.6px,#ffb300 41px,#ffff00 42.3px,#4dffb2 48.4px,#00ffff 53px,#00e5ff 54.4px,#0038ffe6 56.4px,#001aff66 57px,#0000 65.2px"></i>
<i style="--g:#0000 22.7px,#0000 0,#4dffb2ee 24.7px,#faff05f2 26.7px,#ff0500f2 28.6px,#b30000f2 32.5px,#ff1100 0,#ff1100 37px,#ffae00 41px,#ffff00 42px,#4affb5 48px,#00fffffe 52.7px,#00ddfffd 54.4px,#0033ffe6 56.4px,#0015ff6c 57px,#0000 65.2px"></i>
<i style="--g:#0000 22.7px,#0000 0,#4dffb2ee 24.7px,#faff05f2 26.7px,#ff0500f2 28.6px,#b30000f2 32.5px,#ff0300 0,#ff0300 36.4px,#ff4d00 38.7px,#ffa700 40.5px,#ffff00 42px,#46ffb9 47.4px,#00fffffb 52px,#00cffff9 54.2px,#002bffe6 56.4px,#000eff77 57px,#0000 65px"></i>
<i style="--g:#0000 22.7px,#0000 0,#4dffb2ed 24.7px,#faff05f2 26.6px,#ff0500f2 28.6px,#b30000f2 32.5px,#f40000 0,#f40000 35.7px,#ff4000 38.2px,#ffa000 40px,#ffff00 41.5px,#93ff6c 44px,#42ffbd 46.8px,#00fffffa 51.7px,#00c1fff6 54px,#0022ffe6 56.4px,#0007ff81 57px,#0000 65px"></i>
<i style="--g:#0000 22.7px,#0000 0,#4dffb2ed 24.7px,#faff05f2 26.6px,#ff0500f2 28.6px,#b30000f2 32.5px,#e60000 0,#e60000 35px,#ff0000 36px,#ff3300 37.8px,#ff9900 39.7px,#ffff00 41px,#8fff70 43.7px,#3dffc2 46px,#00fffff8 51.2px,#00b3fff2 54px,#001affe6 56.4px,#0000ff8c 57px,#0000 65px"></i>
<i style="--g:#0000 22.7px,#0000 0,#4dffb2ec 24.7px,#faff05f2 26.6px,#ff0500f2 28.6px,#b30000f2 32.4px,#d80000 0,#d80000 34px,#ff0000 35.8px,#ff2700 37.3px,#ff9200 39.3px,#ffff00 41px,#8bff74 43.3px,#39ffc6 45.6px,#00fffff7 51px,#00fffff7 0,#00a5ffef 54px,#0011ffe6 56.4px,#0000f897 57px,#0000 65px"></i>
<i style="--g:#0000 22.7px,#0000 0,#4dffb2ec 24.7px,#faff05f2 26.6px,#ff0500f2 28.6px,#b30000f2 32.4px,#ca0000 0,#ca0000 33.4px,#ff0000 35.7px,#ff1a00 37px,#ff8b00 39px,#ffff00 40.6px,#86ff79 42.8px,#35ffca 45px,#00f9fff5 50.6px,#0097ffeb 53.7px,#0009ffe6 56.4px,#0000f1a1 57px,#0000 65px"></i>
<i style="--g:#0000 22.7px,#0000 0,#4dffb2eb 24.7px,#faff05f2 26.6px,#ff0500f2 28.5px,#b30000f2 32.4px,#bc0000 0,#ff0000 35.8px,#ff0d00 36.4px,#ff8400 38.5px,#ffff00 40.2px,#82ff7d 42.3px,#31ffce 44.3px,#00f3fff3 50.4px,#0089ffe8 53.6px,#0000ffe6 56.3px,#0000ffe5 0,#0000eaac 57px,#0000 65px"></i>
<i style="--g:#0000 22.8px,#0000 0,#4dffb2eb 24.7px,#faff05f2 26.6px,#ff0500f2 28.5px,#b30000f2 32.4px,#b50000 0,#ff0600 36.2px,#ff7f00 38.4px,#ffff00 40.2px,#80ff80 42.2px,#2dffd2 44px,#00fffff6 49px,#00effff3 50.5px,#007effe6 53.6px,#0000f9e6 56.5px,#0000e6b3 57px,#0000e667 60.8px,#0000 65px"></i>
<i style="--g:#0000 22.8px,#0000 0,#4dffb2ea 24.7px,#faff05f2 26.6px,#ff0500f2 28.6px,#b30000f2 32.4px,#ba0000 0,#ff0a00 36.6px,#ff7e00 39px,#ffff00 40.8px,#80ff80 43px,#2cffd3 44.8px,#00fffff7 49px,#00edfff3 51px,#0000f8e8 57px,#0000e6b5 57.4px,#0000e668 61.3px,#0000 65.7px"></i>
<i style="--g:#0000 23px,#0000 0,#4dffb2ea 24.7px,#faff05f2 26.7px,#ff0500f2 28.6px,#b30000f2 32.4px,#c00000 0,#c00000 33px,#ff0000 36.2px,#ff0d00 37px,#ff7c00 39.3px,#ffff00 41.4px,#80ff80 43.4px,#2bffd4 45.4px,#00fffff8 49.4px,#00ebfff4 51.3px,#0000f7ea 57.3px,#0000e6b7 57.8px,#0000e66a 62px,#0000 66.4px"></i>
<i style="--g:#0000 23px,#0000 0,#4dffb2e9 24.8px,#faff05f2 26.7px,#ff0500f2 28.6px,#b30000f2 32.5px,#c50000 0,#c50000 33.4px,#ff0000 36.4px,#ff1100 37.2px,#ff7b00 39.8px,#ffff00 42px,#80ff80 44px,#29ffd6 46px,#00fffff9 49.7px,#00e9fff5 51.7px,#0000f5eb 57.7px,#0000e6b8 58px,#0000e66c 62.4px,#0000 67px"></i>
<i style="--g:#0000 23px,#0000 0,#4dffb2e9 24.8px,#faff05f2 26.7px,#ff0500f2 28.6px,#b30000f2 32.5px,#cb0000 0,#cb0000 33.8px,#ff0000 36.5px,#ff1400 37.6px,#ff7900 40.2px,#ffff00 42.5px,#80ff80 44.7px,#28ffd7 46.6px,#00fffff9 50px,#00e6fff6 52px,#0000ffed 57.8px,#0000f4ed 58px,#0000e6ba 58.6px,#0000e66e 63px,#0000 67.7px"></i>
<i style="--g:#0000 23px,#0000 0,#4dffb2e8 24.8px,#faff05f2 26.7px,#ff0500f2 28.7px,#b30000f2 32.5px,#d10000 0,#d10000 34px,#ff0000 36.6px,#ff1800 38px,#ff7800 40.7px,#ffff00 43px,#80ff80 45.3px,#26ffd9 47.3px,#00fffffa 50.3px,#00e4fff7 52.5px,#006dffef 55px,#0000ffef 58px,#0000f2ef 58.5px,#0000e6bc 59px,#0000e66f 63.5px,#0000 68.3px"></i>
<i style="--g:#0000 23px,#0000 0,#4dffb2e8 25px,#faff05f2 26.7px,#ff0500f2 28.7px,#b30000f2 32.5px,#d60000 0,#d60000 34.5px,#ff0000 36.7px,#ff1c00 38.2px,#ff7700 41px,#ffff00 43.6px,#80ff80 46px,#25ffda 48px,#00fffffb 50.7px,#00e2fff8 53px,#0069fff1 55.4px,#0000fff1 58.5px,#0000f1f1 59px,#0000e6be 59.4px,#0000e671 64px,#0000 69px"></i>
<i style="--g:#0000 23px,#0000 0,#4dffb2e7 25px,#faff05f2 26.8px,#ff0500f2 28.7px,#b30000f2 32.6px,#dc0000 0,#dc0000 35px,#ff0000 36.8px,#ff1f00 38.5px,#ff7500 41.6px,#ffff00 44px,#80ff80 46.5px,#24ffdb 48.5px,#00fffffc 51px,#00e0fff9 53.3px,#0066fff2 55.7px,#0000fff2 59px,#0000f0f2 59.3px,#0000e6bf 60px,#0000e673 64.6px,#0000 69.6px"></i>
<i style="--g:#0000 23px,#0000 0,#4dffb2e7 25px,#faff05f2 26.8px,#ff0500f2 28.7px,#b30000f2 32.6px,#e20000 0,#e20000 35px,#ff0000 37px,#ff2300 39px,#ff7400 42px,#ffff00 44.8px,#22ffdd 49px,#00fffffc 51.4px,#00defffa 53.7px,#0062fff4 56px,#0000fff4 59px,#0000eef4 59.7px,#0000e6c1 60.2px,#0000e675 65px,#0000 70.3px"></i>
<i style="--g:#0000 23px,#0000 0,#4dffb2e6 25px,#faff05f2 27px,#ff0500f2 28.7px,#b30000f2 32.6px,#e70000 0,#e70000 35.5px,#ff0000 37px,#ff7200 42.5px,#ffff00 45.3px,#21ffde 49.8px,#00fffffd 52px,#00dcfffb 54px,#005efff6 56.4px,#0000fff6 59.5px,#0000edf6 60px,#0000e6c3 60.6px,#0000e677 65.7px,#0000 71px"></i>
<i style="--g:#0000 23px,#0000 0,#4dffb2e6 25px,#faff05f2 27px,#ff0500f2 28.8px,#b30000f2 32.6px,#ed0000 0,#ed0000 36px,#ff0000 37px,#ff7100 43px,#ffff00 46px,#1fffe0 50.4px,#00fffffd 52.3px,#00dafffb 54.5px,#005bfff8 56.7px,#0000fff8 60px,#0000ebf8 60.5px,#0000e6c5 61px,#0000e678 66.3px,#0000 71.6px"></i>
<i style="--g:#0000 23px,#0000 0,#4dffb2e2 25px,#faff05f2 27px,#ff0500f2 28.8px,#b30000f2 32.6px,#f30000 0,#f30000 36.2px,#ff0000 37px,#ff6f00 43.4px,#ffff00 46.5px,#1effe1 51px,#00fffffe 52.7px,#00d8fffc 55px,#0057fffa 57px,#0000fffa 60px,#0000eafa 61px,#0000e6c7 61.4px,#0000e67a 67px,#0000 72.2px"></i>
<i style="--g:#0000 23px,#0000 0,#4dffb2de 25px,#faff05f2 27px,#ff0500f2 29px,#b30000f2 32.7px,#f80000 0,#ff0000 37px,#ff6e00 44px,#ffff00 47px,#1cffe3 51.6px,#00fffffe 53px,#00d6fffd 55.3px,#0054fffb 57.3px,#0000fffb 60.5px,#0000e8fb 61.3px,#0000e6c8 62px,#0000e67c 67.4px,#0000 73px"></i>
<i style="--g:#0000 23px,#0000 0,#4dffb2d9 25px,#faff05f2 27px,#ff0500f2 29px,#b30000f2 32.7px,#fe0000 0,#ff0000 37px,#ff6d00 44.3px,#ffff00 47.6px,#1bffe4 52.3px,#00ffff 53.6px,#00d3fffe 55.7px,#0050fffd 57.6px,#0000fffd 60.8px,#0000e7fd 61.7px,#0000e6ca 62.2px,#0000e67e 68px,#0000 73.5px"></i>
<i style="--g:#0000 23px,#0000 0,#4dffb2d5 25px,#faff05f2 27px,#ff0500f2 29px,#b30000f2 32.7px,#ff0500 0,#ff0500 37.3px,#ff6b00 44.7px,#ffff00 48px,#1affe5 53px,#00ffff 54px,#00d1ff 56px,#004dff 58px,#0000ff 61px,#0000e6 62px,#0000e6cc 62.6px,#0000e67f 68.5px,#0000 74px"></i>
<i style="--g:#0000 23px,#0000 0,#4dffb2d1 25px,#faff05f2 27px,#ff0500f2 29px,#b30000f2 32.7px,#ff0700 0,#ff0700 37.5px,#ff6c00 45.2px,#ffff00 48.7px,#1affe5 53.4px,#00ffff 54.6px,#00d1ff 56.6px,#004dff 58.4px,#0000ff 61.6px,#0000e6 62.7px,#0000e6cc 63.2px,#0000e680 69px,#0000 74.6px"></i>
<i style="--g:#0000 23px,#0000 0,#4dffb2cc 25px,#faff05f2 27px,#ff0500f2 29px,#b30000f2 32.7px,#ff0900 0,#ff0900 37.7px,#ff6c00 45.8px,#ffff00 49.2px,#1affe5 54px,#00ffff 55px,#00d1ff 57px,#004dff 59px,#0000ff 62.2px,#0000e6 63.3px,#0000e6cc 64px,#0000e680 69.5px,#0000 75px"></i>
<i style="--g:#0000 23.2px,#0000 0,#4dffb2c8 25px,#faff05f2 27px,#ff0500f2 29px,#b30000f2 32.7px,#ff0b00 0,#ff0b00 38px,#ff6d00 46.3px,#ffff00 49.8px,#1affe5 54.5px,#00ffff 55.6px,#00d1ff 57.6px,#004dff 59.4px,#0000ff 63px,#0000e6 64px,#0000e6cc 64.4px,#0000e680 70px,#0000 75.6px"></i>
<i style="--g:#0000 23.3px,#0000 0,#4dffb2c3 25px,#faff05f2 27px,#ff0500f2 29px,#b30000f2 32.6px,#ff0d00 0,#ff0d00 38px,#ff6e00 46.8px,#ffff00 50.3px,#1affe5 55px,#00ffff 56px,#00d1ff 58px,#004dff 60px,#0000ff 63.4px,#0000e6 64.5px,#0000e6cc 65px,#0000e680 70.5px,#0000 76px"></i>
<i style="--g:#0000 23.3px,#0000 0,#4dffb2bf 25px,#faff05f2 27px,#ff0500f2 29px,#b30000f2 32.6px,#ff1000 0,#ff1000 38.4px,#ff6f00 47.3px,#ffff00 51px,#1affe5 55.6px,#00ffff 56.7px,#00d1ff 58.6px,#004dff 60.4px,#0000ff 64px,#0000e6 65px,#0000e6cc 65.7px,#0000e680 71px,#0000 76.5px"></i>
<i style="--g:#0000 23.4px,#0000 0,#4dffb2ba 25.2px,#faff05f2 27px,#ff0500f2 29px,#b30000f2 32.6px,#ff1200 0,#ff1200 38.6px,#ff6f00 48px,#ffff00 51.4px,#1affe5 56px,#00ffff 57.2px,#00d1ff 59px,#004dff 61px,#0000ff 64.6px,#0000e6 65.8px,#0000e6cc 66.3px,#0000e680 71.6px,#0000 77px"></i>
<i style="--g:#0000 23.4px,#0000 0,#4dffb2b6 25.2px,#faff05f2 27px,#ff0500f2 29px,#b30000f2 32.6px,#ff1400 0,#ff1400 39px,#ff7000 48.3px,#ffff00 52px,#1affe5 56.7px,#00ffff 57.7px,#00d1ff 59.7px,#004dff 61.4px,#0000ff 65px,#0000e6 66.4px,#0000e6cc 67px,#0000e680 72px,#0000 77.4px"></i>
<i style="--g:#0000 23.5px,#0000 0,#4dffb2b1 25.3px,#faff05f0 27px,#ff0500f0 29px,#b30000f0 32.5px,#ff1600 0,#ff1600 39px,#ff7100 49px,#ffff00 52.4px,#1affe5 57.2px,#00ffff 58.3px,#00d1ff 60px,#004dff 62px,#0000ff 65.7px,#0000e6 67px,#0000e6cc 67.5px,#0000e680 72.6px,#0000 78px"></i>
<i style="--g:#0000 23.5px,#0000 0,#4dffb2ad 25.3px,#faff05ea 27px,#ff0500ea 29px,#b30000ea 32.5px,#ff1800 0,#ff1800 39.3px,#ff7100 49.3px,#ffff00 53px,#1affe5 57.8px,#00ffff 59px,#00d1ff 60.7px,#004dff 62.5px,#0000ff 66.3px,#0000e6 67.6px,#0000e6cc 68px,#0000e680 73px,#0000 78.3px"></i>
<i style="--g:#0000 23.6px,#0000 0,#4dffb2a9 25.3px,#faff05e4 27px,#ff0500e4 29px,#b30000e4 32.5px,#ff1a00 0,#ff1a00 39.5px,#ff7200 50px,#ffff00 53.5px,#1affe5 58.3px,#00ffff 59.3px,#00d1ff 61px,#004dff 63px,#0000ff 67px,#0000e6 68.2px,#0000e6cc 68.7px,#0000e680 73.6px,#0000 79px"></i>
<i style="--g:#0000 23.6px,#0000 0,#4dffb2a4 25.4px,#faff05de 27px,#ff0500de 29px,#b30000de 32.5px,#ff1c00 0,#ff1c00 39.7px,#ff7300 50.4px,#ffff00 54px,#1affe5 59px,#00ffff 60px,#00d1ff 61.7px,#004dff 63.5px,#0000ff 67.5px,#0000e6 69px,#0000e6cc 69.3px,#0000e680 74px,#0000 79.3px"></i>
<i style="--g:#0000 23.6px,#0000 0,#4dffb2a0 25.4px,#faff05d8 27px,#ff0500d8 29px,#b30000d8 32.4px,#ff1e00 0,#ff1e00 40px,#ff7400 51px,#ffff00 54.6px,#1affe5 59.4px,#00ffff 60.4px,#00d1ff 62.2px,#004dff 64px,#0000ff 68px,#0000e6 69.4px,#0000e6cc 70px,#0000e680 74.6px,#0000 79.7px"></i>
<i style="--g:#0000 23.7px,#0000 0,#4dffb29b 25.4px,#faff05d2 27px,#ff0500d2 29px,#b30000d2 32.4px,#ff2000 0,#ff2000 40px,#ff7400 51.4px,#ffff00 55px,#1affe5 60px,#00ffff 61px,#00d1ff 62.7px,#004dff 64.5px,#0000ff 68.7px,#0000e6 70px,#0000e6cc 70.5px,#0000e680 75px,#0000 80px"></i>
<i style="--g:#0000 23.7px,#0000 0,#4dffb298 25.5px,#faff05ce 27.2px,#ff0500ce 29px,#b30000ce 32.4px,#ff2300 0,#ff2300 40.3px,#ff7500 52px,#ffff00 55.6px,#1affe5 60.5px,#00ffff 61.5px,#00d1ff 63.2px,#004dff 65px,#0000ff 69.2px,#0000e6 70.6px,#0000e6cc 71px,#0000e680 75.7px,#0000 80.7px"></i>
<i style="--g:#0000 23.8px,#0000 0,#4dffb297 25.5px,#faff05cc 27.2px,#ff0500cc 29px,#b30000cc 32.4px,#ff2600 0,#ff2600 40.4px,#ff7600 52.3px,#ffff00 56px,#1affe5 61px,#00ffff 62px,#00d1ff 63.6px,#004dff 65.4px,#0000ff 69.7px,#0000e6 71px,#0000e6cc 71.6px,#0000e680 76px,#0000 81px"></i>
<i style="--g:#0000 24px,#0000 0,#4dffb296 25.6px,#faff05cb 27.3px,#ff0500cb 29px,#b30000cb 32.6px,#ff2b00 0,#ff2b00 40.4px,#ff7800 52.7px,#ffff00 56.4px,#1affe5 61.2px,#00ffff 62px,#00d1ff 64px,#004dff 65.6px,#0000ff 70px,#0000e6 71.4px,#0000e6cc 72px,#0000e680 76.2px,#0000 81px"></i>
<i style="--g:#0000 24px,#0000 0,#4dffb295 25.7px,#faff05c9 27.4px,#ff0500c9 29.2px,#b30000c9 32.8px,#ff3000 0,#ff3000 40.3px,#ff7b00 53px,#ffff00 56.8px,#1affe5 61.5px,#00ffff 62.4px,#00d1ff 64px,#004dff 65.8px,#0000ff 70.2px,#0000e6 71.7px,#0000e6cc 72px,#0000e680 76.4px,#0000 81px"></i>
<i style="--g:#0000 24px,#0000 0,#4dffb294 25.8px,#faff05c8 27.6px,#ff0500c8 29.3px,#b30000c8 33px,#ff3500 0,#ff3500 40.3px,#ff7d00 53.4px,#ffff00 57px,#1affe5 62px,#00ffff 62.7px,#00d1ff 64.3px,#004dff 66px,#0000ff 70.5px,#0000e6 72px,#0000e6cc 72.5px,#0000e680 76.6px,#0000 81.2px"></i>
<i style="--g:#0000 24px,#0000 0,#4dffb293 26px,#faff05c6 27.7px,#ff0500c6 29.5px,#b30000c6 33px,#ff3a00 0,#ff3a00 40.2px,#ff7f00 54px,#ffff00 57.5px,#80ff80 60px,#00ffff 63px,#00d1ff 64.5px,#004dff 66px,#0000ff 70.7px,#0000e6 72.3px,#0000e6cc 72.8px,#0000e680 77px,#0000 81.3px"></i>
<i style="--g:#0000 24px,#0000 0,#4dffb292 26px,#faff05c5 27.8px,#ff0500c5 29.6px,#b30000c5 33.3px,#ff3f00 0,#ff3f00 40px,#ff8100 54px,#ffff00 57.8px,#80ff80 60.2px,#00ffff 63.3px,#00d1ff 64.7px,#004dff 66.4px,#0000ff 71px,#0000e6 72.6px,#0000e6cc 73px,#0000e680 77px,#0000 81.4px"></i>
<i style="--g:#0000 24px,#0000 0,#4dffb291 26px,#faff05c3 28px,#ff0500c3 29.7px,#b30000c3 33.5px,#ff4400 0,#ff4400 40px,#ff5f00 48.7px,#ff8300 54.5px,#ffff00 58px,#80ff80 60.5px,#00ffff 63.6px,#00d1ff 65px,#004dff 66.6px,#0000ff 71.3px,#0000e6 73px,#0000e6cc 73.4px,#0000e680 77px,#0000 81.5px"></i>
<i style="--g:#0000 24.2px,#0000 0,#4dffb290 26px,#faff05c2 28px,#ff0500c2 30px,#b30000c2 33.7px,#ff4900 0,#ff4900 40px,#ff6200 49px,#ff8500 55px,#ffff00 58.5px,#80ff80 61px,#00ffff 64px,#00d1ff 65px,#004dff 66.8px,#0000ff 71.6px,#0000e6 73px,#0000e6cc 73.7px,#0000e680 77.4px,#0000 81.6px"></i>
<i style="--g:#0000 24.3px,#0000 0,#4dffb28e 26px,#faff05c0 28px,#ff0500c0 30px,#b30000c0 34px,#ff4e00 0,#ff6400 49.5px,#ff8700 55.3px,#ffff00 59px,#80ff80 61px,#00ffff 64px,#00d1ff 65.4px,#004dff 67px,#0000ff 72px,#0000e6 73.5px,#0000e6cc 74px,#0000e680 77.6px,#0000 81.7px"></i>
<i style="--g:#0000 24.3px,#0000 0,#4dffb28d 26.3px,#faff05bf 28px,#ff0500bf 30px,#b30000bf 34px,#ff5300 0,#ff6700 50px,#ff8900 55.6px,#ffff00 59px,#80ff80 61.5px,#00ffff 64.4px,#00d1ff 65.6px,#004dff 67px,#0000ff 72px,#0000e6 73.8px,#0000e6cc 74.3px,#0000e680 77.8px,#0000 82px"></i>
<i style="--g:#0000 24.4px,#0000 0,#4dffb28c 26.3px,#faff05bd 28.3px,#ff0500bd 30.3px,#b30000bd 34px,#ff5800 0,#ff6a00 50.2px,#ff8c00 56px,#ffff00 59.5px,#80ff80 62px,#00ffff 64.7px,#00d1ff 66px,#004dff 67.3px,#0000ff 72.4px,#0000e6 74px,#0000e6cc 74.5px,#0000e680 78px,#0000 82px"></i>
<i style="--g:#0000 24.4px,#0000 0,#4dffb28b 26.4px,#faff05bc 28.4px,#ff0500bc 30.4px,#b30000bc 34.4px,#ff5c00 0,#ff6d00 50.6px,#ff8e00 56.4px,#ffff00 60px,#80ff80 62px,#00ffff 65px,#00d1ff 66px,#004dff 67.5px,#0000ff 72.6px,#0000e6 74.3px,#0000e6cc 75px,#0000e680 78px,#0000 82px"></i>
<i style="--g:#0000 24.5px,#0000 0,#4dffb28a 26.5px,#faff05ba 28.5px,#ff0500ba 30.5px,#b30000ba 34.5px,#ff6100 0,#ff7000 51px,#ff9000 56.8px,#ffff00 60px,#80ff80 62.5px,#00ffff 65.2px,#00d1ff 66.3px,#004dff 67.7px,#0000ff 73px,#0000e6 74.6px,#0000e6cc 75px,#0000e680 78.4px,#0000 82px"></i>
<i style="--g:#0000 24.6px,#0000 0,#4dffb289 26.6px,#faff05b9 28.6px,#ff0500b9 30.7px,#b30000b9 34.7px,#ff6600 0,#ff7300 51.4px,#ff9200 57px,#ffff00 60.5px,#00ffff 65.5px,#00d1ff 66.5px,#004dff 68px,#0000ff 73px,#0000e6 75px,#0000e6cc 75.4px,#0000e680 78.6px,#0000 82.2px"></i>
<i style="--g:#0000 24.6px,#0000 0,#4dffb288 26.7px,#faff05b7 28.7px,#ff0500b7 30.8px,#b30000b7 35px,#ff6b00 0,#ff7500 52px,#ff9400 57.5px,#ffff00 61px,#00ffff 65.8px,#00d1ff 66.7px,#004dff 68px,#0000ff 73.4px,#0000e6 75.2px,#0000e6cc 75.7px,#0000e680 78.8px,#0000 82.3px"></i>
<i style="--g:#0000 25px,#0000 0,#4dffb287 27px,#faff05b6 29px,#ff0500b6 31px,#b30000b6 35px,#ff6c00 0,#ff7600 52px,#ff9500 57.6px,#ffff00 61px,#00ffff 66px,#00d1ff 66.7px,#004dff 68px,#0000ff 73.5px,#0000e6 75.3px,#0000e6cc 75.8px,#0000e680 79px,#0000 82.4px"></i>
<i style="--g:#0000 25.4px,#0000 0,#4dffb286 27.4px,#faff05b4 29.4px,#ff0500b4 31.3px,#b30000b4 35.2px,#ff6d00 0,#ff7700 52px,#ff9600 57.7px,#ffff00 61px,#00ffff 66px,#00d1ff 66.8px,#004dff 68.3px,#0000ff 73.6px,#0000e6 75.3px,#0000e6cc 76px,#0000e680 79px,#0000 82.4px"></i>
<i style="--g:#0000 26px,#0000 0,#4dffb285 28px,#faff05b3 29.7px,#ff0500b3 31.6px,#b30000b3 35.4px,#ff6e00 0,#ff7800 52px,#ff9700 58px,#ffff00 61px,#00ffff 66px,#00d1ff 67px,#004dff 68.3px,#0000ff 73.6px,#0000e6 75.4px,#0000e6cc 76px,#0000e680 79px,#0000 82.5px"></i>
<i style="--g:#0000 26.4px,#0000 0,#4dffb283 28.2px,#faff05b1 30px,#ff0500b1 32px,#b30000b1 35.6px,#ff6f00 0,#ff7900 52.3px,#ff9800 58px,#ffff00 61px,#00ffff 66px,#00d1ff 67px,#004dff 68.4px,#0000ff 73.7px,#0000e6 75.5px,#0000e6cc 76px,#0000e680 79px,#0000 82.6px"></i>
<i style="--g:#0000 27px,#0000 0,#4dffb282 28.6px,#faff05b0 30.4px,#ff0500b0 32px,#b30000b0 35.7px,#ff7000 0,#ff7a00 52.5px,#ff9900 58px,#ffff00 61.2px,#00ffff 66px,#00d1ff 67px,#004dff 68.5px,#0000ff 73.8px,#0000e6 75.5px,#0000e6cc 76px,#0000e680 79px,#0000 82.6px"></i>
<i style="--g:#0000 27.3px,#0000 0,#4dffb281 29.4px,#faff05ae 31.4px,#ff0500ae 33.4px,#b30000ae 37.4px,#ff7100 0,#ff7b00 52.6px,#ff9a00 58.3px,#ffff00 61.3px,#00ffff 66px,#00d1ff 67px,#004dff 68.5px,#0000ff 74px,#0000e6 75.6px,#0000e6cc 76px,#0000e680 79px,#0000 82.7px"></i>
<i style="--g:#0000 28px,#0000 0,#4dffb280 30.3px,#faff05ad 33px,#ff0500ad 35.4px,#b30000ad 40.4px,#ff7200 0,#ff7c00 52.7px,#ff9b00 58.4px,#ffff00 61.3px,#00ffff 66px,#00d1ff 67px,#004dff 68.6px,#0000ff 74px,#0000e6 75.7px,#0000e6cc 76px,#0000e680 79.2px,#0000 82.8px"></i>
<i style="--g:#0000 29px,#0000 0,#4dffb280 32px,#faff05ac 35px,#ff0500ac 37.7px,#b30000ac 43.5px,#ff7600 0,#ff7d00 53px,#ff9b00 58.5px,#ffff00 61.4px,#00ffff 66px,#00d1ff 67px,#004dff 68.6px,#0000ff 74px,#0000e6 75.7px,#0000e6cc 76.2px,#0000e680 79.3px,#0000 83px"></i>
<i style="--g:#0000 31.3px,#0000 0,#4dffb280 34.3px,#faff05ac 37.4px,#ff0500ac 40.4px,#b30000ac 46.5px,#ff7900 0,#ff7e00 53px,#ff9c00 58.7px,#ffff00 61.5px,#00ffff 66px,#00d1ff 67px,#004dff 68.7px,#0000ff 74px,#0000e6 76px,#0000e6cc 76.3px,#0000e680 79.4px,#0000 83px"></i>
<i style="--g:#0000 33.4px,#0000 0,#4dffb280 36.8px,#faff05ac 40px,#ff0500ac 43.5px,#b30000ac 50px,#ff7d00 0,#ff9d00 58.8px,#ffff00 61.5px,#00ffff 66px,#00d1ff 67px,#004dff 68.8px,#0000ff 74px,#0000e6 76px,#0000e6cc 76.4px,#0000e680 79.4px,#0000 83px"></i>
<i style="--g:#0000 34px,#0000 0,#4dffb280 38px,#faff05ac 42.2px,#ff0500ac 46.3px,#b30000ac 54.4px,#ff8600 0,#ff9e00 59px,#ffff00 61.6px,#00ffff 66px,#00d1ff 67px,#004dff 69px,#0000ff 74px,#0000e6 76px,#0000e6cc 76.4px,#0000e680 79.5px,#0000 83px"></i>
<i style="--g:#0000 34px,#0000 0,#4dffb280 39px,#faff05ac 44px,#ff0500ac 48.8px,#b30000ac 58.5px,#ff9c00 0,#ffff00 61.6px,#00ffff 66px,#00d1ff 67px,#004dff 69px,#0000ff 74px,#0000e6 76px,#0000e6cc 76.4px,#0000e680 79.5px,#0000 83px"></i>
<i style="--g:#0000 34px,#0000 0,#4dffb280 39.4px,#faff05ac 44.8px,#ff0500ac 50px,#b30000ac 60.8px,#ffe100 0,#ffff00 61.6px,#00ffff 66px,#00d1ff 67px,#004dff 69px,#0000ff 74px,#0000e6 76px,#0000e6cc 76.4px,#0000e680 79.5px,#0000 83px"></i>
<i style="--g:#0000 34px,#0000 0,#4dffb280 39.4px,#faff05ac 44.8px,#ff0500ac 50px,#b30000ac 60.8px,#ffe100 0,#ffff00 61.6px,#00ffff 66px,#00d1ff 67px,#004dff 69px,#0000ff 74px,#0000e6 76px,#0000e6cc 76.4px,#0000e680 79.5px,#0000 83px"></i>
</div>
<div class="p" style="left:27.30px;top:347px;width:85.15px">
<i style="--g:#0000 32.4px,#0000 0,#004dff26 32.7px,#b30000 0,#b30000 36.3px,#ff0500 39.8px,#ff8000 42px,#ffff00 44.7px,#6bff94 53px,#00ffffd6 57px,#0080ff99 59.7px,#004dff66 63px,#0000 68.2px"></i>
<i style="--g:#0000 32.7px,#b30000 0,#b30000 36.4px,#ff0500 40px,#ff8000 42px,#ffff00 44.8px,#6bff94 53px,#00ffffd6 57px,#0080ff99 60px,#004dff66 63px,#0000 68.3px"></i>
<i style="--g:#0000 32.6px,#b30000 0,#b30000 36.5px,#ff0500 40px,#ff8000 42px,#ffff00 45px,#6bff94 53px,#00ffffd6 57px,#0080ff99 60px,#004dff66 63px,#0000 68.4px"></i>
<i style="--g:#0000 32.6px,#b30000 0,#b30000 36.6px,#ff0500 40px,#ff8000 42px,#ffff00 45px,#6bff94 53px,#00ffffd6 57.2px,#0080ff99 60px,#004dff66 63px,#0000 68.5px"></i>
<i style="--g:#0000 32.6px,#b30000 0,#b30000 36.7px,#ff0500 40px,#ff8000 42.2px,#ffff00 45px,#6bff94 53.2px,#00ffffd6 57.3px,#0080ff99 60px,#004dff66 63.2px,#0000 68.6px"></i>
<i style="--g:#0000 32.6px,#b30000 0,#b30000 36.8px,#ff0500 40.3px,#ff8000 42.3px,#ffff00 45px,#6bff94 53.3px,#00ffffd6 57.4px,#0080ff99 60.2px,#004dff66 63.3px,#0000 68.7px"></i>
<i style="--g:#0000 32.6px,#b30000 0,#b30000 37px,#ff0500 40.4px,#ff8000 42.4px,#ffff00 45.3px,#6bff94 53.4px,#00ffffd6 57.5px,#0080ff99 60.3px,#004dff66 63.4px,#0000 69px"></i>
<i style="--g:#0000 32.5px,#b30000 0,#b30000 37px,#ff0500 40.5px,#ff8000 42.6px,#ffff00 45.3px,#acff53 48.7px,#64ff9b 53px,#00ffffdb 57.2px,#0080ffa2 60px,#0043ff76 63.2px,#0013ff18 68px,#0000 69px"></i>
<i style="--g:#0000 32.5px,#b30000 0,#b30000 37px,#ff0500 40.6px,#ff8000 42.7px,#ffff00 45.3px,#a5ff5a 48.5px,#5bffa4 52.3px,#00ffffdf 57px,#00ffffdf 0,#0080ffad 60px,#0037ff87 63px,#000cff24 67.5px,#0000 69px"></i>
<i style="--g:#0000 32px,#0000 0,#004dff26 32.5px,#b30000 0,#b30000 37px,#ff0500 40.7px,#ffff00 45.3px,#9eff61 48.3px,#53ffac 51.7px,#00fcffe3 56.6px,#0080ffb8 59.7px,#002cff99 62.7px,#0018ff66 64.4px,#0005ff30 67px,#0000 69.3px"></i>
<i style="--g:#0000 30px,#0000 0,#004dff28 32.5px,#b30000 0,#b30000 37px,#ff0500 41px,#ffff00 45.2px,#97ff68 48px,#4affb5 51px,#00f9ffe6 56.4px,#0080ffc2 59.4px,#0021ffab 62.4px,#000cff78 64px,#0000fd3d 67px,#0000 69.5px"></i>
<i style="--g:#0000 28.3px,#0000 0,#004dff29 32.4px,#b30000 0,#b30000 37.2px,#ff0500 41px,#ffff00 45.2px,#90ff6f 47.8px,#42ffbd 50.5px,#00f6ffea 56px,#0015ffbc 62px,#0001ff89 63.3px,#0000 69.6px"></i>
<i style="--g:#0000 26.5px,#0000 0,#004dff2a 32.4px,#b30000 0,#b30000 37.3px,#ff0500 41px,#ffff00 45.2px,#89ff76 47.5px,#39ffc6 50px,#00f3ffee 56px,#000affce 62px,#0000f59b 62.8px,#0000ef55 66.2px,#0000 70px"></i>
<i style="--g:#0000 24.6px,#0000 0,#004dff2c 32.4px,#b30000 0,#b30000 37.4px,#ff0500 41.3px,#ff8000 43.4px,#ffff00 45.2px,#82ff7d 47.3px,#31ffce 49.3px,#00fffff4 54px,#00f1fff1 55.6px,#0080ffe2 58.8px,#0000ffe0 61.6px,#0000fedf 0,#0000e9ac 62.2px,#0000e862 66px,#0000 70px"></i>
<i style="--g:#0000 23.8px,#0000 0,#004dff2d 32.4px,#b60000 0,#b60000 37.5px,#ff0700 41.4px,#ff7f00 43.6px,#ffff00 45.5px,#80ff80 47.5px,#2dffd2 49.4px,#00fffff6 54px,#00eefff3 55.6px,#007dffe7 58.8px,#0000f9e7 61.7px,#0000e6b4 62px,#0000e667 66px,#0000 70.3px"></i>
<i style="--g:#0000 23.8px,#0000 0,#004dff2f 32.4px,#bc0000 0,#bc0000 37.7px,#ff0b00 41.5px,#ff7d00 44px,#ffff00 46px,#80ff80 48px,#2cffd3 50px,#00fffff7 54px,#00ecfff4 56px,#0000f8e8 62px,#0000e6b5 62.4px,#0000e669 66.4px,#0000 71px"></i>
<i style="--g:#0000 23.8px,#0000 0,#004dff30 32.4px,#c20000 0,#c20000 38px,#ff0000 41px,#ff0e00 41.7px,#ff7c00 44px,#ffff00 46.2px,#80ff80 48.3px,#2affd5 50.3px,#00fffff8 54px,#00eafff5 56px,#0000f6ea 62px,#0000e6b7 62.6px,#0000e66b 66.8px,#0000 71.3px"></i>
<i style="--g:#0000 23.8px,#0000 0,#004dff31 32.4px,#c70000 0,#c70000 38px,#ff0000 41px,#ff1200 42px,#ff7a00 44.4px,#ffff00 46.6px,#80ff80 48.8px,#29ffd6 50.7px,#00fffff9 54.3px,#00e8fff5 56.3px,#0000ffec 62px,#0000f5ec 62.3px,#0000e6b9 63px,#0000e66c 67px,#0000 71.7px"></i>
<i style="--g:#0000 23.8px,#0000 0,#004dff33 32.4px,#cd0000 0,#cd0000 38px,#ff0000 41px,#ff1600 42px,#ff7900 44.7px,#ffff00 47px,#80ff80 49px,#27ffd8 51px,#00fffffa 54.4px,#00e6fff6 56.5px,#0000ffee 62.2px,#0000f3ee 62.6px,#0000e6bb 63px,#0000e66e 67.5px,#0000 72.2px"></i>
<i style="--g:#0000 23.8px,#0000 0,#004dff34 32.4px,#d20000 0,#d20000 38.4px,#ff0000 40.8px,#ff1900 42px,#ff7800 45px,#ffff00 47.4px,#80ff80 49.6px,#26ffd9 51.6px,#00fffffa 54.6px,#00e4fff7 56.7px,#006cffef 59.4px,#0000ffef 62.4px,#0000f2ef 62.8px,#0000e6bc 63.3px,#0000e670 68px,#0000 72.7px"></i>
<i style="--g:#0000 23.8px,#0000 0,#004dff35 32.4px,#d80000 0,#d80000 38.5px,#ff0000 40.7px,#ff1d00 42.3px,#ff7600 45.2px,#ffff00 47.8px,#80ff80 50px,#24ffdb 52px,#00fffffb 54.8px,#00e2fff8 57px,#0068fff1 59.5px,#0000fff1 62.6px,#0000f0f1 63px,#0000e6be 63.5px,#0000e672 68.2px,#0000 73px"></i>
<i style="--g:#0000 23.8px,#0000 0,#004dff37 32.4px,#de0000 0,#de0000 38.7px,#ff0000 40.6px,#ff2000 42.4px,#ff7500 45.5px,#ffff00 48px,#80ff80 50.5px,#23ffdc 52.5px,#00fffffc 55px,#00dffff9 57px,#0064fff3 59.6px,#0000fff3 62.7px,#0000eff3 63.2px,#0000e6c0 63.7px,#0000e674 68.6px,#0000 73.6px"></i>
<i style="--g:#0000 23.8px,#0000 0,#004dff38 32.4px,#e30000 0,#e30000 39px,#ff0000 40.5px,#ff7300 45.8px,#ffff00 48.5px,#22ffdd 53px,#00fffffc 55px,#00ddfffa 57.4px,#0061fff5 59.7px,#0000fff5 63px,#0000eef5 63.4px,#0000e6c2 64px,#0000e675 69px,#0000 74px"></i>
<i style="--g:#0000 23.8px,#0000 0,#004dff39 32.4px,#e90000 0,#e90000 39px,#ff0000 40.4px,#ff7200 46px,#ffff00 49px,#20ffdf 53.4px,#00fffffd 55.4px,#00dbfffb 57.6px,#005dfff7 60px,#0000fff7 63px,#0000ecf7 63.7px,#0000e6c4 64px,#0000e677 69.3px,#0000 74.5px"></i>
<i style="--g:#0000 23.8px,#0000 0,#004dff3b 32.4px,#ef0000 0,#ef0000 39.2px,#ff0000 40.2px,#ff7000 46.3px,#ffff00 49.3px,#1fffe0 54px,#00fffffe 55.6px,#00d9fffc 58px,#005afff8 60px,#0000fff8 63px,#0000ebf8 64px,#0000e6c5 64.4px,#0000e679 69.7px,#0000 75px"></i>
<i style="--g:#0000 23.8px,#0000 0,#004dff3c 32.4px,#f40000 0,#ff0000 40px,#ff6f00 46.6px,#ffff00 49.7px,#1dffe2 54.3px,#00fffffe 56px,#00d7fffd 58px,#0056fffa 60px,#0000fffa 63.3px,#0000e9fa 64px,#0000e6c7 64.6px,#0000e67b 70px,#0000 75.5px"></i>
<i style="--g:#0000 23.8px,#0000 0,#004dff3d 32.4px,#fa0000 0,#ff0000 40px,#ff6e00 47px,#ffff00 50px,#1cffe3 54.7px,#00fffffe 56px,#00d5fffd 58.3px,#0053fffc 60.2px,#0000fffc 63.4px,#0000e8fc 64.3px,#0000e6c9 65px,#0000e67c 70.4px,#0000 76px"></i>
<i style="--g:#0000 23.8px,#0000 0,#004dff3f 32.4px,#ff0100 0,#ff0100 39.7px,#ff6c00 47px,#ffff00 50.5px,#1bffe4 55px,#00ffff 56.4px,#00d3fffe 58.5px,#004ffffe 60.4px,#0000fffe 63.6px,#0000e7fe 64.5px,#0000e6cb 65px,#0000e67e 71px,#0000 76.4px"></i>
<i style="--g:#0000 23.8px,#0000 0,#004dff40 32.4px,#ff0600 0,#ff0600 40px,#ff6b00 47.4px,#ffff00 51px,#1affe5 55.6px,#00ffff 56.7px,#00d1ff 58.7px,#004dff 60.5px,#0000ff 63.7px,#0000e6 65px,#0000e6cc 65.3px,#0000e680 71px,#0000 77px"></i>
<i style="--g:#0000 23.7px,#0000 0,#004dff44 32.3px,#ff0800 0,#ff0800 40px,#ff6c00 47.7px,#ffff00 51px,#1affe5 56px,#00ffff 57px,#00d1ff 59px,#004dff 61px,#0000ff 64px,#0000e6 65px,#0000e6cc 65.7px,#0000e680 71.5px,#0000 77px"></i>
<i style="--g:#0000 23.7px,#0000 0,#004dff47 32px,#ff0a00 0,#ff0a00 40px,#ff6d00 48px,#ffff00 51.5px,#1affe5 56.2px,#00ffff 57.3px,#00d1ff 59.3px,#004dff 61px,#0000ff 64.5px,#0000e6 65.6px,#0000e6cc 66px,#0000e680 71.8px,#0000 77.3px"></i>
<i style="--g:#0000 23.6px,#0000 0,#004dff4b 32px,#ff0c00 0,#ff0c00 40px,#ff6d00 48.3px,#ffff00 51.8px,#1affe5 56.5px,#00ffff 57.6px,#00d1ff 59.6px,#004dff 61.4px,#0000ff 65px,#0000e6 66px,#0000e6cc 66.5px,#0000e680 72px,#0000 77.6px"></i>
<i style="--g:#0000 23.5px,#0000 0,#004dff4e 32px,#ff0e00 0,#ff0e00 40px,#ff6e00 48.6px,#ffff00 52px,#1affe5 57px,#00ffff 58px,#00d1ff 60px,#004dff 61.7px,#0000ff 65.2px,#0000e6 66.4px,#0000e6cc 67px,#0000e680 72.3px,#0000 78px"></i>
<i style="--g:#0000 23.5px,#0000 0,#004dff51 32px,#ff1000 0,#ff1000 40px,#ff6f00 49px,#ffff00 52.4px,#1affe5 57px,#00ffff 58.3px,#00d1ff 60.2px,#004dff 62px,#0000ff 65.6px,#0000e6 66.8px,#0000e6cc 67.3px,#0000e680 72.6px,#0000 78px"></i>
<i style="--g:#0000 23.4px,#0000 0,#004dff55 32px,#ff1200 0,#ff1200 40px,#ff6f00 49px,#ffff00 52.7px,#1affe5 57.5px,#00ffff 58.6px,#00d1ff 60.5px,#004dff 62.3px,#0000ff 66px,#0000e6 67px,#0000e6cc 67.7px,#0000e680 73px,#0000 78.3px"></i>
<i style="--g:#0000 23.4px,#0000 0,#004dff58 31.7px,#ff1400 0,#ff1400 40px,#ff7000 49.5px,#ffff00 53px,#1affe5 58px,#00ffff 59px,#00d1ff 61px,#004dff 62.6px,#0000ff 66.3px,#0000e6 67.6px,#0000e6cc 68px,#0000e680 73.2px,#0000 78.6px"></i>
<i style="--g:#0000 23.3px,#0000 0,#004dff5c 31.6px,#ff1700 0,#ff1700 40px,#ff7100 49.8px,#ffff00 53.4px,#1affe5 58px,#00ffff 59.2px,#00d1ff 61px,#004dff 63px,#0000ff 66.7px,#0000e6 68px,#0000e6cc 68.4px,#0000e680 73.5px,#0000 78.8px"></i>
<i style="--g:#0000 23.2px,#0000 0,#004dff5f 31.5px,#ff1900 0,#ff1900 40px,#ff7200 50px,#ffff00 53.7px,#1affe5 58.5px,#00ffff 59.5px,#00d1ff 61.4px,#004dff 63px,#0000ff 67px,#0000e6 68.3px,#0000e6cc 69px,#0000e680 74px,#0000 79px"></i>
<i style="--g:#0000 23px,#0000 0,#004dff63 31.4px,#ff1b00 0,#ff1b00 40px,#ff7200 50.3px,#ffff00 54px,#1affe5 59px,#00ffff 60px,#00d1ff 61.7px,#004dff 63.5px,#0000ff 67.4px,#0000e6 68.7px,#0000e6cc 69.2px,#0000e680 74px,#0000 79.3px"></i>
<i style="--g:#0000 23px,#0000 0,#004dff66 31.2px,#ff1d00 0,#ff1d00 40px,#ff7300 50.6px,#ffff00 54.3px,#1affe5 59px,#00ffff 60px,#00d1ff 62px,#004dff 63.8px,#0000ff 67.8px,#0000e6 69px,#0000e6cc 69.6px,#0000e680 74.4px,#0000 79.5px"></i>
<i style="--g:#0000 23px,#0000 0,#004dff6a 31px,#ff1f00 0,#ff1f00 40px,#ff7400 51px,#ffff00 54.6px,#1affe5 59.5px,#00ffff 60.5px,#00d1ff 62.3px,#004dff 64px,#0000ff 68px,#0000e6 69.5px,#0000e6cc 70px,#0000e680 74.7px,#0000 79.8px"></i>
<i style="--g:#0000 23px,#0000 0,#004dff6d 31px,#ff2100 0,#ff2100 40px,#ff7400 51.2px,#ffff00 55px,#1affe5 59.8px,#00ffff 60.8px,#00d1ff 62.6px,#004dff 64.4px,#0000ff 68.5px,#0000e6 70px,#0000e6cc 70.4px,#0000e680 75px,#0000 80px"></i>
<i style="--g:#0000 23px,#0000 0,#0038ff98 25.7px,#1affe598 27.6px,#ff4c0098 29px,#2effd198 30.7px,#ff2300 0,#ff2300 40px,#ff7500 51.5px,#ffff00 55.3px,#1affe5 60px,#00ffff 61px,#00d1ff 63px,#004dff 64.6px,#0000ff 69px,#0000e6 70.3px,#0000e6cc 71px,#0000e680 75.3px,#0000 80.3px"></i>
<i style="--g:#0000 23px,#0000 0,#0038ff9b 25.7px,#1affe59b 27.7px,#ff4c009b 29.2px,#2effd19b 30.8px,#ff2800 0,#ff2800 40px,#ff7700 52px,#ffff00 55.6px,#1affe5 60.4px,#00ffff 61.4px,#00d1ff 63px,#004dff 65px,#0000ff 69.2px,#0000e6 70.7px,#0000e6cc 71px,#0000e680 75.5px,#0000 80.4px"></i>
<i style="--g:#0000 23px,#0000 0,#0038ff9c 26px,#1affe59c 28px,#ff4c009c 29.4px,#2effd19c 31px,#ff2d00 0,#ff2d00 40px,#ff7900 52.3px,#ffff00 56px,#1affe5 61px,#00ffff 61.7px,#00d1ff 63.4px,#004dff 65px,#0000ff 69.5px,#0000e6 71px,#0000e6cc 71.5px,#0000e680 75.8px,#0000 80.6px"></i>
<i style="--g:#0000 23.4px,#0000 0,#0038ff9d 26px,#1affe59d 28px,#ff4c009d 29.7px,#2effd19d 31.2px,#ff3100 0,#ff3100 40px,#ff7b00 52.7px,#ffff00 56.4px,#1affe5 61px,#00ffff 62px,#00d1ff 63.7px,#004dff 65.4px,#0000ff 70px,#0000e6 71.3px,#0000e6cc 72px,#0000e680 76px,#0000 80.7px"></i>
<i style="--g:#0000 23.5px,#0000 0,#0038ff9e 26.3px,#1affe59e 28.3px,#ff4c009e 30px,#2effd19e 31.5px,#ff3600 0,#ff3600 40px,#ff7d00 53px,#ffff00 56.8px,#1affe5 61.5px,#00ffff 62.4px,#00d1ff 64px,#004dff 65.6px,#0000ff 70px,#0000e6 71.7px,#0000e6cc 72px,#0000e680 76.2px,#0000 81px"></i>
<i style="--g:#0000 23.7px,#0000 0,#0038ff9f 26.5px,#1affe59f 28.5px,#ff4c009f 30px,#2effd19f 31.7px,#ff3b00 0,#ff3b00 40px,#ff7f00 53.5px,#ffff00 57px,#80ff80 59.6px,#00ffff 62.7px,#00d1ff 64px,#004dff 66px,#0000ff 70.5px,#0000e6 72px,#0000e6cc 72.5px,#0000e680 76.5px,#0000 81px"></i>
<i style="--g:#0000 24px,#0000 0,#0038ff9f 26.7px,#1affe59f 28.7px,#ff4c009f 30.3px,#2effd19f 32px,#ff4000 0,#ff4000 40px,#ff8200 54px,#ffff00 57.6px,#80ff80 60px,#00ffff 63px,#00d1ff 64.4px,#004dff 66px,#0000ff 70.8px,#0000e6 72.3px,#0000e6cc 73px,#0000e680 76.7px,#0000 81px"></i>
<i style="--g:#0000 24px,#0000 0,#0038ffa0 27px,#1affe5a0 29px,#ff4c00a0 30.6px,#2effd1a0 32.2px,#ff4500 0,#ff4500 40px,#ff6000 48.5px,#ff8400 54.4px,#ffff00 58px,#80ff80 60.3px,#00ffff 63.3px,#00d1ff 64.7px,#004dff 66.3px,#0000ff 71px,#0000e6 72.7px,#0000e6cc 73px,#0000e680 77px,#0000 81.3px"></i>
<i style="--g:#0000 24.3px,#0000 0,#0038ffa1 27px,#1affe5a1 29px,#ff4c00a1 31px,#2effd1a1 32.4px,#ff4a00 0,#ff4a00 40px,#ff6200 49px,#ff8600 54.8px,#ffff00 58.3px,#80ff80 60.7px,#00ffff 63.7px,#00d1ff 65px,#004dff 66.5px,#0000ff 71.4px,#0000e6 73px,#0000e6cc 73.5px,#0000e680 77px,#0000 81.4px"></i>
<i style="--g:#0000 24.4px,#0000 0,#0038ffa2 27.3px,#1affe5a2 29.4px,#ff4c00a2 31px,#2effd1a2 32.7px,#ff4f00 0,#ff6500 49.4px,#ff8800 55px,#ffff00 58.7px,#80ff80 61px,#00ffff 64px,#00d1ff 65.2px,#004dff 66.8px,#0000ff 71.7px,#0000e6 73.3px,#0000e6cc 74px,#0000e680 77.4px,#0000 81.5px"></i>
<i style="--g:#0000 24.6px,#0000 0,#0038ffa3 27.5px,#1affe5a3 29.6px,#ff4c00a3 31.3px,#2effd1a3 33px,#ff5400 0,#ff6800 49.8px,#ff8a00 55.6px,#ffff00 59px,#80ff80 61.4px,#00ffff 64.3px,#00d1ff 65.5px,#004dff 67px,#0000ff 72px,#0000e6 73.7px,#0000e6cc 74px,#0000e680 77.7px,#0000 81.7px"></i>
<i style="--g:#0000 24.8px,#0000 0,#0038ffa3 27.7px,#1affe5a3 30px,#ff4c00a3 31.5px,#2effd1a3 33px,#ff5900 0,#ff6b00 50.2px,#ff8c00 56px,#ffff00 59.5px,#80ff80 62px,#00ffff 64.6px,#00d1ff 65.7px,#004dff 67.3px,#0000ff 72.3px,#0000e6 74px,#0000e6cc 74.5px,#0000e680 78px,#0000 82px"></i>
<i style="--g:#0000 25px,#0000 0,#0038ffa4 28px,#1affe5a4 30px,#ff4c00a4 31.7px,#2effd1a4 33.4px,#ff5e00 0,#ff6e00 50.6px,#ff8e00 56.4px,#ffff00 60px,#80ff80 62px,#00ffff 65px,#00d1ff 66px,#004dff 67.5px,#0000ff 72.6px,#0000e6 74.3px,#0000e6cc 75px,#0000e680 78px,#0000 82px"></i>
<i style="--g:#0000 25px,#0000 0,#0038ffa5 28px,#1affe5a5 30.2px,#ff4c00a5 32px,#2effd1a5 33.6px,#ff6300 0,#ff7100 51px,#ff9000 56.8px,#ffff00 60.2px,#80ff80 62.5px,#00ffff 65.3px,#00d1ff 66.3px,#004dff 67.7px,#0000ff 73px,#0000e6 74.7px,#0000e6cc 75px,#0000e680 78.4px,#0000 82px"></i>
<i style="--g:#0000 25.3px,#0000 0,#0038ffa6 28.3px,#1affe5a6 30.5px,#ff4c00a6 32px,#2effd1a6 34px,#ff6800 0,#ff7300 51.5px,#ff9300 57.2px,#ffff00 60.6px,#00ffff 65.6px,#00d1ff 66.5px,#004dff 68px,#0000ff 73.2px,#0000e6 75px,#0000e6cc 75.5px,#0000e680 78.6px,#0000 82.2px"></i>
<i style="--g:#0000 25.5px,#0000 0,#0038ffa7 28.5px,#1affe5a7 30.7px,#ff4c00a7 32.4px,#2effd1a7 34px,#ff6b00 0,#ff7600 52px,#ff9400 57.5px,#ffff00 61px,#00ffff 65.8px,#00d1ff 66.7px,#004dff 68px,#0000ff 73.5px,#0000e6 75.2px,#0000e6cc 75.7px,#0000e680 78.8px,#0000 82.3px"></i>
<i style="--g:#0000 26.5px,#0000 0,#0038ffa7 29.4px,#1affe5a7 31.4px,#ff4c00a7 33px,#2effd1a7 34.6px,#ff6c00 0,#ff7700 52px,#ff9500 57.7px,#ffff00 61px,#00ffff 66px,#00d1ff 66.7px,#004dff 68.2px,#0000ff 73.5px,#0000e6 75.3px,#0000e6cc 76px,#0000e680 79px,#0000 82.4px"></i>
<i style="--g:#0000 27.5px,#0000 0,#0038ffa8 30px,#1affe5a8 32px,#ff4c00a8 33.6px,#2effd1a8 35px,#ff6d00 0,#ff7800 52px,#ff9600 57.8px,#ffff00 61px,#00ffff 66px,#00d1ff 66.8px,#004dff 68.3px,#0000ff 73.6px,#0000e6 75.4px,#0000e6cc 76px,#0000e680 79px,#0000 82.5px"></i>
<i style="--g:#0000 28.5px,#0000 0,#0038ffa9 31px,#1affe5a9 33px,#ff4c00a9 34.2px,#2effd1a9 35.7px,#ff6e00 0,#ff7800 52.2px,#ff9700 58px,#ffff00 61px,#00ffff 66px,#00d1ff 67px,#004dff 68.3px,#0000ff 73.7px,#0000e6 75.4px,#0000e6cc 76px,#0000e680 79px,#0000 82.5px"></i>
<i style="--g:#0000 29.5px,#0000 0,#0038ffaa 32px,#1affe5aa 33.5px,#ff4c00aa 35px,#2effd1aa 36.2px,#ff6f00 0,#ff7900 52.4px,#ff9800 58px,#ffff00 61px,#00ffff 66px,#00d1ff 67px,#004dff 68.4px,#0000ff 73.7px,#0000e6 75.5px,#0000e6cc 76px,#0000e680 79px,#0000 82.6px"></i>
<i style="--g:#0000 30.5px,#0000 0,#0038ffab 32.7px,#1affe5ab 34.2px,#ff4c00ab 35.5px,#2effd1ab 36.7px,#ff7000 0,#ff7a00 52.5px,#ff9900 58px,#ffff00 61.2px,#00ffff 66px,#00d1ff 67px,#004dff 68.5px,#0000ff 73.8px,#0000e6 75.6px,#0000e6cc 76px,#0000e680 79px,#0000 82.7px"></i>
<i style="--g:#0000 31.5px,#0000 0,#0038ffab 33.5px,#1affe5ab 35px,#ff4c00ab 36px,#2effd1ab 37.3px,#ff7100 0,#ff7b00 52.6px,#ff9a00 58.3px,#ffff00 61.3px,#00ffff 66px,#00d1ff 67px,#004dff 68.5px,#0000ff 74px,#0000e6 75.6px,#0000e6cc 76px,#0000e680 79px,#0000 82.7px"></i>
<i style="--g:#0000 32.5px,#0000 0,#0038ffac 34.4px,#1affe5ac 35.7px,#ff4c00ac 36.7px,#2effd1ac 37.8px,#ff7200 0,#ff7c00 52.8px,#ff9b00 58.4px,#ffff00 61.4px,#00ffff 66px,#00d1ff 67px,#004dff 68.6px,#0000ff 74px,#0000e6 75.7px,#0000e6cc 76px,#0000e680 79.2px,#0000 82.8px"></i>
<i style="--g:#0000 33.5px,#0000 0,#0038ffac 35.3px,#1affe5ac 36.6px,#ff4c00ac 37.6px,#2effd1ac 38.7px,#ff7300 0,#ff7d00 53px,#ff9c00 58.6px,#ffff00 61.4px,#00ffff 66px,#00d1ff 67px,#004dff 68.7px,#0000ff 74px,#0000e6 75.8px,#0000e6cc 76.3px,#0000e680 79.3px,#0000 83px"></i>
<i style="--g:#0000 34px,#0000 0,#0038ffac 36px,#1affe5ac 37.4px,#ff4c00ac 38.6px,#2effd1ac 39.7px,#ff7400 0,#ff7e00 53px,#ff9d00 58.7px,#ffff00 61.5px,#00ffff 66px,#00d1ff 67px,#004dff 68.7px,#0000ff 74px,#0000e6 76px,#0000e6cc 76.3px,#0000e680 79.4px,#0000 83px"></i>
<i style="--g:#0000 34px,#0000 0,#0038ffac 36.4px,#1affe5ac 38px,#ff4c00ac 39.4px,#2effd1ac 40.7px,#ff7600 0,#ff7f00 53px,#ff9e00 59px,#ffff00 61.6px,#00ffff 66px,#00d1ff 67px,#004dff 68.8px,#0000ff 74px,#0000e6 76px,#0000e6cc 76.4px,#0000e680 79.4px,#0000 83px"></i>
<i style="--g:#0000 34px,#0000 0,#0038ffac 37.4px,#1affe5ac 40px,#ff4c00ac 41.7px,#2effd1ac 43.6px,#ff7800 0,#ff8000 53.2px,#ff9e00 59px,#ffff00 61.6px,#00ffff 66px,#00d1ff 67px,#004dff 69px,#0000ff 74px,#0000e6 76px,#0000e6cc 76.4px,#0000e680 79.5px,#0000 83px"></i>
<i style="--g:#0000 34px,#0000 0,#0038ffac 38.3px,#1affe5ac 41.3px,#ff4c00ac 43.7px,#2effd1ac 46px,#ff7a00 0,#ff8000 53.2px,#ff9e00 59px,#ffff00 61.6px,#00ffff 66px,#00d1ff 67px,#004dff 69px,#0000ff 74px,#0000e6 76px,#0000e6cc 76.4px,#0000e680 79.5px,#0000 83px"></i>
<i style="--g:#0000 34px,#0000 0,#0038ffac 38.3px,#1affe5ac 41.3px,#ff4c00ac 43.7px,#2effd1ac 46px,#ff7a00 0,#ff8000 53.2px,#ff9e00 59px,#ffff00 61.6px,#00ffff 66px,#00d1ff 67px,#004dff 69px,#0000ff 74px,#0000e6 76px,#0000e6cc 76.4px,#0000e680 79.5px,#0000 83px"></i>
<i style="--g:#0000 34px,#0000 0,#0038ffac 38.3px,#1affe5ac 41.3px,#ff4c00ac 43.7px,#2effd1ac 46px,#ff7a00 0,#ff8000 53.2px,#ff9e00 59px,#ffff00 61.6px,#00ffff 66px,#00d1ff 67px,#004dff 69px,#0000ff 74px,#0000e6 76px,#0000e6cc 76.4px,#0000e680 79.5px,#0000 83px"></i>
</div>
<div class="p" style="left:122.30px;top:347px;width:85.15px">
<i style="--g:#0000 26.7px,#0000 0,#e5ff1af2 28px,#ff1a00f2 29.5px,#e50000f2 31.4px,#b30000 0,#b30000 36px,#ff0000 37.7px,#ffff00 41.8px,#2effd1 48.4px,#00faffe6 55px,#0080ffb2 57px,#0038ff66 60.8px,#001aff33 62.6px,#001aff0d 64px,#0000 65.4px"></i>
<i style="--g:#0000 26.7px,#0000 0,#e5ff1af2 28px,#ff1a00f2 29.5px,#e50000f2 31.4px,#b30000 0,#b30000 36px,#ff0000 37.8px,#ffff00 42px,#2effd1 48.5px,#00faffe6 55px,#0080ffb2 57px,#0038ff66 61px,#001aff33 62.6px,#001aff0d 64px,#0000 65.5px"></i>
<i style="--g:#0000 26.7px,#0000 0,#e5ff1af2 28px,#ff1a00f2 29.5px,#e50000f2 31.3px,#b30000 0,#b30000 36px,#ff0000 38px,#ffff00 42px,#2effd1 48.6px,#00faffe6 55px,#0080ffb2 57px,#0038ff66 61px,#001aff33 62.7px,#001aff0d 64px,#0000 65.6px"></i>
<i style="--g:#0000 26.7px,#0000 0,#e5ff1af2 28px,#ff1a00f2 29.4px,#e50000f2 31.3px,#b30000 0,#b30000 36px,#ff0000 38px,#ffff00 42px,#2effd1 48.7px,#00faffe6 55px,#0080ffb2 57px,#0038ff66 61px,#001aff33 63px,#001aff0d 64.3px,#0000 65.7px"></i>
<i style="--g:#0000 26.7px,#0000 0,#e5ff1af2 28px,#ff1a00f2 29.4px,#e50000f2 31.2px,#b30000 0,#b30000 36px,#ff0000 38px,#ffff00 42px,#2effd1 48.8px,#00faffe6 55.2px,#0080ffb2 57.3px,#0038ff66 61px,#001aff33 63px,#001aff0d 64.4px,#0000 65.8px"></i>
<i style="--g:#0000 26.7px,#0000 0,#e5ff1af2 28px,#ff1a00f2 29.4px,#e50000f2 31px,#b30000 0,#b30000 36.3px,#ff0000 38px,#ffff00 42.2px,#2effd1 49px,#00faffe6 55.3px,#0080ffb2 57.4px,#0038ff66 61.3px,#001aff33 63px,#001aff0d 64.5px,#0000 66px"></i>
<i style="--g:#0000 26.7px,#0000 0,#e5ff1af2 28px,#ff1a00f2 29.3px,#e50000f2 31px,#b30000 0,#b30000 36.4px,#ff0000 38.3px,#ffff00 42.3px,#2effd1 49px,#00faffe6 55.4px,#0080ffb2 57.5px,#0038ff66 61.4px,#001aff33 63px,#001aff0d 64.6px,#0000 66px"></i>
<i style="--g:#0000 26.7px,#0000 0,#e5ff1af2 28px,#ff1a00f2 29.3px,#e50000f2 31px,#b30000 0,#b30000 36.3px,#ff0000 38.4px,#ffff00 42.5px,#2effd1 48.8px,#00f9ffe7 55.2px,#0080ffb9 57.4px,#0031ff76 61px,#0013ff43 63px,#0013ff18 64.5px,#0000 66.3px"></i>
<i style="--g:#0000 26px,#0000 0,#e5ff1af2 27.4px,#ff1a00f2 29px,#e50000f2 31px,#b30000 0,#b30000 36.2px,#ff0000 38.5px,#ffff00 42.7px,#2effd1 48.6px,#00f7ffe9 55px,#0080ffc0 57.3px,#0028ff87 61px,#000cff54 62.4px,#0000 66.6px"></i>
<i style="--g:#0000 25px,#0000 0,#e5ff1af2 27px,#ff1a00f2 28.6px,#e50000f2 31px,#b30000 0,#b30000 36px,#ff0500 39px,#ffff00 43px,#2effd1 48.3px,#00f6ffeb 54.8px,#0080ffc7 57.3px,#0020ff99 60.8px,#0005ff66 62px,#0000 67px"></i>
<i style="--g:#0000 24px,#0000 0,#e5ff1ae6 26px,#ff1a00e6 28px,#e50000e6 31px,#b30000 0,#b30000 36px,#ff0500 39px,#ffff00 43px,#2effd1 48px,#00f4ffec 54.5px,#0080ffce 57.2px,#0017ffab 60.5px,#0000fd78 61.6px,#0000ff37 64.6px,#0000 67.2px"></i>
<i style="--g:#0000 23.3px,#0000 0,#e5ff1aca 25.6px,#ff1a00ca 28px,#e50000ca 31px,#b30000 0,#b30000 36px,#ff0500 39.2px,#ff8000 41.3px,#ffff00 43px,#80ff80 45.8px,#2effd1 48px,#00f3ffee 54.3px,#000fffbc 60.3px,#0000f689 61.2px,#0000 67.6px"></i>
<i style="--g:#0000 22.5px,#0000 0,#e5ff1aaf 25px,#ff1a00af 27.4px,#e50000af 30.7px,#b30000 0,#b30000 36px,#ff0500 39.4px,#ff8000 41.5px,#ffff00 43.3px,#80ff80 45.7px,#2effd1 47.7px,#00fffff3 52.6px,#00f2fff0 54px,#0006ffce 60px,#0000ef9b 61px,#0000 68px"></i>
<i style="--g:#0000 21.6px,#0000 0,#e5ff1a93 24.3px,#ff1a0093 27px,#e5000093 30.7px,#b30000 0,#b30000 35.7px,#ff0500 39.5px,#ff8000 41.7px,#ffff00 43.4px,#80ff80 45.5px,#2effd1 47.5px,#00fffff5 52.3px,#00f0fff2 54px,#0080ffe3 57px,#0000ffe0 60px,#0000fddf 0,#0000e8ac 60.4px,#0000e862 64px,#0000 68.2px"></i>
<i style="--g:#0000 21px,#0000 0,#e5ff1a78 24px,#ff1a0078 27px,#e5000078 30.6px,#b60000 0,#b60000 36px,#ff0700 39.7px,#ff7f00 42px,#ffff00 43.8px,#80ff80 45.8px,#2dffd2 47.7px,#00fffff6 52.2px,#00eefff3 54px,#007dffe7 57px,#0000f9e7 60px,#0000e6b4 60.5px,#0000e667 64.3px,#0000 68.6px"></i>
<i style="--g:#0000 21px,#0000 0,#e5ff1a79 24px,#ff1a0079 26.8px,#e5000079 30.6px,#bc0000 0,#bc0000 36px,#ff0b00 40px,#ff7d00 42px,#ffff00 44px,#80ff80 46px,#2cffd3 48px,#00fffff7 52.3px,#00ecfff4 54px,#0000f8e8 60px,#0000e6b5 60.7px,#0000e669 64.7px,#0000 69px"></i>
<i style="--g:#0000 21px,#0000 0,#e5ff1a7a 24px,#ff1a007a 26.7px,#e500007a 30.5px,#c20000 0,#c20000 36px,#ff0000 39.3px,#ff0e00 40px,#ff7c00 42.4px,#ffff00 44.5px,#80ff80 46.6px,#2affd5 48.6px,#00fffff8 52.5px,#00eafff5 54.4px,#0000f6ea 60.4px,#0000e6b7 61px,#0000e66b 65px,#0000 69.6px"></i>
<i style="--g:#0000 21px,#0000 0,#e5ff1a7a 24px,#ff1a007a 26.7px,#e500007a 30.5px,#c70000 0,#c70000 36.3px,#ff0000 39.2px,#ff1200 40px,#ff7a00 42.7px,#ffff00 45px,#80ff80 47px,#29ffd6 49px,#00fffff9 52.6px,#00e8fff5 54.6px,#0000ffec 60.4px,#0000f5ec 60.6px,#0000e6b9 61px,#0000e66c 65.4px,#0000 70px"></i>
<i style="--g:#0000 21px,#0000 0,#e5ff1a7b 23.8px,#ff1a007b 26.6px,#e500007b 30.4px,#cd0000 0,#cd0000 36.5px,#ff0000 39px,#ff1600 40.3px,#ff7900 43px,#ffff00 45.3px,#80ff80 47.5px,#27ffd8 49.5px,#00fffffa 52.7px,#00e6fff6 55px,#0000ffee 60.5px,#0000f3ee 61px,#0000e6bb 61.3px,#0000e66e 65.8px,#0000 70.5px"></i>
<i style="--g:#0000 21px,#0000 0,#e5ff1a7c 23.7px,#ff1a007c 26.6px,#e500007c 30.3px,#d20000 0,#d20000 36.7px,#ff0000 39px,#ff1900 40.4px,#ff7800 43.3px,#ffff00 45.7px,#80ff80 48px,#26ffd9 50px,#00fffffa 53px,#00e4fff7 55px,#006cffef 57.7px,#0000ffef 60.7px,#0000f2ef 61px,#0000e6bc 61.6px,#0000e670 66px,#0000 71px"></i>
<i style="--g:#0000 21px,#0000 0,#e5ff1a7c 23.7px,#ff1a007c 26.5px,#e500007c 30.3px,#d80000 0,#d80000 37px,#ff0000 39px,#ff1d00 40.6px,#ff7600 43.5px,#ffff00 46px,#80ff80 48.3px,#24ffdb 50.3px,#00fffffb 53px,#00e2fff8 55.3px,#0068fff1 57.8px,#0000fff1 61px,#0000f0f1 61.3px,#0000e6be 61.8px,#0000e672 66.5px,#0000 71.4px"></i>
<i style="--g:#0000 20.8px,#0000 0,#e5ff1a7d 23.6px,#ff1a007d 26.4px,#e500007d 30.2px,#de0000 0,#de0000 37px,#ff0000 39px,#ff2000 40.7px,#ff7500 43.8px,#ffff00 46.4px,#80ff80 48.8px,#23ffdc 50.8px,#00fffffc 53.3px,#00dffff9 55.5px,#0064fff3 58px,#0000fff3 61px,#0000eff3 61.5px,#0000e6c0 62px,#0000e674 67px,#0000 72px"></i>
<i style="--g:#0000 20.7px,#0000 0,#e5ff1a7d 23.5px,#ff1a007d 26.4px,#e500007d 30px,#e30000 0,#e30000 37px,#ff0000 38.8px,#ff7300 44px,#ffff00 47px,#22ffdd 51.2px,#00fffffc 53.5px,#00ddfffa 55.7px,#0061fff5 58px,#0000fff5 61px,#0000eef5 61.7px,#0000e6c2 62.2px,#0000e675 67.3px,#0000 72.4px"></i>
<i style="--g:#0000 20.6px,#0000 0,#e5ff1a7e 23.5px,#ff1a007e 26.3px,#e500007e 30px,#e90000 0,#e90000 37.4px,#ff0000 38.7px,#ff7200 44.3px,#ffff00 47.2px,#20ffdf 51.7px,#00fffffd 53.7px,#00dbfffb 56px,#005dfff7 58px,#0000fff7 61.3px,#0000ecf7 62px,#0000e6c4 62.5px,#0000e677 67.6px,#0000 73px"></i>
<i style="--g:#0000 20.6px,#0000 0,#e5ff1a7f 23.4px,#ff1a007f 26.3px,#e500007f 30px,#ef0000 0,#ef0000 37.5px,#ff0000 38.5px,#ff7000 44.6px,#ffff00 47.6px,#1fffe0 52px,#00fffffe 54px,#00d9fffc 56px,#005afff8 58.3px,#0000fff8 61.5px,#0000ebf8 62px,#0000e6c5 62.7px,#0000e679 68px,#0000 73.3px"></i>
<i style="--g:#0000 20.5px,#0000 0,#e5ff1a7f 23.4px,#ff1a007f 26.2px,#e500007f 30px,#f40000 0,#ff0000 38.4px,#ff6f00 45px,#ffff00 48px,#1dffe2 52.6px,#00fffffe 54px,#00d7fffd 56.4px,#0056fffa 58.4px,#0000fffa 61.6px,#0000e9fa 62.4px,#0000e6c7 63px,#0000e67b 68.4px,#0000 73.8px"></i>
<i style="--g:#0000 20.5px,#0000 0,#e5ff1a80 23.3px,#ff1a0080 26px,#e5000080 30px,#fa0000 0,#ff0000 38px,#ff6e00 45px,#ffff00 48.4px,#1cffe3 53px,#00fffffe 54.4px,#00d5fffd 56.6px,#0053fffc 58.5px,#0000fffc 61.7px,#0000e8fc 62.6px,#0000e6c9 63px,#0000e67c 68.7px,#0000 74.2px"></i>
<i style="--g:#0000 20.4px,#0000 0,#e5ff1a80 23.3px,#ff1a0080 26px,#e5000080 30px,#ff0100 0,#ff0100 38px,#ff6c00 45.4px,#ffff00 48.8px,#1bffe4 53.4px,#00ffff 54.7px,#00d3fffe 57px,#004ffffe 58.7px,#0000fffe 62px,#0000e7fe 63px,#0000e6cb 63.3px,#0000e67e 69px,#0000 74.7px"></i>
<i style="--g:#0000 20.4px,#0000 0,#e5ff1a81 23px,#ff1a0081 26px,#e5000081 30px,#ff0600 0,#ff0600 38.2px,#ff6b00 45.7px,#ffff00 49px,#1affe5 54px,#00ffff 55px,#00d1ff 57px,#004dff 59px,#0000ff 62px,#0000e6 63px,#0000e6cc 63.6px,#0000e680 69.5px,#0000 75px"></i>
<i style="--g:#0000 20.4px,#0000 0,#e5ff1a82 23px,#ff1a0082 26px,#e5000082 29.7px,#ff0800 0,#ff0800 38.3px,#ff6c00 46px,#ffff00 49.6px,#1affe5 54.3px,#00ffff 55.5px,#00d1ff 57.5px,#004dff 59.3px,#0000ff 62.5px,#0000e6 63.6px,#0000e6cc 64px,#0000e680 70px,#0000 75.5px"></i>
<i style="--g:#0000 20.4px,#0000 0,#e5ff1a82 23.2px,#ff1a0082 26px,#e5000082 29.6px,#ff0a00 0,#ff0a00 38.4px,#ff6d00 46.5px,#ffff00 50px,#1affe5 54.8px,#00ffff 56px,#00d1ff 58px,#004dff 59.7px,#0000ff 63px,#0000e6 64px,#0000e6cc 64.6px,#0000e680 70.3px,#0000 76px"></i>
<i style="--g:#0000 20.5px,#0000 0,#e5ff1a83 23.2px,#ff1a0083 26px,#e5000083 29.5px,#ff0c00 0,#ff0c00 38.6px,#ff6d00 47px,#ffff00 50.5px,#1affe5 55.2px,#00ffff 56.3px,#00d1ff 58.3px,#004dff 60px,#0000ff 63.5px,#0000e6 64.7px,#0000e6cc 65px,#0000e680 70.7px,#0000 76.2px"></i>
<i style="--g:#0000 20.6px,#0000 0,#e5ff1a83 23.2px,#ff1a0083 26px,#e5000083 29.4px,#ff0e00 0,#ff0e00 38.7px,#ff6e00 47.4px,#ffff00 51px,#1affe5 55.7px,#00ffff 56.7px,#00d1ff 58.7px,#004dff 60.5px,#0000ff 64px,#0000e6 65px,#0000e6cc 65.7px,#0000e680 71px,#0000 76.6px"></i>
<i style="--g:#0000 20.6px,#0000 0,#e5ff1a84 23.2px,#ff1a0084 26px,#e5000084 29.3px,#ff1000 0,#ff1000 38.8px,#ff6f00 47.8px,#ffff00 51.3px,#1affe5 56px,#00ffff 57px,#00d1ff 59px,#004dff 61px,#0000ff 64.5px,#0000e6 65.7px,#0000e6cc 66px,#0000e680 71.6px,#0000 77px"></i>
<i style="--g:#0000 20.7px,#0000 0,#e5ff1a85 23.3px,#ff1a0085 26px,#e5000085 29.3px,#ff1200 0,#ff1200 39px,#ff6f00 48px,#ffff00 51.8px,#1affe5 56.5px,#00ffff 57.6px,#00d1ff 59.5px,#004dff 61.3px,#0000ff 65px,#0000e6 66px,#0000e6cc 66.7px,#0000e680 72px,#0000 77.3px"></i>
<i style="--g:#0000 20.7px,#0000 0,#e5ff1a85 23.3px,#ff1a0085 25.8px,#e5000085 29px,#ff1400 0,#ff1400 39px,#ff7000 48.6px,#ffff00 52.2px,#1affe5 57px,#00ffff 58px,#00d1ff 60px,#004dff 61.7px,#0000ff 65.5px,#0000e6 66.7px,#0000e6cc 67px,#0000e680 72.4px,#0000 77.7px"></i>
<i style="--g:#0000 21px,#0000 0,#e5ff1a86 23.3px,#ff1a0086 25.8px,#e5000086 29px,#ff1700 0,#ff1700 39px,#ff7100 49px,#ffff00 52.6px,#1affe5 57.4px,#00ffff 58.5px,#00d1ff 60.4px,#004dff 62px,#0000ff 66px,#0000e6 67.2px,#0000e6cc 67.7px,#0000e680 72.8px,#0000 78px"></i>
<i style="--g:#0000 21px,#0000 0,#e5ff1a86 23.3px,#ff1a0086 25.8px,#e5000086 29px,#ff1900 0,#ff1900 39.3px,#ff7200 49.4px,#ffff00 53px,#1affe5 58px,#00ffff 59px,#00d1ff 60.8px,#004dff 62.6px,#0000ff 66.4px,#0000e6 67.7px,#0000e6cc 68.2px,#0000e680 73.2px,#0000 78.4px"></i>
<i style="--g:#0000 21px,#0000 0,#e5ff1a87 23.3px,#ff1a0087 25.7px,#e5000087 29px,#ff1b00 0,#ff1b00 39.4px,#ff7200 50px,#ffff00 53.5px,#1affe5 58.3px,#00ffff 59.3px,#00d1ff 61px,#004dff 63px,#0000ff 67px,#0000e6 68.2px,#0000e6cc 68.7px,#0000e680 73.6px,#0000 78.8px"></i>
<i style="--g:#0000 21px,#0000 0,#e5ff1a88 23.4px,#ff1a0088 25.7px,#e5000088 29px,#ff1d00 0,#ff1d00 39.5px,#ff7300 50.3px,#ffff00 54px,#1affe5 58.7px,#00ffff 59.8px,#00d1ff 61.6px,#004dff 63.4px,#0000ff 67.4px,#0000e6 68.7px,#0000e6cc 69.2px,#0000e680 74px,#0000 79px"></i>
<i style="--g:#0000 21px,#0000 0,#e5ff1a88 23.4px,#ff1a0088 25.7px,#e5000088 29px,#ff1f00 0,#ff1f00 39.6px,#ff7400 50.7px,#ffff00 54.4px,#1affe5 59px,#00ffff 60.2px,#00d1ff 62px,#004dff 63.8px,#0000ff 68px,#0000e6 69.3px,#0000e6cc 69.8px,#0000e680 74.4px,#0000 79.5px"></i>
<i style="--g:#0000 21px,#0000 0,#e5ff1a89 23.4px,#ff1a0089 25.7px,#e5000089 28.7px,#ff2100 0,#ff2100 39.7px,#ff7400 51px,#ffff00 55px,#1affe5 59.6px,#00ffff 60.6px,#00d1ff 62.4px,#004dff 64.2px,#0000ff 68.4px,#0000e6 69.8px,#0000e6cc 70.3px,#0000e680 75px,#0000 80px"></i>
<i style="--g:#0000 21px,#0000 0,#e5ff1a89 23.4px,#ff1a0089 25.7px,#e5000089 28.7px,#ff2300 0,#ff2300 40px,#ff7500 51.5px,#ffff00 55.3px,#1affe5 60px,#00ffff 61px,#00d1ff 63px,#004dff 64.6px,#0000ff 69px,#0000e6 70.3px,#0000e6cc 70.8px,#0000e680 75.3px,#0000 80.2px"></i>
<i style="--g:#0000 21.2px,#0000 0,#e5ff1a8a 23.4px,#ff1a008a 25.7px,#e500008a 28.6px,#ff2800 0,#ff2800 40px,#ff7700 52px,#ffff00 55.6px,#1affe5 60.4px,#00ffff 61.4px,#00d1ff 63px,#004dff 65px,#0000ff 69.2px,#0000e6 70.7px,#0000e6cc 71px,#0000e680 75.5px,#0000 80.4px"></i>
<i style="--g:#0000 21.3px,#0000 0,#e5ff1a8c 23.5px,#ff1a008c 25.7px,#e500008c 28.7px,#ff2d00 0,#ff2d00 40px,#ff7900 52.3px,#ffff00 56px,#1affe5 61px,#00ffff 61.7px,#00d1ff 63.4px,#004dff 65px,#0000ff 69.5px,#0000e6 71px,#0000e6cc 71.5px,#0000e680 75.8px,#0000 80.6px"></i>
<i style="--g:#0000 21.3px,#0000 0,#e5ff1a8e 23.6px,#ff1a008e 26px,#e500008e 28.8px,#ff3100 0,#ff3100 40px,#ff7b00 52.7px,#ffff00 56.4px,#1affe5 61px,#00ffff 62px,#00d1ff 63.7px,#004dff 65.4px,#0000ff 70px,#0000e6 71.3px,#0000e6cc 72px,#0000e680 76px,#0000 80.7px"></i>
<i style="--g:#0000 21.4px,#0000 0,#e5ff1a8f 23.7px,#ff1a008f 26px,#e500008f 29px,#ff3600 0,#ff3600 40px,#ff7d00 53px,#ffff00 56.8px,#1affe5 61.5px,#00ffff 62.4px,#00d1ff 64px,#004dff 65.6px,#0000ff 70px,#0000e6 71.7px,#0000e6cc 72px,#0000e680 76.2px,#0000 81px"></i>
<i style="--g:#0000 21.5px,#0000 0,#e5ff1a91 23.7px,#ff1a0091 26px,#e5000091 29px,#ff3b00 0,#ff3b00 40px,#ff7f00 53.5px,#ffff00 57px,#80ff80 59.6px,#00ffff 62.7px,#00d1ff 64px,#004dff 66px,#0000ff 70.5px,#0000e6 72px,#0000e6cc 72.5px,#0000e680 76.5px,#0000 81px"></i>
<i style="--g:#0000 21.5px,#0000 0,#e5ff1a93 23.8px,#ff1a0093 26px,#e5000093 29px,#ff4000 0,#ff4000 40px,#ff8200 54px,#ffff00 57.6px,#80ff80 60px,#00ffff 63px,#00d1ff 64.4px,#004dff 66px,#0000ff 70.8px,#0000e6 72.3px,#0000e6cc 73px,#0000e680 76.7px,#0000 81px"></i>
<i style="--g:#0000 21.6px,#0000 0,#e5ff1a94 24px,#ff1a0094 26px,#e5000094 29px,#ff4500 0,#ff4500 40px,#ff6000 48.5px,#ff8400 54.4px,#ffff00 58px,#80ff80 60.3px,#00ffff 63.3px,#00d1ff 64.7px,#004dff 66.3px,#0000ff 71px,#0000e6 72.7px,#0000e6cc 73px,#0000e680 77px,#0000 81.3px"></i>
<i style="--g:#0000 21.6px,#0000 0,#e5ff1a96 24px,#ff1a0096 26.2px,#e5000096 29.3px,#ff4a00 0,#ff4a00 40px,#ff6200 49px,#ff8600 54.8px,#ffff00 58.3px,#80ff80 60.7px,#00ffff 63.7px,#00d1ff 65px,#004dff 66.5px,#0000ff 71.4px,#0000e6 73px,#0000e6cc 73.5px,#0000e680 77px,#0000 81.4px"></i>
<i style="--g:#0000 21.7px,#0000 0,#e5ff1a97 24px,#ff1a0097 26.3px,#e5000097 29.4px,#ff4f00 0,#ff4f00 39.8px,#ff6500 49.4px,#ff8800 55px,#ffff00 58.7px,#80ff80 61px,#00ffff 64px,#00d1ff 65.2px,#004dff 66.8px,#0000ff 71.7px,#0000e6 73.3px,#0000e6cc 74px,#0000e680 77.4px,#0000 81.5px"></i>
<i style="--g:#0000 21.8px,#0000 0,#e5ff1a99 24px,#ff1a0099 26.4px,#e5000099 29.5px,#ff5400 0,#ff5400 39.8px,#ff6800 49.8px,#ff8a00 55.6px,#ffff00 59px,#80ff80 61.4px,#00ffff 64.3px,#00d1ff 65.5px,#004dff 67px,#0000ff 72px,#0000e6 73.7px,#0000e6cc 74px,#0000e680 77.7px,#0000 81.7px"></i>
<i style="--g:#0000 22px,#0000 0,#e5ff1a9b 24px,#ff1a009b 26.5px,#e500009b 29.6px,#ff5900 0,#ff6b00 50.2px,#ff8c00 56px,#ffff00 59.5px,#80ff80 62px,#00ffff 64.6px,#00d1ff 65.7px,#004dff 67.3px,#0000ff 72.3px,#0000e6 74px,#0000e6cc 74.5px,#0000e680 78px,#0000 82px"></i>
<i style="--g:#0000 22px,#0000 0,#e5ff1a9c 24.2px,#ff1a009c 26.6px,#e500009c 29.7px,#ff5e00 0,#ff6e00 50.6px,#ff8e00 56.4px,#ffff00 60px,#80ff80 62px,#00ffff 65px,#00d1ff 66px,#004dff 67.5px,#0000ff 72.6px,#0000e6 74.3px,#0000e6cc 75px,#0000e680 78px,#0000 82px"></i>
<i style="--g:#0000 22px,#0000 0,#e5ff1a9e 24.3px,#ff1a009e 26.7px,#e500009e 30px,#ff6300 0,#ff7100 51px,#ff9000 56.8px,#ffff00 60.2px,#80ff80 62.5px,#00ffff 65.3px,#00d1ff 66.3px,#004dff 67.7px,#0000ff 73px,#0000e6 74.7px,#0000e6cc 75px,#0000e680 78.4px,#0000 82px"></i>
<i style="--g:#0000 22px,#0000 0,#e5ff1a9f 24.5px,#ff1a009f 27px,#e500009f 30.4px,#ff6800 0,#ff7300 51.5px,#ff9300 57.2px,#ffff00 60.6px,#00ffff 65.6px,#00d1ff 66.5px,#004dff 68px,#0000ff 73.2px,#0000e6 75px,#0000e6cc 75.5px,#0000e680 78.6px,#0000 82.2px"></i>
<i style="--g:#0000 22px,#0000 0,#e5ff1aa1 24.8px,#ff1a00a1 27.4px,#e50000a1 31px,#ff6b00 0,#ff7600 52px,#ff9400 57.5px,#ffff00 61px,#00ffff 65.8px,#00d1ff 66.7px,#004dff 68px,#0000ff 73.5px,#0000e6 75.2px,#0000e6cc 75.7px,#0000e680 78.8px,#0000 82.3px"></i>
<i style="--g:#0000 23.3px,#0000 0,#e5ff1aa3 25.8px,#ff1a00a3 28.3px,#e50000a3 31.6px,#ff6c00 0,#ff7700 52px,#ff9500 57.7px,#ffff00 61px,#00ffff 66px,#00d1ff 66.7px,#004dff 68.2px,#0000ff 73.5px,#0000e6 75.3px,#0000e6cc 76px,#0000e680 79px,#0000 82.4px"></i>
<i style="--g:#0000 24.5px,#0000 0,#e5ff1aa4 26.8px,#ff1a00a4 29px,#e50000a4 32px,#ff6d00 0,#ff7800 52px,#ff9600 57.8px,#ffff00 61px,#00ffff 66px,#00d1ff 66.8px,#004dff 68.3px,#0000ff 73.6px,#0000e6 75.4px,#0000e6cc 76px,#0000e680 79px,#0000 82.5px"></i>
<i style="--g:#0000 25.7px,#0000 0,#e5ff1aa6 27.8px,#ff1a00a6 30px,#e50000a6 32.7px,#ff6e00 0,#ff7800 52.2px,#ff9700 58px,#ffff00 61px,#00ffff 66px,#00d1ff 67px,#004dff 68.3px,#0000ff 73.7px,#0000e6 75.4px,#0000e6cc 76px,#0000e680 79px,#0000 82.5px"></i>
<i style="--g:#0000 27px,#0000 0,#e5ff1aa8 29px,#ff1a00a8 30.7px,#e50000a8 33.3px,#ff6f00 0,#ff7900 52.4px,#ff9800 58px,#ffff00 61px,#00ffff 66px,#00d1ff 67px,#004dff 68.4px,#0000ff 73.7px,#0000e6 75.5px,#0000e6cc 76px,#0000e680 79px,#0000 82.6px"></i>
<i style="--g:#0000 28px,#0000 0,#e5ff1aa9 30px,#ff1a00a9 31.6px,#e50000a9 34px,#ff7000 0,#ff7a00 52.5px,#ff9900 58px,#ffff00 61.2px,#00ffff 66px,#00d1ff 67px,#004dff 68.5px,#0000ff 73.8px,#0000e6 75.6px,#0000e6cc 76px,#0000e680 79px,#0000 82.7px"></i>
<i style="--g:#0000 29.3px,#0000 0,#e5ff1aab 31px,#ff1a00ab 32.4px,#e50000ab 34.5px,#ff7100 0,#ff7b00 52.6px,#ff9a00 58.3px,#ffff00 61.3px,#00ffff 66px,#00d1ff 67px,#004dff 68.5px,#0000ff 74px,#0000e6 75.6px,#0000e6cc 76px,#0000e680 79px,#0000 82.7px"></i>
<i style="--g:#0000 30.5px,#0000 0,#e5ff1aac 32px,#ff1a00ac 33.2px,#e50000ac 35px,#ff7200 0,#ff7c00 52.8px,#ff9b00 58.4px,#ffff00 61.4px,#00ffff 66px,#00d1ff 67px,#004dff 68.6px,#0000ff 74px,#0000e6 75.7px,#0000e6cc 76px,#0000e680 79.2px,#0000 82.8px"></i>
<i style="--g:#0000 31.7px,#0000 0,#e5ff1aac 33px,#ff1a00ac 34.3px,#e50000ac 36px,#ff7300 0,#ff7d00 53px,#ff9c00 58.6px,#ffff00 61.4px,#00ffff 66px,#00d1ff 67px,#004dff 68.7px,#0000ff 74px,#0000e6 75.8px,#0000e6cc 76.3px,#0000e680 79.3px,#0000 83px"></i>
<i style="--g:#0000 32.4px,#0000 0,#e5ff1aac 33.8px,#ff1a00ac 35px,#e50000ac 37px,#ff7400 0,#ff7e00 53px,#ff9d00 58.7px,#ffff00 61.5px,#00ffff 66px,#00d1ff 67px,#004dff 68.7px,#0000ff 74px,#0000e6 76px,#0000e6cc 76.3px,#0000e680 79.4px,#0000 83px"></i>
<i style="--g:#0000 32.4px,#0000 0,#e5ff1aac 34px,#ff1a00ac 35.8px,#e50000ac 38px,#ff7500 0,#ff7f00 53px,#ff9e00 59px,#ffff00 61.6px,#00ffff 66px,#00d1ff 67px,#004dff 68.8px,#0000ff 74px,#0000e6 76px,#0000e6cc 76.4px,#0000e680 79.4px,#0000 83px"></i>
<i style="--g:#0000 32.4px,#0000 0,#e5ff1aac 35.2px,#ff1a00ac 38px,#e50000ac 42px,#ff7700 0,#ff8000 53.2px,#ff9e00 59px,#ffff00 61.6px,#00ffff 66px,#00d1ff 67px,#004dff 69px,#0000ff 74px,#0000e6 76px,#0000e6cc 76.4px,#0000e680 79.5px,#0000 83px"></i>
<i style="--g:#0000 32.4px,#0000 0,#e5ff1aac 40px,#ff1a00ac 47.4px,#e50000ac 57.4px,#ff9600 0,#ff9e00 59px,#ffff00 61.6px,#00ffff 66px,#00d1ff 67px,#004dff 69px,#0000ff 74px,#0000e6 76px,#0000e6cc 76.4px,#0000e680 79.5px,#0000 83px"></i>
<i style="--g:#0000 32.4px,#0000 0,#e5ff1aac 40px,#ff1a00ac 48px,#e50000ac 58px,#ff9a00 0,#ff9e00 59px,#ffff00 61.6px,#00ffff 66px,#00d1ff 67px,#004dff 69px,#0000ff 74px,#0000e6 76px,#0000e6cc 76.4px,#0000e680 79.5px,#0000 83px"></i>
<i style="--g:#0000 32.4px,#0000 0,#e5ff1aac 40px,#ff1a00ac 48px,#e50000ac 58px,#ff9a00 0,#ff9e00 59px,#ffff00 61.6px,#00ffff 66px,#00d1ff 67px,#004dff 69px,#0000ff 74px,#0000e6 76px,#0000e6cc 76.4px,#0000e680 79.5px,#0000 83px"></i>
</div>
<svg width="500" height="498" viewBox="0 0 500 498" font-family="Liberation Sans" fill="#000">
<rect x="57.62" y="39.40" width="14.10" height="0.80" fill="#000" opacity="0.85"/>
<rect x="71.72" y="39.48" width="12.04" height="0.64" fill="#600" opacity="0.34"/>
<rect x="56.58" y="50.83" width="3.10" height="0.64" fill="#000" opacity="0.85"/>
<rect x="50.74" y="55.99" width="5.85" height="0.64" fill="#000" opacity="0.85"/>
<path d="M34.40 14.50v72.20M52.14 14.50v72.20M69.88 14.50v72.20M87.61 14.50v72.20M105.35 14.50v72.20M27.30 72.26h85.15M27.30 57.82h85.15M27.30 43.38h85.15M27.30 28.94h85.15" stroke="#000" stroke-opacity="0.07" stroke-width="0.6" fill="none"/>
<polyline points="58.48,14.00 57.96,28.62 57.44,39.46 57.10,43.07 56.58,50.98 56.24,57.69 55.38,65.60 54.00,72.14 53.66,77.64 54.18,79.88 62.43,81.77 68.62,82.46 74.82,83.66 81.01,85.04 87.20,86.07" fill="none" stroke="#000" stroke-width="1.40" stroke-linejoin="round"/>
<rect x="27.30" y="14.50" width="85.15" height="72.20" fill="none" stroke="#555" stroke-width="1"/>
<path d="M22.90 86.70h4.4M25.10 83.09h2.2M25.10 79.48h2.2M25.10 75.87h2.2M22.90 72.26h4.4M25.10 68.65h2.2M25.10 65.04h2.2M25.10 61.43h2.2M22.90 57.82h4.4M25.10 54.21h2.2M25.10 50.60h2.2M25.10 46.99h2.2M22.90 43.38h4.4M25.10 39.77h2.2M25.10 36.16h2.2M25.10 32.55h2.2M22.90 28.94h4.4M25.10 25.33h2.2M25.10 21.72h2.2M25.10 18.11h2.2M22.90 14.50h4.4M27.30 86.70v2.2M30.85 86.70v2.2M34.40 86.70v4.4M37.94 86.70v2.2M41.49 86.70v2.2M45.04 86.70v2.2M48.59 86.70v2.2M52.14 86.70v4.4M55.68 86.70v2.2M59.23 86.70v2.2M62.78 86.70v2.2M66.33 86.70v2.2M69.88 86.70v4.4M73.42 86.70v2.2M76.97 86.70v2.2M80.52 86.70v2.2M84.07 86.70v2.2M87.61 86.70v4.4M91.16 86.70v2.2M94.71 86.70v2.2M98.26 86.70v2.2M101.81 86.70v2.2M105.35 86.70v4.4M108.90 86.70v2.2M112.45 86.70v2.2" stroke="#555" stroke-width="0.9" fill="none"/>
<text x="34.40" y="98.10" font-size="5.6" text-anchor="middle" fill="#222">−50</text>
<text x="52.14" y="98.10" font-size="5.6" text-anchor="middle" fill="#222">−25</text>
<text x="69.88" y="98.10" font-size="5.6" text-anchor="middle" fill="#222">0</text>
<text x="87.61" y="98.10" font-size="5.6" text-anchor="middle" fill="#222">25</text>
<text x="105.35" y="98.10" font-size="5.6" text-anchor="middle" fill="#222">50</text>
<text x="69.88" y="107.70" font-size="5.4" text-anchor="middle" fill="#222">Reflectivity [dBZ]</text>
<text x="69.88" y="9.00" font-size="5.5" text-anchor="middle" fill="#222">asb radar</text>
<text x="21.20" y="88.70" font-size="5.6" text-anchor="end" fill="#222">0</text>
<text x="21.20" y="74.26" font-size="5.6" text-anchor="end" fill="#222">2</text>
<text x="21.20" y="59.82" font-size="5.6" text-anchor="end" fill="#222">4</text>
<text x="21.20" y="45.38" font-size="5.6" text-anchor="end" fill="#222">6</text>
<text x="21.20" y="30.94" font-size="5.6" text-anchor="end" fill="#222">8</text>
<text x="21.20" y="16.50" font-size="5.6" text-anchor="end" fill="#222">10</text>
<rect x="152.96" y="40.78" width="29.24" height="0.80" fill="#003" opacity="0.85"/>
<rect x="153.82" y="30.80" width="19.78" height="0.80" fill="#800" opacity="0.26"/>
<rect x="153.82" y="35.96" width="19.78" height="0.80" fill="#600" opacity="0.26"/>
<rect x="153.82" y="45.42" width="24.94" height="0.80" fill="#a00" opacity="0.26"/>
<path d="M129.40 14.50v72.20M147.14 14.50v72.20M164.88 14.50v72.20M182.61 14.50v72.20M200.35 14.50v72.20M122.30 72.26h85.15M122.30 57.82h85.15M122.30 43.38h85.15M122.30 28.94h85.15" stroke="#000" stroke-opacity="0.07" stroke-width="0.6" fill="none"/>
<polyline points="153.82,14.00 153.82,28.62 153.48,39.80 152.96,43.07 152.10,50.12 152.10,57.69 152.27,69.90 153.65,74.03 157.78,80.22 160.36,83.66 154.34,84.00 154.34,86.07" fill="none" stroke="#000" stroke-width="1.40" stroke-linejoin="round"/>
<rect x="122.30" y="14.50" width="85.15" height="72.20" fill="none" stroke="#555" stroke-width="1"/>
<path d="M117.90 86.70h4.4M120.10 83.09h2.2M120.10 79.48h2.2M120.10 75.87h2.2M117.90 72.26h4.4M120.10 68.65h2.2M120.10 65.04h2.2M120.10 61.43h2.2M117.90 57.82h4.4M120.10 54.21h2.2M120.10 50.60h2.2M120.10 46.99h2.2M117.90 43.38h4.4M120.10 39.77h2.2M120.10 36.16h2.2M120.10 32.55h2.2M117.90 28.94h4.4M120.10 25.33h2.2M120.10 21.72h2.2M120.10 18.11h2.2M117.90 14.50h4.4M122.30 86.70v2.2M125.85 86.70v2.2M129.40 86.70v4.4M132.94 86.70v2.2M136.49 86.70v2.2M140.04 86.70v2.2M143.59 86.70v2.2M147.14 86.70v4.4M150.68 86.70v2.2M154.23 86.70v2.2M157.78 86.70v2.2M161.33 86.70v2.2M164.88 86.70v4.4M168.42 86.70v2.2M171.97 86.70v2.2M175.52 86.70v2.2M179.07 86.70v2.2M182.61 86.70v4.4M186.16 86.70v2.2M189.71 86.70v2.2M193.26 86.70v2.2M196.81 86.70v2.2M200.35 86.70v4.4M203.90 86.70v2.2M207.45 86.70v2.2" stroke="#555" stroke-width="0.9" fill="none"/>
<text x="129.40" y="98.10" font-size="5.6" text-anchor="middle" fill="#222">−50</text>
<text x="147.14" y="98.10" font-size="5.6" text-anchor="middle" fill="#222">−25</text>
<text x="164.88" y="98.10" font-size="5.6" text-anchor="middle" fill="#222">0</text>
<text x="182.61" y="98.10" font-size="5.6" text-anchor="middle" fill="#222">25</text>
<text x="200.35" y="98.10" font-size="5.6" text-anchor="middle" fill="#222">50</text>
<text x="164.88" y="107.70" font-size="5.4" text-anchor="middle" fill="#222">Reflectivity [dBZ]</text>
<text x="164.88" y="9.00" font-size="5.5" text-anchor="middle" fill="#222">boo radar</text>
<rect x="249.68" y="25.98" width="22.36" height="0.80" fill="#003" opacity="0.68"/>
<rect x="247.96" y="32.78" width="29.24" height="0.96" fill="#002" opacity="0.77"/>
<rect x="248.82" y="23.92" width="19.78" height="0.80" fill="#900" opacity="0.34"/>
<rect x="248.82" y="29.08" width="24.94" height="0.80" fill="#a00" opacity="0.26"/>
<path d="M224.40 14.50v72.20M242.14 14.50v72.20M259.88 14.50v72.20M277.61 14.50v72.20M295.35 14.50v72.20M217.30 72.26h85.15M217.30 57.82h85.15M217.30 43.38h85.15M217.30 28.94h85.15" stroke="#000" stroke-opacity="0.07" stroke-width="0.6" fill="none"/>
<polyline points="248.82,14.00 248.30,24.32 247.62,29.48 247.96,33.26 247.10,43.07 246.24,53.56 246.58,59.06 253.98,60.44 247.96,62.16 247.96,72.14 249.68,77.64 253.12,81.08 273.76,84.86" fill="none" stroke="#000" stroke-width="1.40" stroke-linejoin="round"/>
<rect x="217.30" y="14.50" width="85.15" height="72.20" fill="none" stroke="#555" stroke-width="1"/>
<path d="M212.90 86.70h4.4M215.10 83.09h2.2M215.10 79.48h2.2M215.10 75.87h2.2M212.90 72.26h4.4M215.10 68.65h2.2M215.10 65.04h2.2M215.10 61.43h2.2M212.90 57.82h4.4M215.10 54.21h2.2M215.10 50.60h2.2M215.10 46.99h2.2M212.90 43.38h4.4M215.10 39.77h2.2M215.10 36.16h2.2M215.10 32.55h2.2M212.90 28.94h4.4M215.10 25.33h2.2M215.10 21.72h2.2M215.10 18.11h2.2M212.90 14.50h4.4M217.30 86.70v2.2M220.85 86.70v2.2M224.40 86.70v4.4M227.94 86.70v2.2M231.49 86.70v2.2M235.04 86.70v2.2M238.59 86.70v2.2M242.14 86.70v4.4M245.68 86.70v2.2M249.23 86.70v2.2M252.78 86.70v2.2M256.33 86.70v2.2M259.88 86.70v4.4M263.42 86.70v2.2M266.97 86.70v2.2M270.52 86.70v2.2M274.07 86.70v2.2M277.61 86.70v4.4M281.16 86.70v2.2M284.71 86.70v2.2M288.26 86.70v2.2M291.81 86.70v2.2M295.35 86.70v4.4M298.90 86.70v2.2M302.45 86.70v2.2" stroke="#555" stroke-width="0.9" fill="none"/>
<text x="224.40" y="98.10" font-size="5.6" text-anchor="middle" fill="#222">−50</text>
<text x="242.14" y="98.10" font-size="5.6" text-anchor="middle" fill="#222">−25</text>
<text x="259.88" y="98.10" font-size="5.6" text-anchor="middle" fill="#222">0</text>
<text x="277.61" y="98.10" font-size="5.6" text-anchor="middle" fill="#222">25</text>
<text x="295.35" y="98.10" font-size="5.6" text-anchor="middle" fill="#222">50</text>
<text x="259.88" y="107.70" font-size="5.4" text-anchor="middle" fill="#222">Reflectivity [dBZ]</text>
<text x="259.88" y="9.00" font-size="5.5" text-anchor="middle" fill="#222">drs radar</text>
<path d="M319.40 14.50v72.20M337.14 14.50v72.20M354.88 14.50v72.20M372.61 14.50v72.20M390.35 14.50v72.20M312.30 72.26h85.15M312.30 57.82h85.15M312.30 43.38h85.15M312.30 28.94h85.15" stroke="#000" stroke-opacity="0.07" stroke-width="0.6" fill="none"/>
<polyline points="344.68,14.00 344.34,24.32 343.82,28.62 343.30,43.07 342.62,51.84 342.10,57.69 343.82,65.60 345.54,72.14 347.26,77.64 348.12,81.08 342.96,83.32 368.76,84.86" fill="none" stroke="#000" stroke-width="1.40" stroke-linejoin="round"/>
<rect x="312.30" y="14.50" width="85.15" height="72.20" fill="none" stroke="#555" stroke-width="1"/>
<path d="M307.90 86.70h4.4M310.10 83.09h2.2M310.10 79.48h2.2M310.10 75.87h2.2M307.90 72.26h4.4M310.10 68.65h2.2M310.10 65.04h2.2M310.10 61.43h2.2M307.90 57.82h4.4M310.10 54.21h2.2M310.10 50.60h2.2M310.10 46.99h2.2M307.90 43.38h4.4M310.10 39.77h2.2M310.10 36.16h2.2M310.10 32.55h2.2M307.90 28.94h4.4M310.10 25.33h2.2M310.10 21.72h2.2M310.10 18.11h2.2M307.90 14.50h4.4M312.30 86.70v2.2M315.85 86.70v2.2M319.40 86.70v4.4M322.94 86.70v2.2M326.49 86.70v2.2M330.04 86.70v2.2M333.59 86.70v2.2M337.14 86.70v4.4M340.68 86.70v2.2M344.23 86.70v2.2M347.78 86.70v2.2M351.33 86.70v2.2M354.88 86.70v4.4M358.42 86.70v2.2M361.97 86.70v2.2M365.52 86.70v2.2M369.07 86.70v2.2M372.61 86.70v4.4M376.16 86.70v2.2M379.71 86.70v2.2M383.26 86.70v2.2M386.81 86.70v2.2M390.35 86.70v4.4M393.90 86.70v2.2M397.45 86.70v2.2" stroke="#555" stroke-width="0.9" fill="none"/>
<text x="319.40" y="98.10" font-size="5.6" text-anchor="middle" fill="#222">−50</text>
<text x="337.14" y="98.10" font-size="5.6" text-anchor="middle" fill="#222">−25</text>
<text x="354.88" y="98.10" font-size="5.6" text-anchor="middle" fill="#222">0</text>
<text x="372.61" y="98.10" font-size="5.6" text-anchor="middle" fill="#222">25</text>
<text x="390.35" y="98.10" font-size="5.6" text-anchor="middle" fill="#222">50</text>
<text x="354.88" y="107.70" font-size="5.4" text-anchor="middle" fill="#222">Reflectivity [dBZ]</text>
<text x="354.88" y="9.00" font-size="5.5" text-anchor="middle" fill="#222">eis radar</text>
<rect x="439.68" y="35.96" width="27.52" height="0.80" fill="#300" opacity="0.42"/>
<rect x="438.82" y="53.16" width="28.38" height="0.80" fill="#300" opacity="0.42"/>
<rect x="441.40" y="70.36" width="30.96" height="0.80" fill="#ff0" opacity="0.34"/>
<rect x="441.40" y="78.96" width="30.96" height="0.80" fill="#fd0" opacity="0.34"/>
<path d="M414.40 14.50v72.20M432.14 14.50v72.20M449.88 14.50v72.20M467.61 14.50v72.20M485.35 14.50v72.20M407.30 72.26h85.15M407.30 57.82h85.15M407.30 43.38h85.15M407.30 28.94h85.15" stroke="#000" stroke-opacity="0.07" stroke-width="0.6" fill="none"/>
<polyline points="442.26,14.00 440.54,20.88 439.68,28.62 440.02,36.36 439.16,43.07 439.68,48.40 438.30,53.56 438.82,57.69 437.62,63.88 439.68,69.04 438.30,72.14 440.54,77.64 441.06,80.05 441.40,81.42 437.96,83.66 460.32,84.52" fill="none" stroke="#000" stroke-width="2.00" stroke-linejoin="round"/>
<rect x="407.30" y="14.50" width="85.15" height="72.20" fill="none" stroke="#555" stroke-width="1"/>
<path d="M402.90 86.70h4.4M405.10 83.09h2.2M405.10 79.48h2.2M405.10 75.87h2.2M402.90 72.26h4.4M405.10 68.65h2.2M405.10 65.04h2.2M405.10 61.43h2.2M402.90 57.82h4.4M405.10 54.21h2.2M405.10 50.60h2.2M405.10 46.99h2.2M402.90 43.38h4.4M405.10 39.77h2.2M405.10 36.16h2.2M405.10 32.55h2.2M402.90 28.94h4.4M405.10 25.33h2.2M405.10 21.72h2.2M405.10 18.11h2.2M402.90 14.50h4.4M407.30 86.70v2.2M410.85 86.70v2.2M414.40 86.70v4.4M417.94 86.70v2.2M421.49 86.70v2.2M425.04 86.70v2.2M428.59 86.70v2.2M432.14 86.70v4.4M435.68 86.70v2.2M439.23 86.70v2.2M442.78 86.70v2.2M446.33 86.70v2.2M449.88 86.70v4.4M453.42 86.70v2.2M456.97 86.70v2.2M460.52 86.70v2.2M464.07 86.70v2.2M467.61 86.70v4.4M471.16 86.70v2.2M474.71 86.70v2.2M478.26 86.70v2.2M481.81 86.70v2.2M485.35 86.70v4.4M488.90 86.70v2.2M492.45 86.70v2.2" stroke="#555" stroke-width="0.9" fill="none"/>
<text x="414.40" y="98.10" font-size="5.6" text-anchor="middle" fill="#222">−50</text>
<text x="432.14" y="98.10" font-size="5.6" text-anchor="middle" fill="#222">−25</text>
<text x="449.88" y="98.10" font-size="5.6" text-anchor="middle" fill="#222">0</text>
<text x="467.61" y="98.10" font-size="5.6" text-anchor="middle" fill="#222">25</text>
<text x="485.35" y="98.10" font-size="5.6" text-anchor="middle" fill="#222">50</text>
<text x="449.88" y="107.70" font-size="5.4" text-anchor="middle" fill="#222">Reflectivity [dBZ]</text>
<text x="449.88" y="9.00" font-size="5.5" text-anchor="middle" fill="#222">ess radar</text>
<path d="M34.40 125.10v72.20M52.14 125.10v72.20M69.88 125.10v72.20M87.61 125.10v72.20M105.35 125.10v72.20M27.30 182.86h85.15M27.30 168.42h85.15M27.30 153.98h85.15M27.30 139.54h85.15" stroke="#000" stroke-opacity="0.07" stroke-width="0.6" fill="none"/>
<polyline points="59.34,125.00 58.82,139.62 58.48,154.07 58.13,164.56 58.99,168.17 57.62,175.22 62.26,181.59 58.48,186.92 67.42,192.42 71.72,193.80 94.08,195.86" fill="none" stroke="#000" stroke-width="1.40" stroke-linejoin="round"/>
<rect x="27.30" y="125.10" width="85.15" height="72.20" fill="none" stroke="#555" stroke-width="1"/>
<path d="M22.90 197.30h4.4M25.10 193.69h2.2M25.10 190.08h2.2M25.10 186.47h2.2M22.90 182.86h4.4M25.10 179.25h2.2M25.10 175.64h2.2M25.10 172.03h2.2M22.90 168.42h4.4M25.10 164.81h2.2M25.10 161.20h2.2M25.10 157.59h2.2M22.90 153.98h4.4M25.10 150.37h2.2M25.10 146.76h2.2M25.10 143.15h2.2M22.90 139.54h4.4M25.10 135.93h2.2M25.10 132.32h2.2M25.10 128.71h2.2M22.90 125.10h4.4M27.30 197.30v2.2M30.85 197.30v2.2M34.40 197.30v4.4M37.94 197.30v2.2M41.49 197.30v2.2M45.04 197.30v2.2M48.59 197.30v2.2M52.14 197.30v4.4M55.68 197.30v2.2M59.23 197.30v2.2M62.78 197.30v2.2M66.33 197.30v2.2M69.88 197.30v4.4M73.42 197.30v2.2M76.97 197.30v2.2M80.52 197.30v2.2M84.07 197.30v2.2M87.61 197.30v4.4M91.16 197.30v2.2M94.71 197.30v2.2M98.26 197.30v2.2M101.81 197.30v2.2M105.35 197.30v4.4M108.90 197.30v2.2M112.45 197.30v2.2" stroke="#555" stroke-width="0.9" fill="none"/>
<text x="34.40" y="208.70" font-size="5.6" text-anchor="middle" fill="#222">−50</text>
<text x="52.14" y="208.70" font-size="5.6" text-anchor="middle" fill="#222">−25</text>
<text x="69.88" y="208.70" font-size="5.6" text-anchor="middle" fill="#222">0</text>
<text x="87.61" y="208.70" font-size="5.6" text-anchor="middle" fill="#222">25</text>
<text x="105.35" y="208.70" font-size="5.6" text-anchor="middle" fill="#222">50</text>
<text x="69.88" y="218.30" font-size="5.4" text-anchor="middle" fill="#222">Reflectivity [dBZ]</text>
<text x="69.88" y="119.60" font-size="5.5" text-anchor="middle" fill="#222">fbg radar</text>
<text x="21.20" y="199.30" font-size="5.6" text-anchor="end" fill="#222">0</text>
<text x="21.20" y="184.86" font-size="5.6" text-anchor="end" fill="#222">2</text>
<text x="21.20" y="170.42" font-size="5.6" text-anchor="end" fill="#222">4</text>
<text x="21.20" y="155.98" font-size="5.6" text-anchor="end" fill="#222">6</text>
<text x="21.20" y="141.54" font-size="5.6" text-anchor="end" fill="#222">8</text>
<text x="21.20" y="127.10" font-size="5.6" text-anchor="end" fill="#222">10</text>
<path d="M129.40 125.10v72.20M147.14 125.10v72.20M164.88 125.10v72.20M182.61 125.10v72.20M200.35 125.10v72.20M122.30 182.86h85.15M122.30 168.42h85.15M122.30 153.98h85.15M122.30 139.54h85.15" stroke="#000" stroke-opacity="0.07" stroke-width="0.6" fill="none"/>
<polyline points="153.82,125.00 153.82,139.62 152.96,154.07 152.10,168.69 152.96,176.60 153.82,183.14 156.40,188.64 158.98,192.08 152.96,194.66 178.76,195.52" fill="none" stroke="#000" stroke-width="1.40" stroke-linejoin="round"/>
<rect x="122.30" y="125.10" width="85.15" height="72.20" fill="none" stroke="#555" stroke-width="1"/>
<path d="M117.90 197.30h4.4M120.10 193.69h2.2M120.10 190.08h2.2M120.10 186.47h2.2M117.90 182.86h4.4M120.10 179.25h2.2M120.10 175.64h2.2M120.10 172.03h2.2M117.90 168.42h4.4M120.10 164.81h2.2M120.10 161.20h2.2M120.10 157.59h2.2M117.90 153.98h4.4M120.10 150.37h2.2M120.10 146.76h2.2M120.10 143.15h2.2M117.90 139.54h4.4M120.10 135.93h2.2M120.10 132.32h2.2M120.10 128.71h2.2M117.90 125.10h4.4M122.30 197.30v2.2M125.85 197.30v2.2M129.40 197.30v4.4M132.94 197.30v2.2M136.49 197.30v2.2M140.04 197.30v2.2M143.59 197.30v2.2M147.14 197.30v4.4M150.68 197.30v2.2M154.23 197.30v2.2M157.78 197.30v2.2M161.33 197.30v2.2M164.88 197.30v4.4M168.42 197.30v2.2M171.97 197.30v2.2M175.52 197.30v2.2M179.07 197.30v2.2M182.61 197.30v4.4M186.16 197.30v2.2M189.71 197.30v2.2M193.26 197.30v2.2M196.81 197.30v2.2M200.35 197.30v4.4M203.90 197.30v2.2M207.45 197.30v2.2" stroke="#555" stroke-width="0.9" fill="none"/>
<text x="129.40" y="208.70" font-size="5.6" text-anchor="middle" fill="#222">−50</text>
<text x="147.14" y="208.70" font-size="5.6" text-anchor="middle" fill="#222">−25</text>
<text x="164.88" y="208.70" font-size="5.6" text-anchor="middle" fill="#222">0</text>
<text x="182.61" y="208.70" font-size="5.6" text-anchor="middle" fill="#222">25</text>
<text x="200.35" y="208.70" font-size="5.6" text-anchor="middle" fill="#222">50</text>
<text x="164.88" y="218.30" font-size="5.4" text-anchor="middle" fill="#222">Reflectivity [dBZ]</text>
<text x="164.88" y="119.60" font-size="5.5" text-anchor="middle" fill="#222">fld radar</text>
<rect x="241.08" y="159.86" width="36.12" height="0.80" fill="#000" opacity="0.68"/>
<rect x="246.24" y="171.04" width="46.44" height="0.80" fill="#002" opacity="0.68"/>
<rect x="248.82" y="149.54" width="24.94" height="0.80" fill="#600" opacity="0.34"/>
<rect x="249.68" y="176.20" width="36.12" height="0.80" fill="#900" opacity="0.26"/>
<rect x="249.68" y="179.64" width="39.56" height="0.80" fill="#b00" opacity="0.26"/>
<path d="M224.40 125.10v72.20M242.14 125.10v72.20M259.88 125.10v72.20M277.61 125.10v72.20M295.35 125.10v72.20M217.30 182.86h85.15M217.30 168.42h85.15M217.30 153.98h85.15M217.30 139.54h85.15" stroke="#000" stroke-opacity="0.07" stroke-width="0.6" fill="none"/>
<polyline points="250.54,125.00 248.82,131.88 249.68,139.62 248.82,154.07 247.10,164.56 247.10,168.69 249.68,176.60 250.54,183.14 254.84,188.64 258.28,192.94 256.56,195.52 268.60,195.86" fill="none" stroke="#000" stroke-width="2.20" stroke-linejoin="round"/>
<rect x="217.30" y="125.10" width="85.15" height="72.20" fill="none" stroke="#555" stroke-width="1"/>
<path d="M212.90 197.30h4.4M215.10 193.69h2.2M215.10 190.08h2.2M215.10 186.47h2.2M212.90 182.86h4.4M215.10 179.25h2.2M215.10 175.64h2.2M215.10 172.03h2.2M212.90 168.42h4.4M215.10 164.81h2.2M215.10 161.20h2.2M215.10 157.59h2.2M212.90 153.98h4.4M215.10 150.37h2.2M215.10 146.76h2.2M215.10 143.15h2.2M212.90 139.54h4.4M215.10 135.93h2.2M215.10 132.32h2.2M215.10 128.71h2.2M212.90 125.10h4.4M217.30 197.30v2.2M220.85 197.30v2.2M224.40 197.30v4.4M227.94 197.30v2.2M231.49 197.30v2.2M235.04 197.30v2.2M238.59 197.30v2.2M242.14 197.30v4.4M245.68 197.30v2.2M249.23 197.30v2.2M252.78 197.30v2.2M256.33 197.30v2.2M259.88 197.30v4.4M263.42 197.30v2.2M266.97 197.30v2.2M270.52 197.30v2.2M274.07 197.30v2.2M277.61 197.30v4.4M281.16 197.30v2.2M284.71 197.30v2.2M288.26 197.30v2.2M291.81 197.30v2.2M295.35 197.30v4.4M298.90 197.30v2.2M302.45 197.30v2.2" stroke="#555" stroke-width="0.9" fill="none"/>
<text x="224.40" y="208.70" font-size="5.6" text-anchor="middle" fill="#222">−50</text>
<text x="242.14" y="208.70" font-size="5.6" text-anchor="middle" fill="#222">−25</text>
<text x="259.88" y="208.70" font-size="5.6" text-anchor="middle" fill="#222">0</text>
<text x="277.61" y="208.70" font-size="5.6" text-anchor="middle" fill="#222">25</text>
<text x="295.35" y="208.70" font-size="5.6" text-anchor="middle" fill="#222">50</text>
<text x="259.88" y="218.30" font-size="5.4" text-anchor="middle" fill="#222">Reflectivity [dBZ]</text>
<text x="259.88" y="119.60" font-size="5.5" text-anchor="middle" fill="#222">hnr radar</text>
<path d="M319.40 125.10v72.20M337.14 125.10v72.20M354.88 125.10v72.20M372.61 125.10v72.20M390.35 125.10v72.20M312.30 182.86h85.15M312.30 168.42h85.15M312.30 153.98h85.15M312.30 139.54h85.15" stroke="#000" stroke-opacity="0.07" stroke-width="0.6" fill="none"/>
<polyline points="346.40,125.00 344.68,139.62 343.30,154.07 342.10,168.69 343.30,176.60 344.34,183.14 347.26,188.64 348.98,192.08 343.82,194.66 370.48,195.86" fill="none" stroke="#000" stroke-width="1.40" stroke-linejoin="round"/>
<rect x="312.30" y="125.10" width="85.15" height="72.20" fill="none" stroke="#555" stroke-width="1"/>
<path d="M307.90 197.30h4.4M310.10 193.69h2.2M310.10 190.08h2.2M310.10 186.47h2.2M307.90 182.86h4.4M310.10 179.25h2.2M310.10 175.64h2.2M310.10 172.03h2.2M307.90 168.42h4.4M310.10 164.81h2.2M310.10 161.20h2.2M310.10 157.59h2.2M307.90 153.98h4.4M310.10 150.37h2.2M310.10 146.76h2.2M310.10 143.15h2.2M307.90 139.54h4.4M310.10 135.93h2.2M310.10 132.32h2.2M310.10 128.71h2.2M307.90 125.10h4.4M312.30 197.30v2.2M315.85 197.30v2.2M319.40 197.30v4.4M322.94 197.30v2.2M326.49 197.30v2.2M330.04 197.30v2.2M333.59 197.30v2.2M337.14 197.30v4.4M340.68 197.30v2.2M344.23 197.30v2.2M347.78 197.30v2.2M351.33 197.30v2.2M354.88 197.30v4.4M358.42 197.30v2.2M361.97 197.30v2.2M365.52 197.30v2.2M369.07 197.30v2.2M372.61 197.30v4.4M376.16 197.30v2.2M379.71 197.30v2.2M383.26 197.30v2.2M386.81 197.30v2.2M390.35 197.30v4.4M393.90 197.30v2.2M397.45 197.30v2.2" stroke="#555" stroke-width="0.9" fill="none"/>
<text x="319.40" y="208.70" font-size="5.6" text-anchor="middle" fill="#222">−50</text>
<text x="337.14" y="208.70" font-size="5.6" text-anchor="middle" fill="#222">−25</text>
<text x="354.88" y="208.70" font-size="5.6" text-anchor="middle" fill="#222">0</text>
<text x="372.61" y="208.70" font-size="5.6" text-anchor="middle" fill="#222">25</text>
<text x="390.35" y="208.70" font-size="5.6" text-anchor="middle" fill="#222">50</text>
<text x="354.88" y="218.30" font-size="5.4" text-anchor="middle" fill="#222">Reflectivity [dBZ]</text>
<text x="354.88" y="119.60" font-size="5.5" text-anchor="middle" fill="#222">isn radar</text>
<path d="M414.40 125.10v72.20M432.14 125.10v72.20M449.88 125.10v72.20M467.61 125.10v72.20M485.35 125.10v72.20M407.30 182.86h85.15M407.30 168.42h85.15M407.30 153.98h85.15M407.30 139.54h85.15" stroke="#000" stroke-opacity="0.07" stroke-width="0.6" fill="none"/>
<polyline points="437.96,125.00 437.96,139.62 438.30,154.07 435.38,164.56 434.52,168.69 436.24,176.60 437.96,183.14 440.54,188.64 441.40,192.08 438.82,194.66 462.04,195.52" fill="none" stroke="#000" stroke-width="1.40" stroke-linejoin="round"/>
<rect x="407.30" y="125.10" width="85.15" height="72.20" fill="none" stroke="#555" stroke-width="1"/>
<path d="M402.90 197.30h4.4M405.10 193.69h2.2M405.10 190.08h2.2M405.10 186.47h2.2M402.90 182.86h4.4M405.10 179.25h2.2M405.10 175.64h2.2M405.10 172.03h2.2M402.90 168.42h4.4M405.10 164.81h2.2M405.10 161.20h2.2M405.10 157.59h2.2M402.90 153.98h4.4M405.10 150.37h2.2M405.10 146.76h2.2M405.10 143.15h2.2M402.90 139.54h4.4M405.10 135.93h2.2M405.10 132.32h2.2M405.10 128.71h2.2M402.90 125.10h4.4M407.30 197.30v2.2M410.85 197.30v2.2M414.40 197.30v4.4M417.94 197.30v2.2M421.49 197.30v2.2M425.04 197.30v2.2M428.59 197.30v2.2M432.14 197.30v4.4M435.68 197.30v2.2M439.23 197.30v2.2M442.78 197.30v2.2M446.33 197.30v2.2M449.88 197.30v4.4M453.42 197.30v2.2M456.97 197.30v2.2M460.52 197.30v2.2M464.07 197.30v2.2M467.61 197.30v4.4M471.16 197.30v2.2M474.71 197.30v2.2M478.26 197.30v2.2M481.81 197.30v2.2M485.35 197.30v4.4M488.90 197.30v2.2M492.45 197.30v2.2" stroke="#555" stroke-width="0.9" fill="none"/>
<text x="414.40" y="208.70" font-size="5.6" text-anchor="middle" fill="#222">−50</text>
<text x="432.14" y="208.70" font-size="5.6" text-anchor="middle" fill="#222">−25</text>
<text x="449.88" y="208.70" font-size="5.6" text-anchor="middle" fill="#222">0</text>
<text x="467.61" y="208.70" font-size="5.6" text-anchor="middle" fill="#222">25</text>
<text x="485.35" y="208.70" font-size="5.6" text-anchor="middle" fill="#222">50</text>
<text x="449.88" y="218.30" font-size="5.4" text-anchor="middle" fill="#222">Reflectivity [dBZ]</text>
<text x="449.88" y="119.60" font-size="5.5" text-anchor="middle" fill="#222">mem radar</text>
<path d="M34.40 235.70v72.20M52.14 235.70v72.20M69.88 235.70v72.20M87.61 235.70v72.20M105.35 235.70v72.20M27.30 293.46h85.15M27.30 279.02h85.15M27.30 264.58h85.15M27.30 250.14h85.15" stroke="#000" stroke-opacity="0.07" stroke-width="0.6" fill="none"/>
<polyline points="60.02,235.00 60.54,250.31 57.96,264.76 56.24,279.38 57.96,293.82 63.12,301.05 68.28,304.66" fill="none" stroke="#000" stroke-width="1.40" stroke-linejoin="round"/>
<rect x="27.30" y="235.70" width="85.15" height="72.20" fill="none" stroke="#555" stroke-width="1"/>
<path d="M22.90 307.90h4.4M25.10 304.29h2.2M25.10 300.68h2.2M25.10 297.07h2.2M22.90 293.46h4.4M25.10 289.85h2.2M25.10 286.24h2.2M25.10 282.63h2.2M22.90 279.02h4.4M25.10 275.41h2.2M25.10 271.80h2.2M25.10 268.19h2.2M22.90 264.58h4.4M25.10 260.97h2.2M25.10 257.36h2.2M25.10 253.75h2.2M22.90 250.14h4.4M25.10 246.53h2.2M25.10 242.92h2.2M25.10 239.31h2.2M22.90 235.70h4.4M27.30 307.90v2.2M30.85 307.90v2.2M34.40 307.90v4.4M37.94 307.90v2.2M41.49 307.90v2.2M45.04 307.90v2.2M48.59 307.90v2.2M52.14 307.90v4.4M55.68 307.90v2.2M59.23 307.90v2.2M62.78 307.90v2.2M66.33 307.90v2.2M69.88 307.90v4.4M73.42 307.90v2.2M76.97 307.90v2.2M80.52 307.90v2.2M84.07 307.90v2.2M87.61 307.90v4.4M91.16 307.90v2.2M94.71 307.90v2.2M98.26 307.90v2.2M101.81 307.90v2.2M105.35 307.90v4.4M108.90 307.90v2.2M112.45 307.90v2.2" stroke="#555" stroke-width="0.9" fill="none"/>
<text x="34.40" y="319.30" font-size="5.6" text-anchor="middle" fill="#222">−50</text>
<text x="52.14" y="319.30" font-size="5.6" text-anchor="middle" fill="#222">−25</text>
<text x="69.88" y="319.30" font-size="5.6" text-anchor="middle" fill="#222">0</text>
<text x="87.61" y="319.30" font-size="5.6" text-anchor="middle" fill="#222">25</text>
<text x="105.35" y="319.30" font-size="5.6" text-anchor="middle" fill="#222">50</text>
<text x="69.88" y="328.90" font-size="5.4" text-anchor="middle" fill="#222">Reflectivity [dBZ]</text>
<text x="69.88" y="230.20" font-size="5.5" text-anchor="middle" fill="#222">neu radar</text>
<text x="21.20" y="309.90" font-size="5.6" text-anchor="end" fill="#222">0</text>
<text x="21.20" y="295.46" font-size="5.6" text-anchor="end" fill="#222">2</text>
<text x="21.20" y="281.02" font-size="5.6" text-anchor="end" fill="#222">4</text>
<text x="21.20" y="266.58" font-size="5.6" text-anchor="end" fill="#222">6</text>
<text x="21.20" y="252.14" font-size="5.6" text-anchor="end" fill="#222">8</text>
<text x="21.20" y="237.70" font-size="5.6" text-anchor="end" fill="#222">10</text>
<path d="M129.40 235.70v72.20M147.14 235.70v72.20M164.88 235.70v72.20M182.61 235.70v72.20M200.35 235.70v72.20M122.30 293.46h85.15M122.30 279.02h85.15M122.30 264.58h85.15M122.30 250.14h85.15" stroke="#000" stroke-opacity="0.07" stroke-width="0.6" fill="none"/>
<polyline points="154.68,235.00 155.54,250.31 154.68,264.76 152.96,279.38 156.40,293.82 159.84,301.05 162.42,303.80 153.82,305.18 177.04,305.86" fill="none" stroke="#000" stroke-width="1.40" stroke-linejoin="round"/>
<rect x="122.30" y="235.70" width="85.15" height="72.20" fill="none" stroke="#555" stroke-width="1"/>
<path d="M117.90 307.90h4.4M120.10 304.29h2.2M120.10 300.68h2.2M120.10 297.07h2.2M117.90 293.46h4.4M120.10 289.85h2.2M120.10 286.24h2.2M120.10 282.63h2.2M117.90 279.02h4.4M120.10 275.41h2.2M120.10 271.80h2.2M120.10 268.19h2.2M117.90 264.58h4.4M120.10 260.97h2.2M120.10 257.36h2.2M120.10 253.75h2.2M117.90 250.14h4.4M120.10 246.53h2.2M120.10 242.92h2.2M120.10 239.31h2.2M117.90 235.70h4.4M122.30 307.90v2.2M125.85 307.90v2.2M129.40 307.90v4.4M132.94 307.90v2.2M136.49 307.90v2.2M140.04 307.90v2.2M143.59 307.90v2.2M147.14 307.90v4.4M150.68 307.90v2.2M154.23 307.90v2.2M157.78 307.90v2.2M161.33 307.90v2.2M164.88 307.90v4.4M168.42 307.90v2.2M171.97 307.90v2.2M175.52 307.90v2.2M179.07 307.90v2.2M182.61 307.90v4.4M186.16 307.90v2.2M189.71 307.90v2.2M193.26 307.90v2.2M196.81 307.90v2.2M200.35 307.90v4.4M203.90 307.90v2.2M207.45 307.90v2.2" stroke="#555" stroke-width="0.9" fill="none"/>
<text x="129.40" y="319.30" font-size="5.6" text-anchor="middle" fill="#222">−50</text>
<text x="147.14" y="319.30" font-size="5.6" text-anchor="middle" fill="#222">−25</text>
<text x="164.88" y="319.30" font-size="5.6" text-anchor="middle" fill="#222">0</text>
<text x="182.61" y="319.30" font-size="5.6" text-anchor="middle" fill="#222">25</text>
<text x="200.35" y="319.30" font-size="5.6" text-anchor="middle" fill="#222">50</text>
<text x="164.88" y="328.90" font-size="5.4" text-anchor="middle" fill="#222">Reflectivity [dBZ]</text>
<text x="164.88" y="230.20" font-size="5.5" text-anchor="middle" fill="#222">nhb radar</text>
<path d="M224.40 235.70v72.20M242.14 235.70v72.20M259.88 235.70v72.20M277.61 235.70v72.20M295.35 235.70v72.20M217.30 293.46h85.15M217.30 279.02h85.15M217.30 264.58h85.15M217.30 250.14h85.15" stroke="#000" stroke-opacity="0.07" stroke-width="0.6" fill="none"/>
<polyline points="250.02,235.00 250.54,250.31 249.68,264.76 249.68,279.38 251.40,293.82 253.98,301.05 255.70,303.80 248.82,305.18 260.00,305.52" fill="none" stroke="#000" stroke-width="1.60" stroke-linejoin="round"/>
<rect x="217.30" y="235.70" width="85.15" height="72.20" fill="none" stroke="#555" stroke-width="1"/>
<path d="M212.90 307.90h4.4M215.10 304.29h2.2M215.10 300.68h2.2M215.10 297.07h2.2M212.90 293.46h4.4M215.10 289.85h2.2M215.10 286.24h2.2M215.10 282.63h2.2M212.90 279.02h4.4M215.10 275.41h2.2M215.10 271.80h2.2M215.10 268.19h2.2M212.90 264.58h4.4M215.10 260.97h2.2M215.10 257.36h2.2M215.10 253.75h2.2M212.90 250.14h4.4M215.10 246.53h2.2M215.10 242.92h2.2M215.10 239.31h2.2M212.90 235.70h4.4M217.30 307.90v2.2M220.85 307.90v2.2M224.40 307.90v4.4M227.94 307.90v2.2M231.49 307.90v2.2M235.04 307.90v2.2M238.59 307.90v2.2M242.14 307.90v4.4M245.68 307.90v2.2M249.23 307.90v2.2M252.78 307.90v2.2M256.33 307.90v2.2M259.88 307.90v4.4M263.42 307.90v2.2M266.97 307.90v2.2M270.52 307.90v2.2M274.07 307.90v2.2M277.61 307.90v4.4M281.16 307.90v2.2M284.71 307.90v2.2M288.26 307.90v2.2M291.81 307.90v2.2M295.35 307.90v4.4M298.90 307.90v2.2M302.45 307.90v2.2" stroke="#555" stroke-width="0.9" fill="none"/>
<text x="224.40" y="319.30" font-size="5.6" text-anchor="middle" fill="#222">−50</text>
<text x="242.14" y="319.30" font-size="5.6" text-anchor="middle" fill="#222">−25</text>
<text x="259.88" y="319.30" font-size="5.6" text-anchor="middle" fill="#222">0</text>
<text x="277.61" y="319.30" font-size="5.6" text-anchor="middle" fill="#222">25</text>
<text x="295.35" y="319.30" font-size="5.6" text-anchor="middle" fill="#222">50</text>
<text x="259.88" y="328.90" font-size="5.4" text-anchor="middle" fill="#222">Reflectivity [dBZ]</text>
<text x="259.88" y="230.20" font-size="5.5" text-anchor="middle" fill="#222">oft radar</text>
<path d="M319.40 235.70v72.20M337.14 235.70v72.20M354.88 235.70v72.20M372.61 235.70v72.20M390.35 235.70v72.20M312.30 293.46h85.15M312.30 279.02h85.15M312.30 264.58h85.15M312.30 250.14h85.15" stroke="#000" stroke-opacity="0.07" stroke-width="0.6" fill="none"/>
<polyline points="345.54,235.00 344.68,250.31 343.82,264.76 341.24,279.38 342.96,293.82 346.40,301.05 348.12,303.80 343.82,305.18 368.76,305.86" fill="none" stroke="#000" stroke-width="1.40" stroke-linejoin="round"/>
<rect x="312.30" y="235.70" width="85.15" height="72.20" fill="none" stroke="#555" stroke-width="1"/>
<path d="M307.90 307.90h4.4M310.10 304.29h2.2M310.10 300.68h2.2M310.10 297.07h2.2M307.90 293.46h4.4M310.10 289.85h2.2M310.10 286.24h2.2M310.10 282.63h2.2M307.90 279.02h4.4M310.10 275.41h2.2M310.10 271.80h2.2M310.10 268.19h2.2M307.90 264.58h4.4M310.10 260.97h2.2M310.10 257.36h2.2M310.10 253.75h2.2M307.90 250.14h4.4M310.10 246.53h2.2M310.10 242.92h2.2M310.10 239.31h2.2M307.90 235.70h4.4M312.30 307.90v2.2M315.85 307.90v2.2M319.40 307.90v4.4M322.94 307.90v2.2M326.49 307.90v2.2M330.04 307.90v2.2M333.59 307.90v2.2M337.14 307.90v4.4M340.68 307.90v2.2M344.23 307.90v2.2M347.78 307.90v2.2M351.33 307.90v2.2M354.88 307.90v4.4M358.42 307.90v2.2M361.97 307.90v2.2M365.52 307.90v2.2M369.07 307.90v2.2M372.61 307.90v4.4M376.16 307.90v2.2M379.71 307.90v2.2M383.26 307.90v2.2M386.81 307.90v2.2M390.35 307.90v4.4M393.90 307.90v2.2M397.45 307.90v2.2" stroke="#555" stroke-width="0.9" fill="none"/>
<text x="319.40" y="319.30" font-size="5.6" text-anchor="middle" fill="#222">−50</text>
<text x="337.14" y="319.30" font-size="5.6" text-anchor="middle" fill="#222">−25</text>
<text x="354.88" y="319.30" font-size="5.6" text-anchor="middle" fill="#222">0</text>
<text x="372.61" y="319.30" font-size="5.6" text-anchor="middle" fill="#222">25</text>
<text x="390.35" y="319.30" font-size="5.6" text-anchor="middle" fill="#222">50</text>
<text x="354.88" y="328.90" font-size="5.4" text-anchor="middle" fill="#222">Reflectivity [dBZ]</text>
<text x="354.88" y="230.20" font-size="5.5" text-anchor="middle" fill="#222">pro radar</text>
<rect x="427.64" y="266.42" width="39.56" height="0.80" fill="#003" opacity="0.77"/>
<rect x="434.52" y="284.48" width="44.72" height="0.80" fill="#002" opacity="0.34"/>
<rect x="441.40" y="291.36" width="37.84" height="0.80" fill="#400" opacity="0.34"/>
<rect x="441.40" y="296.52" width="37.84" height="0.80" fill="#300" opacity="0.34"/>
<path d="M414.40 235.70v72.20M432.14 235.70v72.20M449.88 235.70v72.20M467.61 235.70v72.20M485.35 235.70v72.20M407.30 293.46h85.15M407.30 279.02h85.15M407.30 264.58h85.15M407.30 250.14h85.15" stroke="#000" stroke-opacity="0.07" stroke-width="0.6" fill="none"/>
<polyline points="441.40,235.00 440.54,241.88 442.26,250.31 440.54,257.36 441.40,264.76 443.12,272.84 440.54,279.38 443.98,286.60 444.84,293.82 443.12,298.98 455.16,302.94 468.06,306.04" fill="none" stroke="#000" stroke-width="2.20" stroke-linejoin="round"/>
<polyline points="438.99,306.21 452.06,306.21" fill="none" stroke="#000" stroke-width="2.20" stroke-linejoin="round"/>
<rect x="407.30" y="235.70" width="85.15" height="72.20" fill="none" stroke="#555" stroke-width="1"/>
<path d="M402.90 307.90h4.4M405.10 304.29h2.2M405.10 300.68h2.2M405.10 297.07h2.2M402.90 293.46h4.4M405.10 289.85h2.2M405.10 286.24h2.2M405.10 282.63h2.2M402.90 279.02h4.4M405.10 275.41h2.2M405.10 271.80h2.2M405.10 268.19h2.2M402.90 264.58h4.4M405.10 260.97h2.2M405.10 257.36h2.2M405.10 253.75h2.2M402.90 250.14h4.4M405.10 246.53h2.2M405.10 242.92h2.2M405.10 239.31h2.2M402.90 235.70h4.4M407.30 307.90v2.2M410.85 307.90v2.2M414.40 307.90v4.4M417.94 307.90v2.2M421.49 307.90v2.2M425.04 307.90v2.2M428.59 307.90v2.2M432.14 307.90v4.4M435.68 307.90v2.2M439.23 307.90v2.2M442.78 307.90v2.2M446.33 307.90v2.2M449.88 307.90v4.4M453.42 307.90v2.2M456.97 307.90v2.2M460.52 307.90v2.2M464.07 307.90v2.2M467.61 307.90v4.4M471.16 307.90v2.2M474.71 307.90v2.2M478.26 307.90v2.2M481.81 307.90v2.2M485.35 307.90v4.4M488.90 307.90v2.2M492.45 307.90v2.2" stroke="#555" stroke-width="0.9" fill="none"/>
<text x="414.40" y="319.30" font-size="5.6" text-anchor="middle" fill="#222">−50</text>
<text x="432.14" y="319.30" font-size="5.6" text-anchor="middle" fill="#222">−25</text>
<text x="449.88" y="319.30" font-size="5.6" text-anchor="middle" fill="#222">0</text>
<text x="467.61" y="319.30" font-size="5.6" text-anchor="middle" fill="#222">25</text>
<text x="485.35" y="319.30" font-size="5.6" text-anchor="middle" fill="#222">50</text>
<text x="449.88" y="328.90" font-size="5.4" text-anchor="middle" fill="#222">Reflectivity [dBZ]</text>
<text x="449.88" y="230.20" font-size="5.5" text-anchor="middle" fill="#222">ros radar</text>
<rect x="51.08" y="384.14" width="41.28" height="1.12" fill="#200" opacity="0.68"/>
<rect x="61.40" y="399.78" width="34.40" height="0.80" fill="#008" opacity="0.51"/>
<path d="M34.40 346.40v72.20M52.14 346.40v72.20M69.88 346.40v72.20M87.61 346.40v72.20M105.35 346.40v72.20M27.30 404.16h85.15M27.30 389.72h85.15M27.30 375.28h85.15M27.30 360.84h85.15" stroke="#000" stroke-opacity="0.07" stroke-width="0.6" fill="none"/>
<polyline points="60.02,346.00 59.68,360.96 59.68,375.41 58.82,384.70 57.96,390.03 61.40,404.48 65.18,411.70 68.28,414.80 58.82,415.83 73.44,416.18" fill="none" stroke="#000" stroke-width="1.40" stroke-linejoin="round"/>
<rect x="27.30" y="346.40" width="85.15" height="72.20" fill="none" stroke="#555" stroke-width="1"/>
<path d="M22.90 418.60h4.4M25.10 414.99h2.2M25.10 411.38h2.2M25.10 407.77h2.2M22.90 404.16h4.4M25.10 400.55h2.2M25.10 396.94h2.2M25.10 393.33h2.2M22.90 389.72h4.4M25.10 386.11h2.2M25.10 382.50h2.2M25.10 378.89h2.2M22.90 375.28h4.4M25.10 371.67h2.2M25.10 368.06h2.2M25.10 364.45h2.2M22.90 360.84h4.4M25.10 357.23h2.2M25.10 353.62h2.2M25.10 350.01h2.2M22.90 346.40h4.4M27.30 418.60v2.2M30.85 418.60v2.2M34.40 418.60v4.4M37.94 418.60v2.2M41.49 418.60v2.2M45.04 418.60v2.2M48.59 418.60v2.2M52.14 418.60v4.4M55.68 418.60v2.2M59.23 418.60v2.2M62.78 418.60v2.2M66.33 418.60v2.2M69.88 418.60v4.4M73.42 418.60v2.2M76.97 418.60v2.2M80.52 418.60v2.2M84.07 418.60v2.2M87.61 418.60v4.4M91.16 418.60v2.2M94.71 418.60v2.2M98.26 418.60v2.2M101.81 418.60v2.2M105.35 418.60v4.4M108.90 418.60v2.2M112.45 418.60v2.2" stroke="#555" stroke-width="0.9" fill="none"/>
<text x="34.40" y="430.00" font-size="5.6" text-anchor="middle" fill="#222">−50</text>
<text x="52.14" y="430.00" font-size="5.6" text-anchor="middle" fill="#222">−25</text>
<text x="69.88" y="430.00" font-size="5.6" text-anchor="middle" fill="#222">0</text>
<text x="87.61" y="430.00" font-size="5.6" text-anchor="middle" fill="#222">25</text>
<text x="105.35" y="430.00" font-size="5.6" text-anchor="middle" fill="#222">50</text>
<text x="69.88" y="439.60" font-size="5.4" text-anchor="middle" fill="#222">Reflectivity [dBZ]</text>
<text x="69.88" y="340.90" font-size="5.5" text-anchor="middle" fill="#222">tur radar</text>
<text x="21.20" y="420.60" font-size="5.6" text-anchor="end" fill="#222">0</text>
<text x="21.20" y="406.16" font-size="5.6" text-anchor="end" fill="#222">2</text>
<text x="21.20" y="391.72" font-size="5.6" text-anchor="end" fill="#222">4</text>
<text x="21.20" y="377.28" font-size="5.6" text-anchor="end" fill="#222">6</text>
<text x="21.20" y="362.84" font-size="5.6" text-anchor="end" fill="#222">8</text>
<text x="21.20" y="348.40" font-size="5.6" text-anchor="end" fill="#222">10</text>
<rect x="144.36" y="378.28" width="37.84" height="0.80" fill="#0af" opacity="0.42"/>
<path d="M129.40 346.40v72.20M147.14 346.40v72.20M164.88 346.40v72.20M182.61 346.40v72.20M200.35 346.40v72.20M122.30 404.16h85.15M122.30 389.72h85.15M122.30 375.28h85.15M122.30 360.84h85.15" stroke="#000" stroke-opacity="0.07" stroke-width="0.6" fill="none"/>
<polyline points="153.82,346.00 152.96,360.96 152.10,375.76 151.41,382.98 153.82,388.14 156.57,389.00 150.55,390.55 152.10,402.42 157.26,411.36 160.18,414.46 153.82,415.66 180.48,416.52" fill="none" stroke="#000" stroke-width="1.40" stroke-linejoin="round"/>
<rect x="122.30" y="346.40" width="85.15" height="72.20" fill="none" stroke="#555" stroke-width="1"/>
<path d="M117.90 418.60h4.4M120.10 414.99h2.2M120.10 411.38h2.2M120.10 407.77h2.2M117.90 404.16h4.4M120.10 400.55h2.2M120.10 396.94h2.2M120.10 393.33h2.2M117.90 389.72h4.4M120.10 386.11h2.2M120.10 382.50h2.2M120.10 378.89h2.2M117.90 375.28h4.4M120.10 371.67h2.2M120.10 368.06h2.2M120.10 364.45h2.2M117.90 360.84h4.4M120.10 357.23h2.2M120.10 353.62h2.2M120.10 350.01h2.2M117.90 346.40h4.4M122.30 418.60v2.2M125.85 418.60v2.2M129.40 418.60v4.4M132.94 418.60v2.2M136.49 418.60v2.2M140.04 418.60v2.2M143.59 418.60v2.2M147.14 418.60v4.4M150.68 418.60v2.2M154.23 418.60v2.2M157.78 418.60v2.2M161.33 418.60v2.2M164.88 418.60v4.4M168.42 418.60v2.2M171.97 418.60v2.2M175.52 418.60v2.2M179.07 418.60v2.2M182.61 418.60v4.4M186.16 418.60v2.2M189.71 418.60v2.2M193.26 418.60v2.2M196.81 418.60v2.2M200.35 418.60v4.4M203.90 418.60v2.2M207.45 418.60v2.2" stroke="#555" stroke-width="0.9" fill="none"/>
<text x="129.40" y="430.00" font-size="5.6" text-anchor="middle" fill="#222">−50</text>
<text x="147.14" y="430.00" font-size="5.6" text-anchor="middle" fill="#222">−25</text>
<text x="164.88" y="430.00" font-size="5.6" text-anchor="middle" fill="#222">0</text>
<text x="182.61" y="430.00" font-size="5.6" text-anchor="middle" fill="#222">25</text>
<text x="200.35" y="430.00" font-size="5.6" text-anchor="middle" fill="#222">50</text>
<text x="164.88" y="439.60" font-size="5.4" text-anchor="middle" fill="#222">Reflectivity [dBZ]</text>
<text x="164.88" y="340.90" font-size="5.5" text-anchor="middle" fill="#222">umd radar</text>
<text x="0" y="0" font-size="5.6" text-anchor="middle" fill="#222" transform="translate(9.0,216.7) rotate(-90)">Height above radar [km]</text>
<line x1="27.00" y1="454.60" x2="27.00" y2="459.10" stroke="#333" stroke-width="0.7"/>
<line x1="73.71" y1="454.60" x2="73.71" y2="456.80" stroke="#333" stroke-width="0.7"/>
<line x1="101.03" y1="454.60" x2="101.03" y2="456.80" stroke="#333" stroke-width="0.7"/>
<line x1="120.42" y1="454.60" x2="120.42" y2="456.80" stroke="#333" stroke-width="0.7"/>
<line x1="135.46" y1="454.60" x2="135.46" y2="456.80" stroke="#333" stroke-width="0.7"/>
<line x1="147.74" y1="454.60" x2="147.74" y2="456.80" stroke="#333" stroke-width="0.7"/>
<line x1="158.13" y1="454.60" x2="158.13" y2="456.80" stroke="#333" stroke-width="0.7"/>
<line x1="167.13" y1="454.60" x2="167.13" y2="456.80" stroke="#333" stroke-width="0.7"/>
<line x1="175.07" y1="454.60" x2="175.07" y2="456.80" stroke="#333" stroke-width="0.7"/>
<line x1="182.17" y1="454.60" x2="182.17" y2="459.10" stroke="#333" stroke-width="0.7"/>
<line x1="228.88" y1="454.60" x2="228.88" y2="456.80" stroke="#333" stroke-width="0.7"/>
<line x1="256.20" y1="454.60" x2="256.20" y2="456.80" stroke="#333" stroke-width="0.7"/>
<line x1="275.59" y1="454.60" x2="275.59" y2="456.80" stroke="#333" stroke-width="0.7"/>
<line x1="290.62" y1="454.60" x2="290.62" y2="456.80" stroke="#333" stroke-width="0.7"/>
<line x1="302.91" y1="454.60" x2="302.91" y2="456.80" stroke="#333" stroke-width="0.7"/>
<line x1="313.30" y1="454.60" x2="313.30" y2="456.80" stroke="#333" stroke-width="0.7"/>
<line x1="322.30" y1="454.60" x2="322.30" y2="456.80" stroke="#333" stroke-width="0.7"/>
<line x1="330.23" y1="454.60" x2="330.23" y2="456.80" stroke="#333" stroke-width="0.7"/>
<line x1="337.33" y1="454.60" x2="337.33" y2="459.10" stroke="#333" stroke-width="0.7"/>
<line x1="384.04" y1="454.60" x2="384.04" y2="456.80" stroke="#333" stroke-width="0.7"/>
<line x1="411.37" y1="454.60" x2="411.37" y2="456.80" stroke="#333" stroke-width="0.7"/>
<line x1="430.75" y1="454.60" x2="430.75" y2="456.80" stroke="#333" stroke-width="0.7"/>
<line x1="445.79" y1="454.60" x2="445.79" y2="456.80" stroke="#333" stroke-width="0.7"/>
<line x1="458.08" y1="454.60" x2="458.08" y2="456.80" stroke="#333" stroke-width="0.7"/>
<line x1="468.46" y1="454.60" x2="468.46" y2="456.80" stroke="#333" stroke-width="0.7"/>
<line x1="477.46" y1="454.60" x2="477.46" y2="456.80" stroke="#333" stroke-width="0.7"/>
<line x1="485.40" y1="454.60" x2="485.40" y2="456.80" stroke="#333" stroke-width="0.7"/>
<line x1="492.50" y1="454.60" x2="492.50" y2="459.10" stroke="#333" stroke-width="0.7"/>
<text x="27.00" y="465.70" font-size="5.2" text-anchor="middle" fill="#222">0.0001</text>
<text x="182.17" y="465.70" font-size="5.2" text-anchor="middle" fill="#222">0.001</text>
<text x="337.33" y="465.70" font-size="5.2" text-anchor="middle" fill="#222">0.01</text>
<text x="492.50" y="465.70" font-size="5.2" text-anchor="middle" fill="#222">0.1</text>
<text x="260" y="476.6" font-size="5.6" text-anchor="middle" fill="#222">Probability Density [dBZ<tspan font-size="3.8" dy="-1.8">−1</tspan><tspan dy="1.8">]</tspan></text>
<rect x="209.6" y="482.6" width="100" height="10" fill="#fff" stroke="#555" stroke-width="0.7"/>
<rect x="212" y="485" width="9" height="4.6" fill="#d6d6d6"/>
<text x="223" y="488.9" font-size="4.6" fill="#222">Blind range</text>
<line x1="253.6" y1="487.3" x2="262.5" y2="487.3" stroke="#222" stroke-width="1.1"/>
<text x="265" y="488.9" font-size="4.6" fill="#222">Reflectivity threshold</text>
</svg>
<div style="position:absolute;left:27.00px;top:446.60px;width:465.50px;height:8.00px;background:linear-gradient(90deg,#000080 0.0%,#0000ff 12.5%,#0080ff 25.0%,#00ffff 37.5%,#80ff80 50.0%,#ffff00 62.5%,#ff8000 75.0%,#ff0000 87.5%,#800000 100.0%);box-shadow:0 0 0 0.5px #333"></div>
</div></body></html>
